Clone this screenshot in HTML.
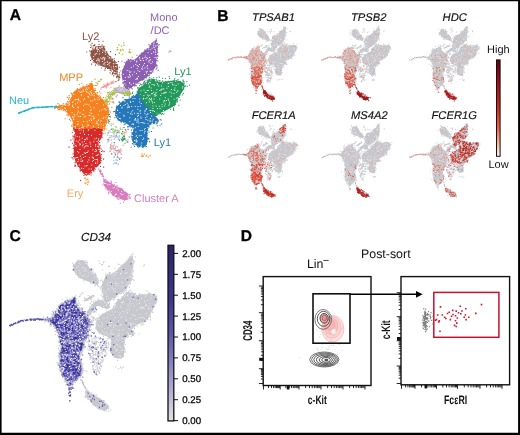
<!DOCTYPE html>
<html><head><meta charset="utf-8"><style>
html,body{margin:0;padding:0;background:#fff;}
body{width:520px;height:435px;overflow:hidden;}
svg{display:block;font-family:"Liberation Sans",sans-serif;will-change:transform;text-rendering:geometricPrecision;}
</style></head><body>
<svg width="520" height="435" viewBox="0 0 520 435">
<defs>
<linearGradient id="gR" x1="0" y1="0" x2="0" y2="1">
<stop offset="0" stop-color="#65000d"/><stop offset="0.25" stop-color="#a50f15"/><stop offset="0.5" stop-color="#d42a20"/><stop offset="0.7" stop-color="#f2603e"/><stop offset="0.86" stop-color="#fbb096"/><stop offset="1" stop-color="#fff5f0"/>
</linearGradient>
<linearGradient id="gP" x1="0" y1="0" x2="0" y2="1">
<stop offset="0" stop-color="#29236f"/><stop offset="0.3" stop-color="#3c358f"/><stop offset="0.5" stop-color="#5c55a9"/><stop offset="0.75" stop-color="#9c97ce"/><stop offset="1" stop-color="#e2e2e4"/>
</linearGradient>
</defs>
<rect x="0" y="0" width="520" height="435" fill="#fff"/>
<!-- Panel A -->
<g id="pA">
<path d="M91.4 50.2 C92 49.2 92.2 47.9 93.6 47.2 C94.9 46.5 97.8 46 99.6 46 C101.3 46 102.8 46.3 104 47.1 C105.1 48 105.2 49.4 106.2 51 C107.3 52.6 109 55.3 110.3 56.8 C111.7 58.3 113.2 58.7 114.4 60.1 C115.6 61.5 117 63.7 117.6 65.3 C118.3 66.9 118.3 68.7 118.2 69.7 C118 70.7 117.8 71.1 116.8 71.1 C115.8 71.1 113.9 70.3 112.2 69.7 C110.5 69.2 108.5 68.5 106.5 67.8 C104.5 67 101.8 66.2 100 65.4 C98.1 64.6 96.7 64.1 95.3 62.9 C93.8 61.7 92.3 59.9 91.4 58.3 C90.5 56.6 89.9 54.4 89.9 53.1 C89.9 51.7 90.8 51.2 91.4 50.2Z" fill="#8f5446"/>
<path d="M110.2 56.5h1.1v1.1h-1.1zM107 67.8h1.1v1.1h-1.1zM116.6 71.1h1.1v1.1h-1.1zM93.1 45.4h1.1v1.1h-1.1zM91.3 46.5h1.1v1.1h-1.1zM94.1 44.9h1.1v1.1h-1.1zM116 62.2h1.1v1.1h-1.1zM98.5 44h1.1v1.1h-1.1zM108.9 68.2h1.1v1.1h-1.1zM112.5 69.2h1.1v1.1h-1.1zM89.9 51h1.1v1.1h-1.1zM90 60h1.1v1.1h-1.1zM100.7 45.7h1.1v1.1h-1.1zM109.5 56h1.1v1.1h-1.1zM103.6 45.9h1.1v1.1h-1.1zM108.1 67.7h1.1v1.1h-1.1zM116.7 71.6h1.1v1.1h-1.1zM91.5 42.8h1.1v1.1h-1.1zM104.8 67.8h1.1v1.1h-1.1zM114.9 54.1h1.1v1.1h-1.1zM116.9 64.2h1.1v1.1h-1.1zM95 64.6h1.1v1.1h-1.1zM106.2 51.2h1.1v1.1h-1.1zM121.6 74.1h1.1v1.1h-1.1zM100.8 67.4h1.1v1.1h-1.1zM89.2 50.3h1.1v1.1h-1.1zM114.9 61.7h1.1v1.1h-1.1zM101.6 44.6h1.1v1.1h-1.1zM90.4 44.6h1.1v1.1h-1.1zM98.2 64.5h1.1v1.1h-1.1zM91.5 58.9h1.1v1.1h-1.1zM104.3 69.6h1.1v1.1h-1.1zM113.9 70.2h1.1v1.1h-1.1zM92.7 61.6h1.1v1.1h-1.1zM118.8 66.7h1.1v1.1h-1.1zM92.8 45h1.1v1.1h-1.1zM109.5 72.3h1.1v1.1h-1.1zM91 63.6h1.1v1.1h-1.1zM113.6 60h1.1v1.1h-1.1zM90 47h1.1v1.1h-1.1zM102.5 40.7h1.1v1.1h-1.1zM93.2 45.3h1.1v1.1h-1.1zM98.3 40.8h1.1v1.1h-1.1zM117.9 61h1.1v1.1h-1.1zM94.3 43.9h1.1v1.1h-1.1zM115.1 70.5h1.1v1.1h-1.1zM94.5 62.1h1.1v1.1h-1.1zM110 51.1h1.1v1.1h-1.1zM113.7 58.2h1.1v1.1h-1.1zM86.2 51.5h1.1v1.1h-1.1zM103 45.7h1.1v1.1h-1.1z" fill="#8f5446"/>
<path d="M102.8 63.7h1v1h-1zM105.1 53.7h1v1h-1zM104.1 59.5h1v1h-1zM105.2 51.8h1v1h-1zM103.8 59.6h1v1h-1zM110.9 68.4h1v1h-1zM101.9 60.9h1v1h-1zM103.7 58.4h1v1h-1zM109 56.9h1v1h-1zM104.5 57.5h1v1h-1zM116 63.1h1v1h-1zM114.2 69.2h1v1h-1zM96.7 59.6h1v1h-1zM116.1 66.6h1v1h-1zM93.3 48.6h1v1h-1zM101.9 47.3h1v1h-1zM96.2 47.3h1v1h-1zM108.3 65.2h1v1h-1zM109.6 62.1h1v1h-1zM101.6 58.5h1v1h-1zM99 50.4h1v1h-1zM98.4 63.7h1v1h-1zM98.8 61.2h1v1h-1zM96.9 46.5h1v1h-1zM93.1 56.1h1v1h-1zM115.2 66.1h1v1h-1zM96.7 49.3h1v1h-1zM101.4 47.3h1v1h-1zM99 59.4h1v1h-1zM93.1 58.8h1v1h-1zM96.1 48.3h1v1h-1zM94 46.8h1v1h-1zM95.1 53.4h1v1h-1zM97.6 58.1h1v1h-1zM94.4 54.2h1v1h-1zM89.9 51.8h1v1h-1zM105 50.3h1v1h-1zM101.6 58h1v1h-1zM103.7 62.8h1v1h-1zM112.9 63.3h1v1h-1zM107.4 55.7h1v1h-1zM99.2 46.9h1v1h-1zM93.1 47.3h1v1h-1zM94 47.6h1v1h-1zM113.2 67.4h1v1h-1zM96.3 52.9h1v1h-1zM102.4 49.5h1v1h-1zM102 52.1h1v1h-1zM116.6 70h1v1h-1zM104.9 51.7h1v1h-1zM100.2 57.4h1v1h-1zM103.6 50.6h1v1h-1zM96.9 47.8h1v1h-1zM100.7 46.6h1v1h-1zM90 53.2h1v1h-1zM96 60.2h1v1h-1zM104.4 64.4h1v1h-1zM108 63.5h1v1h-1zM113 67.9h1v1h-1zM107.1 64h1v1h-1zM104.2 58.2h1v1h-1zM113 65.7h1v1h-1zM112.8 60.2h1v1h-1zM114.6 62.7h1v1h-1zM99.6 48.1h1v1h-1zM113 59.5h1v1h-1zM107.1 61.2h1v1h-1zM108.6 57.8h1v1h-1zM110.6 58.2h1v1h-1zM104.5 62.1h1v1h-1zM96.5 47.4h1v1h-1zM100.2 57.5h1v1h-1zM108.7 64.8h1v1h-1zM106.8 61.7h1v1h-1zM91.6 49.2h1v1h-1zM98 59.8h1v1h-1zM97 62.4h1v1h-1zM109 62.5h1v1h-1zM97.6 58.5h1v1h-1zM102.5 57.2h1v1h-1zM97 50.8h1v1h-1zM103.3 56.8h1v1h-1zM97.9 49h1v1h-1zM99.1 53.5h1v1h-1zM110.6 66.6h1v1h-1z" fill="#fff" fill-opacity="0.9"/>
<path d="M155.8 40.8 C156.6 40.8 156.9 41.7 157.2 43.5 C157.5 45.2 157.7 48.9 157.6 51.3 C157.5 53.6 157 55.4 156.7 57.8 C156.4 60.2 156.4 63.9 155.9 65.8 C155.4 67.8 154.7 68.2 153.7 69.6 C152.6 70.9 151 72.4 149.6 73.9 C148.3 75.4 147.3 77.4 145.4 78.8 C143.6 80.2 140.5 81 138.5 82.2 C136.5 83.5 135 85.1 133.4 86.3 C131.8 87.4 130.1 88.7 128.8 89.1 C127.5 89.5 126.5 90 125.5 88.8 C124.6 87.6 123.5 84.5 122.9 81.8 C122.2 79.1 121.6 75.3 121.8 72.7 C122 70.2 123.1 68.6 124.1 66.5 C125.1 64.4 126.2 61.4 127.9 60.3 C129.6 59.1 132.1 60.6 134.3 59.5 C136.5 58.4 139.1 55.3 141.1 53.7 C143 52 144.5 50.6 145.9 49.7 C147.2 48.7 148.1 49.1 149.2 48 C150.3 46.9 151.4 44.3 152.5 43.1 C153.6 41.9 155 40.7 155.8 40.8Z" fill="#8d5fb3"/>
<path d="M157 55h1.1v1.1h-1.1zM121.3 60.7h1.1v1.1h-1.1zM149.1 76.9h1.1v1.1h-1.1zM136.8 82.3h1.1v1.1h-1.1zM118.6 78.5h1.1v1.1h-1.1zM131.7 88.3h1.1v1.1h-1.1zM158.5 44.1h1.1v1.1h-1.1zM138.9 54.8h1.1v1.1h-1.1zM149.7 46.4h1.1v1.1h-1.1zM149.8 73.2h1.1v1.1h-1.1zM156.4 64.8h1.1v1.1h-1.1zM150.9 43.3h1.1v1.1h-1.1zM136.4 54.7h1.1v1.1h-1.1zM148.4 44.1h1.1v1.1h-1.1zM122.4 82.7h1.1v1.1h-1.1zM156.9 45.9h1.1v1.1h-1.1zM130.7 87.4h1.1v1.1h-1.1zM120.3 70.5h1.1v1.1h-1.1zM158.2 44.7h1.1v1.1h-1.1zM156.4 56.6h1.1v1.1h-1.1zM142.1 79.5h1.1v1.1h-1.1zM127.9 59.1h1.1v1.1h-1.1zM150.8 73h1.1v1.1h-1.1zM148.3 78.5h1.1v1.1h-1.1zM136.3 82.5h1.1v1.1h-1.1zM157.3 60.4h1.1v1.1h-1.1zM146.7 48.1h1.1v1.1h-1.1zM155.6 68.7h1.1v1.1h-1.1zM155.1 40.4h1.1v1.1h-1.1zM156.8 57.9h1.1v1.1h-1.1zM156.7 51.5h1.1v1.1h-1.1zM157.1 51.9h1.1v1.1h-1.1zM150.5 72.5h1.1v1.1h-1.1zM144.4 49.3h1.1v1.1h-1.1zM134.7 85.1h1.1v1.1h-1.1zM123.5 85.7h1.1v1.1h-1.1zM143.1 82.3h1.1v1.1h-1.1zM148.4 74h1.1v1.1h-1.1zM157.5 55.7h1.1v1.1h-1.1zM118.9 72.2h1.1v1.1h-1.1zM156.2 67.8h1.1v1.1h-1.1zM152.3 71.3h1.1v1.1h-1.1zM130.7 86.8h1.1v1.1h-1.1zM140.6 53h1.1v1.1h-1.1zM156.2 42.5h1.1v1.1h-1.1zM124.2 61.7h1.1v1.1h-1.1zM128.3 88.6h1.1v1.1h-1.1zM154.8 40.3h1.1v1.1h-1.1zM149.3 46h1.1v1.1h-1.1zM141.4 52.4h1.1v1.1h-1.1zM151.3 71.4h1.1v1.1h-1.1zM156.2 59.8h1.1v1.1h-1.1zM123.8 65.5h1.1v1.1h-1.1zM126.1 60.8h1.1v1.1h-1.1zM131.3 59.5h1.1v1.1h-1.1zM122.3 81.9h1.1v1.1h-1.1zM131.6 56.7h1.1v1.1h-1.1zM148.1 48h1.1v1.1h-1.1zM147.4 79.5h1.1v1.1h-1.1zM151.3 71.2h1.1v1.1h-1.1zM125 63.6h1.1v1.1h-1.1zM156.9 49.4h1.1v1.1h-1.1zM117.6 79.9h1.1v1.1h-1.1zM157.6 69.8h1.1v1.1h-1.1zM156.1 41.5h1.1v1.1h-1.1zM128.2 90.9h1.1v1.1h-1.1zM122.4 69.4h1.1v1.1h-1.1zM127.9 89.2h1.1v1.1h-1.1zM151.2 70.7h1.1v1.1h-1.1zM124.7 62.2h1.1v1.1h-1.1zM156.8 42.9h1.1v1.1h-1.1zM123.8 66.2h1.1v1.1h-1.1zM150.6 71.3h1.1v1.1h-1.1zM149.2 46.4h1.1v1.1h-1.1zM156.8 44.2h1.1v1.1h-1.1zM133.9 85.3h1.1v1.1h-1.1zM155.3 65.8h1.1v1.1h-1.1zM127.5 59.5h1.1v1.1h-1.1zM156.6 66.5h1.1v1.1h-1.1zM145.7 77.5h1.1v1.1h-1.1zM153 69.4h1.1v1.1h-1.1zM130.1 59h1.1v1.1h-1.1zM150.8 44.8h1.1v1.1h-1.1zM155.9 64.3h1.1v1.1h-1.1zM134.5 84.6h1.1v1.1h-1.1zM151.9 42.6h1.1v1.1h-1.1zM135.9 85.2h1.1v1.1h-1.1zM153.1 41.8h1.1v1.1h-1.1zM157.1 47h1.1v1.1h-1.1zM136.7 82.6h1.1v1.1h-1.1zM144.4 50h1.1v1.1h-1.1zM155.8 38.4h1.1v1.1h-1.1zM144.5 81.8h1.1v1.1h-1.1zM149.6 45.1h1.1v1.1h-1.1zM156.4 44.4h1.1v1.1h-1.1zM138.4 82.6h1.1v1.1h-1.1zM143.8 80.8h1.1v1.1h-1.1zM155.9 39.8h1.1v1.1h-1.1z" fill="#8d5fb3"/>
<path d="M141.2 68.3h1v1h-1zM152.9 45.3h1v1h-1zM135.4 78.9h1v1h-1zM142 57.7h1v1h-1zM148.7 61.7h1v1h-1zM127.6 76.2h1v1h-1zM123 79.9h1v1h-1zM130.4 71.2h1v1h-1zM145.1 55.4h1v1h-1zM126.7 70.1h1v1h-1zM136.8 65.1h1v1h-1zM153.4 46.7h1v1h-1zM129.4 71.9h1v1h-1zM142.2 68.8h1v1h-1zM128.6 70.5h1v1h-1zM154.8 52.1h1v1h-1zM149.3 59.7h1v1h-1zM144.4 67.5h1v1h-1zM133.8 71.5h1v1h-1zM147.6 52.3h1v1h-1zM153.7 42.4h1v1h-1zM140.3 59.9h1v1h-1zM143.1 64.8h1v1h-1zM138 76.1h1v1h-1zM148.1 73.9h1v1h-1zM130.8 67.1h1v1h-1zM136.9 78.4h1v1h-1zM129.1 82.8h1v1h-1zM129.8 76.2h1v1h-1zM133 82.8h1v1h-1zM146.1 72.4h1v1h-1zM152 61.4h1v1h-1zM147.3 67.9h1v1h-1zM153.9 47.3h1v1h-1zM154.6 57h1v1h-1zM122.8 73.8h1v1h-1zM144 74h1v1h-1zM142.4 57.9h1v1h-1zM153.2 43.5h1v1h-1zM155.1 45.5h1v1h-1zM122.5 81.3h1v1h-1zM150.4 70.9h1v1h-1zM150.8 70.8h1v1h-1zM124.8 76.9h1v1h-1zM146.9 58.1h1v1h-1zM136.1 61.4h1v1h-1zM149 57.1h1v1h-1zM146.5 66.3h1v1h-1zM129.1 82h1v1h-1zM124.6 79.9h1v1h-1zM128.5 77.1h1v1h-1zM138.9 64h1v1h-1zM149.8 49.2h1v1h-1zM139 57.1h1v1h-1zM151.1 52.9h1v1h-1zM155.1 54h1v1h-1zM129 74.1h1v1h-1zM149.5 70.6h1v1h-1zM134 59.7h1v1h-1zM135.4 83.3h1v1h-1zM124.4 83.2h1v1h-1zM130.7 83.9h1v1h-1zM139.3 58.6h1v1h-1zM153 51.6h1v1h-1zM137.8 66h1v1h-1zM144.4 57.1h1v1h-1zM147.9 48.5h1v1h-1zM137 77.7h1v1h-1zM132.1 74.3h1v1h-1zM151.5 47.8h1v1h-1zM133 65.5h1v1h-1zM128.1 87.4h1v1h-1zM155.8 45.2h1v1h-1zM139.2 70.9h1v1h-1zM142.9 59.9h1v1h-1zM136.7 68h1v1h-1zM148.1 60.6h1v1h-1zM129.5 75.2h1v1h-1zM145.6 71.3h1v1h-1zM136.3 78.1h1v1h-1zM146.8 70.7h1v1h-1zM130.3 60.8h1v1h-1zM137.6 70.3h1v1h-1zM136 72.9h1v1h-1zM154.6 49.1h1v1h-1zM144.7 77.9h1v1h-1zM135.2 64h1v1h-1zM156.2 42.1h1v1h-1zM141.9 66.4h1v1h-1zM147 65h1v1h-1zM140 60.1h1v1h-1zM155.2 50.4h1v1h-1zM145.8 59.3h1v1h-1zM136.3 60.6h1v1h-1zM146.3 57.3h1v1h-1zM150 59.2h1v1h-1zM144 63h1v1h-1zM155.8 57.4h1v1h-1zM150.5 62.9h1v1h-1z" fill="#fff" fill-opacity="0.9"/>
<path d="M149.4 78.9 C150.5 78.6 151.9 78.5 153.7 79 C155.6 79.4 158.1 81.3 160.7 81.7 C163.2 82 166.4 81.3 169.2 81.1 C171.9 80.9 175.1 80.2 177.3 80.4 C179.5 80.6 181.1 81.3 182.3 82.2 C183.6 83.1 184.5 84.6 184.7 85.8 C184.9 87 184.4 87.7 183.5 89.4 C182.6 91.2 180.7 93.8 179.3 96.3 C177.9 98.8 176.9 102.4 175.3 104.4 C173.8 106.4 171.8 107.2 170 108.3 C168.2 109.4 166.4 110.2 164.6 111.1 C162.8 112 160.7 112.9 159 113.8 C157.2 114.7 156 117.3 154.1 116.6 C152.3 116 150.1 112 148.1 109.9 C146.2 107.8 143.9 106.4 142.2 104 C140.5 101.5 138.5 97.8 137.9 95.3 C137.2 92.8 137.4 90.6 138.3 88.8 C139.2 87.1 141.9 86.3 143.5 85 C145 83.6 146.6 81.8 147.6 80.8 C148.6 79.8 148.4 79.2 149.4 78.9Z" fill="#22995a"/>
<path d="M189 84.7h1.1v1.1h-1.1zM165.1 80.9h1.1v1.1h-1.1zM182.8 92.9h1.1v1.1h-1.1zM183.4 82.6h1.1v1.1h-1.1zM182.8 81.2h1.1v1.1h-1.1zM174.2 78.2h1.1v1.1h-1.1zM145.4 107.5h1.1v1.1h-1.1zM182.6 79.6h1.1v1.1h-1.1zM173 108.6h1.1v1.1h-1.1zM152.7 116.8h1.1v1.1h-1.1zM182.1 94.4h1.1v1.1h-1.1zM136.8 92.5h1.1v1.1h-1.1zM135.6 96.3h1.1v1.1h-1.1zM136.8 102.5h1.1v1.1h-1.1zM136.2 95.4h1.1v1.1h-1.1zM151 78.5h1.1v1.1h-1.1zM143.6 82.8h1.1v1.1h-1.1zM182.5 80.5h1.1v1.1h-1.1zM169 77.9h1.1v1.1h-1.1zM140.4 102h1.1v1.1h-1.1zM168.2 80.7h1.1v1.1h-1.1zM139.7 100.2h1.1v1.1h-1.1zM137.1 87.4h1.1v1.1h-1.1zM132.7 104.3h1.1v1.1h-1.1zM137.5 87.1h1.1v1.1h-1.1zM136.1 94.6h1.1v1.1h-1.1zM148.1 110.3h1.1v1.1h-1.1zM141.5 107.1h1.1v1.1h-1.1zM137.8 88.7h1.1v1.1h-1.1zM186.3 81.1h1.1v1.1h-1.1zM168.6 76.1h1.1v1.1h-1.1zM156.1 79.3h1.1v1.1h-1.1zM167.3 81.1h1.1v1.1h-1.1zM170 108.7h1.1v1.1h-1.1zM137.8 91.3h1.1v1.1h-1.1zM137.8 94.1h1.1v1.1h-1.1zM161.9 113h1.1v1.1h-1.1zM135.9 94.4h1.1v1.1h-1.1zM176.7 100.9h1.1v1.1h-1.1zM158.1 80.2h1.1v1.1h-1.1zM153.5 116.3h1.1v1.1h-1.1zM155.3 117.1h1.1v1.1h-1.1zM141.2 84.5h1.1v1.1h-1.1zM147.1 80.5h1.1v1.1h-1.1zM173.2 109.8h1.1v1.1h-1.1zM153.1 77.2h1.1v1.1h-1.1zM154.1 115.5h1.1v1.1h-1.1zM136.6 91.3h1.1v1.1h-1.1zM171.9 105.6h1.1v1.1h-1.1zM139.6 103h1.1v1.1h-1.1zM178.3 104.7h1.1v1.1h-1.1zM163.3 113.6h1.1v1.1h-1.1zM184.2 86h1.1v1.1h-1.1zM179.7 99.5h1.1v1.1h-1.1zM183.5 83.2h1.1v1.1h-1.1zM145.4 79.7h1.1v1.1h-1.1zM140.4 100.1h1.1v1.1h-1.1zM183.2 88.6h1.1v1.1h-1.1zM158.5 113.3h1.1v1.1h-1.1zM138.1 101.7h1.1v1.1h-1.1zM144.9 108.1h1.1v1.1h-1.1zM164.1 110.2h1.1v1.1h-1.1zM186.7 85.7h1.1v1.1h-1.1zM173.7 79.4h1.1v1.1h-1.1zM156.2 114.9h1.1v1.1h-1.1zM132 103.2h1.1v1.1h-1.1zM156.2 114.5h1.1v1.1h-1.1zM153.6 117.6h1.1v1.1h-1.1zM158 113.2h1.1v1.1h-1.1zM175.9 80.2h1.1v1.1h-1.1zM173.9 105.2h1.1v1.1h-1.1zM161.9 77.7h1.1v1.1h-1.1zM153.5 78.9h1.1v1.1h-1.1zM138.9 85.2h1.1v1.1h-1.1zM179.3 94.6h1.1v1.1h-1.1zM139.9 100.9h1.1v1.1h-1.1zM183.5 81.2h1.1v1.1h-1.1zM175.9 101.1h1.1v1.1h-1.1zM176.3 101.8h1.1v1.1h-1.1zM140.6 83.9h1.1v1.1h-1.1zM161.2 114.2h1.1v1.1h-1.1zM164.9 78h1.1v1.1h-1.1zM159.9 112.8h1.1v1.1h-1.1zM174.8 103.9h1.1v1.1h-1.1zM178.8 97h1.1v1.1h-1.1zM142.6 83.6h1.1v1.1h-1.1zM173 107.6h1.1v1.1h-1.1zM162 80.6h1.1v1.1h-1.1zM177.4 79h1.1v1.1h-1.1zM148.6 74.8h1.1v1.1h-1.1zM148.6 111.3h1.1v1.1h-1.1zM141.8 78.3h1.1v1.1h-1.1zM137.5 90.8h1.1v1.1h-1.1zM151 78.8h1.1v1.1h-1.1zM179.7 81.1h1.1v1.1h-1.1zM173.8 79.6h1.1v1.1h-1.1zM141.5 102.3h1.1v1.1h-1.1zM137.4 92.4h1.1v1.1h-1.1zM159.3 79.9h1.1v1.1h-1.1zM146.2 108.9h1.1v1.1h-1.1zM139.9 83.6h1.1v1.1h-1.1zM143.9 80.9h1.1v1.1h-1.1zM148.1 75.1h1.1v1.1h-1.1zM151.1 116.4h1.1v1.1h-1.1zM158.7 76.6h1.1v1.1h-1.1zM144.7 106.6h1.1v1.1h-1.1zM132.1 91.6h1.1v1.1h-1.1zM156.2 77.2h1.1v1.1h-1.1zM160.6 113.5h1.1v1.1h-1.1zM149.5 111.9h1.1v1.1h-1.1zM139.3 99.2h1.1v1.1h-1.1zM152.3 114.9h1.1v1.1h-1.1zM176.7 100.6h1.1v1.1h-1.1zM136.9 102.4h1.1v1.1h-1.1zM138 101.7h1.1v1.1h-1.1zM185 85.5h1.1v1.1h-1.1z" fill="#22995a"/>
<path d="M150.2 98.9h1v1h-1zM149.1 98h1v1h-1zM150.9 90h1v1h-1zM167.7 83h1v1h-1zM161.5 88.6h1v1h-1zM159.2 98.6h1v1h-1zM143.5 89.5h1v1h-1zM156.4 89.3h1v1h-1zM148.8 81.8h1v1h-1zM163 110.1h1v1h-1zM166 99.9h1v1h-1zM167.8 86h1v1h-1zM170.7 95.8h1v1h-1zM163.1 101.5h1v1h-1zM159.4 90.1h1v1h-1zM148.7 86.8h1v1h-1zM161.4 92.9h1v1h-1zM153.9 110.9h1v1h-1zM148.6 99.4h1v1h-1zM160.4 89.2h1v1h-1zM173.5 84.4h1v1h-1zM158 80.8h1v1h-1zM155.6 95h1v1h-1zM171.8 82.6h1v1h-1zM172 84.3h1v1h-1zM153.2 91.7h1v1h-1zM169 101.7h1v1h-1zM161.6 106.3h1v1h-1zM159.6 108h1v1h-1zM164.8 97.2h1v1h-1zM157 108h1v1h-1zM155.2 95.5h1v1h-1zM158.8 105.7h1v1h-1zM151.1 93.2h1v1h-1zM163.4 92.9h1v1h-1zM152.5 108.1h1v1h-1zM177.2 97.3h1v1h-1zM158.2 85.4h1v1h-1zM151.6 83.9h1v1h-1zM164.3 100.4h1v1h-1zM152.6 110.2h1v1h-1zM147 94.5h1v1h-1zM173.6 98.7h1v1h-1zM161.6 104.3h1v1h-1zM155.6 91.9h1v1h-1zM165.2 91.7h1v1h-1zM162 82.2h1v1h-1zM154.9 93.5h1v1h-1zM163.7 100.1h1v1h-1zM160.2 95h1v1h-1zM153.5 98.4h1v1h-1zM175.6 84.9h1v1h-1zM176.1 97.8h1v1h-1zM157.1 84.3h1v1h-1zM151 97.7h1v1h-1zM161 85.5h1v1h-1zM145.9 102.2h1v1h-1zM165.6 91.8h1v1h-1zM139.4 93.9h1v1h-1zM174.3 90h1v1h-1zM151.7 110.2h1v1h-1zM164.8 103.6h1v1h-1zM146.6 97.2h1v1h-1zM163.3 88.5h1v1h-1zM167.7 98.5h1v1h-1zM156.6 83h1v1h-1zM145.4 98.1h1v1h-1zM175.9 101.5h1v1h-1zM175.2 80.8h1v1h-1zM152.5 105.4h1v1h-1zM154 84.8h1v1h-1zM149.9 82.2h1v1h-1zM153.7 95.4h1v1h-1zM155.5 80.5h1v1h-1zM166.4 87.8h1v1h-1zM177.4 90.3h1v1h-1zM151.6 101.1h1v1h-1zM181.9 87.6h1v1h-1zM155.6 105.5h1v1h-1zM147.8 90.1h1v1h-1zM174.5 87.6h1v1h-1zM145.5 91.9h1v1h-1zM151 99.6h1v1h-1zM142.8 98.6h1v1h-1zM155.4 93.6h1v1h-1zM176.1 91.7h1v1h-1zM148.9 85.6h1v1h-1zM150.7 87.4h1v1h-1zM153.4 84.3h1v1h-1zM170.4 81.9h1v1h-1zM150 109.9h1v1h-1zM143.4 95.1h1v1h-1zM144.8 91.7h1v1h-1zM171.2 92.6h1v1h-1zM182.3 86.3h1v1h-1zM148 95.5h1v1h-1zM143.5 105.1h1v1h-1zM164.9 92.3h1v1h-1zM148.9 101.4h1v1h-1zM143.1 97.8h1v1h-1zM162.8 88.6h1v1h-1zM173.5 92.9h1v1h-1zM168.2 99.8h1v1h-1zM151.9 93.1h1v1h-1zM177.2 90.5h1v1h-1zM168.4 82.5h1v1h-1zM163.7 92.1h1v1h-1zM160.8 89.6h1v1h-1zM140.5 90.2h1v1h-1zM148 83.2h1v1h-1zM171 89.1h1v1h-1zM156.3 112.7h1v1h-1zM177.7 83.4h1v1h-1zM150.3 79.6h1v1h-1zM169.2 103.4h1v1h-1zM153.8 94h1v1h-1zM168.3 104.8h1v1h-1zM149 110.3h1v1h-1zM153.9 102.1h1v1h-1zM145.9 82.8h1v1h-1zM146.7 89.9h1v1h-1zM155.2 79.9h1v1h-1zM152 102.5h1v1h-1zM164.1 105.4h1v1h-1zM149.3 94.8h1v1h-1zM169.4 91.6h1v1h-1zM173.8 89.2h1v1h-1z" fill="#fff" fill-opacity="0.9"/>
<path d="M116.1 107.8 C116.9 105.8 118.5 104.6 119.9 103.4 C121.3 102.1 122.8 101.2 124.5 100.3 C126.2 99.4 128.4 98.7 130.2 97.9 C131.9 97.1 133.6 96.2 135 95.5 C136.3 94.8 137.3 93.1 138.3 93.8 C139.3 94.6 139.5 97.6 141 100 C142.6 102.4 145.7 105.6 147.6 108.1 C149.5 110.5 150.6 112.6 152.4 114.6 C154.3 116.6 157.8 118.4 158.6 119.8 C159.4 121.2 158.6 122.2 157.4 122.9 C156.1 123.5 152.6 122.2 151 123.7 C149.3 125.1 148 128.9 147.4 131.5 C146.8 134.2 147.6 137.3 147.4 139.6 C147.2 141.9 147.2 144.3 146.1 145.6 C144.9 146.8 142.2 147.2 140.3 146.9 C138.4 146.6 135.9 145.4 134.4 143.9 C133 142.4 131.7 140.3 131.5 138 C131.3 135.6 133.7 132.1 133.1 129.8 C132.5 127.6 130.1 125.9 127.9 124.5 C125.7 123 121.9 122.8 119.8 121.3 C117.8 119.8 116 117.6 115.4 115.4 C114.7 113.1 115.4 109.8 116.1 107.8Z" fill="#2677b9"/>
<path d="M119.8 102.5h1.1v1.1h-1.1zM145.6 143.7h1.1v1.1h-1.1zM143 101.9h1.1v1.1h-1.1zM131.5 132.8h1.1v1.1h-1.1zM117.4 119.4h1.1v1.1h-1.1zM125.6 99h1.1v1.1h-1.1zM159.7 119.2h1.1v1.1h-1.1zM128.8 125.6h1.1v1.1h-1.1zM124.2 94.9h1.1v1.1h-1.1zM156.8 122.6h1.1v1.1h-1.1zM133.9 146h1.1v1.1h-1.1zM127.5 126h1.1v1.1h-1.1zM152.6 123.2h1.1v1.1h-1.1zM133.3 142.5h1.1v1.1h-1.1zM148.5 131.6h1.1v1.1h-1.1zM131.3 96.3h1.1v1.1h-1.1zM120.3 102.5h1.1v1.1h-1.1zM130.8 129.6h1.1v1.1h-1.1zM146.6 134.6h1.1v1.1h-1.1zM142.3 146.8h1.1v1.1h-1.1zM142.9 103.3h1.1v1.1h-1.1zM154.8 115.1h1.1v1.1h-1.1zM139.5 96.7h1.1v1.1h-1.1zM132 92.9h1.1v1.1h-1.1zM137 145.7h1.1v1.1h-1.1zM142.4 100.6h1.1v1.1h-1.1zM153.2 122.9h1.1v1.1h-1.1zM153.1 114.3h1.1v1.1h-1.1zM120.4 121.4h1.1v1.1h-1.1zM147.5 137.8h1.1v1.1h-1.1zM130.4 126.7h1.1v1.1h-1.1zM131.5 134.2h1.1v1.1h-1.1zM137.8 146.6h1.1v1.1h-1.1zM156.8 125.2h1.1v1.1h-1.1zM127.4 126.7h1.1v1.1h-1.1zM147.9 106.5h1.1v1.1h-1.1zM139.8 97.5h1.1v1.1h-1.1zM148.7 103.3h1.1v1.1h-1.1zM133.4 144.3h1.1v1.1h-1.1zM128.6 96.4h1.1v1.1h-1.1zM150.1 124.1h1.1v1.1h-1.1zM137 93.5h1.1v1.1h-1.1zM116.1 105.6h1.1v1.1h-1.1zM130.8 135.7h1.1v1.1h-1.1zM131.9 143.1h1.1v1.1h-1.1zM147.1 138.3h1.1v1.1h-1.1zM148.4 126.6h1.1v1.1h-1.1zM138.7 93.9h1.1v1.1h-1.1zM116.4 106.2h1.1v1.1h-1.1zM140.5 146h1.1v1.1h-1.1zM109.8 116.1h1.1v1.1h-1.1zM143.9 102.2h1.1v1.1h-1.1zM132.8 95h1.1v1.1h-1.1zM131.5 132.1h1.1v1.1h-1.1zM147.9 108h1.1v1.1h-1.1zM141.6 146.4h1.1v1.1h-1.1zM114.3 117.2h1.1v1.1h-1.1zM132 132.3h1.1v1.1h-1.1zM131.3 137.1h1.1v1.1h-1.1zM138 93.8h1.1v1.1h-1.1zM150.8 110.9h1.1v1.1h-1.1zM148.4 138.7h1.1v1.1h-1.1zM127.3 126.3h1.1v1.1h-1.1zM118.5 101.3h1.1v1.1h-1.1zM143 146.1h1.1v1.1h-1.1zM133.1 142.3h1.1v1.1h-1.1zM115.1 115h1.1v1.1h-1.1zM150.9 131h1.1v1.1h-1.1zM147.8 109h1.1v1.1h-1.1zM124.1 98.9h1.1v1.1h-1.1zM136.2 93.9h1.1v1.1h-1.1zM112.9 111.2h1.1v1.1h-1.1zM118.8 102.1h1.1v1.1h-1.1zM138.6 94.4h1.1v1.1h-1.1zM115.9 107.1h1.1v1.1h-1.1zM123.7 124.2h1.1v1.1h-1.1zM161.1 123.3h1.1v1.1h-1.1zM138.8 146.2h1.1v1.1h-1.1zM156.2 122.4h1.1v1.1h-1.1zM155.6 123.5h1.1v1.1h-1.1zM129.3 125.5h1.1v1.1h-1.1zM135.8 94h1.1v1.1h-1.1zM153.9 122.7h1.1v1.1h-1.1zM156.1 113.2h1.1v1.1h-1.1zM125.5 99.5h1.1v1.1h-1.1zM150.2 123.3h1.1v1.1h-1.1zM118.8 119.8h1.1v1.1h-1.1zM113.9 111h1.1v1.1h-1.1zM144.5 146.2h1.1v1.1h-1.1zM122.3 100.8h1.1v1.1h-1.1zM145.9 145.9h1.1v1.1h-1.1zM146.8 138.6h1.1v1.1h-1.1zM152.6 127.5h1.1v1.1h-1.1zM147.7 108.4h1.1v1.1h-1.1zM120.7 121.4h1.1v1.1h-1.1zM138.8 93h1.1v1.1h-1.1zM159.5 124.7h1.1v1.1h-1.1zM138.9 146h1.1v1.1h-1.1zM146.8 140.7h1.1v1.1h-1.1zM146.8 132.8h1.1v1.1h-1.1zM160.7 119.4h1.1v1.1h-1.1zM138 92.9h1.1v1.1h-1.1zM148.1 138.2h1.1v1.1h-1.1zM124.6 123.3h1.1v1.1h-1.1zM126.9 99h1.1v1.1h-1.1zM143.1 102.5h1.1v1.1h-1.1zM149.1 141.1h1.1v1.1h-1.1zM147 138.7h1.1v1.1h-1.1zM147.3 129.8h1.1v1.1h-1.1zM124.8 99.3h1.1v1.1h-1.1zM122.4 97.1h1.1v1.1h-1.1zM124.7 123h1.1v1.1h-1.1zM132.6 140.3h1.1v1.1h-1.1zM128.9 96.5h1.1v1.1h-1.1zM130.6 146.7h1.1v1.1h-1.1zM128.8 125h1.1v1.1h-1.1zM136.8 93.2h1.1v1.1h-1.1zM147 137.6h1.1v1.1h-1.1zM132.3 96.1h1.1v1.1h-1.1z" fill="#2677b9"/>
<path d="M126.7 102.8h1v1h-1zM132.5 122.9h1v1h-1zM144.6 128h1v1h-1zM138.4 122.5h1v1h-1zM132.2 110.2h1v1h-1zM131.6 113.8h1v1h-1zM132.6 100.9h1v1h-1zM141.2 142.5h1v1h-1zM131.2 106.1h1v1h-1zM144.9 110.6h1v1h-1zM142.8 122.5h1v1h-1zM151.8 120.4h1v1h-1zM140.5 146.1h1v1h-1zM147 113.5h1v1h-1zM145.7 114.2h1v1h-1zM137.6 125.9h1v1h-1zM144.2 110.4h1v1h-1zM142.1 122.2h1v1h-1zM135.4 131.6h1v1h-1zM137.5 118.6h1v1h-1zM124.4 100.9h1v1h-1zM155 121.4h1v1h-1zM137.5 121.3h1v1h-1zM134.8 127.3h1v1h-1zM131.4 137.5h1v1h-1zM121.5 106.7h1v1h-1zM119.3 112.3h1v1h-1zM149.6 121h1v1h-1zM134.5 98h1v1h-1zM144.9 117.2h1v1h-1zM135.6 135.7h1v1h-1zM144.3 112.8h1v1h-1zM137.4 106h1v1h-1zM130.9 111.4h1v1h-1zM145.9 107.9h1v1h-1zM128.9 106.2h1v1h-1zM142.4 138.9h1v1h-1zM123.6 115.8h1v1h-1zM134 112.8h1v1h-1zM145.7 109h1v1h-1zM132.5 127.7h1v1h-1zM150 112.1h1v1h-1zM131.5 124.1h1v1h-1zM147.6 113.5h1v1h-1zM137.6 119.7h1v1h-1zM134.9 117.9h1v1h-1zM151.2 115.4h1v1h-1zM135.4 140.6h1v1h-1zM133.9 119.4h1v1h-1zM137 137.1h1v1h-1zM143.9 132.6h1v1h-1zM144.3 122.7h1v1h-1zM120 105.1h1v1h-1zM147.5 123.3h1v1h-1zM145.6 119h1v1h-1zM133 124.3h1v1h-1zM129.3 120.9h1v1h-1zM126.8 107.3h1v1h-1zM128.4 106.9h1v1h-1zM152 122.8h1v1h-1zM137 115.7h1v1h-1zM117.1 109.5h1v1h-1zM138.1 113.2h1v1h-1zM135 119.3h1v1h-1zM140.1 112.8h1v1h-1zM117.1 110h1v1h-1zM137.9 115.1h1v1h-1zM139.3 110.5h1v1h-1zM149.6 124.8h1v1h-1zM134.5 143h1v1h-1zM134.1 139.9h1v1h-1zM117.4 116.4h1v1h-1zM140.7 102.9h1v1h-1zM149.5 119.8h1v1h-1zM144 129.2h1v1h-1zM127.6 104.6h1v1h-1zM132.8 128.3h1v1h-1zM127.6 105.7h1v1h-1zM140.1 110.3h1v1h-1zM139.1 101.5h1v1h-1zM131.3 127.4h1v1h-1zM124.5 122.3h1v1h-1zM118.9 118h1v1h-1zM146.4 116.2h1v1h-1zM155.5 121.3h1v1h-1zM127.5 111.8h1v1h-1zM147.3 119.7h1v1h-1zM135.8 139.2h1v1h-1zM140.7 122h1v1h-1zM140.8 144.7h1v1h-1zM129.3 117.2h1v1h-1zM139.1 98.4h1v1h-1zM138.7 135.2h1v1h-1zM140.6 117.8h1v1h-1zM130.1 113.2h1v1h-1zM152.7 118.8h1v1h-1zM136.3 121.8h1v1h-1zM120 118.2h1v1h-1zM122 121.8h1v1h-1zM136.8 112.8h1v1h-1zM123.4 114.8h1v1h-1zM123.7 100.1h1v1h-1zM136.6 140.6h1v1h-1zM136 135.3h1v1h-1zM139.6 129.9h1v1h-1zM121.5 107.4h1v1h-1zM116.2 114.2h1v1h-1zM137.3 108.8h1v1h-1zM139.9 105.8h1v1h-1zM140.6 135h1v1h-1zM141.6 130.1h1v1h-1zM149.9 117.9h1v1h-1zM132.5 98h1v1h-1zM129.8 100.8h1v1h-1zM123.5 105h1v1h-1zM135.6 119.7h1v1h-1zM147.4 127.1h1v1h-1zM130 102h1v1h-1zM140.4 116.5h1v1h-1zM156.4 121.6h1v1h-1zM124.9 103.9h1v1h-1zM134.7 105.9h1v1h-1zM136.2 141.5h1v1h-1zM144.5 131.1h1v1h-1zM131.8 134.9h1v1h-1zM132.5 98h1v1h-1zM143.1 137.7h1v1h-1z" fill="#fff" fill-opacity="0.9"/>
<path d="M55.7 106.7 C56.2 106.3 58.1 106.1 59.9 105.7 C61.8 105.2 64.7 105.5 66.6 103.9 C68.6 102.4 70.3 98.5 71.7 96.4 C73 94.2 73.2 92.4 74.7 91 C76.3 89.5 78.6 89 81 87.9 C83.3 86.9 87.1 85.5 88.9 84.7 C90.8 83.9 91.3 82 92.2 83 C93.1 84 93.4 88.7 94.3 90.7 C95.2 92.7 96.2 93.5 97.7 94.9 C99.1 96.3 101.3 97.5 102.8 99.1 C104.4 100.7 105.7 102.4 106.7 104.4 C107.7 106.4 108.9 108.7 109.1 111.1 C109.3 113.5 108.5 115.8 107.6 118.8 C106.8 121.7 106.3 127 104 128.8 C101.6 130.6 97.1 129.5 93.5 129.6 C89.9 129.7 85.3 129.1 82.2 129.1 C79 129.1 76.2 131.1 74.6 129.8 C73 128.5 73.6 123.9 72.5 121.3 C71.5 118.8 69.9 116.6 68.4 114.6 C66.9 112.7 65.3 110.7 63.3 109.6 C61.4 108.5 58.2 108.6 56.9 108.1 C55.6 107.6 55.1 107.1 55.7 106.7Z" fill="#f5821f"/>
<path d="M93.9 90.1h1.1v1.1h-1.1zM72.2 123.7h1.1v1.1h-1.1zM54.9 105.7h1.1v1.1h-1.1zM55.8 105.3h1.1v1.1h-1.1zM73.3 128.3h1.1v1.1h-1.1zM105.5 128.3h1.1v1.1h-1.1zM94.7 88.2h1.1v1.1h-1.1zM95 92.4h1.1v1.1h-1.1zM103.8 129.3h1.1v1.1h-1.1zM67 101.1h1.1v1.1h-1.1zM91.5 135h1.1v1.1h-1.1zM95.8 129.1h1.1v1.1h-1.1zM68.7 95.1h1.1v1.1h-1.1zM61.4 104.8h1.1v1.1h-1.1zM76.8 88.9h1.1v1.1h-1.1zM59 109.1h1.1v1.1h-1.1zM82.1 86.7h1.1v1.1h-1.1zM103.9 128h1.1v1.1h-1.1zM100.1 97h1.1v1.1h-1.1zM57.7 109.1h1.1v1.1h-1.1zM54.5 107.8h1.1v1.1h-1.1zM71.4 126h1.1v1.1h-1.1zM107.8 115h1.1v1.1h-1.1zM75.7 90.3h1.1v1.1h-1.1zM106.4 104.2h1.1v1.1h-1.1zM86.2 84h1.1v1.1h-1.1zM68 98.8h1.1v1.1h-1.1zM70.1 120.2h1.1v1.1h-1.1zM100.3 92.7h1.1v1.1h-1.1zM67.4 115.5h1.1v1.1h-1.1zM66 102.7h1.1v1.1h-1.1zM106.7 102h1.1v1.1h-1.1zM97 92.1h1.1v1.1h-1.1zM101 129h1.1v1.1h-1.1zM108 114.4h1.1v1.1h-1.1zM66.4 114.1h1.1v1.1h-1.1zM96.8 92.5h1.1v1.1h-1.1zM57.5 103.1h1.1v1.1h-1.1zM93.4 131h1.1v1.1h-1.1zM106.9 102.5h1.1v1.1h-1.1zM64.6 118.2h1.1v1.1h-1.1zM81.6 128.7h1.1v1.1h-1.1zM93.4 88.6h1.1v1.1h-1.1zM60.9 108.8h1.1v1.1h-1.1zM72 93.7h1.1v1.1h-1.1zM105.7 122.7h1.1v1.1h-1.1zM100 96.2h1.1v1.1h-1.1zM99.2 129.4h1.1v1.1h-1.1zM79.8 131.3h1.1v1.1h-1.1zM109.5 119h1.1v1.1h-1.1zM57.3 108h1.1v1.1h-1.1zM72.7 129.8h1.1v1.1h-1.1zM98.8 94.7h1.1v1.1h-1.1zM88.3 128.2h1.1v1.1h-1.1zM91.3 80.9h1.1v1.1h-1.1zM105.6 122.1h1.1v1.1h-1.1zM74.3 130h1.1v1.1h-1.1zM71.3 93.1h1.1v1.1h-1.1zM68.9 118.8h1.1v1.1h-1.1zM83.5 128.3h1.1v1.1h-1.1zM93.2 84.7h1.1v1.1h-1.1zM94.5 78.6h1.1v1.1h-1.1zM59.5 108.4h1.1v1.1h-1.1zM76.8 87.9h1.1v1.1h-1.1zM62.7 109.6h1.1v1.1h-1.1zM94.9 84.9h1.1v1.1h-1.1zM66.8 96.8h1.1v1.1h-1.1zM99.8 97h1.1v1.1h-1.1zM59.9 108.2h1.1v1.1h-1.1zM78.8 84h1.1v1.1h-1.1zM105.8 103.2h1.1v1.1h-1.1zM99.6 128.7h1.1v1.1h-1.1zM95.6 82h1.1v1.1h-1.1zM80.8 130.9h1.1v1.1h-1.1zM107.8 120.6h1.1v1.1h-1.1zM80.9 128.8h1.1v1.1h-1.1zM98.8 91.2h1.1v1.1h-1.1zM109.6 116.3h1.1v1.1h-1.1zM102.2 129.7h1.1v1.1h-1.1zM77.8 131.2h1.1v1.1h-1.1zM72.8 125.5h1.1v1.1h-1.1zM95.3 92.3h1.1v1.1h-1.1zM89.1 83.2h1.1v1.1h-1.1zM62.7 103.2h1.1v1.1h-1.1zM80.9 128.2h1.1v1.1h-1.1zM104.9 97.2h1.1v1.1h-1.1zM68.7 96.9h1.1v1.1h-1.1zM99 129.2h1.1v1.1h-1.1zM101.6 129.6h1.1v1.1h-1.1zM77.4 129.2h1.1v1.1h-1.1zM63.3 110.2h1.1v1.1h-1.1zM95 89.8h1.1v1.1h-1.1zM73.5 128.9h1.1v1.1h-1.1zM76.6 88.9h1.1v1.1h-1.1zM107.6 115.6h1.1v1.1h-1.1zM95.3 129.7h1.1v1.1h-1.1zM71.6 94.6h1.1v1.1h-1.1zM65.3 103.5h1.1v1.1h-1.1zM109.8 111.6h1.1v1.1h-1.1zM95.1 128.6h1.1v1.1h-1.1zM102.9 96.9h1.1v1.1h-1.1zM90 83.6h1.1v1.1h-1.1zM75.1 130h1.1v1.1h-1.1zM73.2 92.3h1.1v1.1h-1.1zM81.1 130h1.1v1.1h-1.1zM67.9 114.3h1.1v1.1h-1.1zM82.9 134.5h1.1v1.1h-1.1zM98.2 129.1h1.1v1.1h-1.1zM71.8 95.2h1.1v1.1h-1.1zM90.3 133.5h1.1v1.1h-1.1zM90.1 83.2h1.1v1.1h-1.1zM104.3 126.5h1.1v1.1h-1.1zM89.9 83.2h1.1v1.1h-1.1zM82.6 85.9h1.1v1.1h-1.1zM93.3 128.9h1.1v1.1h-1.1zM73.9 129h1.1v1.1h-1.1zM90.3 131.6h1.1v1.1h-1.1zM71.1 124.7h1.1v1.1h-1.1zM54.7 106h1.1v1.1h-1.1zM70.6 92.8h1.1v1.1h-1.1zM63.3 103.5h1.1v1.1h-1.1zM106.8 119.2h1.1v1.1h-1.1zM60.8 104.9h1.1v1.1h-1.1zM68.4 97.4h1.1v1.1h-1.1zM102.1 130h1.1v1.1h-1.1zM96.3 85h1.1v1.1h-1.1zM81.3 82.7h1.1v1.1h-1.1zM80.5 87.2h1.1v1.1h-1.1zM73.5 127.8h1.1v1.1h-1.1zM59.4 104.6h1.1v1.1h-1.1zM58.7 104.8h1.1v1.1h-1.1zM104.5 99.3h1.1v1.1h-1.1zM104.6 132.7h1.1v1.1h-1.1zM104.9 123.7h1.1v1.1h-1.1zM107.8 112.8h1.1v1.1h-1.1zM82.6 85.5h1.1v1.1h-1.1zM54.6 106.4h1.1v1.1h-1.1zM58.8 108.9h1.1v1.1h-1.1zM53.9 108h1.1v1.1h-1.1zM107.2 107.5h1.1v1.1h-1.1zM109 103.3h1.1v1.1h-1.1zM88.3 128.3h1.1v1.1h-1.1z" fill="#f5821f"/>
<path d="M86.3 126.4h1v1h-1zM76.6 114.3h1v1h-1zM67.6 104.8h1v1h-1zM82.5 126.9h1v1h-1zM88.4 92.6h1v1h-1zM72.4 101.6h1v1h-1zM73.5 113.8h1v1h-1zM68.9 103.8h1v1h-1zM85.2 115.8h1v1h-1zM83.1 109.7h1v1h-1zM86.5 103.7h1v1h-1zM77 124.1h1v1h-1zM90.5 122.7h1v1h-1zM77.6 107.3h1v1h-1zM100.5 120.3h1v1h-1zM90.1 106.5h1v1h-1zM90.3 109.9h1v1h-1zM98 124.5h1v1h-1zM85.6 91h1v1h-1zM92.2 94.5h1v1h-1zM83.2 114.2h1v1h-1zM88.5 104.6h1v1h-1zM91.1 119.9h1v1h-1zM91.4 115.7h1v1h-1zM89.8 91h1v1h-1zM106.4 119.3h1v1h-1zM67.6 102.7h1v1h-1zM77 127.5h1v1h-1zM94.5 99.3h1v1h-1zM90.6 118.4h1v1h-1zM76.9 102.2h1v1h-1zM105.5 109.5h1v1h-1zM74.2 115.5h1v1h-1zM78.5 90.7h1v1h-1zM91.3 90.1h1v1h-1zM74.9 127.5h1v1h-1zM96.1 121.6h1v1h-1zM89.5 112.2h1v1h-1zM92.8 127.7h1v1h-1zM99.1 110.6h1v1h-1zM100.6 123.4h1v1h-1zM86.6 91.8h1v1h-1zM93.9 95.3h1v1h-1zM69.3 115.8h1v1h-1zM73.1 106.9h1v1h-1zM72.3 102h1v1h-1zM80.8 94.6h1v1h-1zM88.5 115.1h1v1h-1zM94.1 98.5h1v1h-1zM81.4 91.3h1v1h-1zM104.8 108.7h1v1h-1zM92.2 100.5h1v1h-1zM93.5 93.3h1v1h-1zM97.8 120h1v1h-1zM98.1 119.5h1v1h-1zM90.6 108.9h1v1h-1zM86.3 87.6h1v1h-1zM89 93.8h1v1h-1zM69 102.3h1v1h-1zM83.7 116.4h1v1h-1zM89.4 114.8h1v1h-1zM88 124.7h1v1h-1zM90.6 94.7h1v1h-1zM96.4 121.2h1v1h-1zM93.4 127.3h1v1h-1zM97.6 97h1v1h-1zM72 116.2h1v1h-1zM82.6 89.6h1v1h-1zM105 123.5h1v1h-1zM79.8 91.8h1v1h-1zM61.6 106.2h1v1h-1zM83 99.5h1v1h-1zM93.5 107.3h1v1h-1zM81 94.3h1v1h-1zM90.9 92.9h1v1h-1zM72.2 104.8h1v1h-1zM93.2 118.5h1v1h-1zM75 103.4h1v1h-1zM88.2 87.4h1v1h-1zM79.5 112.3h1v1h-1zM88.3 96.6h1v1h-1zM96.4 103h1v1h-1zM63.9 107.4h1v1h-1zM77.9 98.3h1v1h-1zM102.8 124.8h1v1h-1zM80.4 127.2h1v1h-1zM87.4 96h1v1h-1zM80 116h1v1h-1zM73.3 94.1h1v1h-1zM68.8 104.5h1v1h-1zM100.8 97.5h1v1h-1zM77.5 120.9h1v1h-1zM101.3 109.4h1v1h-1zM87.6 124.6h1v1h-1zM100.5 120.8h1v1h-1zM69.4 99.6h1v1h-1zM75.2 99h1v1h-1zM77.1 112.3h1v1h-1zM102.6 117.9h1v1h-1zM94.1 117.8h1v1h-1zM90.2 100.3h1v1h-1zM84 98.3h1v1h-1zM99 98.7h1v1h-1zM100.3 122.2h1v1h-1zM105.3 117.3h1v1h-1zM91.3 113h1v1h-1zM84.4 103.8h1v1h-1zM73.3 119.1h1v1h-1zM97 123.2h1v1h-1zM94.8 91.8h1v1h-1zM79.9 101.3h1v1h-1zM98.1 127.1h1v1h-1zM71.7 112.1h1v1h-1zM103 104.5h1v1h-1zM103.3 116.8h1v1h-1zM85.8 87.5h1v1h-1zM86.6 121.3h1v1h-1zM82.9 105.2h1v1h-1zM77.4 123.7h1v1h-1zM90.7 92.2h1v1h-1zM74.5 99.5h1v1h-1zM106.4 115.1h1v1h-1zM78.3 116.1h1v1h-1zM83.2 120.9h1v1h-1zM97.3 99.2h1v1h-1zM78.3 100.3h1v1h-1zM93.1 126h1v1h-1zM72.7 116.8h1v1h-1zM65.1 108.1h1v1h-1zM81.9 113.8h1v1h-1zM103.8 108.3h1v1h-1zM95.8 123.1h1v1h-1zM74.5 125.7h1v1h-1zM82 124.5h1v1h-1zM103.3 127.2h1v1h-1zM82.5 126.1h1v1h-1zM85.1 89.2h1v1h-1zM88.9 120.1h1v1h-1zM77.8 110.7h1v1h-1zM77.6 106.5h1v1h-1zM93.5 117.5h1v1h-1zM82.8 90.7h1v1h-1zM87.4 124.8h1v1h-1zM66 109.9h1v1h-1zM93.7 117.6h1v1h-1zM93.2 115.7h1v1h-1zM105.6 103.2h1v1h-1zM97.8 114.2h1v1h-1zM73.1 118.4h1v1h-1zM88.2 96.7h1v1h-1zM72 106.1h1v1h-1zM65 105h1v1h-1zM78.7 128h1v1h-1zM81.2 126.7h1v1h-1zM80.4 91.8h1v1h-1zM86.8 89.3h1v1h-1zM92.6 127.7h1v1h-1zM76.7 99.1h1v1h-1zM77.9 99h1v1h-1z" fill="#fff" fill-opacity="0.9"/>
<path d="M73.7 129 C75.3 128.9 79.7 129.1 84.1 129.1 C88.5 129.1 96.9 128.9 100 129.1 C103.1 129.3 102.3 128.8 102.6 130.1 C102.9 131.5 102.6 135.1 101.7 137.4 C100.9 139.7 98.1 141.7 97.7 144 C97.3 146.2 98.8 148.4 99.3 150.8 C99.9 153.2 100.8 156.4 100.9 158.6 C101 160.8 100.6 162.4 99.7 164.1 C98.8 165.7 97 166.9 95.4 168.3 C93.8 169.8 91.4 171.6 89.9 172.8 C88.5 174 87.9 175.2 86.9 175.4 C85.8 175.6 84.7 174.9 83.6 173.8 C82.5 172.7 81.4 170.7 80.2 169 C79.1 167.3 77.8 165.5 76.8 163.6 C75.8 161.7 74.9 159.7 74.4 157.8 C73.9 155.9 73.9 154.4 73.8 152.2 C73.7 149.9 73.5 146.9 73.8 144.2 C74.1 141.5 75.3 138.6 75.4 136.1 C75.5 133.7 74.8 130.6 74.5 129.4 C74.3 128.2 72.1 129 73.7 129Z" fill="#d72a2b"/>
<path d="M79.4 167.4h1.1v1.1h-1.1zM93.4 128.1h1.1v1.1h-1.1zM90.5 174.4h1.1v1.1h-1.1zM72.8 147.9h1.1v1.1h-1.1zM98.5 146.2h1.1v1.1h-1.1zM74.6 138.2h1.1v1.1h-1.1zM100.1 156.6h1.1v1.1h-1.1zM92.6 169.8h1.1v1.1h-1.1zM74.5 164.5h1.1v1.1h-1.1zM92.9 128.5h1.1v1.1h-1.1zM68.5 146.6h1.1v1.1h-1.1zM88.9 173.7h1.1v1.1h-1.1zM97.6 145h1.1v1.1h-1.1zM93.4 170.6h1.1v1.1h-1.1zM98.1 128.3h1.1v1.1h-1.1zM70.4 139.6h1.1v1.1h-1.1zM76.3 127.4h1.1v1.1h-1.1zM99.2 162.8h1.1v1.1h-1.1zM98.2 147.7h1.1v1.1h-1.1zM99.5 145h1.1v1.1h-1.1zM72.4 135.4h1.1v1.1h-1.1zM103.1 166.6h1.1v1.1h-1.1zM103.6 151.1h1.1v1.1h-1.1zM73.1 156.1h1.1v1.1h-1.1zM98.1 148.7h1.1v1.1h-1.1zM99.4 147.6h1.1v1.1h-1.1zM94.4 169h1.1v1.1h-1.1zM98.2 143.3h1.1v1.1h-1.1zM94.8 128h1.1v1.1h-1.1zM73.7 124.4h1.1v1.1h-1.1zM80.7 128.7h1.1v1.1h-1.1zM92.8 128.2h1.1v1.1h-1.1zM80.3 126.3h1.1v1.1h-1.1zM74.2 165.7h1.1v1.1h-1.1zM72.4 138.4h1.1v1.1h-1.1zM93.2 169.9h1.1v1.1h-1.1zM84.6 127.5h1.1v1.1h-1.1zM103 158.6h1.1v1.1h-1.1zM75.3 160.5h1.1v1.1h-1.1zM100.9 151h1.1v1.1h-1.1zM73.4 144.6h1.1v1.1h-1.1zM88.3 173.7h1.1v1.1h-1.1zM77.3 127.3h1.1v1.1h-1.1zM90.2 123.1h1.1v1.1h-1.1zM77.5 165.7h1.1v1.1h-1.1zM88.6 127.6h1.1v1.1h-1.1zM100.6 122.1h1.1v1.1h-1.1zM80.7 169.7h1.1v1.1h-1.1zM98.7 147.1h1.1v1.1h-1.1zM99.8 156.7h1.1v1.1h-1.1zM102.4 133.2h1.1v1.1h-1.1zM73.9 130.7h1.1v1.1h-1.1zM77.9 166h1.1v1.1h-1.1zM97 128.5h1.1v1.1h-1.1zM99.3 145.7h1.1v1.1h-1.1zM80.7 128.4h1.1v1.1h-1.1zM79.6 169.4h1.1v1.1h-1.1zM100.5 158h1.1v1.1h-1.1zM90.2 172.6h1.1v1.1h-1.1zM72 142.7h1.1v1.1h-1.1zM97.1 144h1.1v1.1h-1.1zM73.9 134.3h1.1v1.1h-1.1zM73.9 138.4h1.1v1.1h-1.1zM92 128.4h1.1v1.1h-1.1zM102.2 150.3h1.1v1.1h-1.1zM73.4 128.1h1.1v1.1h-1.1zM71.5 157h1.1v1.1h-1.1zM72.9 127.4h1.1v1.1h-1.1zM99.6 154.6h1.1v1.1h-1.1zM91 172.5h1.1v1.1h-1.1zM100.7 154.1h1.1v1.1h-1.1zM75 133.5h1.1v1.1h-1.1zM85.9 174.5h1.1v1.1h-1.1zM98.5 149.8h1.1v1.1h-1.1zM73.4 140.5h1.1v1.1h-1.1zM73.5 156.1h1.1v1.1h-1.1zM73.4 128.3h1.1v1.1h-1.1zM99.1 141.9h1.1v1.1h-1.1zM101.2 135.6h1.1v1.1h-1.1zM94.5 128.5h1.1v1.1h-1.1zM100 165.9h1.1v1.1h-1.1zM72.7 136.2h1.1v1.1h-1.1zM73.7 136.8h1.1v1.1h-1.1zM93.5 127.5h1.1v1.1h-1.1zM90.4 171.5h1.1v1.1h-1.1zM88.8 172.1h1.1v1.1h-1.1zM74.1 135.8h1.1v1.1h-1.1zM72.5 158.3h1.1v1.1h-1.1zM101.4 137.1h1.1v1.1h-1.1zM73.2 145.2h1.1v1.1h-1.1zM75.1 165.5h1.1v1.1h-1.1zM74.8 165h1.1v1.1h-1.1zM86.3 127.7h1.1v1.1h-1.1zM77 164.2h1.1v1.1h-1.1zM80 179.9h1.1v1.1h-1.1zM100.7 148.4h1.1v1.1h-1.1zM71.8 132h1.1v1.1h-1.1zM100.5 156.4h1.1v1.1h-1.1zM72.6 153.3h1.1v1.1h-1.1zM100.6 160.1h1.1v1.1h-1.1zM99.4 152.7h1.1v1.1h-1.1zM100 162.1h1.1v1.1h-1.1zM74.5 161.7h1.1v1.1h-1.1zM79.7 170.3h1.1v1.1h-1.1zM74.3 129.3h1.1v1.1h-1.1zM75.3 162.2h1.1v1.1h-1.1zM83.4 174.9h1.1v1.1h-1.1z" fill="#d72a2b"/>
<path d="M94.4 138.4h1v1h-1zM86.3 145.1h1v1h-1zM82.1 145.2h1v1h-1zM95 162.5h1v1h-1zM79.2 139.4h1v1h-1zM95.9 158.9h1v1h-1zM92.8 158h1v1h-1zM93.3 141.2h1v1h-1zM75 145.2h1v1h-1zM88.4 159.6h1v1h-1zM79.8 144.1h1v1h-1zM94.5 151.1h1v1h-1zM83.9 141h1v1h-1zM87.3 161.6h1v1h-1zM98.3 148.9h1v1h-1zM85.4 143.1h1v1h-1zM77.8 141.5h1v1h-1zM82.8 168h1v1h-1zM78.8 164.4h1v1h-1zM84.1 134h1v1h-1zM84.7 156.1h1v1h-1zM80.6 129.4h1v1h-1zM84.5 146.1h1v1h-1zM73.5 145.8h1v1h-1zM95.2 144h1v1h-1zM92.9 157.5h1v1h-1zM78.7 129.5h1v1h-1zM92.7 156.9h1v1h-1zM81.7 137.8h1v1h-1zM80 155.7h1v1h-1zM89.8 143.5h1v1h-1zM74.3 143.6h1v1h-1zM91.8 156.4h1v1h-1zM88 134.2h1v1h-1zM79.4 143h1v1h-1zM85.3 145.4h1v1h-1zM99.3 133.9h1v1h-1zM98 139.8h1v1h-1zM90.2 146h1v1h-1zM96.6 141h1v1h-1zM95.7 150.7h1v1h-1zM101.8 131h1v1h-1zM84.2 139.1h1v1h-1zM91.3 164.6h1v1h-1zM97.6 154h1v1h-1zM84.4 165.6h1v1h-1zM76.2 140.6h1v1h-1zM95 148.9h1v1h-1zM86.6 138.4h1v1h-1zM75.9 145.6h1v1h-1zM85.7 152.1h1v1h-1zM81.6 161.1h1v1h-1zM78.1 152.2h1v1h-1zM87.5 145.8h1v1h-1zM98.1 138.2h1v1h-1zM82.9 157h1v1h-1zM89.5 141.7h1v1h-1zM83.9 133.8h1v1h-1zM92.2 153.2h1v1h-1zM82.7 143.7h1v1h-1zM85.3 172.9h1v1h-1zM83.7 147.2h1v1h-1zM77.9 159.3h1v1h-1zM92.4 149.2h1v1h-1zM85 139.3h1v1h-1zM96.1 149.7h1v1h-1zM97.3 145.9h1v1h-1zM94.4 129.8h1v1h-1zM92.9 159.9h1v1h-1zM87.6 150.4h1v1h-1zM78.9 136.5h1v1h-1zM91.9 160.7h1v1h-1zM80.7 158.4h1v1h-1zM77.2 157h1v1h-1zM78.2 152.2h1v1h-1zM82.3 154.1h1v1h-1zM77.1 150.9h1v1h-1zM91 134.8h1v1h-1zM82.1 160h1v1h-1zM89 157.1h1v1h-1zM95.8 155h1v1h-1zM79.6 149h1v1h-1zM97.2 154.8h1v1h-1zM95 145.4h1v1h-1zM86.2 173.5h1v1h-1zM97 158.8h1v1h-1zM76.3 156.9h1v1h-1zM81 167.8h1v1h-1zM88.3 129.2h1v1h-1zM97.2 160.5h1v1h-1zM88.6 168.5h1v1h-1zM83 129.7h1v1h-1zM83 131.6h1v1h-1zM75.3 157.5h1v1h-1zM76.7 135.9h1v1h-1zM81.7 141.4h1v1h-1zM85.9 165.4h1v1h-1zM96.7 162.5h1v1h-1zM79.8 132.8h1v1h-1zM90.9 168.5h1v1h-1zM77.4 161h1v1h-1zM86.6 165h1v1h-1zM86.4 137.6h1v1h-1zM94.8 167.1h1v1h-1zM80.4 160.8h1v1h-1zM84.7 138.9h1v1h-1zM83.9 152.2h1v1h-1zM87.7 129.7h1v1h-1zM95 163.1h1v1h-1zM79.3 144.6h1v1h-1zM94.4 159h1v1h-1zM85 152.9h1v1h-1zM86.9 152h1v1h-1zM96 137.7h1v1h-1z" fill="#fff" fill-opacity="0.9"/>
<path d="M103.3 180.4 C103.6 179.3 104.9 179.1 105.9 179.4 C106.9 179.7 107.9 181.2 109.5 182.2 C111.1 183.3 113.6 184.7 115.6 185.8 C117.6 186.9 119.7 187.7 121.5 188.8 C123.3 189.8 125 191 126.4 192.2 C127.7 193.3 129.2 194.7 129.6 195.8 C130.1 196.8 129.9 197.7 129.3 198.5 C128.6 199.2 127.5 200.1 125.9 200.1 C124.2 200.1 121.4 199.4 119.3 198.7 C117.2 197.9 115.3 197.2 113.5 195.8 C111.8 194.4 110.2 192 108.7 190.4 C107.1 188.8 105.2 187.8 104.3 186.1 C103.4 184.4 103 181.6 103.3 180.4Z" fill="#d97cbf"/>
<path d="M113.3 194.9h1.1v1.1h-1.1zM108.6 190.9h1.1v1.1h-1.1zM119.5 187.4h1.1v1.1h-1.1zM129.3 197.8h1.1v1.1h-1.1zM122.5 198.5h1.1v1.1h-1.1zM128.4 194.7h1.1v1.1h-1.1zM108.2 191.9h1.1v1.1h-1.1zM108.6 189.8h1.1v1.1h-1.1zM123.1 201.6h1.1v1.1h-1.1zM110.7 182.6h1.1v1.1h-1.1zM121 188h1.1v1.1h-1.1zM108.1 192.9h1.1v1.1h-1.1zM108.7 190.7h1.1v1.1h-1.1zM116.7 198.3h1.1v1.1h-1.1zM113.6 183.8h1.1v1.1h-1.1zM129.5 193.8h1.1v1.1h-1.1zM110.5 180.4h1.1v1.1h-1.1zM105.3 188.2h1.1v1.1h-1.1zM111 182.5h1.1v1.1h-1.1zM124.1 200h1.1v1.1h-1.1zM130 197.6h1.1v1.1h-1.1zM128.2 194.4h1.1v1.1h-1.1zM106.7 189.3h1.1v1.1h-1.1zM102.2 184.5h1.1v1.1h-1.1zM105.1 178.9h1.1v1.1h-1.1zM123.5 198.7h1.1v1.1h-1.1zM115.5 182h1.1v1.1h-1.1zM121.5 188.3h1.1v1.1h-1.1zM116.6 184.9h1.1v1.1h-1.1zM118.2 198.9h1.1v1.1h-1.1zM129.1 197.2h1.1v1.1h-1.1zM119.7 202.7h1.1v1.1h-1.1zM110.6 181.6h1.1v1.1h-1.1zM112.4 194.8h1.1v1.1h-1.1zM107.4 189.2h1.1v1.1h-1.1z" fill="#d97cbf"/>
<path d="M114.4 194.7h1v1h-1zM116.5 187.7h1v1h-1zM127.5 197.5h1v1h-1zM109.1 190.5h1v1h-1zM110.8 191h1v1h-1zM103.2 182h1v1h-1zM105.2 182.9h1v1h-1zM109.4 183.9h1v1h-1zM118.5 196.8h1v1h-1zM105.4 180.2h1v1h-1zM121.1 191.1h1v1h-1zM116.1 193.8h1v1h-1zM112.6 187.4h1v1h-1zM128.6 197.4h1v1h-1zM124.1 190.5h1v1h-1zM107.4 184.3h1v1h-1zM115 193.7h1v1h-1zM119.9 193.1h1v1h-1zM103.9 182.9h1v1h-1zM114 186.7h1v1h-1zM121.1 194.2h1v1h-1zM117.8 189.6h1v1h-1zM128.2 195h1v1h-1zM122.4 193.7h1v1h-1zM127.5 196.2h1v1h-1z" fill="#fff" fill-opacity="0.9"/>
<path d="M105 102 C104.8 101.1 106.1 98.7 107 97 C107.9 95.3 109.2 93.4 110.5 92 C111.8 90.6 113.6 89.3 115 88.5 C116.4 87.7 117.5 87.3 119 87.3 C120.5 87.3 122.3 88 124 88.5 C125.7 89 127.8 89.7 129 90.5 C130.2 91.3 131.2 92.6 131 93.5 C130.8 94.4 129.3 95.8 128 96 C126.7 96.2 124.7 95 123 94.5 C121.3 94 119.5 93 118 93 C116.5 93 115.2 93.7 114 94.5 C112.8 95.3 111.9 96.7 111 98 C110.1 99.3 109.5 101.8 108.5 102.5 C107.5 103.2 105.2 102.9 105 102Z" fill="#adbf4f"/>
<path d="M109.6 98.5h1.1v1.1h-1.1zM113.7 93.8h1.1v1.1h-1.1zM118.2 86.2h1.1v1.1h-1.1zM113 93.7h1.1v1.1h-1.1zM110.5 96.9h1.1v1.1h-1.1zM109 91.3h1.1v1.1h-1.1zM128.8 95h1.1v1.1h-1.1zM119.5 86.9h1.1v1.1h-1.1zM107 92.1h1.1v1.1h-1.1zM110.4 86.7h1.1v1.1h-1.1zM119.3 86.6h1.1v1.1h-1.1zM118.4 79h1.1v1.1h-1.1zM124.2 87.6h1.1v1.1h-1.1zM125.7 89h1.1v1.1h-1.1zM105 100.4h1.1v1.1h-1.1zM125.1 84.7h1.1v1.1h-1.1zM105.6 102.9h1.1v1.1h-1.1zM114.2 87.7h1.1v1.1h-1.1zM106 95.4h1.1v1.1h-1.1zM129 95.3h1.1v1.1h-1.1zM113.4 87.7h1.1v1.1h-1.1zM106.5 101.8h1.1v1.1h-1.1zM104.3 102.6h1.1v1.1h-1.1zM107.2 93.6h1.1v1.1h-1.1zM104.4 100.4h1.1v1.1h-1.1zM113.4 94.1h1.1v1.1h-1.1zM129.9 93.6h1.1v1.1h-1.1zM107.9 92.1h1.1v1.1h-1.1zM115.2 88.1h1.1v1.1h-1.1zM105.8 87.3h1.1v1.1h-1.1z" fill="#adbf4f"/>
<path d="M110.9 95.6h1v1h-1zM114.4 91.3h1v1h-1zM110.7 92.6h1v1h-1zM110.4 97.5h1v1h-1zM109.1 95.3h1v1h-1zM108.8 99.6h1v1h-1zM113.1 89.2h1v1h-1zM107.7 99h1v1h-1zM117.7 89h1v1h-1zM125.6 90.3h1v1h-1zM119.2 91h1v1h-1zM111.1 95.1h1v1h-1zM108 99.9h1v1h-1zM127.6 90.5h1v1h-1zM107.7 98.6h1v1h-1zM124.4 91.5h1v1h-1zM124.6 93.9h1v1h-1zM125.7 89.2h1v1h-1zM106.4 98.3h1v1h-1zM106.9 97h1v1h-1zM112.1 91.1h1v1h-1z" fill="#fff" fill-opacity="0.9"/>
<path d="M115.8 88 C116.6 87.2 119.3 86.9 121 87 C122.7 87.1 125.2 87.7 126 88.5 C126.8 89.3 126.5 91.3 125.5 92 C124.5 92.7 121.6 92.6 120 92.5 C118.4 92.4 116.7 92.2 116 91.5 C115.3 90.8 115 88.8 115.8 88Z" fill="#c2b0d8"/>
<path d="M119 92.5h1.1v1.1h-1.1zM123.9 87.4h1.1v1.1h-1.1zM114.3 91.7h1.1v1.1h-1.1zM125.3 90.3h1.1v1.1h-1.1zM114.7 89.9h1.1v1.1h-1.1zM128.8 89.8h1.1v1.1h-1.1zM110.9 92.9h1.1v1.1h-1.1zM123.2 85.9h1.1v1.1h-1.1zM131 93.5h1.1v1.1h-1.1zM118.7 84.7h1.1v1.1h-1.1zM115.4 87.6h1.1v1.1h-1.1z" fill="#c2b0d8"/>
<path d="M119.5 87.6h1v1h-1zM123.5 90.5h1v1h-1zM117.6 88.6h1v1h-1zM119.5 89.7h1v1h-1zM121.8 88.5h1v1h-1zM120.6 89.7h1v1h-1z" fill="#fff" fill-opacity="0.9"/>
<path d="M102 86.8 C102.4 86.3 103.8 85.6 105 85 C106.2 84.4 107.8 83.6 109 83 C110.2 82.4 111.8 81.5 112.5 81.5 C113.2 81.5 113.9 82.4 113.5 83 C113.1 83.6 111.2 84.3 110 85 C108.8 85.7 107.2 86.5 106 87 C104.8 87.5 103.5 88 102.8 88 C102.1 88 101.6 87.3 102 86.8Z" fill="#f29a9a"/>
<path d="M112.6 80.8h1.1v1.1h-1.1zM110.8 81.5h1.1v1.1h-1.1zM112.5 80.6h1.1v1.1h-1.1zM100.4 88.3h1.1v1.1h-1.1zM113 82.5h1.1v1.1h-1.1zM107.2 82.8h1.1v1.1h-1.1zM114.4 81.4h1.1v1.1h-1.1zM101 86.7h1.1v1.1h-1.1zM106.5 83.5h1.1v1.1h-1.1zM103.4 84.1h1.1v1.1h-1.1zM106.1 86.8h1.1v1.1h-1.1zM106.7 82.6h1.1v1.1h-1.1z" fill="#f29a9a"/>
<path d="M109.2 84.5h1v1h-1zM109.6 83h1v1h-1zM109.8 83.3h1v1h-1z" fill="#fff" fill-opacity="0.9"/>
<path d="" fill="#8f5446"/>
<path d="M113.6 73.1h1.2v1.2h-1.2zM115.4 80.9h1.2v1.2h-1.2zM107.8 65.2h1.2v1.2h-1.2zM111.6 73.9h1.2v1.2h-1.2zM112 72.2h1.2v1.2h-1.2zM114.1 69.9h1.2v1.2h-1.2zM108 64.6h1.2v1.2h-1.2zM114.5 71.1h1.2v1.2h-1.2zM115.6 70.8h1.2v1.2h-1.2zM112.4 68.1h1.2v1.2h-1.2zM107.5 67.3h1.2v1.2h-1.2zM116.6 75.6h1.2v1.2h-1.2zM112.9 70.5h1.2v1.2h-1.2zM115.2 73.6h1.2v1.2h-1.2zM118.4 76.2h1.2v1.2h-1.2zM110.3 68h1.2v1.2h-1.2zM113.1 75.3h1.2v1.2h-1.2zM118 79.6h1.2v1.2h-1.2zM114.5 73.2h1.2v1.2h-1.2zM119.1 76.7h1.2v1.2h-1.2zM110.8 70.4h1.2v1.2h-1.2zM112.9 70.3h1.2v1.2h-1.2zM117.3 75.7h1.2v1.2h-1.2zM118 77.4h1.2v1.2h-1.2zM108.2 67.5h1.2v1.2h-1.2zM109.6 69.9h1.2v1.2h-1.2zM112 72.8h1.2v1.2h-1.2zM116.4 73.1h1.2v1.2h-1.2zM119 74.2h1.2v1.2h-1.2zM112.6 72h1.2v1.2h-1.2zM117.4 75.5h1.2v1.2h-1.2zM118.9 76.2h1.2v1.2h-1.2zM116 76h1.2v1.2h-1.2zM116.2 77.1h1.2v1.2h-1.2zM116.3 75.7h1.2v1.2h-1.2zM113.7 70.4h1.2v1.2h-1.2zM117.3 74.3h1.2v1.2h-1.2zM110.1 68.6h1.2v1.2h-1.2zM109.7 66.7h1.2v1.2h-1.2zM115.5 72.2h1.2v1.2h-1.2z" fill="#8f5446"/>
<path d="M110.1 147.2h1.2v1.2h-1.2zM107.8 121.6h1.2v1.2h-1.2zM122.5 144.7h1.2v1.2h-1.2zM107.8 122.5h1.2v1.2h-1.2zM112.8 123.5h1.2v1.2h-1.2zM110 115.7h1.2v1.2h-1.2zM113.4 149.1h1.2v1.2h-1.2zM111.5 97.7h1.2v1.2h-1.2zM107.7 112.9h1.2v1.2h-1.2zM118.3 148.9h1.2v1.2h-1.2zM108 140.5h1.2v1.2h-1.2z" fill="#9fd27f"/>
<path d="M116.6 159.4h1.2v1.2h-1.2zM115.3 95.6h1.2v1.2h-1.2zM118.8 134.9h1.2v1.2h-1.2zM114.1 162.3h1.2v1.2h-1.2zM112.9 135.6h1.2v1.2h-1.2zM114.7 146.9h1.2v1.2h-1.2zM124.9 142.4h1.2v1.2h-1.2zM109.3 123.2h1.2v1.2h-1.2zM126.5 141.7h1.2v1.2h-1.2zM111 98.5h1.2v1.2h-1.2zM121.1 150.3h1.2v1.2h-1.2z" fill="#a9c8ea"/>
<path d="M109.6 131.2h1.2v1.2h-1.2zM122.5 127.4h1.2v1.2h-1.2zM113.3 151.6h1.2v1.2h-1.2zM116.1 134.6h1.2v1.2h-1.2zM107.3 121.4h1.2v1.2h-1.2zM114.9 126.1h1.2v1.2h-1.2zM127.4 139.1h1.2v1.2h-1.2zM108.7 137.3h1.2v1.2h-1.2zM107.2 141.5h1.2v1.2h-1.2zM115 130.7h1.2v1.2h-1.2zM110.6 148.3h1.2v1.2h-1.2z" fill="#c2b0d8"/>
<path d="M123.9 135.3h1.2v1.2h-1.2zM117.7 149.9h1.2v1.2h-1.2zM107.5 106.7h1.2v1.2h-1.2zM111 142.4h1.2v1.2h-1.2zM120.6 138h1.2v1.2h-1.2zM114.7 147.9h1.2v1.2h-1.2zM108.7 110.2h1.2v1.2h-1.2zM121.5 128.7h1.2v1.2h-1.2zM108.4 139.5h1.2v1.2h-1.2zM113.3 102.6h1.2v1.2h-1.2zM108.4 130.2h1.2v1.2h-1.2z" fill="#e9a0b8"/>
<path d="M126.7 140.8h1.2v1.2h-1.2zM110.6 125h1.2v1.2h-1.2zM123.8 138.7h1.2v1.2h-1.2zM125.4 140h1.2v1.2h-1.2zM113.3 93.9h1.2v1.2h-1.2zM111.5 101.3h1.2v1.2h-1.2zM118.1 151.4h1.2v1.2h-1.2zM107.3 104.1h1.2v1.2h-1.2zM112.7 101.2h1.2v1.2h-1.2zM112.8 128.9h1.2v1.2h-1.2zM118.1 157.2h1.2v1.2h-1.2z" fill="#adbf4f"/>
<path d="M115.5 162.5h1.2v1.2h-1.2zM121.2 133h1.2v1.2h-1.2zM124.7 129.1h1.2v1.2h-1.2zM116.7 156.5h1.2v1.2h-1.2zM107.6 132.3h1.2v1.2h-1.2zM109 115.9h1.2v1.2h-1.2zM111.1 153.3h1.2v1.2h-1.2zM110.7 128.9h1.2v1.2h-1.2zM108.7 120.8h1.2v1.2h-1.2zM113.6 142h1.2v1.2h-1.2zM123.4 126.9h1.2v1.2h-1.2z" fill="#22995a"/>
<path d="M123.3 135.6h1.2v1.2h-1.2zM127.5 128.7h1.2v1.2h-1.2zM119 158.6h1.2v1.2h-1.2zM128.6 136.4h1.2v1.2h-1.2zM108.8 113.7h1.2v1.2h-1.2zM122.1 131.1h1.2v1.2h-1.2zM107.4 139.1h1.2v1.2h-1.2zM116.8 131.8h1.2v1.2h-1.2zM107.7 119.5h1.2v1.2h-1.2zM114.9 154.3h1.2v1.2h-1.2zM127.3 141.4h1.2v1.2h-1.2z" fill="#2677b9"/>
<path d="M115.8 134.8h1.2v1.2h-1.2zM117.7 163.6h1.2v1.2h-1.2zM121.3 139.3h1.2v1.2h-1.2zM107 134.4h1.2v1.2h-1.2zM120.5 157.2h1.2v1.2h-1.2zM115.7 96.4h1.2v1.2h-1.2zM113.7 156.3h1.2v1.2h-1.2zM116.6 94.5h1.2v1.2h-1.2zM118.7 131.7h1.2v1.2h-1.2zM124.2 131.9h1.2v1.2h-1.2zM116.1 132.5h1.2v1.2h-1.2z" fill="#d97cbf"/>
<path d="M111.4 94.4h1.2v1.2h-1.2zM107.6 121.9h1.2v1.2h-1.2zM119.7 127.5h1.2v1.2h-1.2zM107.6 108.1h1.2v1.2h-1.2zM111.2 123.4h1.2v1.2h-1.2zM111.2 106.8h1.2v1.2h-1.2zM112.1 98.8h1.2v1.2h-1.2zM112.7 101.8h1.2v1.2h-1.2zM114.9 149.8h1.2v1.2h-1.2zM112.3 97.6h1.2v1.2h-1.2zM125.3 130h1.2v1.2h-1.2z" fill="#c29a8a"/>
<path d="M121.7 134h1.2v1.2h-1.2zM117 155.6h1.2v1.2h-1.2zM124.1 133.2h1.2v1.2h-1.2zM113.3 133.2h1.2v1.2h-1.2zM109.4 101h1.2v1.2h-1.2zM125.8 131.6h1.2v1.2h-1.2zM109.6 150.2h1.2v1.2h-1.2zM120.1 148.5h1.2v1.2h-1.2zM106.7 115.5h1.2v1.2h-1.2zM118.2 131.8h1.2v1.2h-1.2zM117.1 153.4h1.2v1.2h-1.2z" fill="#f59a3a"/>
<path d="M18.8 113.1 C19.6 112.8 21.9 111.9 23.5 111.3 C25.1 110.7 26.6 110.2 28.1 109.6 C29.6 109 30.8 108.3 32.7 107.9 C34.6 107.5 37.5 107.4 39.6 107.3 C41.7 107.2 43.5 107.2 45.4 107.1 C47.3 107 49.3 106.7 51.2 106.7 C53.1 106.7 56 107 56.9 107.1" fill="none" stroke="#21b5cf" stroke-width="1.7" stroke-linecap="round" stroke-dasharray="3 1.6"/>
<path d="M98.1 168.5h1.3v1.3h-1.3zM99.5 170h1.3v1.3h-1.3zM99.1 170.8h1.3v1.3h-1.3zM99.9 169.4h1.3v1.3h-1.3zM99.1 170h1.3v1.3h-1.3zM100.2 171h1.3v1.3h-1.3zM99.9 171.7h1.3v1.3h-1.3zM99.8 173.2h1.3v1.3h-1.3zM101.5 173h1.3v1.3h-1.3zM101.1 173.1h1.3v1.3h-1.3zM101.7 173.8h1.3v1.3h-1.3zM102.7 175.6h1.3v1.3h-1.3zM102.6 176h1.3v1.3h-1.3zM101.6 175.2h1.3v1.3h-1.3zM102.4 175.9h1.3v1.3h-1.3zM102.9 178.2h1.3v1.3h-1.3z" fill="#d97cbf"/>
<path d="M123 42.3h1.3v1.3h-1.3zM120.2 50.3h1.3v1.3h-1.3zM121.8 48.7h1.3v1.3h-1.3zM122.7 49.5h1.3v1.3h-1.3zM118.7 52.3h1.3v1.3h-1.3zM116.7 46.9h1.3v1.3h-1.3zM118.6 52.7h1.3v1.3h-1.3zM118.4 44.3h1.3v1.3h-1.3zM117.1 48.9h1.3v1.3h-1.3zM119.7 49.1h1.3v1.3h-1.3zM116.5 49.2h1.3v1.3h-1.3zM121.8 53.4h1.3v1.3h-1.3zM123.4 44.6h1.3v1.3h-1.3zM121 45.4h1.3v1.3h-1.3z" fill="#adbf4f"/>
<path d="M129.9 51.9h1.3v1.3h-1.3zM129 48.9h1.3v1.3h-1.3zM129.5 51.4h1.3v1.3h-1.3zM128.4 52h1.3v1.3h-1.3zM128.7 51.1h1.3v1.3h-1.3z" fill="#adbf4f"/>
<path d="M97.1 82.7h1.3v1.3h-1.3zM97.2 82.8h1.3v1.3h-1.3zM96.8 83.3h1.3v1.3h-1.3z" fill="#adbf4f"/>
<path d="M98.9 80.7h1.3v1.3h-1.3zM98.4 80.7h1.3v1.3h-1.3zM97.7 80.7h1.3v1.3h-1.3z" fill="#adbf4f"/>
<path d="M100.9 78.7h1.3v1.3h-1.3zM100.2 79.1h1.3v1.3h-1.3zM100.4 78.8h1.3v1.3h-1.3z" fill="#adbf4f"/>
<path d="M169 50.2h1.3v1.3h-1.3zM170.3 50.7h1.3v1.3h-1.3zM168.3 51.4h1.3v1.3h-1.3z" fill="#f29a9a"/>
<path d="M111.5 131.8h1.3v1.3h-1.3zM120 129h1.3v1.3h-1.3zM115.4 129.6h1.3v1.3h-1.3zM114.1 130.1h1.3v1.3h-1.3zM108.1 132h1.3v1.3h-1.3zM113.8 131.7h1.3v1.3h-1.3zM112.1 129.8h1.3v1.3h-1.3zM112.8 128.4h1.3v1.3h-1.3zM119 132.1h1.3v1.3h-1.3zM117.7 131.3h1.3v1.3h-1.3zM113 131h1.3v1.3h-1.3zM122.4 132.6h1.3v1.3h-1.3zM114.8 128.9h1.3v1.3h-1.3zM115.9 126.8h1.3v1.3h-1.3zM116.9 129.6h1.3v1.3h-1.3zM113.3 132h1.3v1.3h-1.3zM118.3 130.1h1.3v1.3h-1.3zM111.3 128h1.3v1.3h-1.3z" fill="#9fd27f"/>
<path d="M109.8 137h1.3v1.3h-1.3zM114.6 134.9h1.3v1.3h-1.3zM113.8 135.6h1.3v1.3h-1.3zM109.1 135.3h1.3v1.3h-1.3zM117.9 138.8h1.3v1.3h-1.3zM111.4 136.2h1.3v1.3h-1.3zM109.6 137h1.3v1.3h-1.3zM113.1 135.9h1.3v1.3h-1.3zM117.8 137.3h1.3v1.3h-1.3zM115.1 136.8h1.3v1.3h-1.3zM115.7 132.7h1.3v1.3h-1.3zM114.9 135.2h1.3v1.3h-1.3zM118.9 135.9h1.3v1.3h-1.3zM110.8 134.9h1.3v1.3h-1.3zM116.9 136.1h1.3v1.3h-1.3zM113.7 138.1h1.3v1.3h-1.3zM115.6 135.7h1.3v1.3h-1.3zM117.9 137h1.3v1.3h-1.3z" fill="#a9c8ea"/>
<path d="M124.3 138.5h1.3v1.3h-1.3zM118.8 139.4h1.3v1.3h-1.3zM122.7 138.9h1.3v1.3h-1.3zM122.4 138h1.3v1.3h-1.3zM121.2 139.1h1.3v1.3h-1.3zM122 140.1h1.3v1.3h-1.3zM123.7 138.4h1.3v1.3h-1.3zM122.1 136.8h1.3v1.3h-1.3zM124 137.5h1.3v1.3h-1.3zM123.3 135.8h1.3v1.3h-1.3z" fill="#22995a"/>
<path d="M114.2 148.2h1.3v1.3h-1.3zM111.1 144.9h1.3v1.3h-1.3zM111.6 147.8h1.3v1.3h-1.3zM113.6 144.5h1.3v1.3h-1.3zM113.5 148h1.3v1.3h-1.3zM111.2 148h1.3v1.3h-1.3zM124 143h1.3v1.3h-1.3zM112.6 146.7h1.3v1.3h-1.3zM116.2 150.4h1.3v1.3h-1.3zM115.2 145.7h1.3v1.3h-1.3zM110.7 139.5h1.3v1.3h-1.3zM109.2 150.7h1.3v1.3h-1.3zM110.9 148.6h1.3v1.3h-1.3zM116.9 146.2h1.3v1.3h-1.3z" fill="#e9a0b8"/>
<path d="M113.1 163.3h1.3v1.3h-1.3zM116.4 159.9h1.3v1.3h-1.3zM113.1 159.8h1.3v1.3h-1.3zM113.2 156.5h1.3v1.3h-1.3zM115.3 159.3h1.3v1.3h-1.3zM115.7 159.5h1.3v1.3h-1.3z" fill="#a9c8ea"/>
<path d="M118.9 150.5h1.3v1.3h-1.3zM116.2 150h1.3v1.3h-1.3zM120.6 153.5h1.3v1.3h-1.3zM114.5 152.5h1.3v1.3h-1.3zM117.4 152.2h1.3v1.3h-1.3zM117.7 150h1.3v1.3h-1.3zM119.4 150.2h1.3v1.3h-1.3zM119.4 151.8h1.3v1.3h-1.3z" fill="#d97cbf"/>
<path d="M86.5 178.6h1.3v1.3h-1.3zM86.5 181.4h1.3v1.3h-1.3zM84 177.6h1.3v1.3h-1.3zM87 183.9h1.3v1.3h-1.3zM84.5 183h1.3v1.3h-1.3zM84.5 182.3h1.3v1.3h-1.3zM88 180.5h1.3v1.3h-1.3zM87.1 178.6h1.3v1.3h-1.3zM85.4 179.4h1.3v1.3h-1.3zM87.6 182h1.3v1.3h-1.3zM84.8 177.4h1.3v1.3h-1.3zM85.2 182.9h1.3v1.3h-1.3z" fill="#fda65a"/>
<path d="M146 154.7h1.3v1.3h-1.3zM145.4 155.5h1.3v1.3h-1.3zM141.6 155.7h1.3v1.3h-1.3zM149.5 155h1.3v1.3h-1.3zM142.5 155.3h1.3v1.3h-1.3zM140.9 155.6h1.3v1.3h-1.3zM141.4 153.4h1.3v1.3h-1.3zM143.8 153.4h1.3v1.3h-1.3zM142.7 155.5h1.3v1.3h-1.3zM147.7 156.5h1.3v1.3h-1.3z" fill="#f59a3a"/>
<path d="M110 144.2h1.3v1.3h-1.3zM109.6 147.5h1.3v1.3h-1.3zM110.1 146h1.3v1.3h-1.3zM112.5 145.4h1.3v1.3h-1.3z" fill="#c29a8a"/>
</g>
<g font-size="11">
<text x="150" y="20.6" fill="#8d5fb3">Mono</text>
<text x="150.6" y="34" fill="#8d5fb3">/DC</text>
<text x="82" y="40.2" fill="#8c4f42">Ly2</text>
<text x="59.2" y="81.2" fill="#f5821f">MPP</text>
<text x="9" y="104.1" fill="#21b5cf">Neu</text>
<text x="174.2" y="75.3" fill="#22995a">Ly1</text>
<text x="153.7" y="145.8" fill="#2677b9">Ly1</text>
<text x="66.8" y="196.6" fill="#fda65a">Ery</text>
<text x="134" y="202" fill="#d97cbf">Cluster A</text>
</g>
<!-- Panel B -->
<g id="pB">
<g>
<path d="M258.3 31.2 C258.5 30.7 258.6 30.1 259.2 29.8 C259.8 29.4 261 29.2 261.7 29.2 C262.5 29.2 263.1 29.4 263.6 29.8 C264.1 30.1 264.1 30.8 264.5 31.5 C265 32.3 265.7 33.5 266.2 34.2 C266.8 34.9 267.4 35 267.9 35.7 C268.4 36.3 269 37.3 269.3 38.1 C269.6 38.9 269.6 39.7 269.5 40.2 C269.4 40.7 269.3 40.9 268.9 40.9 C268.4 40.9 267.7 40.5 266.9 40.3 C266.2 40 265.4 39.7 264.6 39.4 C263.7 39 262.6 38.7 261.9 38.3 C261.1 37.9 260.5 37.7 259.9 37.1 C259.3 36.6 258.6 35.8 258.3 35 C257.9 34.2 257.6 33.2 257.6 32.6 C257.6 31.9 258 31.6 258.3 31.2Z" fill="#c6c8cd"/>
<path d="M267.7 36.3h0.9v0.9h-0.9zM260 37h0.9v0.9h-0.9zM257.3 31.2h0.9v0.9h-0.9zM257 33.6h0.9v0.9h-0.9zM259.3 28h0.9v0.9h-0.9zM264.2 30.8h0.9v0.9h-0.9zM266.2 34h0.9v0.9h-0.9zM259.2 29.1h0.9v0.9h-0.9zM261.5 29h0.9v0.9h-0.9zM268.9 39h0.9v0.9h-0.9zM268.5 40.2h0.9v0.9h-0.9zM267 33.7h0.9v0.9h-0.9zM262 37.8h0.9v0.9h-0.9zM258.2 34.9h0.9v0.9h-0.9zM258.9 35.7h0.9v0.9h-0.9zM267.1 40h0.9v0.9h-0.9zM267.9 40.7h0.9v0.9h-0.9zM260.2 28.5h0.9v0.9h-0.9zM261.4 28.2h0.9v0.9h-0.9zM262.8 37.8h0.9v0.9h-0.9zM265.6 39.9h0.9v0.9h-0.9zM262.4 39h0.9v0.9h-0.9zM266.3 41.1h0.9v0.9h-0.9zM267.7 40.5h0.9v0.9h-0.9zM265 32.2h0.9v0.9h-0.9zM258.3 35.3h0.9v0.9h-0.9zM257 33.1h0.9v0.9h-0.9zM264.9 31.6h0.9v0.9h-0.9z" fill="#c6c8cd"/>
<path d="M259.3 31.7h0.8v0.8h-0.8zM259 29.7h0.8v0.8h-0.8zM259.9 35.8h0.8v0.8h-0.8zM264.2 35h0.8v0.8h-0.8zM261.9 33.8h0.8v0.8h-0.8zM263.7 38.7h0.8v0.8h-0.8zM263.6 37.2h0.8v0.8h-0.8zM268.8 37.7h0.8v0.8h-0.8zM259.8 35.5h0.8v0.8h-0.8zM262.5 31.5h0.8v0.8h-0.8z" fill="#fff" fill-opacity="0.7"/>
<path d="M285.1 26.8 C285.4 26.9 285.6 27.3 285.7 28.1 C285.9 29 285.9 30.6 285.9 31.7 C285.8 32.8 285.6 33.6 285.5 34.7 C285.4 35.9 285.4 37.5 285.2 38.4 C285 39.3 284.7 39.5 284.2 40.2 C283.8 40.8 283.1 41.5 282.5 42.2 C282 42.9 281.6 43.8 280.8 44.4 C280 45 278.7 45.4 277.9 46 C277.1 46.6 276.5 47.3 275.8 47.8 C275.1 48.3 274.4 48.9 273.9 49.1 C273.3 49.3 272.9 49.5 272.5 49 C272 48.4 271.6 46.9 271.3 45.7 C271.1 44.5 270.8 42.7 270.9 41.5 C271 40.3 271.4 39.6 271.8 38.6 C272.3 37.7 272.7 36.3 273.4 35.8 C274.1 35.2 275.2 35.9 276.1 35.4 C277 34.9 278.1 33.5 278.9 32.8 C279.7 32 280.4 31.3 280.9 30.9 C281.5 30.5 281.8 30.6 282.3 30.1 C282.7 29.6 283.2 28.5 283.7 27.9 C284.1 27.4 284.7 26.8 285.1 26.8Z" fill="#c6c8cd"/>
<path d="M275.4 35.4h0.9v0.9h-0.9zM272.2 36.5h0.9v0.9h-0.9zM275.6 46.9h0.9v0.9h-0.9zM273 36.2h0.9v0.9h-0.9zM284.7 26.5h0.9v0.9h-0.9zM284.2 41.8h0.9v0.9h-0.9zM271.3 49.3h0.9v0.9h-0.9zM274.8 47.7h0.9v0.9h-0.9zM285.3 27.4h0.9v0.9h-0.9zM271 46.9h0.9v0.9h-0.9zM286.4 32.1h0.9v0.9h-0.9zM286.8 28.3h0.9v0.9h-0.9zM274.6 48h0.9v0.9h-0.9zM271 49.6h0.9v0.9h-0.9zM277.3 47.7h0.9v0.9h-0.9zM285 27.6h0.9v0.9h-0.9zM283.3 26.5h0.9v0.9h-0.9zM279 47.3h0.9v0.9h-0.9zM273.6 35.3h0.9v0.9h-0.9zM274.9 33.7h0.9v0.9h-0.9zM284.6 33.7h0.9v0.9h-0.9zM278.3 45.2h0.9v0.9h-0.9zM277.7 45.1h0.9v0.9h-0.9zM275.1 47.4h0.9v0.9h-0.9zM283.1 27.3h0.9v0.9h-0.9zM270 43.3h0.9v0.9h-0.9zM279.7 43.7h0.9v0.9h-0.9zM283.4 28.1h0.9v0.9h-0.9zM269.6 44.7h0.9v0.9h-0.9zM272.7 35.4h0.9v0.9h-0.9zM270 40.2h0.9v0.9h-0.9zM281.5 30.2h0.9v0.9h-0.9zM282.6 41.9h0.9v0.9h-0.9zM286.1 39.4h0.9v0.9h-0.9zM271.8 49.8h0.9v0.9h-0.9zM286.3 32.3h0.9v0.9h-0.9zM276.4 34.8h0.9v0.9h-0.9zM276 47h0.9v0.9h-0.9zM272.5 36.3h0.9v0.9h-0.9zM284.8 33.4h0.9v0.9h-0.9zM278.8 45.3h0.9v0.9h-0.9zM273.2 48.9h0.9v0.9h-0.9zM272.6 49.5h0.9v0.9h-0.9zM285.7 35h0.9v0.9h-0.9z" fill="#c6c8cd"/>
<path d="M273.2 39.4h0.8v0.8h-0.8zM275.3 37h0.8v0.8h-0.8zM278.1 33.5h0.8v0.8h-0.8zM277.5 40.5h0.8v0.8h-0.8zM278.1 38.3h0.8v0.8h-0.8zM273.8 43.5h0.8v0.8h-0.8zM278 34.4h0.8v0.8h-0.8zM274.3 45.1h0.8v0.8h-0.8zM275.5 36.3h0.8v0.8h-0.8zM276 44h0.8v0.8h-0.8zM280.7 39.5h0.8v0.8h-0.8zM280.1 39.2h0.8v0.8h-0.8zM284.4 38.8h0.8v0.8h-0.8zM284.3 36.9h0.8v0.8h-0.8zM278.3 32.7h0.8v0.8h-0.8zM279.8 37.8h0.8v0.8h-0.8zM270.9 42.1h0.8v0.8h-0.8zM279.4 41h0.8v0.8h-0.8zM277.3 45.1h0.8v0.8h-0.8zM272.4 46.6h0.8v0.8h-0.8zM277.4 44.5h0.8v0.8h-0.8zM272.1 39.3h0.8v0.8h-0.8zM272.7 36.8h0.8v0.8h-0.8zM271.2 41.1h0.8v0.8h-0.8z" fill="#fff" fill-opacity="0.7"/>
<path d="M282.4 44.3 C282.8 44.1 283.4 44.1 284.2 44.3 C285 44.5 286 45.4 287.1 45.5 C288.1 45.7 289.5 45.3 290.6 45.3 C291.8 45.2 293.1 44.8 294 44.9 C294.9 45 295.6 45.3 296.1 45.8 C296.6 46.2 297 46.9 297.1 47.5 C297.2 48.1 297 48.4 296.6 49.2 C296.2 50 295.4 51.2 294.9 52.3 C294.3 53.5 293.8 55.2 293.2 56.1 C292.6 57 291.7 57.4 291 57.9 C290.2 58.4 289.5 58.7 288.7 59.2 C288 59.6 287.1 60 286.4 60.4 C285.7 60.8 285.1 62 284.4 61.7 C283.6 61.4 282.7 59.6 281.8 58.6 C281 57.6 280.1 57 279.4 55.9 C278.7 54.8 277.8 53.1 277.6 51.9 C277.3 50.7 277.3 49.6 277.7 48.8 C278.1 48 279.3 47.7 279.9 47 C280.6 46.4 281.2 45.6 281.6 45.2 C282 44.7 282 44.4 282.4 44.3Z" fill="#c6c8cd"/>
<path d="M283.2 59.9h0.9v0.9h-0.9zM278.3 54.9h0.9v0.9h-0.9zM275.5 49.1h0.9v0.9h-0.9zM279.9 46.2h0.9v0.9h-0.9zM286.6 43.6h0.9v0.9h-0.9zM292.9 43.2h0.9v0.9h-0.9zM288.3 58.9h0.9v0.9h-0.9zM291.4 58.3h0.9v0.9h-0.9zM282.9 59.4h0.9v0.9h-0.9zM292 56.2h0.9v0.9h-0.9zM294.3 55h0.9v0.9h-0.9zM296.4 43.8h0.9v0.9h-0.9zM290.9 57.1h0.9v0.9h-0.9zM285.9 45.2h0.9v0.9h-0.9zM280.4 44.8h0.9v0.9h-0.9zM278.1 55.2h0.9v0.9h-0.9zM286.7 44.4h0.9v0.9h-0.9zM277.3 49.3h0.9v0.9h-0.9zM284.5 43h0.9v0.9h-0.9zM283 63.9h0.9v0.9h-0.9zM282.1 59.8h0.9v0.9h-0.9zM292.2 44.9h0.9v0.9h-0.9zM289.3 44.6h0.9v0.9h-0.9zM277.4 50.2h0.9v0.9h-0.9zM289.7 57.9h0.9v0.9h-0.9zM290.5 57.5h0.9v0.9h-0.9zM287.2 59.5h0.9v0.9h-0.9zM295.1 50.5h0.9v0.9h-0.9zM281.2 43.5h0.9v0.9h-0.9zM283 60h0.9v0.9h-0.9zM277 50.2h0.9v0.9h-0.9zM278.2 52.7h0.9v0.9h-0.9zM285 60.3h0.9v0.9h-0.9zM296.5 46.3h0.9v0.9h-0.9zM288.4 58.7h0.9v0.9h-0.9zM276.9 51.1h0.9v0.9h-0.9zM293.6 53.8h0.9v0.9h-0.9zM286 44.3h0.9v0.9h-0.9zM281.7 58.9h0.9v0.9h-0.9zM287.6 58.7h0.9v0.9h-0.9zM285.6 44.6h0.9v0.9h-0.9zM281.3 59.2h0.9v0.9h-0.9zM290.1 57.2h0.9v0.9h-0.9zM294.5 45h0.9v0.9h-0.9zM295.5 50.4h0.9v0.9h-0.9zM278 47.9h0.9v0.9h-0.9z" fill="#c6c8cd"/>
<path d="M285.8 45.5h0.8v0.8h-0.8zM284.3 60.4h0.8v0.8h-0.8zM284.5 55h0.8v0.8h-0.8zM294.1 50.4h0.8v0.8h-0.8zM284.5 52.8h0.8v0.8h-0.8zM282.1 47.5h0.8v0.8h-0.8zM279.7 55.8h0.8v0.8h-0.8zM289.2 54.7h0.8v0.8h-0.8zM285.7 51.3h0.8v0.8h-0.8zM280 53.4h0.8v0.8h-0.8zM282.5 46h0.8v0.8h-0.8zM294.3 49h0.8v0.8h-0.8zM288.5 48.7h0.8v0.8h-0.8zM293.4 47.5h0.8v0.8h-0.8zM289.8 53.5h0.8v0.8h-0.8zM283.5 45.3h0.8v0.8h-0.8zM286.7 53h0.8v0.8h-0.8zM293.2 47.4h0.8v0.8h-0.8zM280.8 49.2h0.8v0.8h-0.8zM292.9 47.9h0.8v0.8h-0.8zM286.9 45.8h0.8v0.8h-0.8zM284.8 53.6h0.8v0.8h-0.8zM285.4 52.7h0.8v0.8h-0.8zM288.5 49.9h0.8v0.8h-0.8zM282.7 47.1h0.8v0.8h-0.8zM284.6 54.4h0.8v0.8h-0.8zM288 47.4h0.8v0.8h-0.8zM280.4 53.7h0.8v0.8h-0.8zM280.4 55.3h0.8v0.8h-0.8zM290.1 53h0.8v0.8h-0.8zM286.7 58.8h0.8v0.8h-0.8z" fill="#fff" fill-opacity="0.7"/>
<path d="M268.5 57.5 C268.8 56.6 269.5 56 270.1 55.4 C270.7 54.9 271.3 54.4 272.1 54 C272.8 53.6 273.7 53.3 274.4 52.9 C275.1 52.6 275.8 52.1 276.4 51.8 C277 51.5 277.4 50.7 277.8 51.1 C278.2 51.4 278.3 52.8 279 53.9 C279.6 55 280.9 56.5 281.7 57.6 C282.5 58.7 282.9 59.7 283.7 60.6 C284.5 61.5 286 62.3 286.3 63 C286.6 63.7 286.3 64.2 285.7 64.5 C285.2 64.8 283.8 64.2 283.1 64.9 C282.4 65.5 281.9 67.2 281.6 68.4 C281.4 69.6 281.7 71 281.6 72.1 C281.5 73.2 281.6 74.3 281.1 74.9 C280.6 75.4 279.4 75.6 278.6 75.5 C277.8 75.4 276.8 74.8 276.1 74.1 C275.5 73.4 275 72.4 274.9 71.3 C274.8 70.3 275.8 68.7 275.6 67.6 C275.3 66.6 274.4 65.9 273.4 65.3 C272.5 64.6 271 64.5 270.1 63.8 C269.2 63.1 268.5 62.1 268.2 61 C267.9 60 268.2 58.5 268.5 57.5Z" fill="#c6c8cd"/>
<path d="M269.8 55.1h0.9v0.9h-0.9zM281.9 65.8h0.9v0.9h-0.9zM285.5 63.4h0.9v0.9h-0.9zM281 72.3h0.9v0.9h-0.9zM275.5 72.7h0.9v0.9h-0.9zM275.9 74.7h0.9v0.9h-0.9zM274.9 72.6h0.9v0.9h-0.9zM282.2 56.9h0.9v0.9h-0.9zM285.7 62.8h0.9v0.9h-0.9zM273 66.7h0.9v0.9h-0.9zM280.8 74.4h0.9v0.9h-0.9zM269.2 62.8h0.9v0.9h-0.9zM267 60.6h0.9v0.9h-0.9zM273.9 66h0.9v0.9h-0.9zM270.8 66.8h0.9v0.9h-0.9zM283 64.1h0.9v0.9h-0.9zM275.4 66.6h0.9v0.9h-0.9zM281.2 69.9h0.9v0.9h-0.9zM269 55.4h0.9v0.9h-0.9zM282.7 64.9h0.9v0.9h-0.9zM271.6 65.7h0.9v0.9h-0.9zM269.5 64.1h0.9v0.9h-0.9zM274.8 51.5h0.9v0.9h-0.9zM276.4 74.1h0.9v0.9h-0.9zM281 73.4h0.9v0.9h-0.9zM266.5 60.6h0.9v0.9h-0.9zM281.4 69.6h0.9v0.9h-0.9zM285.9 64h0.9v0.9h-0.9zM273.4 52.1h0.9v0.9h-0.9zM267.4 61.7h0.9v0.9h-0.9zM281.5 69.9h0.9v0.9h-0.9zM272.9 53h0.9v0.9h-0.9zM281.1 69.2h0.9v0.9h-0.9zM271 64h0.9v0.9h-0.9zM274.9 70h0.9v0.9h-0.9zM283.3 66.3h0.9v0.9h-0.9zM277.4 51.6h0.9v0.9h-0.9zM281.2 68.2h0.9v0.9h-0.9zM283.6 64.2h0.9v0.9h-0.9zM270.3 64.3h0.9v0.9h-0.9zM286.4 64.1h0.9v0.9h-0.9zM282.8 66.6h0.9v0.9h-0.9zM284.3 60.9h0.9v0.9h-0.9zM282.5 67.1h0.9v0.9h-0.9zM266.8 59.6h0.9v0.9h-0.9zM282.2 71.9h0.9v0.9h-0.9zM278.2 52.3h0.9v0.9h-0.9zM278 52.3h0.9v0.9h-0.9zM271.8 65.2h0.9v0.9h-0.9z" fill="#c6c8cd"/>
<path d="M280.3 63.2h0.8v0.8h-0.8zM278.2 67h0.8v0.8h-0.8zM276.3 52.6h0.8v0.8h-0.8zM274.6 61.7h0.8v0.8h-0.8zM285 64h0.8v0.8h-0.8zM280.7 58.5h0.8v0.8h-0.8zM277.4 52.5h0.8v0.8h-0.8zM278.3 67.6h0.8v0.8h-0.8zM274 53.8h0.8v0.8h-0.8zM278 54h0.8v0.8h-0.8zM272.2 62.3h0.8v0.8h-0.8zM276 54h0.8v0.8h-0.8zM273.5 63.9h0.8v0.8h-0.8zM273.4 61h0.8v0.8h-0.8zM280.9 63.1h0.8v0.8h-0.8zM278.6 69.9h0.8v0.8h-0.8zM275 61.8h0.8v0.8h-0.8zM277.6 65.1h0.8v0.8h-0.8zM272.8 55.2h0.8v0.8h-0.8zM269 56.8h0.8v0.8h-0.8zM276.9 51.1h0.8v0.8h-0.8zM272.4 62.3h0.8v0.8h-0.8zM270.1 58.8h0.8v0.8h-0.8zM279.6 58h0.8v0.8h-0.8zM280 56.3h0.8v0.8h-0.8zM276.4 55.9h0.8v0.8h-0.8zM280.3 65.9h0.8v0.8h-0.8zM281.9 63.3h0.8v0.8h-0.8zM278.5 62.7h0.8v0.8h-0.8zM281.5 63.7h0.8v0.8h-0.8zM272.8 63.3h0.8v0.8h-0.8z" fill="#fff" fill-opacity="0.7"/>
<path d="M243.4 57 C243.6 56.8 244.5 56.7 245.3 56.5 C246 56.2 247.2 56.4 248 55.7 C248.8 55 249.5 53.3 250.1 52.3 C250.6 51.3 250.7 50.4 251.4 49.8 C252 49.1 253 48.8 254 48.4 C255 47.9 256.5 47.3 257.3 46.9 C258.1 46.5 258.3 45.7 258.7 46.1 C259.1 46.6 259.2 48.8 259.6 49.7 C260 50.6 260.4 51 261 51.6 C261.6 52.2 262.5 52.8 263.1 53.5 C263.8 54.2 264.3 55 264.7 55.9 C265.2 56.9 265.7 57.9 265.8 59 C265.8 60.1 265.5 61.2 265.1 62.6 C264.8 64 264.6 66.4 263.6 67.2 C262.6 68.1 260.7 67.6 259.2 67.6 C257.7 67.6 255.8 67.4 254.5 67.4 C253.2 67.4 252 68.3 251.3 67.7 C250.6 67.1 250.9 64.9 250.4 63.8 C250 62.6 249.4 61.6 248.7 60.8 C248.1 59.9 247.5 59 246.7 58.5 C245.9 58 244.5 58 244 57.8 C243.4 57.5 243.2 57.2 243.4 57Z" fill="#c6c8cd"/>
<path d="M254 46.5h0.9v0.9h-0.9zM265.2 60.3h0.9v0.9h-0.9zM256.4 67.1h0.9v0.9h-0.9zM265.4 59h0.9v0.9h-0.9zM264.5 63.9h0.9v0.9h-0.9zM266.4 59.4h0.9v0.9h-0.9zM249 62.1h0.9v0.9h-0.9zM251.6 67.8h0.9v0.9h-0.9zM248.9 52.1h0.9v0.9h-0.9zM258.7 47.6h0.9v0.9h-0.9zM264.9 58.3h0.9v0.9h-0.9zM241.8 57h0.9v0.9h-0.9zM260.5 51.6h0.9v0.9h-0.9zM246.5 59.2h0.9v0.9h-0.9zM263.8 68.5h0.9v0.9h-0.9zM260.5 51.5h0.9v0.9h-0.9zM251 66.9h0.9v0.9h-0.9zM249.9 50.3h0.9v0.9h-0.9zM263.1 53.5h0.9v0.9h-0.9zM264.6 55.9h0.9v0.9h-0.9zM248.3 61.3h0.9v0.9h-0.9zM252.9 67.2h0.9v0.9h-0.9zM261.2 50.5h0.9v0.9h-0.9zM252.6 47.5h0.9v0.9h-0.9zM251.2 48.7h0.9v0.9h-0.9zM249.8 50.7h0.9v0.9h-0.9zM263.1 52.7h0.9v0.9h-0.9zM259.4 68.2h0.9v0.9h-0.9zM244.4 55.9h0.9v0.9h-0.9zM254 67.4h0.9v0.9h-0.9zM258.9 46.1h0.9v0.9h-0.9zM257.6 67.5h0.9v0.9h-0.9zM244.9 57.9h0.9v0.9h-0.9zM264.4 61.9h0.9v0.9h-0.9zM258 45.2h0.9v0.9h-0.9zM243.4 57.1h0.9v0.9h-0.9zM263.8 65.4h0.9v0.9h-0.9zM244.6 57.2h0.9v0.9h-0.9zM250.9 66.6h0.9v0.9h-0.9zM251.9 49h0.9v0.9h-0.9zM243.4 55.7h0.9v0.9h-0.9zM248.1 54.5h0.9v0.9h-0.9zM251.5 48.7h0.9v0.9h-0.9zM251.7 67.2h0.9v0.9h-0.9zM244.6 57.9h0.9v0.9h-0.9zM249.6 50.5h0.9v0.9h-0.9zM250.9 66.1h0.9v0.9h-0.9zM251.2 66.9h0.9v0.9h-0.9zM250.3 68h0.9v0.9h-0.9zM246.4 56.1h0.9v0.9h-0.9zM256.3 67.7h0.9v0.9h-0.9zM253.4 66.8h0.9v0.9h-0.9zM258.4 45.3h0.9v0.9h-0.9z" fill="#c6c8cd"/>
<path d="M254.7 58.8h0.8v0.8h-0.8zM258.4 49.6h0.8v0.8h-0.8zM255.7 66.6h0.8v0.8h-0.8zM264.5 60.2h0.8v0.8h-0.8zM252.9 54.8h0.8v0.8h-0.8zM253.5 48.4h0.8v0.8h-0.8zM251.1 64.6h0.8v0.8h-0.8zM255.6 65.1h0.8v0.8h-0.8zM263.1 61.1h0.8v0.8h-0.8zM253.1 51h0.8v0.8h-0.8zM255.6 52.5h0.8v0.8h-0.8zM257.3 53.1h0.8v0.8h-0.8zM252.4 57.4h0.8v0.8h-0.8zM251 66.4h0.8v0.8h-0.8zM264.4 57.1h0.8v0.8h-0.8zM255.6 50h0.8v0.8h-0.8zM260.7 56.2h0.8v0.8h-0.8zM260.1 65.6h0.8v0.8h-0.8zM257 60.7h0.8v0.8h-0.8zM255.3 48.6h0.8v0.8h-0.8zM256.6 50.7h0.8v0.8h-0.8zM247.9 59.5h0.8v0.8h-0.8zM259 58.3h0.8v0.8h-0.8zM253.9 54.8h0.8v0.8h-0.8zM254.7 53h0.8v0.8h-0.8zM261.9 63.2h0.8v0.8h-0.8zM260.8 56.3h0.8v0.8h-0.8zM254.2 63.9h0.8v0.8h-0.8zM253.2 66.3h0.8v0.8h-0.8zM254.1 48h0.8v0.8h-0.8zM259.9 56.9h0.8v0.8h-0.8zM260.7 53h0.8v0.8h-0.8zM258.1 64.8h0.8v0.8h-0.8zM255.9 48.6h0.8v0.8h-0.8zM263.7 62h0.8v0.8h-0.8zM253.6 66.5h0.8v0.8h-0.8zM257.1 58.6h0.8v0.8h-0.8zM254.6 62.4h0.8v0.8h-0.8zM254.9 52.5h0.8v0.8h-0.8z" fill="#fff" fill-opacity="0.7"/>
<path d="M250.9 67.2 C251.6 67.1 253.5 67.2 255.3 67.2 C257.1 67.2 260.6 67.1 261.9 67.2 C263.2 67.2 262.9 67 263 67.7 C263.2 68.4 263 70 262.7 71.1 C262.4 72.2 261.2 73.1 261 74.1 C260.9 75.1 261.5 76 261.7 77.1 C261.9 78.3 262.3 79.7 262.3 80.7 C262.4 81.8 262.2 82.5 261.8 83.3 C261.5 84.1 260.7 84.6 260 85.3 C259.3 85.9 258.4 86.8 257.8 87.3 C257.2 87.9 256.9 88.4 256.5 88.5 C256 88.6 255.5 88.3 255 87.8 C254.6 87.3 254.1 86.3 253.6 85.6 C253.2 84.8 252.6 83.9 252.2 83.1 C251.8 82.2 251.4 81.3 251.2 80.4 C251 79.5 251 78.8 251 77.8 C250.9 76.8 250.8 75.4 251 74.1 C251.1 72.9 251.6 71.6 251.6 70.5 C251.7 69.4 251.4 68 251.3 67.4 C251.2 66.9 250.2 67.2 250.9 67.2Z" fill="#c6c8cd"/>
<path d="M252.7 87.1h0.9v0.9h-0.9zM253.8 67h0.9v0.9h-0.9zM259.5 64.6h0.9v0.9h-0.9zM262.3 79.8h0.9v0.9h-0.9zM253.4 85.9h0.9v0.9h-0.9zM257.2 87.2h0.9v0.9h-0.9zM251.1 68.4h0.9v0.9h-0.9zM260.8 74.6h0.9v0.9h-0.9zM250.1 70.3h0.9v0.9h-0.9zM251.1 70.8h0.9v0.9h-0.9zM253.1 88.4h0.9v0.9h-0.9zM255.6 88h0.9v0.9h-0.9zM256.1 88.4h0.9v0.9h-0.9zM255.1 66h0.9v0.9h-0.9zM261.5 81.3h0.9v0.9h-0.9zM258 85.9h0.9v0.9h-0.9zM262.6 70.4h0.9v0.9h-0.9zM255.4 88.1h0.9v0.9h-0.9zM250 77.6h0.9v0.9h-0.9zM262.9 82.5h0.9v0.9h-0.9zM261 75.4h0.9v0.9h-0.9zM249.7 72.8h0.9v0.9h-0.9zM252 83.3h0.9v0.9h-0.9zM250.8 65.9h0.9v0.9h-0.9zM251.1 79.6h0.9v0.9h-0.9zM250.8 66.9h0.9v0.9h-0.9zM262.4 72.3h0.9v0.9h-0.9zM250.4 75.7h0.9v0.9h-0.9zM251 72.1h0.9v0.9h-0.9zM261.4 71.1h0.9v0.9h-0.9zM259.1 84.9h0.9v0.9h-0.9zM261.5 72.6h0.9v0.9h-0.9zM254.3 89.8h0.9v0.9h-0.9zM252.8 84.3h0.9v0.9h-0.9zM249.1 74.3h0.9v0.9h-0.9zM258.6 65.6h0.9v0.9h-0.9zM258.3 85.4h0.9v0.9h-0.9zM263.1 67.9h0.9v0.9h-0.9zM251 67.4h0.9v0.9h-0.9zM250.7 68.3h0.9v0.9h-0.9zM254.8 65.7h0.9v0.9h-0.9zM260.6 83.9h0.9v0.9h-0.9zM250.2 76.1h0.9v0.9h-0.9zM249.6 68.3h0.9v0.9h-0.9z" fill="#c6c8cd"/>
<path d="M255.4 75.8h0.8v0.8h-0.8zM259.7 81.8h0.8v0.8h-0.8zM255.2 66.9h0.8v0.8h-0.8zM256.9 74.4h0.8v0.8h-0.8zM254.3 86.7h0.8v0.8h-0.8zM250.7 74.5h0.8v0.8h-0.8zM260 81.2h0.8v0.8h-0.8zM258.7 77.2h0.8v0.8h-0.8zM259.8 77h0.8v0.8h-0.8zM257.4 84h0.8v0.8h-0.8zM256.5 76.9h0.8v0.8h-0.8zM256.4 82.5h0.8v0.8h-0.8zM259.5 73.9h0.8v0.8h-0.8zM260 74.8h0.8v0.8h-0.8zM258.7 74.8h0.8v0.8h-0.8zM260 74.9h0.8v0.8h-0.8zM254.8 76h0.8v0.8h-0.8zM257.9 67.5h0.8v0.8h-0.8zM257.2 86.6h0.8v0.8h-0.8zM259.3 82.1h0.8v0.8h-0.8zM259.7 75.8h0.8v0.8h-0.8zM261.2 82.2h0.8v0.8h-0.8zM253.2 77.4h0.8v0.8h-0.8zM256.8 74.6h0.8v0.8h-0.8zM256.5 76.5h0.8v0.8h-0.8zM252.7 83.3h0.8v0.8h-0.8zM255.2 79.5h0.8v0.8h-0.8zM257.4 82.6h0.8v0.8h-0.8z" fill="#fff" fill-opacity="0.7"/>
<path d="M263.2 90.7 C263.3 90.1 263.9 90 264.4 90.1 C264.8 90.3 265.2 90.9 265.9 91.4 C266.5 91.9 267.6 92.6 268.4 93.1 C269.2 93.5 270.1 93.9 270.9 94.4 C271.6 94.9 272.3 95.4 272.9 96 C273.5 96.5 274.1 97.2 274.3 97.7 C274.5 98.2 274.4 98.7 274.1 99 C273.8 99.4 273.4 99.8 272.6 99.8 C271.9 99.8 270.8 99.5 269.9 99.1 C269 98.8 268.2 98.4 267.5 97.8 C266.7 97.2 266.1 96.1 265.4 95.3 C264.8 94.6 264 94.1 263.6 93.3 C263.2 92.6 263.1 91.2 263.2 90.7Z" fill="#c6c8cd"/>
<path d="M270.2 94.3h0.9v0.9h-0.9zM272.2 95.3h0.9v0.9h-0.9zM273.7 98.5h0.9v0.9h-0.9zM262.5 89.8h0.9v0.9h-0.9zM263.4 90.4h0.9v0.9h-0.9zM273 99.3h0.9v0.9h-0.9zM263.1 95.1h0.9v0.9h-0.9zM272.9 96.2h0.9v0.9h-0.9zM274.1 95.8h0.9v0.9h-0.9zM264.4 94.8h0.9v0.9h-0.9zM273.9 97.2h0.9v0.9h-0.9zM271.4 94.5h0.9v0.9h-0.9zM264.6 94.4h0.9v0.9h-0.9zM261.2 89.3h0.9v0.9h-0.9zM271.8 99.1h0.9v0.9h-0.9zM270.8 93.6h0.9v0.9h-0.9zM263.9 93.4h0.9v0.9h-0.9zM273.3 98.2h0.9v0.9h-0.9zM270.3 91.8h0.9v0.9h-0.9zM268.9 98.3h0.9v0.9h-0.9zM269.6 98.9h0.9v0.9h-0.9z" fill="#c6c8cd"/>
<path d="M271.2 95.9h0.8v0.8h-0.8zM269.3 94.7h0.8v0.8h-0.8zM270.1 94.5h0.8v0.8h-0.8zM266.2 93.7h0.8v0.8h-0.8zM266.6 93.9h0.8v0.8h-0.8zM264.9 94.4h0.8v0.8h-0.8z" fill="#fff" fill-opacity="0.7"/>
<path d="M264 54.9 C263.9 54.5 264.4 53.4 264.8 52.6 C265.2 51.9 265.7 51 266.3 50.3 C266.8 49.7 267.5 49.1 268.1 48.7 C268.7 48.4 269.2 48.2 269.8 48.2 C270.4 48.2 271.2 48.5 271.9 48.7 C272.6 49 273.5 49.3 273.9 49.7 C274.4 50 274.8 50.6 274.8 51 C274.7 51.4 274.1 52.1 273.5 52.2 C273 52.2 272.1 51.7 271.4 51.5 C270.8 51.3 270 50.8 269.4 50.8 C268.7 50.8 268.2 51.1 267.7 51.5 C267.2 51.9 266.8 52.5 266.5 53.1 C266.1 53.7 265.8 54.8 265.4 55.1 C265 55.4 264.1 55.3 264 54.9Z" fill="#c6c8cd"/>
<path d="M267.9 47h0.9v0.9h-0.9zM267.5 50.9h0.9v0.9h-0.9zM274.1 49.8h0.9v0.9h-0.9zM271.4 51.2h0.9v0.9h-0.9zM267 49.1h0.9v0.9h-0.9zM268.7 47h0.9v0.9h-0.9zM265.6 53h0.9v0.9h-0.9zM266.6 50.7h0.9v0.9h-0.9zM274 48.8h0.9v0.9h-0.9zM273.8 49.1h0.9v0.9h-0.9zM264.6 51.6h0.9v0.9h-0.9zM265.6 49h0.9v0.9h-0.9zM268.5 48.2h0.9v0.9h-0.9zM263.9 52.7h0.9v0.9h-0.9zM274.1 49.8h0.9v0.9h-0.9zM268.9 50.5h0.9v0.9h-0.9zM267.7 48.2h0.9v0.9h-0.9zM273.7 51.6h0.9v0.9h-0.9zM265.7 53.9h0.9v0.9h-0.9zM274.4 49.6h0.9v0.9h-0.9zM262.8 52.9h0.9v0.9h-0.9z" fill="#c6c8cd"/>
<path d="M272.8 50.8h0.8v0.8h-0.8zM267.7 49.6h0.8v0.8h-0.8zM265.1 54.3h0.8v0.8h-0.8z" fill="#fff" fill-opacity="0.7"/>
<path d="M268.5 48.5 C268.8 48.2 269.9 48 270.6 48.1 C271.3 48.1 272.4 48.4 272.7 48.7 C273 49.1 272.9 50 272.5 50.3 C272.1 50.6 270.9 50.6 270.2 50.6 C269.5 50.5 268.8 50.5 268.5 50.1 C268.2 49.8 268.1 48.9 268.5 48.5Z" fill="#c6c8cd"/>
<path d="M272.2 47.9h0.9v0.9h-0.9zM268.1 48.6h0.9v0.9h-0.9zM272.3 49.1h0.9v0.9h-0.9zM272.1 48.3h0.9v0.9h-0.9zM267.1 48.2h0.9v0.9h-0.9zM268.3 48.1h0.9v0.9h-0.9zM267.6 47.8h0.9v0.9h-0.9zM268.3 47.2h0.9v0.9h-0.9zM271.3 50.3h0.9v0.9h-0.9z" fill="#c6c8cd"/>
<path d="M271.8 48.5h0.8v0.8h-0.8z" fill="#fff" fill-opacity="0.7"/>
<path d="M262.7 48 C262.9 47.7 263.5 47.4 264 47.1 C264.5 46.9 265.1 46.5 265.6 46.2 C266.2 46 266.8 45.5 267.1 45.5 C267.4 45.5 267.7 46 267.5 46.2 C267.3 46.5 266.6 46.8 266.1 47.1 C265.5 47.4 264.9 47.8 264.4 48.1 C263.9 48.3 263.3 48.5 263.1 48.5 C262.8 48.5 262.6 48.2 262.7 48Z" fill="#c6c8cd"/>
<path d="M262 47.9h0.9v0.9h-0.9zM266.6 47.3h0.9v0.9h-0.9zM264 47.4h0.9v0.9h-0.9zM265.8 46.4h0.9v0.9h-0.9zM263.7 47h0.9v0.9h-0.9zM266.1 46.9h0.9v0.9h-0.9zM261.7 45.9h0.9v0.9h-0.9zM265.5 45.6h0.9v0.9h-0.9zM265 45.8h0.9v0.9h-0.9zM267.8 45.3h0.9v0.9h-0.9zM266.5 44.8h0.9v0.9h-0.9z" fill="#c6c8cd"/>
<path d="M268.6 77.4h0.9v0.9h-0.9zM264.4 62.3h0.9v0.9h-0.9zM265.3 65.1h0.9v0.9h-0.9zM265 65.7h0.9v0.9h-0.9zM264.7 70.9h0.9v0.9h-0.9zM270.3 68.2h0.9v0.9h-0.9zM268.7 77.7h0.9v0.9h-0.9zM267.1 79.2h0.9v0.9h-0.9zM264.1 65.8h0.9v0.9h-0.9zM266.7 64.9h0.9v0.9h-0.9zM265.7 60.5h0.9v0.9h-0.9zM264.4 60.5h0.9v0.9h-0.9zM269.1 75h0.9v0.9h-0.9zM269 78.1h0.9v0.9h-0.9zM267.9 68.4h0.9v0.9h-0.9zM268.5 80.4h0.9v0.9h-0.9zM265.4 61.5h0.9v0.9h-0.9zM268.5 67.5h0.9v0.9h-0.9zM271.7 73.7h0.9v0.9h-0.9zM271.8 73.2h0.9v0.9h-0.9zM269.6 74.7h0.9v0.9h-0.9zM271 76.8h0.9v0.9h-0.9zM266.4 80h0.9v0.9h-0.9zM266.9 81.7h0.9v0.9h-0.9zM267.5 65.2h0.9v0.9h-0.9zM269.9 76.7h0.9v0.9h-0.9zM268 79.8h0.9v0.9h-0.9zM265.9 67.2h0.9v0.9h-0.9zM265.1 55.6h0.9v0.9h-0.9zM266.7 51.5h0.9v0.9h-0.9zM269.7 70.6h0.9v0.9h-0.9zM267.8 76.5h0.9v0.9h-0.9zM269.4 72.7h0.9v0.9h-0.9zM264.4 60.9h0.9v0.9h-0.9zM269.2 78.1h0.9v0.9h-0.9zM270.8 69.7h0.9v0.9h-0.9zM267.9 73.7h0.9v0.9h-0.9zM268.3 73.7h0.9v0.9h-0.9zM265.6 77h0.9v0.9h-0.9zM263.7 64.2h0.9v0.9h-0.9zM266.3 63.3h0.9v0.9h-0.9zM268 73.5h0.9v0.9h-0.9zM266.6 61.7h0.9v0.9h-0.9zM268.2 74.8h0.9v0.9h-0.9zM267.3 68.9h0.9v0.9h-0.9zM266 62.8h0.9v0.9h-0.9zM264.6 68.3h0.9v0.9h-0.9zM270.3 79.3h0.9v0.9h-0.9zM267 51.9h0.9v0.9h-0.9zM270 75h0.9v0.9h-0.9zM271 68.8h0.9v0.9h-0.9zM267.2 72.9h0.9v0.9h-0.9zM265.5 58.9h0.9v0.9h-0.9zM271.3 73.6h0.9v0.9h-0.9zM266.3 73.8h0.9v0.9h-0.9zM268.8 64.7h0.9v0.9h-0.9zM269.3 82.6h0.9v0.9h-0.9zM263.6 63.2h0.9v0.9h-0.9zM267.6 65.4h0.9v0.9h-0.9zM266.6 55.6h0.9v0.9h-0.9zM270.7 70.8h0.9v0.9h-0.9zM264.7 57.3h0.9v0.9h-0.9zM266.6 62h0.9v0.9h-0.9zM268.8 80h0.9v0.9h-0.9zM264.6 69h0.9v0.9h-0.9zM267.4 64.7h0.9v0.9h-0.9zM267.4 77.1h0.9v0.9h-0.9zM270.5 72.7h0.9v0.9h-0.9zM264.7 63.8h0.9v0.9h-0.9zM267.2 80.7h0.9v0.9h-0.9zM267.1 65.4h0.9v0.9h-0.9zM267.5 78.8h0.9v0.9h-0.9zM267.5 72.6h0.9v0.9h-0.9zM265.4 68h0.9v0.9h-0.9zM266.4 80.3h0.9v0.9h-0.9zM267.5 81.6h0.9v0.9h-0.9zM269.5 80.9h0.9v0.9h-0.9zM271 77.4h0.9v0.9h-0.9zM269.6 70.5h0.9v0.9h-0.9zM270.4 71.5h0.9v0.9h-0.9zM266.8 75.3h0.9v0.9h-0.9zM270.8 77.9h0.9v0.9h-0.9zM269.9 65.4h0.9v0.9h-0.9zM270.1 79.8h0.9v0.9h-0.9zM268 53.7h0.9v0.9h-0.9zM268.6 64.6h0.9v0.9h-0.9zM264 60.6h0.9v0.9h-0.9zM268.6 69h0.9v0.9h-0.9zM265.9 71.4h0.9v0.9h-0.9zM264.5 59.7h0.9v0.9h-0.9zM264.6 59.5h0.9v0.9h-0.9zM269.9 78.3h0.9v0.9h-0.9zM270.3 70h0.9v0.9h-0.9zM268.1 77.3h0.9v0.9h-0.9zM268.9 65.6h0.9v0.9h-0.9zM265.5 72.3h0.9v0.9h-0.9zM272.5 71.7h0.9v0.9h-0.9zM263.6 63.4h0.9v0.9h-0.9zM269 72.7h0.9v0.9h-0.9zM265.3 69.9h0.9v0.9h-0.9zM269.2 74h0.9v0.9h-0.9zM265.5 73.9h0.9v0.9h-0.9zM267.6 73.2h0.9v0.9h-0.9zM268.6 73.7h0.9v0.9h-0.9zM267.1 79.5h0.9v0.9h-0.9zM265.1 54h0.9v0.9h-0.9zM271.3 74.5h0.9v0.9h-0.9zM264 69.3h0.9v0.9h-0.9zM269.4 81h0.9v0.9h-0.9zM272.4 71.7h0.9v0.9h-0.9zM272.5 66.8h0.9v0.9h-0.9zM266.7 51.9h0.9v0.9h-0.9zM271.1 72.1h0.9v0.9h-0.9z" fill="#c6c8cd"/>
<path d="M227.8 59.5h1v1h-1zM228.7 59.5h1v1h-1zM229.6 58.3h1v1h-1zM230.9 58.5h1v1h-1zM231.8 58.4h1v1h-1zM232.5 57.1h1v1h-1zM233.5 57.1h1v1h-1zM234.4 57.3h1v1h-1zM235.2 57.4h1v1h-1zM236.2 56.6h1v1h-1zM237.3 56.5h1v1h-1zM238.1 56.5h1v1h-1zM238.7 56.7h1v1h-1zM239.4 57h1v1h-1zM240.6 57h1v1h-1zM240.9 56.1h1v1h-1zM241.9 56.9h1v1h-1zM242.8 57.1h1v1h-1z" fill="#b3b5bb"/>
<path d="M261.5 85.4h1v1h-1zM261.5 86h1v1h-1zM261.8 86.9h1v1h-1zM262.5 87.6h1v1h-1zM262.5 88.6h1v1h-1z" fill="#b3b5bb"/>
<path d="M271.1 29.1h0.9v0.9h-0.9zM270.8 31.1h0.9v0.9h-0.9zM270.2 32.6h0.9v0.9h-0.9zM269 30.9h0.9v0.9h-0.9zM270.6 29.5h0.9v0.9h-0.9zM267.2 31.4h0.9v0.9h-0.9zM269.5 31.7h0.9v0.9h-0.9z" fill="#c6c8cd"/>
<path d="M273.5 31.4h0.9v0.9h-0.9zM273.4 31.3h0.9v0.9h-0.9z" fill="#c6c8cd"/>
<path d="M260.5 45.9h0.9v0.9h-0.9zM260.4 45.8h0.9v0.9h-0.9z" fill="#c6c8cd"/>
<path d="M261 44.9h0.9v0.9h-0.9zM261.1 45.2h0.9v0.9h-0.9z" fill="#c6c8cd"/>
<path d="M261.6 44.2h0.9v0.9h-0.9zM261.7 43.9h0.9v0.9h-0.9z" fill="#c6c8cd"/>
<path d="M289.5 31.2h0.9v0.9h-0.9zM290.2 31.3h0.9v0.9h-0.9z" fill="#c6c8cd"/>
<path d="M267.4 67.5h0.9v0.9h-0.9zM268.4 67.1h0.9v0.9h-0.9zM269.7 67.4h0.9v0.9h-0.9zM266.6 68h0.9v0.9h-0.9zM265.7 68.1h0.9v0.9h-0.9zM265.7 67.9h0.9v0.9h-0.9zM269.4 67.6h0.9v0.9h-0.9zM265.6 67.6h0.9v0.9h-0.9zM265.9 67.7h0.9v0.9h-0.9z" fill="#c6c8cd"/>
<path d="M264.4 71.1h0.9v0.9h-0.9zM269 70.1h0.9v0.9h-0.9zM266.7 70.1h0.9v0.9h-0.9zM264.3 69.5h0.9v0.9h-0.9zM267.4 71.5h0.9v0.9h-0.9zM267.2 71.4h0.9v0.9h-0.9zM266.9 71.2h0.9v0.9h-0.9zM267.3 70h0.9v0.9h-0.9zM268.2 69.4h0.9v0.9h-0.9z" fill="#c6c8cd"/>
<path d="M271.4 71.7h0.9v0.9h-0.9zM270.3 70.8h0.9v0.9h-0.9zM271.5 71.3h0.9v0.9h-0.9zM271.5 72h0.9v0.9h-0.9zM270.4 71.7h0.9v0.9h-0.9z" fill="#c6c8cd"/>
<path d="M267.9 74.5h0.9v0.9h-0.9zM267.4 75.1h0.9v0.9h-0.9zM266.5 74.5h0.9v0.9h-0.9zM268.3 76.9h0.9v0.9h-0.9zM270.5 77.5h0.9v0.9h-0.9zM265.1 74.8h0.9v0.9h-0.9zM267.6 74.8h0.9v0.9h-0.9z" fill="#c6c8cd"/>
<path d="M268 79.9h0.9v0.9h-0.9zM267.5 81.7h0.9v0.9h-0.9zM268.1 79.8h0.9v0.9h-0.9z" fill="#c6c8cd"/>
<path d="M270.2 78.8h0.9v0.9h-0.9zM270.6 76.4h0.9v0.9h-0.9zM272.4 75.7h0.9v0.9h-0.9zM269.4 77.2h0.9v0.9h-0.9z" fill="#c6c8cd"/>
<path d="M255.7 92.2h0.9v0.9h-0.9zM255.9 91.5h0.9v0.9h-0.9zM255.7 90.5h0.9v0.9h-0.9zM255.4 89.9h0.9v0.9h-0.9zM255.6 89.8h0.9v0.9h-0.9zM255.4 90.9h0.9v0.9h-0.9z" fill="#c6c8cd"/>
<path d="M282 79.2h0.9v0.9h-0.9zM278.5 79.4h0.9v0.9h-0.9zM280.5 78.9h0.9v0.9h-0.9zM278.6 79h0.9v0.9h-0.9zM276.9 79.6h0.9v0.9h-0.9z" fill="#c6c8cd"/>
<path d="M266 73.7h0.9v0.9h-0.9zM265.9 74.4h0.9v0.9h-0.9z" fill="#c6c8cd"/>
<path d="M257.5 57.4h1v1h-1zM251.1 61.1h1v1h-1zM247.7 58.8h1v1h-1zM252.2 48.4h1v1h-1zM261 62.1h1v1h-1zM252.7 55.4h1v1h-1zM258.6 53.5h1v1h-1zM255.5 53.5h1v1h-1zM260.1 54.9h1v1h-1zM246.2 57.7h1v1h-1zM263.8 60.9h1v1h-1zM261.7 54.7h1v1h-1zM261.7 65.7h1v1h-1zM261.7 52.2h1v1h-1zM254.9 57.5h1v1h-1zM257.1 49.2h1v1h-1zM260.6 64.6h1v1h-1zM252.3 48.2h1v1h-1zM255.7 51.9h1v1h-1zM255.5 51.3h1v1h-1zM256.1 50.2h1v1h-1zM253.3 58.2h1v1h-1zM249.6 58.7h1v1h-1zM246 57.4h1v1h-1zM256.2 59.1h1v1h-1zM262.9 58.8h1v1h-1zM262.6 65.9h1v1h-1zM256.2 63.6h1v1h-1zM255.2 54.9h1v1h-1zM246.3 56h1v1h-1zM259 62.9h1v1h-1zM263.1 56.8h1v1h-1zM255 62.4h1v1h-1zM259.2 49.6h1v1h-1zM262.2 57.8h1v1h-1zM245.8 56.9h1v1h-1zM258.1 58.6h1v1h-1zM243.7 57.2h1v1h-1zM250.7 54.1h1v1h-1zM251.7 64.8h1v1h-1zM249.2 60.6h1v1h-1zM255.6 51.6h1v1h-1zM258.7 60.6h1v1h-1zM256.3 52.8h1v1h-1zM255.3 59.8h1v1h-1zM261.4 64.5h1v1h-1zM252.4 63.7h1v1h-1zM264.9 61.3h1v1h-1zM251.6 62.4h1v1h-1zM255.8 65.6h1v1h-1zM252.6 55.2h1v1h-1zM263.2 63.1h1v1h-1zM255.7 52h1v1h-1zM261.6 66.5h1v1h-1zM264.1 55.1h1v1h-1zM251.1 65.4h1v1h-1zM261.4 60.3h1v1h-1zM247 58h1v1h-1zM262.7 53.5h1v1h-1zM253.4 59h1v1h-1zM255 50.1h1v1h-1zM261.9 66.8h1v1h-1zM261.3 65.9h1v1h-1zM255.1 54.5h1v1h-1zM247.8 55.3h1v1h-1zM255.1 67.2h1v1h-1zM251.5 64.7h1v1h-1zM244.8 56.8h1v1h-1zM256.4 63.9h1v1h-1zM250.1 58.8h1v1h-1zM255.6 52.8h1v1h-1zM257.5 61.5h1v1h-1zM258.2 60.3h1v1h-1zM251.5 61.2h1v1h-1zM250.7 50.5h1v1h-1zM244.9 57.6h1v1h-1zM249.5 53.6h1v1h-1zM252.2 66.9h1v1h-1zM254.7 57.5h1v1h-1zM251.8 57.4h1v1h-1zM261.3 56.9h1v1h-1zM254.4 53.1h1v1h-1zM255.8 47.9h1v1h-1zM260 55.3h1v1h-1zM256.9 54.9h1v1h-1zM260.8 60.4h1v1h-1zM245.4 57.5h1v1h-1zM251.1 50.3h1v1h-1zM252 54.9h1v1h-1zM258.2 62.6h1v1h-1zM256.9 65.1h1v1h-1zM263 58.3h1v1h-1zM256.8 46.6h1v1h-1zM254.2 63.4h1v1h-1zM252.1 58.8h1v1h-1zM259.5 60.3h1v1h-1zM252.6 52.8h1v1h-1zM257 55.5h1v1h-1zM263.9 57h1v1h-1zM256.1 60h1v1h-1zM253.7 56.2h1v1h-1zM257.8 58.6h1v1h-1zM254 66.9h1v1h-1zM261.3 57.6h1v1h-1zM252.2 54.8h1v1h-1zM252.5 51h1v1h-1zM253.7 58h1v1h-1zM258.9 49.7h1v1h-1zM253.4 60.2h1v1h-1zM252.1 58.3h1v1h-1zM256.5 46.3h1v1h-1zM243.9 56.5h1v1h-1zM263.8 60.9h1v1h-1zM252.9 51.1h1v1h-1zM260.2 54h1v1h-1zM258.8 62.4h1v1h-1zM251.8 64.9h1v1h-1zM258.8 47.3h1v1h-1zM249.2 54.1h1v1h-1zM263.8 57.1h1v1h-1zM255.7 65.9h1v1h-1zM259.1 64.3h1v1h-1zM262.7 60h1v1h-1zM256 54.5h1v1h-1zM262.5 60.1h1v1h-1zM249.5 55.7h1v1h-1zM257.1 50.5h1v1h-1zM263.4 63h1v1h-1zM254.3 52.5h1v1h-1zM250.7 66.4h1v1h-1zM263.4 56.2h1v1h-1zM257.8 65.4h1v1h-1zM252.5 65.6h1v1h-1zM260.9 51.6h1v1h-1zM250.9 60.6h1v1h-1zM261.4 56.5h1v1h-1zM259.7 60.5h1v1h-1zM252.8 56.8h1v1h-1zM250.5 53.2h1v1h-1zM257.7 50.7h1v1h-1zM260.6 65.9h1v1h-1zM253.8 63.8h1v1h-1zM253.7 58.4h1v1h-1zM259.6 60.1h1v1h-1zM252.9 58h1v1h-1zM254.7 53h1v1h-1zM260.3 55h1v1h-1zM260.3 63.6h1v1h-1zM258.5 63.2h1v1h-1zM264.2 55.3h1v1h-1z" fill="#f08a72"/>
<path d="M260 82.5h1v1h-1zM251.4 79.2h1v1h-1zM254.4 74.6h1v1h-1zM253.6 84.1h1v1h-1zM258.3 72.9h1v1h-1zM259.5 70.4h1v1h-1zM260.3 79.6h1v1h-1zM259.8 79.9h1v1h-1zM256 79.3h1v1h-1zM257.3 72.6h1v1h-1zM254 83.9h1v1h-1zM258.8 77.4h1v1h-1zM255.2 81.8h1v1h-1zM259.6 74.8h1v1h-1zM253.7 67.4h1v1h-1zM260 75.8h1v1h-1zM255.1 67.5h1v1h-1zM256.4 86.1h1v1h-1zM253.7 82.7h1v1h-1zM259.8 80.9h1v1h-1zM257.7 71.8h1v1h-1zM258.7 79.2h1v1h-1zM254.6 86.3h1v1h-1zM258.1 73.9h1v1h-1zM258.4 69.7h1v1h-1zM256 84h1v1h-1zM252.9 76.7h1v1h-1zM253.2 84h1v1h-1zM257.7 75h1v1h-1zM255 71h1v1h-1zM252.8 81.5h1v1h-1zM254.1 68.7h1v1h-1zM255 76.3h1v1h-1zM255.3 87.7h1v1h-1zM259.3 76.4h1v1h-1zM255.2 71.3h1v1h-1zM252.1 76.7h1v1h-1zM258.3 68.7h1v1h-1zM256.2 70.2h1v1h-1zM257.8 73.9h1v1h-1zM258.6 83.6h1v1h-1zM255.3 74.8h1v1h-1zM251.2 71h1v1h-1zM258 84.1h1v1h-1zM257 81.1h1v1h-1zM254.3 74.4h1v1h-1zM259.3 77h1v1h-1zM255.7 78.7h1v1h-1zM251.6 76.7h1v1h-1zM253.9 70h1v1h-1zM256.8 81.8h1v1h-1zM256.8 77.3h1v1h-1zM258.6 75.6h1v1h-1zM259 74.8h1v1h-1zM255.2 73.9h1v1h-1zM253.2 83.7h1v1h-1zM261.1 72.5h1v1h-1zM257.3 76.5h1v1h-1zM251.8 82.5h1v1h-1zM253.5 68.8h1v1h-1zM260.4 68.7h1v1h-1zM258.9 70.2h1v1h-1zM259.1 67.5h1v1h-1zM256.7 76.3h1v1h-1zM253 81.9h1v1h-1zM255 76.5h1v1h-1zM254.1 71.3h1v1h-1zM254 72.4h1v1h-1zM255 78.7h1v1h-1zM260.4 81.3h1v1h-1zM254.3 84.6h1v1h-1zM258.3 67h1v1h-1zM254.9 81.7h1v1h-1zM257 87.2h1v1h-1zM260.3 68.3h1v1h-1zM256.5 76h1v1h-1zM251.1 80.3h1v1h-1zM260.1 71.3h1v1h-1zM253.3 83.3h1v1h-1zM256.8 66.8h1v1h-1zM253.6 72.7h1v1h-1zM255.9 85.8h1v1h-1zM260.4 74.8h1v1h-1zM258.6 67h1v1h-1zM251 74.5h1v1h-1zM258.2 69.4h1v1h-1zM252.5 67.6h1v1h-1zM251.2 68.1h1v1h-1zM253.8 79.1h1v1h-1zM258.5 72.6h1v1h-1zM256.7 73.7h1v1h-1zM257.5 68.8h1v1h-1zM258.1 66.4h1v1h-1zM261.8 71h1v1h-1zM257.2 70.5h1v1h-1zM255.8 72.2h1v1h-1zM258.3 83.5h1v1h-1zM255.9 78.4h1v1h-1zM254.6 72.7h1v1h-1zM256.6 87.7h1v1h-1zM254.2 79.5h1v1h-1zM253.5 82.1h1v1h-1zM256.4 73.2h1v1h-1zM255.8 66.5h1v1h-1zM251.2 75.1h1v1h-1zM258.6 67.2h1v1h-1zM261.9 70.9h1v1h-1zM257.6 79.6h1v1h-1zM251.3 77.5h1v1h-1zM259.6 83.7h1v1h-1zM259.5 81.3h1v1h-1zM251.8 75.3h1v1h-1zM256.6 67.3h1v1h-1zM259.8 68.6h1v1h-1zM257.3 72.2h1v1h-1zM258 82.5h1v1h-1zM257.8 78.8h1v1h-1zM261.2 67.8h1v1h-1zM254.9 71.2h1v1h-1zM257.7 75h1v1h-1zM261.8 71.5h1v1h-1zM259.3 75.8h1v1h-1zM254.9 82.5h1v1h-1zM252 82.2h1v1h-1zM253 84.1h1v1h-1zM261.1 66.9h1v1h-1zM260.5 72.8h1v1h-1zM260.3 79.1h1v1h-1zM253.3 81.5h1v1h-1zM255.4 69.5h1v1h-1zM260.9 82.1h1v1h-1zM253.2 75.7h1v1h-1zM258.8 74.5h1v1h-1zM253.4 77.9h1v1h-1zM262.2 68.4h1v1h-1zM253.3 77h1v1h-1zM251.9 70.9h1v1h-1zM251.9 77.3h1v1h-1zM254.8 86.1h1v1h-1zM258.9 68h1v1h-1zM262.5 69.3h1v1h-1zM261.5 77.6h1v1h-1zM256.7 70.4h1v1h-1zM256.3 83h1v1h-1zM256.9 86.2h1v1h-1zM251.8 82.5h1v1h-1zM257.7 85.7h1v1h-1zM254.4 76.5h1v1h-1zM260.4 72h1v1h-1zM254.9 84.9h1v1h-1zM258.4 77.1h1v1h-1zM255.4 71.6h1v1h-1zM255 69.4h1v1h-1z" fill="#e8553d"/>
<path d="M252.5 80.6h1v1h-1zM254.6 77.2h1v1h-1zM252.6 78.8h1v1h-1zM257.8 76.2h1v1h-1zM260.6 80.6h1v1h-1zM252.6 76.6h1v1h-1zM256.7 79.7h1v1h-1zM256.4 76.7h1v1h-1zM254.7 81.6h1v1h-1zM251.6 81.5h1v1h-1zM260.3 82.6h1v1h-1zM252.1 83.1h1v1h-1zM251.6 77.1h1v1h-1zM252.7 78.8h1v1h-1zM252.3 83.6h1v1h-1zM259.9 80.9h1v1h-1zM257.3 79.5h1v1h-1zM260.1 83.8h1v1h-1zM252.2 81.3h1v1h-1zM252.7 81.3h1v1h-1zM258.2 84.3h1v1h-1zM254.4 76.1h1v1h-1zM255.8 86.5h1v1h-1zM257 83h1v1h-1zM259.4 83.2h1v1h-1zM252.2 78.6h1v1h-1zM258.8 82.5h1v1h-1zM254.4 77.5h1v1h-1zM258.2 76.8h1v1h-1zM256.3 78.8h1v1h-1zM255.2 83.4h1v1h-1zM257.9 82.9h1v1h-1zM257.7 83.3h1v1h-1zM257.9 75.9h1v1h-1zM260.4 80.1h1v1h-1zM253 80.8h1v1h-1zM252.1 77.9h1v1h-1zM253 84.5h1v1h-1zM255.4 77.8h1v1h-1zM255.4 77.1h1v1h-1zM260.8 75.7h1v1h-1zM255.4 80h1v1h-1zM251.1 78.1h1v1h-1zM255.5 86h1v1h-1zM259 82.3h1v1h-1zM256.5 84.1h1v1h-1z" fill="#e2412d"/>
<path d="M267 95.2h1v1h-1zM272.3 96.1h1v1h-1zM270.1 98.5h1v1h-1zM272.7 96.5h1v1h-1zM272.2 95.8h1v1h-1zM266 91.8h1v1h-1zM266.3 96.2h1v1h-1zM269.8 98.7h1v1h-1zM263.1 91.8h1v1h-1zM263 91.1h1v1h-1zM271.7 96.9h1v1h-1zM269.9 95.5h1v1h-1zM264.6 90.2h1v1h-1zM266.1 92.2h1v1h-1zM271.6 97.3h1v1h-1zM272.9 97.6h1v1h-1zM267.7 97.4h1v1h-1zM264.7 93.1h1v1h-1zM267.3 96.8h1v1h-1zM264.4 91.5h1v1h-1zM271.4 96.2h1v1h-1zM270.8 97.6h1v1h-1zM265.2 94.4h1v1h-1zM267.6 96.4h1v1h-1zM272 96.3h1v1h-1zM272.5 96.2h1v1h-1zM271.5 97.9h1v1h-1zM269.4 94.8h1v1h-1z" fill="#c0301e"/>
<path d="M264.3 92h1.1v1.1h-1.1zM263.4 90.8h1.1v1.1h-1.1zM269 97.8h1.1v1.1h-1.1zM263.1 91.9h1.1v1.1h-1.1zM272.6 98.2h1.1v1.1h-1.1zM266.4 96.6h1.1v1.1h-1.1zM264.1 90.8h1.1v1.1h-1.1zM270.8 98.6h1.1v1.1h-1.1zM262.8 91.9h1.1v1.1h-1.1zM265.9 94.5h1.1v1.1h-1.1zM264.4 92.1h1.1v1.1h-1.1zM268.9 97.5h1.1v1.1h-1.1zM267.7 94.8h1.1v1.1h-1.1zM271.1 98.2h1.1v1.1h-1.1zM266.5 95.8h1.1v1.1h-1.1zM271.6 97.3h1.1v1.1h-1.1zM264.4 94.6h1.1v1.1h-1.1zM272.2 97.4h1.1v1.1h-1.1zM269.4 95.9h1.1v1.1h-1.1zM265.4 93.6h1.1v1.1h-1.1zM270.6 96.5h1.1v1.1h-1.1zM272.6 98.8h1.1v1.1h-1.1zM265.6 92.1h1.1v1.1h-1.1zM263.8 92.9h1.1v1.1h-1.1zM264.8 92.4h1.1v1.1h-1.1zM265.7 95.3h1.1v1.1h-1.1zM267.1 94.1h1.1v1.1h-1.1zM269.9 96.5h1.1v1.1h-1.1zM265.5 93.4h1.1v1.1h-1.1zM265.1 92.7h1.1v1.1h-1.1zM267.1 96h1.1v1.1h-1.1zM267.5 97.5h1.1v1.1h-1.1zM270.8 99.1h1.1v1.1h-1.1zM271.1 99.2h1.1v1.1h-1.1zM272.8 97.9h1.1v1.1h-1.1zM264.8 91.3h1.1v1.1h-1.1zM264.4 92.7h1.1v1.1h-1.1zM266.4 94.7h1.1v1.1h-1.1zM273.6 98.1h1.1v1.1h-1.1zM269.1 96.7h1.1v1.1h-1.1zM263 91.2h1.1v1.1h-1.1zM264.8 91.9h1.1v1.1h-1.1zM265.5 93.8h1.1v1.1h-1.1zM267.1 93.9h1.1v1.1h-1.1zM264.2 91.1h1.1v1.1h-1.1zM264.8 93h1.1v1.1h-1.1zM264.7 94.7h1.1v1.1h-1.1zM271.1 97.4h1.1v1.1h-1.1zM263.4 91.5h1.1v1.1h-1.1zM272.4 98h1.1v1.1h-1.1zM265.3 91.9h1.1v1.1h-1.1zM273.7 98.2h1.1v1.1h-1.1zM264.5 92.4h1.1v1.1h-1.1zM266.5 94.4h1.1v1.1h-1.1zM272.1 97.6h1.1v1.1h-1.1zM265.1 94.7h1.1v1.1h-1.1zM269.1 97.5h1.1v1.1h-1.1zM270.5 96.5h1.1v1.1h-1.1zM267.6 94.8h1.1v1.1h-1.1zM271.9 98.4h1.1v1.1h-1.1z" fill="#a31414"/>
<path d="M263.4 90h1v1h-1zM267.7 97.7h1v1h-1zM262.8 93.4h1v1h-1zM273.7 98.8h1v1h-1zM264.4 94.9h1v1h-1zM264.2 90.2h1v1h-1zM266.4 93h1v1h-1zM264.3 96h1v1h-1zM264.6 90.4h1v1h-1zM269.6 98.1h1v1h-1zM270.1 95.9h1v1h-1zM268.9 95.6h1v1h-1zM273.4 96.9h1v1h-1zM272 100.4h1v1h-1zM271.1 95.8h1v1h-1zM263 93.2h1v1h-1z" fill="#a31414"/>
<path d="M255.5 92.9h1v1h-1zM255.4 89.7h1v1h-1zM256.3 90h1v1h-1zM255.5 89.4h1v1h-1z" fill="#e06048"/>
<path d="M261.4 85.2h1v1h-1zM261.8 86.1h1v1h-1zM261.9 86.9h1v1h-1zM262.1 87.8h1v1h-1zM263 89h1v1h-1z" fill="#d04030"/>
<path d="M275.7 71.2h1v1h-1zM281.2 68.1h1v1h-1zM280.5 70.1h1v1h-1zM275.6 54h1v1h-1zM269.1 62.4h1v1h-1zM277.5 71.5h1v1h-1zM270.5 58.6h1v1h-1zM279.9 65.4h1v1h-1zM271.1 62.8h1v1h-1zM271.2 63h1v1h-1zM275.4 55.3h1v1h-1zM285.1 62h1v1h-1z" fill="#f4a08a"/>
<path d="M288 56.1h1v1h-1zM283.5 46.7h1v1h-1zM294.6 46.1h1v1h-1zM292.7 45.6h1v1h-1zM284.1 51h1v1h-1zM285.4 53.9h1v1h-1zM285 50.4h1v1h-1zM282.1 43.6h1v1h-1zM281.9 56.5h1v1h-1zM285.6 50.9h1v1h-1zM280.6 47.9h1v1h-1zM284.9 53.1h1v1h-1zM286.7 48.8h1v1h-1zM285.2 51.2h1v1h-1z" fill="#f4a08a"/>
<path d="M274.6 36.5h1v1h-1zM273.5 47.8h1v1h-1zM272.2 37.1h1v1h-1zM272.4 37.5h1v1h-1zM277.5 33h1v1h-1zM279.4 31.1h1v1h-1zM278.4 42.3h1v1h-1zM280.4 31.2h1v1h-1zM275.7 38.5h1v1h-1z" fill="#f4a08a"/>
<path d="M259.6 33.7h1v1h-1zM260.2 34.1h1v1h-1zM259.9 35.7h1v1h-1zM265.6 35.5h1v1h-1z" fill="#f4a08a"/>
<path d="M265.3 72.1h1v1h-1zM268.4 68.9h1v1h-1zM270.5 70.4h1v1h-1zM266.9 79.6h1v1h-1zM266.9 72.6h1v1h-1zM265.2 71.1h1v1h-1zM271.5 71.4h1v1h-1zM263.7 65.2h1v1h-1zM264.6 71h1v1h-1zM273.6 69h1v1h-1zM265.1 60.7h1v1h-1zM265.7 67.3h1v1h-1zM265.7 54h1v1h-1zM267.1 74.7h1v1h-1zM265.5 72.1h1v1h-1zM264.2 67h1v1h-1zM264.3 65.1h1v1h-1z" fill="#f4a08a"/>
<path d="M227.9 59.5h1v1h-1zM228.5 58.8h1v1h-1zM229.7 58.7h1v1h-1zM230.8 57.9h1v1h-1zM231.5 57.8h1v1h-1zM232.4 57.2h1v1h-1zM233.4 57.1h1v1h-1zM234.7 56.8h1v1h-1zM236.4 57.3h1v1h-1zM237.5 56.6h1v1h-1zM238.5 56.7h1v1h-1zM239.9 56.3h1v1h-1zM241.1 56.7h1v1h-1zM242.2 56.9h1v1h-1z" fill="#f0a090"/>
</g>
<g>
<path d="M352 31.2 C352.2 30.7 352.3 30.1 352.9 29.8 C353.5 29.4 354.7 29.2 355.4 29.2 C356.2 29.2 356.8 29.4 357.3 29.8 C357.8 30.1 357.8 30.8 358.2 31.5 C358.7 32.3 359.4 33.5 359.9 34.2 C360.5 34.9 361.1 35 361.6 35.7 C362.1 36.3 362.7 37.3 363 38.1 C363.3 38.9 363.3 39.7 363.2 40.2 C363.1 40.7 363 40.9 362.6 40.9 C362.1 40.9 361.4 40.5 360.6 40.3 C359.9 40 359.1 39.7 358.3 39.4 C357.4 39 356.3 38.7 355.6 38.3 C354.8 37.9 354.2 37.7 353.6 37.1 C353 36.6 352.3 35.8 352 35 C351.6 34.2 351.3 33.2 351.3 32.6 C351.3 31.9 351.7 31.6 352 31.2Z" fill="#c6c8cd"/>
<path d="M358.8 39.4h0.9v0.9h-0.9zM352.9 29.4h0.9v0.9h-0.9zM359.7 39.2h0.9v0.9h-0.9zM357.9 30.8h0.9v0.9h-0.9zM356 39h0.9v0.9h-0.9zM362.6 40.7h0.9v0.9h-0.9zM358.8 38.8h0.9v0.9h-0.9zM350.2 29.8h0.9v0.9h-0.9zM350.6 38.7h0.9v0.9h-0.9zM351.5 33h0.9v0.9h-0.9zM362.9 38.3h0.9v0.9h-0.9zM356.5 38.4h0.9v0.9h-0.9zM359.5 34h0.9v0.9h-0.9zM359.9 39.3h0.9v0.9h-0.9zM354.7 37.2h0.9v0.9h-0.9zM357.1 30.4h0.9v0.9h-0.9zM355.7 29.3h0.9v0.9h-0.9zM349 32.8h0.9v0.9h-0.9zM358.7 32.5h0.9v0.9h-0.9zM354.5 37h0.9v0.9h-0.9zM358.8 39.4h0.9v0.9h-0.9zM351.6 33.4h0.9v0.9h-0.9zM357.8 38.8h0.9v0.9h-0.9zM350.2 34.8h0.9v0.9h-0.9zM357.2 38.8h0.9v0.9h-0.9zM354.8 28.8h0.9v0.9h-0.9zM357.7 30.4h0.9v0.9h-0.9zM357.4 30.9h0.9v0.9h-0.9z" fill="#c6c8cd"/>
<path d="M359.2 38.6h0.8v0.8h-0.8zM353.8 32.3h0.8v0.8h-0.8zM357.2 31.5h0.8v0.8h-0.8zM358.7 32.9h0.8v0.8h-0.8zM356.5 35.7h0.8v0.8h-0.8zM356.6 34.1h0.8v0.8h-0.8zM351.3 32.6h0.8v0.8h-0.8zM356.2 30.2h0.8v0.8h-0.8zM357.9 34.5h0.8v0.8h-0.8zM351.6 32.3h0.8v0.8h-0.8z" fill="#fff" fill-opacity="0.7"/>
<path d="M378.8 26.8 C379.1 26.9 379.3 27.3 379.4 28.1 C379.6 29 379.6 30.6 379.6 31.7 C379.5 32.8 379.3 33.6 379.2 34.7 C379.1 35.9 379.1 37.5 378.9 38.4 C378.7 39.3 378.4 39.5 377.9 40.2 C377.5 40.8 376.8 41.5 376.2 42.2 C375.7 42.9 375.3 43.8 374.5 44.4 C373.7 45 372.4 45.4 371.6 46 C370.8 46.6 370.2 47.3 369.5 47.8 C368.8 48.3 368.1 48.9 367.6 49.1 C367 49.3 366.6 49.5 366.2 49 C365.7 48.4 365.3 46.9 365 45.7 C364.8 44.5 364.5 42.7 364.6 41.5 C364.7 40.3 365.1 39.6 365.5 38.6 C366 37.7 366.4 36.3 367.1 35.8 C367.8 35.2 368.9 35.9 369.8 35.4 C370.7 34.9 371.8 33.5 372.6 32.8 C373.4 32 374.1 31.3 374.6 30.9 C375.2 30.5 375.5 30.6 376 30.1 C376.4 29.6 376.9 28.5 377.4 27.9 C377.8 27.4 378.4 26.8 378.8 26.8Z" fill="#c6c8cd"/>
<path d="M364.8 46.3h0.9v0.9h-0.9zM364.8 44.1h0.9v0.9h-0.9zM364.1 41.9h0.9v0.9h-0.9zM378.8 37.4h0.9v0.9h-0.9zM376.1 29.2h0.9v0.9h-0.9zM364.1 41.5h0.9v0.9h-0.9zM367.4 35.7h0.9v0.9h-0.9zM365.7 37.1h0.9v0.9h-0.9zM364.5 45.5h0.9v0.9h-0.9zM364.2 43.4h0.9v0.9h-0.9zM371.5 46h0.9v0.9h-0.9zM364 39.6h0.9v0.9h-0.9zM368.6 47.4h0.9v0.9h-0.9zM375.5 42.7h0.9v0.9h-0.9zM373 31h0.9v0.9h-0.9zM364.3 39.8h0.9v0.9h-0.9zM364.7 41h0.9v0.9h-0.9zM370.9 45.5h0.9v0.9h-0.9zM372.4 44.3h0.9v0.9h-0.9zM363.5 41.3h0.9v0.9h-0.9zM364.8 39.7h0.9v0.9h-0.9zM373.1 44h0.9v0.9h-0.9zM378.6 33.4h0.9v0.9h-0.9zM365.9 49.1h0.9v0.9h-0.9zM364.2 37.7h0.9v0.9h-0.9zM378.2 26.1h0.9v0.9h-0.9zM379.2 29.7h0.9v0.9h-0.9zM379.1 39.7h0.9v0.9h-0.9zM378.6 25.2h0.9v0.9h-0.9zM375.3 42.4h0.9v0.9h-0.9zM378.7 39.6h0.9v0.9h-0.9zM378.4 34.1h0.9v0.9h-0.9zM366.9 35.8h0.9v0.9h-0.9zM379.4 32.6h0.9v0.9h-0.9zM373.8 30.9h0.9v0.9h-0.9zM373.1 31.2h0.9v0.9h-0.9zM377.8 27.1h0.9v0.9h-0.9zM368.7 47.4h0.9v0.9h-0.9zM363.3 45.2h0.9v0.9h-0.9zM373.6 28.5h0.9v0.9h-0.9zM373.4 30.6h0.9v0.9h-0.9zM370.7 34.4h0.9v0.9h-0.9zM376.5 27.6h0.9v0.9h-0.9zM372.4 44.6h0.9v0.9h-0.9z" fill="#c6c8cd"/>
<path d="M378.8 31h0.8v0.8h-0.8zM374.6 40.6h0.8v0.8h-0.8zM367.3 36.8h0.8v0.8h-0.8zM372.3 35.4h0.8v0.8h-0.8zM375.3 41.9h0.8v0.8h-0.8zM366 42.1h0.8v0.8h-0.8zM365.2 45.1h0.8v0.8h-0.8zM367.1 38.3h0.8v0.8h-0.8zM377.3 29.9h0.8v0.8h-0.8zM374.9 36h0.8v0.8h-0.8zM366.7 36.8h0.8v0.8h-0.8zM378.3 26.9h0.8v0.8h-0.8zM374.7 38.6h0.8v0.8h-0.8zM377.4 37.1h0.8v0.8h-0.8zM367.9 45.4h0.8v0.8h-0.8zM365.8 41.8h0.8v0.8h-0.8zM366.7 45.4h0.8v0.8h-0.8zM366.5 46.9h0.8v0.8h-0.8zM366.4 47.1h0.8v0.8h-0.8zM365 41.2h0.8v0.8h-0.8zM372.2 39.8h0.8v0.8h-0.8zM378.1 31.5h0.8v0.8h-0.8zM376.3 32h0.8v0.8h-0.8zM377.4 38.9h0.8v0.8h-0.8z" fill="#fff" fill-opacity="0.7"/>
<path d="M376.1 44.3 C376.5 44.1 377.1 44.1 377.9 44.3 C378.7 44.5 379.7 45.4 380.8 45.5 C381.8 45.7 383.2 45.3 384.3 45.3 C385.5 45.2 386.8 44.8 387.7 44.9 C388.6 45 389.3 45.3 389.8 45.8 C390.3 46.2 390.7 46.9 390.8 47.5 C390.9 48.1 390.7 48.4 390.3 49.2 C389.9 50 389.1 51.2 388.6 52.3 C388 53.5 387.5 55.2 386.9 56.1 C386.3 57 385.4 57.4 384.7 57.9 C383.9 58.4 383.2 58.7 382.4 59.2 C381.7 59.6 380.8 60 380.1 60.4 C379.4 60.8 378.8 62 378.1 61.7 C377.3 61.4 376.4 59.6 375.5 58.6 C374.7 57.6 373.8 57 373.1 55.9 C372.4 54.8 371.5 53.1 371.3 51.9 C371 50.7 371 49.6 371.4 48.8 C371.8 48 373 47.7 373.6 47 C374.3 46.4 374.9 45.6 375.3 45.2 C375.7 44.7 375.7 44.4 376.1 44.3Z" fill="#c6c8cd"/>
<path d="M374.8 43.6h0.9v0.9h-0.9zM373.5 56h0.9v0.9h-0.9zM384.8 44.7h0.9v0.9h-0.9zM374.2 57.2h0.9v0.9h-0.9zM379.2 44.9h0.9v0.9h-0.9zM388.1 44.8h0.9v0.9h-0.9zM372 54.8h0.9v0.9h-0.9zM388.6 51.8h0.9v0.9h-0.9zM384.4 44.4h0.9v0.9h-0.9zM386.6 55.4h0.9v0.9h-0.9zM373.4 57h0.9v0.9h-0.9zM372.7 56.6h0.9v0.9h-0.9zM379.7 60h0.9v0.9h-0.9zM381.4 59h0.9v0.9h-0.9zM383.7 44.8h0.9v0.9h-0.9zM370.7 52.4h0.9v0.9h-0.9zM381.1 45h0.9v0.9h-0.9zM372.3 56.6h0.9v0.9h-0.9zM377.5 61.8h0.9v0.9h-0.9zM387 55.4h0.9v0.9h-0.9zM385 56.7h0.9v0.9h-0.9zM388.2 52h0.9v0.9h-0.9zM390.6 48.9h0.9v0.9h-0.9zM378.9 60.4h0.9v0.9h-0.9zM383.8 58.2h0.9v0.9h-0.9zM377.2 60.3h0.9v0.9h-0.9zM377.2 60.3h0.9v0.9h-0.9zM378.1 43.9h0.9v0.9h-0.9zM386.8 45h0.9v0.9h-0.9zM390.1 47.6h0.9v0.9h-0.9zM376.2 59.3h0.9v0.9h-0.9zM378.3 61.1h0.9v0.9h-0.9zM389.1 45.7h0.9v0.9h-0.9zM377.1 61.2h0.9v0.9h-0.9zM374.7 57h0.9v0.9h-0.9zM378.3 43.7h0.9v0.9h-0.9zM370.1 45.5h0.9v0.9h-0.9zM375.6 43.7h0.9v0.9h-0.9zM380.5 59.5h0.9v0.9h-0.9zM382.1 59.2h0.9v0.9h-0.9zM374.6 45.5h0.9v0.9h-0.9zM388.3 43.3h0.9v0.9h-0.9zM387 54.5h0.9v0.9h-0.9zM373.2 47.1h0.9v0.9h-0.9zM379.9 44.8h0.9v0.9h-0.9zM383.1 43.6h0.9v0.9h-0.9z" fill="#c6c8cd"/>
<path d="M382.4 48.8h0.8v0.8h-0.8zM374.9 47.9h0.8v0.8h-0.8zM378.9 54.3h0.8v0.8h-0.8zM376.1 56.5h0.8v0.8h-0.8zM382.2 52h0.8v0.8h-0.8zM381.7 47.2h0.8v0.8h-0.8zM375 54.1h0.8v0.8h-0.8zM378.8 52.6h0.8v0.8h-0.8zM385.4 44.9h0.8v0.8h-0.8zM374.8 47.2h0.8v0.8h-0.8zM378.4 46.7h0.8v0.8h-0.8zM389.2 49.1h0.8v0.8h-0.8zM376.8 45.1h0.8v0.8h-0.8zM378.1 57.5h0.8v0.8h-0.8zM383 55.1h0.8v0.8h-0.8zM379.2 58.4h0.8v0.8h-0.8zM379.7 46.3h0.8v0.8h-0.8zM375.3 57.8h0.8v0.8h-0.8zM383.1 55.8h0.8v0.8h-0.8zM380 55.2h0.8v0.8h-0.8zM379.1 54.2h0.8v0.8h-0.8zM371.6 51.1h0.8v0.8h-0.8zM377.5 54.7h0.8v0.8h-0.8zM379 58.2h0.8v0.8h-0.8zM387.5 47.8h0.8v0.8h-0.8zM384 49.1h0.8v0.8h-0.8zM377.8 57.9h0.8v0.8h-0.8zM378 59.8h0.8v0.8h-0.8zM380.4 59h0.8v0.8h-0.8zM373.4 50.9h0.8v0.8h-0.8zM378.4 49.2h0.8v0.8h-0.8z" fill="#fff" fill-opacity="0.7"/>
<path d="M362.2 57.5 C362.5 56.6 363.2 56 363.8 55.4 C364.4 54.9 365 54.4 365.8 54 C366.5 53.6 367.4 53.3 368.1 52.9 C368.8 52.6 369.5 52.1 370.1 51.8 C370.7 51.5 371.1 50.7 371.5 51.1 C371.9 51.4 372 52.8 372.7 53.9 C373.3 55 374.6 56.5 375.4 57.6 C376.2 58.7 376.6 59.7 377.4 60.6 C378.2 61.5 379.7 62.3 380 63 C380.3 63.7 380 64.2 379.4 64.5 C378.9 64.8 377.5 64.2 376.8 64.9 C376.1 65.5 375.6 67.2 375.3 68.4 C375.1 69.6 375.4 71 375.3 72.1 C375.2 73.2 375.3 74.3 374.8 74.9 C374.3 75.4 373.1 75.6 372.3 75.5 C371.5 75.4 370.5 74.8 369.8 74.1 C369.2 73.4 368.7 72.4 368.6 71.3 C368.5 70.3 369.5 68.7 369.3 67.6 C369 66.6 368.1 65.9 367.1 65.3 C366.2 64.6 364.7 64.5 363.8 63.8 C362.9 63.1 362.2 62.1 361.9 61 C361.6 60 361.9 58.5 362.2 57.5Z" fill="#c6c8cd"/>
<path d="M369.2 51.7h0.9v0.9h-0.9zM368.3 68.2h0.9v0.9h-0.9zM368.4 72.4h0.9v0.9h-0.9zM371 74.1h0.9v0.9h-0.9zM372 75.9h0.9v0.9h-0.9zM376.5 66.1h0.9v0.9h-0.9zM372.4 74.9h0.9v0.9h-0.9zM372.3 54.1h0.9v0.9h-0.9zM360.6 57h0.9v0.9h-0.9zM370.8 74.8h0.9v0.9h-0.9zM363.3 54.8h0.9v0.9h-0.9zM375.9 57.7h0.9v0.9h-0.9zM368.7 52.1h0.9v0.9h-0.9zM374.1 74h0.9v0.9h-0.9zM361.1 57.4h0.9v0.9h-0.9zM371.2 52h0.9v0.9h-0.9zM374.7 74.2h0.9v0.9h-0.9zM374.7 73.7h0.9v0.9h-0.9zM372.8 54.7h0.9v0.9h-0.9zM364.2 63.8h0.9v0.9h-0.9zM371.1 74.9h0.9v0.9h-0.9zM373.5 55.5h0.9v0.9h-0.9zM366.6 66.1h0.9v0.9h-0.9zM359.2 55.8h0.9v0.9h-0.9zM367.7 65.9h0.9v0.9h-0.9zM379.2 62.4h0.9v0.9h-0.9zM377 64.7h0.9v0.9h-0.9zM374.6 73.3h0.9v0.9h-0.9zM376 64.7h0.9v0.9h-0.9zM368.9 72.6h0.9v0.9h-0.9zM374.7 75.6h0.9v0.9h-0.9zM363.7 53.7h0.9v0.9h-0.9zM363.7 54.6h0.9v0.9h-0.9zM366.5 64.5h0.9v0.9h-0.9zM371.5 52.8h0.9v0.9h-0.9zM377.5 61h0.9v0.9h-0.9zM369.5 51.9h0.9v0.9h-0.9zM370.5 51.6h0.9v0.9h-0.9zM374.6 56.6h0.9v0.9h-0.9zM367.4 51.6h0.9v0.9h-0.9zM366 64.7h0.9v0.9h-0.9zM371.6 52.1h0.9v0.9h-0.9zM367.3 65.2h0.9v0.9h-0.9zM373.3 55.1h0.9v0.9h-0.9zM371.5 50.4h0.9v0.9h-0.9zM367.9 71.7h0.9v0.9h-0.9zM364.8 54h0.9v0.9h-0.9zM371.5 51.2h0.9v0.9h-0.9zM363.4 62.9h0.9v0.9h-0.9z" fill="#c6c8cd"/>
<path d="M374.8 59.9h0.8v0.8h-0.8zM369.1 64.1h0.8v0.8h-0.8zM373.9 67.1h0.8v0.8h-0.8zM366.9 57.4h0.8v0.8h-0.8zM372.3 57.5h0.8v0.8h-0.8zM377.9 63.3h0.8v0.8h-0.8zM374.8 59.1h0.8v0.8h-0.8zM373.7 60.6h0.8v0.8h-0.8zM371 55h0.8v0.8h-0.8zM368.2 60.8h0.8v0.8h-0.8zM370.1 72.2h0.8v0.8h-0.8zM367.9 63.3h0.8v0.8h-0.8zM363 56.3h0.8v0.8h-0.8zM366.7 64.3h0.8v0.8h-0.8zM374.1 66.5h0.8v0.8h-0.8zM367.1 59h0.8v0.8h-0.8zM368.3 57.8h0.8v0.8h-0.8zM365.3 62.8h0.8v0.8h-0.8zM364.2 58.7h0.8v0.8h-0.8zM363.4 55.3h0.8v0.8h-0.8zM371.1 58.7h0.8v0.8h-0.8zM362.6 60.8h0.8v0.8h-0.8zM366.9 61.5h0.8v0.8h-0.8zM374 57h0.8v0.8h-0.8zM373 61.6h0.8v0.8h-0.8zM370.2 51.3h0.8v0.8h-0.8zM365.9 56.6h0.8v0.8h-0.8zM372 55.4h0.8v0.8h-0.8zM378 63.3h0.8v0.8h-0.8zM372.2 70.1h0.8v0.8h-0.8zM371 62.7h0.8v0.8h-0.8z" fill="#fff" fill-opacity="0.7"/>
<path d="M337.1 57 C337.3 56.8 338.2 56.7 339 56.5 C339.7 56.2 340.9 56.4 341.7 55.7 C342.5 55 343.2 53.3 343.8 52.3 C344.3 51.3 344.4 50.4 345.1 49.8 C345.7 49.1 346.7 48.8 347.7 48.4 C348.7 47.9 350.2 47.3 351 46.9 C351.8 46.5 352 45.7 352.4 46.1 C352.8 46.6 352.9 48.8 353.3 49.7 C353.7 50.6 354.1 51 354.7 51.6 C355.3 52.2 356.2 52.8 356.8 53.5 C357.5 54.2 358 55 358.4 55.9 C358.9 56.9 359.4 57.9 359.5 59 C359.5 60.1 359.2 61.2 358.8 62.6 C358.5 64 358.3 66.4 357.3 67.2 C356.3 68.1 354.4 67.6 352.9 67.6 C351.4 67.6 349.5 67.4 348.2 67.4 C346.9 67.4 345.7 68.3 345 67.7 C344.3 67.1 344.6 64.9 344.1 63.8 C343.7 62.6 343.1 61.6 342.4 60.8 C341.8 59.9 341.2 59 340.4 58.5 C339.6 58 338.2 58 337.7 57.8 C337.1 57.5 336.9 57.2 337.1 57Z" fill="#c6c8cd"/>
<path d="M350.3 67h0.9v0.9h-0.9zM357.7 64.1h0.9v0.9h-0.9zM343.5 49.5h0.9v0.9h-0.9zM337.7 57.4h0.9v0.9h-0.9zM337.3 55.9h0.9v0.9h-0.9zM357.9 64.6h0.9v0.9h-0.9zM337.4 57.1h0.9v0.9h-0.9zM341.4 55.2h0.9v0.9h-0.9zM338.1 57.2h0.9v0.9h-0.9zM339.8 57.6h0.9v0.9h-0.9zM356.1 66.5h0.9v0.9h-0.9zM344.6 67.5h0.9v0.9h-0.9zM343.8 65.5h0.9v0.9h-0.9zM344.3 67.9h0.9v0.9h-0.9zM338.8 57.6h0.9v0.9h-0.9zM357 66.9h0.9v0.9h-0.9zM346.8 67h0.9v0.9h-0.9zM343.6 49.3h0.9v0.9h-0.9zM352.5 47.7h0.9v0.9h-0.9zM339.3 56.2h0.9v0.9h-0.9zM343.2 52.4h0.9v0.9h-0.9zM352.1 44.8h0.9v0.9h-0.9zM350.2 66.8h0.9v0.9h-0.9zM348.2 46.9h0.9v0.9h-0.9zM343.2 63.2h0.9v0.9h-0.9zM339.4 60.2h0.9v0.9h-0.9zM343.1 51.8h0.9v0.9h-0.9zM348.2 46.8h0.9v0.9h-0.9zM352.8 44.9h0.9v0.9h-0.9zM342.1 60.3h0.9v0.9h-0.9zM337.1 56.2h0.9v0.9h-0.9zM355.1 52h0.9v0.9h-0.9zM340.4 58.4h0.9v0.9h-0.9zM353.9 51h0.9v0.9h-0.9zM346.9 67.4h0.9v0.9h-0.9zM358.3 56.7h0.9v0.9h-0.9zM344.1 50.1h0.9v0.9h-0.9zM353 47.1h0.9v0.9h-0.9zM357.9 54.1h0.9v0.9h-0.9zM351.8 46.4h0.9v0.9h-0.9zM354.4 69.2h0.9v0.9h-0.9zM347.1 48.1h0.9v0.9h-0.9zM359.2 58.4h0.9v0.9h-0.9zM351.9 68.2h0.9v0.9h-0.9zM357.8 55h0.9v0.9h-0.9zM343.2 51.9h0.9v0.9h-0.9zM357.8 66.3h0.9v0.9h-0.9zM357.5 65.5h0.9v0.9h-0.9zM336.9 58.1h0.9v0.9h-0.9zM347.9 47.8h0.9v0.9h-0.9zM338.4 55.5h0.9v0.9h-0.9zM347.5 46.7h0.9v0.9h-0.9zM350.2 67h0.9v0.9h-0.9z" fill="#c6c8cd"/>
<path d="M342.1 57.2h0.8v0.8h-0.8zM342.9 57.5h0.8v0.8h-0.8zM352.3 51.4h0.8v0.8h-0.8zM342.6 61.2h0.8v0.8h-0.8zM353.1 52.9h0.8v0.8h-0.8zM348.9 59.2h0.8v0.8h-0.8zM343.1 54.7h0.8v0.8h-0.8zM345.9 53.6h0.8v0.8h-0.8zM341 57.5h0.8v0.8h-0.8zM351.6 46.3h0.8v0.8h-0.8zM347.4 50.4h0.8v0.8h-0.8zM351.8 54.5h0.8v0.8h-0.8zM349.7 54.5h0.8v0.8h-0.8zM344.1 64h0.8v0.8h-0.8zM349.6 51.8h0.8v0.8h-0.8zM357.7 55.9h0.8v0.8h-0.8zM354.8 60.2h0.8v0.8h-0.8zM349.7 49.9h0.8v0.8h-0.8zM353.6 58.6h0.8v0.8h-0.8zM344.6 65.5h0.8v0.8h-0.8zM348.4 66.4h0.8v0.8h-0.8zM341.7 55.1h0.8v0.8h-0.8zM352.3 48.7h0.8v0.8h-0.8zM357.5 64.4h0.8v0.8h-0.8zM357.6 63.5h0.8v0.8h-0.8zM348.9 60.9h0.8v0.8h-0.8zM344.7 53h0.8v0.8h-0.8zM354.8 62.2h0.8v0.8h-0.8zM336.9 56.8h0.8v0.8h-0.8zM343.9 57h0.8v0.8h-0.8zM345 64.3h0.8v0.8h-0.8zM340.1 57h0.8v0.8h-0.8zM349.6 50.4h0.8v0.8h-0.8zM340.8 57h0.8v0.8h-0.8zM346.7 56.1h0.8v0.8h-0.8zM351.7 48.8h0.8v0.8h-0.8zM354.5 60.9h0.8v0.8h-0.8zM345.9 61.1h0.8v0.8h-0.8zM341.8 59.6h0.8v0.8h-0.8z" fill="#fff" fill-opacity="0.7"/>
<path d="M344.6 67.2 C345.3 67.1 347.2 67.2 349 67.2 C350.8 67.2 354.3 67.1 355.6 67.2 C356.9 67.2 356.6 67 356.7 67.7 C356.9 68.4 356.7 70 356.4 71.1 C356.1 72.2 354.9 73.1 354.7 74.1 C354.6 75.1 355.2 76 355.4 77.1 C355.6 78.3 356 79.7 356 80.7 C356.1 81.8 355.9 82.5 355.5 83.3 C355.2 84.1 354.4 84.6 353.7 85.3 C353 85.9 352.1 86.8 351.5 87.3 C350.9 87.9 350.6 88.4 350.2 88.5 C349.7 88.6 349.2 88.3 348.7 87.8 C348.3 87.3 347.8 86.3 347.3 85.6 C346.9 84.8 346.3 83.9 345.9 83.1 C345.5 82.2 345.1 81.3 344.9 80.4 C344.7 79.5 344.7 78.8 344.7 77.8 C344.6 76.8 344.5 75.4 344.7 74.1 C344.8 72.9 345.3 71.6 345.3 70.5 C345.4 69.4 345.1 68 345 67.4 C344.9 66.9 343.9 67.2 344.6 67.2Z" fill="#c6c8cd"/>
<path d="M355.8 81.1h0.9v0.9h-0.9zM344.2 77.2h0.9v0.9h-0.9zM344.3 65.8h0.9v0.9h-0.9zM344.3 73.9h0.9v0.9h-0.9zM355.5 78.5h0.9v0.9h-0.9zM349.3 88.3h0.9v0.9h-0.9zM350 66.1h0.9v0.9h-0.9zM356.6 83.6h0.9v0.9h-0.9zM355.7 79h0.9v0.9h-0.9zM348.1 87h0.9v0.9h-0.9zM345.3 84.5h0.9v0.9h-0.9zM354.2 66.9h0.9v0.9h-0.9zM346.4 66.5h0.9v0.9h-0.9zM355.6 66.4h0.9v0.9h-0.9zM349.2 87.5h0.9v0.9h-0.9zM353.4 84h0.9v0.9h-0.9zM346.4 85.2h0.9v0.9h-0.9zM345.7 82.9h0.9v0.9h-0.9zM355.3 77h0.9v0.9h-0.9zM339.8 75.6h0.9v0.9h-0.9zM344.7 77.9h0.9v0.9h-0.9zM350.9 65.5h0.9v0.9h-0.9zM349.2 67.1h0.9v0.9h-0.9zM344.3 78.1h0.9v0.9h-0.9zM354.8 77.9h0.9v0.9h-0.9zM344.9 80.2h0.9v0.9h-0.9zM346.4 66.8h0.9v0.9h-0.9zM343.9 67.6h0.9v0.9h-0.9zM354.8 72.3h0.9v0.9h-0.9zM344.5 70.8h0.9v0.9h-0.9zM346.4 86.4h0.9v0.9h-0.9zM355.8 75.1h0.9v0.9h-0.9zM355.2 76.9h0.9v0.9h-0.9zM344.5 68.8h0.9v0.9h-0.9zM355.7 79.2h0.9v0.9h-0.9zM349.6 87.7h0.9v0.9h-0.9zM344.5 71.4h0.9v0.9h-0.9zM345.9 66.6h0.9v0.9h-0.9zM355 73.4h0.9v0.9h-0.9zM344.3 79.8h0.9v0.9h-0.9zM352.9 87h0.9v0.9h-0.9zM356.9 67.2h0.9v0.9h-0.9zM354.7 77.4h0.9v0.9h-0.9zM355.7 66.9h0.9v0.9h-0.9z" fill="#c6c8cd"/>
<path d="M346.8 78.6h0.8v0.8h-0.8zM348.1 71.7h0.8v0.8h-0.8zM345 70.8h0.8v0.8h-0.8zM344.7 66.8h0.8v0.8h-0.8zM345.6 78.2h0.8v0.8h-0.8zM349.8 86.1h0.8v0.8h-0.8zM350.1 68.6h0.8v0.8h-0.8zM346 81.7h0.8v0.8h-0.8zM347.1 74.2h0.8v0.8h-0.8zM349.5 76h0.8v0.8h-0.8zM347.7 70.1h0.8v0.8h-0.8zM348.8 81.5h0.8v0.8h-0.8zM346.7 69.2h0.8v0.8h-0.8zM353.9 78h0.8v0.8h-0.8zM347.1 77.1h0.8v0.8h-0.8zM350.8 70.9h0.8v0.8h-0.8zM349.7 86.6h0.8v0.8h-0.8zM349.7 87.9h0.8v0.8h-0.8zM353 69.5h0.8v0.8h-0.8zM355.4 81.6h0.8v0.8h-0.8zM349.6 70.8h0.8v0.8h-0.8zM352.2 70.8h0.8v0.8h-0.8zM349.8 70h0.8v0.8h-0.8zM349.3 87.4h0.8v0.8h-0.8zM351.5 77.7h0.8v0.8h-0.8zM351.7 80.8h0.8v0.8h-0.8zM351.5 72.9h0.8v0.8h-0.8zM346.8 79.7h0.8v0.8h-0.8z" fill="#fff" fill-opacity="0.7"/>
<path d="M356.9 90.7 C357 90.1 357.6 90 358.1 90.1 C358.5 90.3 358.9 90.9 359.6 91.4 C360.2 91.9 361.3 92.6 362.1 93.1 C362.9 93.5 363.8 93.9 364.6 94.4 C365.3 94.9 366 95.4 366.6 96 C367.2 96.5 367.8 97.2 368 97.7 C368.2 98.2 368.1 98.7 367.8 99 C367.5 99.4 367.1 99.8 366.3 99.8 C365.6 99.8 364.5 99.5 363.6 99.1 C362.7 98.8 361.9 98.4 361.2 97.8 C360.4 97.2 359.8 96.1 359.1 95.3 C358.5 94.6 357.7 94.1 357.3 93.3 C356.9 92.6 356.8 91.2 356.9 90.7Z" fill="#c6c8cd"/>
<path d="M355.6 91.7h0.9v0.9h-0.9zM366.9 98.5h0.9v0.9h-0.9zM365.2 99.9h0.9v0.9h-0.9zM368.9 100h0.9v0.9h-0.9zM356.8 91.2h0.9v0.9h-0.9zM361.6 93.2h0.9v0.9h-0.9zM364.5 100.2h0.9v0.9h-0.9zM359.1 91h0.9v0.9h-0.9zM367.3 98.3h0.9v0.9h-0.9zM357.3 89.6h0.9v0.9h-0.9zM360.6 97.9h0.9v0.9h-0.9zM361.2 92.1h0.9v0.9h-0.9zM358.9 97.3h0.9v0.9h-0.9zM366.3 99.1h0.9v0.9h-0.9zM360.2 96.1h0.9v0.9h-0.9zM366.8 95.3h0.9v0.9h-0.9zM358 89.9h0.9v0.9h-0.9zM367 97.4h0.9v0.9h-0.9zM362.8 93.4h0.9v0.9h-0.9zM364.8 94.2h0.9v0.9h-0.9zM357.8 90.1h0.9v0.9h-0.9z" fill="#c6c8cd"/>
<path d="M358.1 92.4h0.8v0.8h-0.8zM366.8 98.5h0.8v0.8h-0.8zM360.2 92.4h0.8v0.8h-0.8zM361.7 93.2h0.8v0.8h-0.8zM365.3 98.4h0.8v0.8h-0.8zM366.9 96.8h0.8v0.8h-0.8z" fill="#fff" fill-opacity="0.7"/>
<path d="M357.7 54.9 C357.6 54.5 358.1 53.4 358.5 52.6 C358.9 51.9 359.4 51 360 50.3 C360.5 49.7 361.2 49.1 361.8 48.7 C362.4 48.4 362.9 48.2 363.5 48.2 C364.1 48.2 364.9 48.5 365.6 48.7 C366.3 49 367.2 49.3 367.6 49.7 C368.1 50 368.5 50.6 368.5 51 C368.4 51.4 367.8 52.1 367.2 52.2 C366.7 52.2 365.8 51.7 365.1 51.5 C364.5 51.3 363.7 50.8 363.1 50.8 C362.4 50.8 361.9 51.1 361.4 51.5 C360.9 51.9 360.5 52.5 360.2 53.1 C359.8 53.7 359.5 54.8 359.1 55.1 C358.7 55.4 357.8 55.3 357.7 54.9Z" fill="#c6c8cd"/>
<path d="M367.9 50h0.9v0.9h-0.9zM357.4 55.9h0.9v0.9h-0.9zM362.4 50.5h0.9v0.9h-0.9zM365.5 51.4h0.9v0.9h-0.9zM358.6 50.9h0.9v0.9h-0.9zM367.5 48.8h0.9v0.9h-0.9zM357.4 51.5h0.9v0.9h-0.9zM367.7 49h0.9v0.9h-0.9zM360.6 50.7h0.9v0.9h-0.9zM361.4 46.6h0.9v0.9h-0.9zM363.1 47.6h0.9v0.9h-0.9zM363.2 50.8h0.9v0.9h-0.9zM363.6 50.6h0.9v0.9h-0.9zM359.7 51.3h0.9v0.9h-0.9zM361.4 50.5h0.9v0.9h-0.9zM363.7 47.8h0.9v0.9h-0.9zM360.5 51.4h0.9v0.9h-0.9zM358.6 54.1h0.9v0.9h-0.9zM359.2 50.4h0.9v0.9h-0.9zM360.1 49.4h0.9v0.9h-0.9zM366.4 48.8h0.9v0.9h-0.9z" fill="#c6c8cd"/>
<path d="M367.5 49.9h0.8v0.8h-0.8zM362.8 50.2h0.8v0.8h-0.8zM359 51.1h0.8v0.8h-0.8z" fill="#fff" fill-opacity="0.7"/>
<path d="M362.2 48.5 C362.5 48.2 363.6 48 364.3 48.1 C365 48.1 366.1 48.4 366.4 48.7 C366.7 49.1 366.6 50 366.2 50.3 C365.8 50.6 364.6 50.6 363.9 50.6 C363.2 50.5 362.5 50.5 362.2 50.1 C361.9 49.8 361.8 48.9 362.2 48.5Z" fill="#c6c8cd"/>
<path d="M363.9 46.9h0.9v0.9h-0.9zM362.9 50h0.9v0.9h-0.9zM362.8 50.2h0.9v0.9h-0.9zM364.4 49.9h0.9v0.9h-0.9zM362.8 50h0.9v0.9h-0.9zM361.7 47.7h0.9v0.9h-0.9zM366 48.5h0.9v0.9h-0.9zM365 47.4h0.9v0.9h-0.9zM361.2 49.6h0.9v0.9h-0.9z" fill="#c6c8cd"/>
<path d="M363.7 48h0.8v0.8h-0.8z" fill="#fff" fill-opacity="0.7"/>
<path d="M356.4 48 C356.6 47.7 357.2 47.4 357.7 47.1 C358.2 46.9 358.8 46.5 359.3 46.2 C359.9 46 360.5 45.5 360.8 45.5 C361.1 45.5 361.4 46 361.2 46.2 C361 46.5 360.3 46.8 359.8 47.1 C359.2 47.4 358.6 47.8 358.1 48.1 C357.6 48.3 357 48.5 356.8 48.5 C356.5 48.5 356.3 48.2 356.4 48Z" fill="#c6c8cd"/>
<path d="M360.6 45.2h0.9v0.9h-0.9zM360.3 45h0.9v0.9h-0.9zM356.1 47.9h0.9v0.9h-0.9zM360.8 45.3h0.9v0.9h-0.9zM359.9 46.9h0.9v0.9h-0.9zM356.9 48.4h0.9v0.9h-0.9zM355.2 47.6h0.9v0.9h-0.9zM359.5 46.2h0.9v0.9h-0.9zM358.9 47.4h0.9v0.9h-0.9zM356.9 48.7h0.9v0.9h-0.9zM357.7 47.6h0.9v0.9h-0.9z" fill="#c6c8cd"/>
<path d="M360.9 53.6h0.9v0.9h-0.9zM360 59.2h0.9v0.9h-0.9zM362.2 68.3h0.9v0.9h-0.9zM361.1 81.1h0.9v0.9h-0.9zM359.7 60.6h0.9v0.9h-0.9zM359.9 59.7h0.9v0.9h-0.9zM359.6 61.3h0.9v0.9h-0.9zM363.6 68.6h0.9v0.9h-0.9zM357.5 68.9h0.9v0.9h-0.9zM360.6 56.9h0.9v0.9h-0.9zM361.6 81.4h0.9v0.9h-0.9zM363.7 73.8h0.9v0.9h-0.9zM357.7 68h0.9v0.9h-0.9zM361.8 54.2h0.9v0.9h-0.9zM360.5 51.6h0.9v0.9h-0.9zM359.9 75.8h0.9v0.9h-0.9zM360.4 69.2h0.9v0.9h-0.9zM366.6 71.1h0.9v0.9h-0.9zM359.9 56.1h0.9v0.9h-0.9zM360.7 80.7h0.9v0.9h-0.9zM358.2 57.5h0.9v0.9h-0.9zM362.6 69h0.9v0.9h-0.9zM363.3 78.6h0.9v0.9h-0.9zM366.4 67.3h0.9v0.9h-0.9zM359.8 76.5h0.9v0.9h-0.9zM366.1 66.3h0.9v0.9h-0.9zM362.8 78.2h0.9v0.9h-0.9zM360.4 51.1h0.9v0.9h-0.9zM360.2 62.1h0.9v0.9h-0.9zM363.7 74.8h0.9v0.9h-0.9zM358.1 70.8h0.9v0.9h-0.9zM358.6 69.6h0.9v0.9h-0.9zM358.9 57.1h0.9v0.9h-0.9zM360.8 76.5h0.9v0.9h-0.9zM364 68.3h0.9v0.9h-0.9zM367 72.2h0.9v0.9h-0.9zM362.3 79.1h0.9v0.9h-0.9zM359.4 69h0.9v0.9h-0.9zM358 59.8h0.9v0.9h-0.9zM364.6 75.2h0.9v0.9h-0.9zM366.2 68.1h0.9v0.9h-0.9zM363.4 77.4h0.9v0.9h-0.9zM359.9 61.8h0.9v0.9h-0.9zM358.5 64.7h0.9v0.9h-0.9zM359.2 53.7h0.9v0.9h-0.9zM363.6 66h0.9v0.9h-0.9zM364.2 76.9h0.9v0.9h-0.9zM359.3 67.9h0.9v0.9h-0.9zM360.1 56.1h0.9v0.9h-0.9zM359.6 76.2h0.9v0.9h-0.9zM359.1 55.8h0.9v0.9h-0.9zM366.8 67.4h0.9v0.9h-0.9zM362.5 70.8h0.9v0.9h-0.9zM359.1 62.2h0.9v0.9h-0.9zM362 52.1h0.9v0.9h-0.9zM360.5 68.9h0.9v0.9h-0.9zM358 68.9h0.9v0.9h-0.9zM360.2 62.4h0.9v0.9h-0.9zM362 69h0.9v0.9h-0.9zM359.2 57.3h0.9v0.9h-0.9zM357.5 63.3h0.9v0.9h-0.9zM358.5 57.7h0.9v0.9h-0.9zM359.7 66.8h0.9v0.9h-0.9zM363.1 76.6h0.9v0.9h-0.9zM359.8 70.9h0.9v0.9h-0.9zM365 68.6h0.9v0.9h-0.9zM361.1 66.9h0.9v0.9h-0.9zM365.2 74.9h0.9v0.9h-0.9zM358.8 55.7h0.9v0.9h-0.9zM360.4 68.6h0.9v0.9h-0.9zM357.9 60.2h0.9v0.9h-0.9zM358.8 67.7h0.9v0.9h-0.9zM359.4 77.3h0.9v0.9h-0.9zM357.9 61.8h0.9v0.9h-0.9zM361.5 81.3h0.9v0.9h-0.9zM366.7 68.6h0.9v0.9h-0.9zM360.8 56.3h0.9v0.9h-0.9zM359.2 70.4h0.9v0.9h-0.9zM361.4 51.8h0.9v0.9h-0.9zM361.4 75.9h0.9v0.9h-0.9zM360.9 69.9h0.9v0.9h-0.9zM359.9 54.3h0.9v0.9h-0.9zM358.4 55.8h0.9v0.9h-0.9zM358.6 54.6h0.9v0.9h-0.9zM357.7 64.2h0.9v0.9h-0.9zM361.7 81h0.9v0.9h-0.9zM365.8 69.4h0.9v0.9h-0.9zM361.7 68.4h0.9v0.9h-0.9zM362.6 68.9h0.9v0.9h-0.9zM360.7 77h0.9v0.9h-0.9zM363.5 75.8h0.9v0.9h-0.9zM363.1 72.9h0.9v0.9h-0.9zM362.8 75.2h0.9v0.9h-0.9zM359.1 56h0.9v0.9h-0.9zM359.4 62.1h0.9v0.9h-0.9zM366.9 70.3h0.9v0.9h-0.9zM360.2 71.1h0.9v0.9h-0.9zM362 73.3h0.9v0.9h-0.9zM357.4 67h0.9v0.9h-0.9zM361.3 64.7h0.9v0.9h-0.9zM363.1 75.2h0.9v0.9h-0.9zM366.6 69.3h0.9v0.9h-0.9zM365.6 72.3h0.9v0.9h-0.9zM358.7 69.2h0.9v0.9h-0.9zM359.2 52.7h0.9v0.9h-0.9zM361.5 77.4h0.9v0.9h-0.9zM361.6 54.5h0.9v0.9h-0.9zM359.6 72.2h0.9v0.9h-0.9zM359.7 74.7h0.9v0.9h-0.9zM362.4 75.6h0.9v0.9h-0.9zM361 54.1h0.9v0.9h-0.9zM364.5 72.7h0.9v0.9h-0.9zM363.8 80.1h0.9v0.9h-0.9z" fill="#c6c8cd"/>
<path d="M321.3 59.5h1v1h-1zM322.4 59.4h1v1h-1zM323.3 58.4h1v1h-1zM324.2 58.6h1v1h-1zM325.4 57.6h1v1h-1zM326.4 58h1v1h-1zM327.1 57.4h1v1h-1zM328.2 57.1h1v1h-1zM328.9 56.4h1v1h-1zM330.3 56.7h1v1h-1zM331 57.2h1v1h-1zM331.9 57h1v1h-1zM332.6 57.1h1v1h-1zM333.5 57.1h1v1h-1zM334.3 56.4h1v1h-1zM335.1 56.1h1v1h-1zM335.5 57h1v1h-1zM336.5 57.1h1v1h-1z" fill="#b3b5bb"/>
<path d="M354.8 84.8h1v1h-1zM355.1 86.5h1v1h-1zM355.9 87h1v1h-1zM356.2 87.3h1v1h-1zM356.7 88.4h1v1h-1z" fill="#b3b5bb"/>
<path d="M364 31.6h0.9v0.9h-0.9zM362.5 30.5h0.9v0.9h-0.9zM363.5 29.5h0.9v0.9h-0.9zM363.9 29.2h0.9v0.9h-0.9zM361.9 31.9h0.9v0.9h-0.9zM363.5 28.2h0.9v0.9h-0.9zM364 29h0.9v0.9h-0.9z" fill="#c6c8cd"/>
<path d="M367.1 32h0.9v0.9h-0.9zM367.8 31.4h0.9v0.9h-0.9z" fill="#c6c8cd"/>
<path d="M354 45.9h0.9v0.9h-0.9zM354.4 46h0.9v0.9h-0.9z" fill="#c6c8cd"/>
<path d="M354.9 45h0.9v0.9h-0.9zM354.6 45.1h0.9v0.9h-0.9z" fill="#c6c8cd"/>
<path d="M355.4 44.4h0.9v0.9h-0.9zM355.4 44.5h0.9v0.9h-0.9z" fill="#c6c8cd"/>
<path d="M383.3 30.9h0.9v0.9h-0.9zM383.8 30.2h0.9v0.9h-0.9z" fill="#c6c8cd"/>
<path d="M359.6 67.5h0.9v0.9h-0.9zM359.9 67.6h0.9v0.9h-0.9zM360.6 68.2h0.9v0.9h-0.9zM360.5 68.3h0.9v0.9h-0.9zM359.8 68h0.9v0.9h-0.9zM359.5 66.1h0.9v0.9h-0.9zM358.1 66.7h0.9v0.9h-0.9zM360.5 68.5h0.9v0.9h-0.9zM360.1 67.3h0.9v0.9h-0.9z" fill="#c6c8cd"/>
<path d="M360 70.3h0.9v0.9h-0.9zM361.5 70.2h0.9v0.9h-0.9zM361.5 69.4h0.9v0.9h-0.9zM360.3 70.7h0.9v0.9h-0.9zM362.1 70h0.9v0.9h-0.9zM359.7 69.8h0.9v0.9h-0.9zM360 69.4h0.9v0.9h-0.9zM360.3 70.1h0.9v0.9h-0.9zM362.9 70.4h0.9v0.9h-0.9z" fill="#c6c8cd"/>
<path d="M365.9 71.1h0.9v0.9h-0.9zM364.9 72.1h0.9v0.9h-0.9zM365 71.3h0.9v0.9h-0.9zM365.4 71.6h0.9v0.9h-0.9zM364.5 70.3h0.9v0.9h-0.9z" fill="#c6c8cd"/>
<path d="M363.5 73.3h0.9v0.9h-0.9zM361.4 75.3h0.9v0.9h-0.9zM361.1 74.6h0.9v0.9h-0.9zM361.1 75.1h0.9v0.9h-0.9zM361 75.9h0.9v0.9h-0.9zM360.3 73.2h0.9v0.9h-0.9zM360.7 76.3h0.9v0.9h-0.9z" fill="#c6c8cd"/>
<path d="M361.1 80h0.9v0.9h-0.9zM361.5 81.4h0.9v0.9h-0.9zM361.5 80.4h0.9v0.9h-0.9z" fill="#c6c8cd"/>
<path d="M362.2 76.8h0.9v0.9h-0.9zM361.1 76.1h0.9v0.9h-0.9zM363.1 77.3h0.9v0.9h-0.9zM361.8 77.7h0.9v0.9h-0.9z" fill="#c6c8cd"/>
<path d="M349.5 90.4h0.9v0.9h-0.9zM349.6 91.6h0.9v0.9h-0.9zM349.6 88.8h0.9v0.9h-0.9zM349.8 92.7h0.9v0.9h-0.9zM350 89h0.9v0.9h-0.9zM348.9 92.7h0.9v0.9h-0.9z" fill="#c6c8cd"/>
<path d="M372.8 80.3h0.9v0.9h-0.9zM373.9 79.5h0.9v0.9h-0.9zM372.1 80h0.9v0.9h-0.9zM373.1 78.5h0.9v0.9h-0.9zM371.9 79h0.9v0.9h-0.9z" fill="#c6c8cd"/>
<path d="M359.2 74.5h0.9v0.9h-0.9zM359.1 73.3h0.9v0.9h-0.9z" fill="#c6c8cd"/>
<path d="M346.8 55.6h1v1h-1zM349.7 53.7h1v1h-1zM347.5 60.6h1v1h-1zM353.4 52.1h1v1h-1zM355 56.5h1v1h-1zM356.7 62.5h1v1h-1zM351.7 51.1h1v1h-1zM352.4 66.2h1v1h-1zM345.1 53.4h1v1h-1zM356.1 62.8h1v1h-1zM348.7 62h1v1h-1zM352.8 60.7h1v1h-1zM349.3 59.1h1v1h-1zM353.8 50.9h1v1h-1zM357.6 54.5h1v1h-1zM344.9 50h1v1h-1zM339.8 56.8h1v1h-1zM347.4 47.7h1v1h-1zM357.3 59.4h1v1h-1zM348.2 51.4h1v1h-1zM345.9 65.4h1v1h-1zM346.1 56.5h1v1h-1zM352.6 48h1v1h-1zM356.5 65.1h1v1h-1zM354.5 56.4h1v1h-1zM338.9 56.8h1v1h-1zM356.9 61.3h1v1h-1zM358.1 58.3h1v1h-1zM353.9 52.5h1v1h-1zM341.6 57.6h1v1h-1zM350.6 55.2h1v1h-1zM341.8 59.5h1v1h-1zM351.8 54.6h1v1h-1zM337.4 57.2h1v1h-1zM355.6 65.1h1v1h-1zM342.6 53h1v1h-1zM344.2 59.3h1v1h-1zM343.3 55.7h1v1h-1zM351.3 51.4h1v1h-1zM346.3 64h1v1h-1zM349.9 60.3h1v1h-1zM345.4 48.6h1v1h-1zM356.9 58.3h1v1h-1zM356.4 59.9h1v1h-1zM344.1 61h1v1h-1zM342.5 56.5h1v1h-1zM350.7 62.5h1v1h-1zM348.8 59.2h1v1h-1zM338.5 57h1v1h-1zM354.5 53.8h1v1h-1zM346.3 59.1h1v1h-1zM349.1 67h1v1h-1zM355.6 60.5h1v1h-1zM351.9 50.3h1v1h-1zM352.5 59.7h1v1h-1zM347.4 52.9h1v1h-1zM344.2 51h1v1h-1zM355.4 55.4h1v1h-1zM348.9 48h1v1h-1zM349.1 59.3h1v1h-1zM342.4 57.5h1v1h-1zM345.3 65.8h1v1h-1zM356.9 55.1h1v1h-1zM344.9 59.1h1v1h-1zM357.3 59.6h1v1h-1zM347.8 55.5h1v1h-1zM354.6 61.7h1v1h-1zM342.8 52.3h1v1h-1zM351.6 52.7h1v1h-1zM343.8 50.2h1v1h-1zM356.6 55.4h1v1h-1zM348.9 52.4h1v1h-1zM358.2 58.6h1v1h-1zM353.3 50.1h1v1h-1zM346.2 65.4h1v1h-1zM354.1 62.7h1v1h-1zM349.6 49.7h1v1h-1zM351.3 58.1h1v1h-1zM348.4 65.6h1v1h-1zM343.9 59.4h1v1h-1zM352.8 61.7h1v1h-1zM346.2 64.8h1v1h-1zM353.3 50.4h1v1h-1zM351.4 56.6h1v1h-1zM349.3 54.5h1v1h-1zM349.3 57.7h1v1h-1zM343.7 53.5h1v1h-1zM349.8 54h1v1h-1zM348 49.7h1v1h-1zM349.6 55.8h1v1h-1zM351 66.3h1v1h-1zM344 62.5h1v1h-1zM350.6 58h1v1h-1zM338.9 57.7h1v1h-1zM341.8 57h1v1h-1zM345.3 51.2h1v1h-1z" fill="#f08a72"/>
<path d="M349.6 72.5h1v1h-1zM345.5 82.7h1v1h-1zM345.9 82.7h1v1h-1zM350.4 82.8h1v1h-1zM353.9 84.3h1v1h-1zM351.5 86h1v1h-1zM353.3 74.8h1v1h-1zM348.5 84.8h1v1h-1zM352.7 73.8h1v1h-1zM347.3 72.7h1v1h-1zM352.5 76.5h1v1h-1zM346.7 69.6h1v1h-1zM354.1 70.5h1v1h-1zM346 78h1v1h-1zM344.5 75.2h1v1h-1zM350.9 77.2h1v1h-1zM349.8 66.8h1v1h-1zM355.1 69.6h1v1h-1zM352 85.6h1v1h-1zM347.2 75.9h1v1h-1zM345.2 76.7h1v1h-1zM349.7 73.3h1v1h-1zM346.5 75.8h1v1h-1zM347.5 77.1h1v1h-1zM351.1 75.3h1v1h-1zM351.4 75.5h1v1h-1zM350.2 77h1v1h-1zM351.3 83h1v1h-1zM347.7 69.9h1v1h-1zM347.8 69.4h1v1h-1zM352 71.2h1v1h-1zM345.5 83.3h1v1h-1zM351.1 69.6h1v1h-1zM355.8 69.9h1v1h-1zM348.2 78.2h1v1h-1zM351.9 69.7h1v1h-1zM347.3 83.3h1v1h-1zM355.3 70.5h1v1h-1zM348.7 80.9h1v1h-1zM345.4 81.2h1v1h-1zM344.2 73.2h1v1h-1zM344.5 77.6h1v1h-1zM345.5 80.8h1v1h-1zM349 84.1h1v1h-1zM345.4 68.2h1v1h-1zM350.2 77.4h1v1h-1zM354.5 66.9h1v1h-1zM346.1 71.8h1v1h-1zM349.3 84.4h1v1h-1zM352.3 71.6h1v1h-1zM348.8 83.2h1v1h-1zM350.9 68.7h1v1h-1zM348.4 66.9h1v1h-1zM349.6 71.4h1v1h-1zM347.7 73.8h1v1h-1zM354.8 68.2h1v1h-1zM345 69.3h1v1h-1zM349.3 75.9h1v1h-1zM347.3 69.2h1v1h-1zM350.8 84.6h1v1h-1zM346.7 83.2h1v1h-1zM348.5 87.4h1v1h-1zM355.9 70.2h1v1h-1zM354.1 79.3h1v1h-1zM348.8 77.7h1v1h-1zM351 77.2h1v1h-1zM347.1 81.4h1v1h-1zM351.8 82.8h1v1h-1zM345.3 71.4h1v1h-1zM350 86.7h1v1h-1zM348.9 70.9h1v1h-1zM350.5 73.3h1v1h-1zM349.6 84.9h1v1h-1zM345.2 73.8h1v1h-1zM349.5 79.7h1v1h-1zM344.5 76h1v1h-1zM348.8 81.8h1v1h-1zM348 77.6h1v1h-1zM349.8 73.9h1v1h-1zM344.6 67.2h1v1h-1zM351.6 69.3h1v1h-1zM346.3 73.4h1v1h-1zM344.3 73.9h1v1h-1zM347.4 73.5h1v1h-1zM354.5 78.6h1v1h-1zM353.1 84.3h1v1h-1zM348.6 84.2h1v1h-1zM345.1 82.2h1v1h-1zM352.6 78.8h1v1h-1zM351.6 76.5h1v1h-1zM349.3 76.8h1v1h-1zM351.5 84.9h1v1h-1zM348.1 78.6h1v1h-1zM348.8 70.1h1v1h-1zM352.8 66.5h1v1h-1zM355 67.4h1v1h-1zM346 82.7h1v1h-1zM349.3 72.9h1v1h-1zM350 86.8h1v1h-1zM352 74.3h1v1h-1zM354 83.8h1v1h-1zM348.9 81.3h1v1h-1zM346.5 72.2h1v1h-1zM352.8 74.3h1v1h-1zM348.9 86.7h1v1h-1zM345.8 75.4h1v1h-1zM347.2 82h1v1h-1zM345.2 76.4h1v1h-1zM344 75.9h1v1h-1zM346.3 75.4h1v1h-1zM352.3 81.2h1v1h-1zM347.7 73.7h1v1h-1zM349.2 71.9h1v1h-1zM354.5 83.8h1v1h-1zM352.3 80.6h1v1h-1zM347.6 72.5h1v1h-1zM353.5 68.4h1v1h-1zM346.5 83.1h1v1h-1zM355.4 69.8h1v1h-1zM345.4 78.4h1v1h-1z" fill="#e8553d"/>
<path d="M347 83.3h1v1h-1zM351.6 85.6h1v1h-1zM352.1 84.3h1v1h-1zM350 86.9h1v1h-1zM355.4 77.8h1v1h-1zM346.8 82.9h1v1h-1zM350.6 80.6h1v1h-1zM350.1 77.9h1v1h-1zM349.1 82.6h1v1h-1zM353 84h1v1h-1zM345.5 78h1v1h-1zM349.9 84.8h1v1h-1zM347.5 84.4h1v1h-1zM347 79.1h1v1h-1zM354.1 77.8h1v1h-1zM354 82.1h1v1h-1zM350.6 76.9h1v1h-1zM348.6 81.3h1v1h-1zM349.8 86.6h1v1h-1zM348.8 86.3h1v1h-1zM347.7 84.5h1v1h-1zM346.1 82.5h1v1h-1zM347.8 85.8h1v1h-1zM350.5 78.1h1v1h-1zM352.7 80.6h1v1h-1zM347 83.2h1v1h-1zM352.5 76.2h1v1h-1zM349.6 78.9h1v1h-1zM350.5 83.6h1v1h-1zM347.9 78.9h1v1h-1zM349.2 78.9h1v1h-1zM346.5 78.1h1v1h-1zM350 86.2h1v1h-1zM354.9 77.8h1v1h-1zM351.6 79.8h1v1h-1zM346.2 78.8h1v1h-1zM351.8 77h1v1h-1zM353.7 75.8h1v1h-1zM346.1 82.4h1v1h-1zM349.4 84.3h1v1h-1z" fill="#e2412d"/>
<path d="M363 96.8h1v1h-1zM361.8 93.2h1v1h-1zM361.2 92.9h1v1h-1zM357.3 91.9h1v1h-1zM357.8 92.6h1v1h-1zM363.7 98h1v1h-1zM361.5 96h1v1h-1zM361.3 94.8h1v1h-1zM361.4 93.5h1v1h-1zM362.8 93.4h1v1h-1zM359.6 93.6h1v1h-1zM364.7 94.5h1v1h-1zM357.2 90.4h1v1h-1zM356.6 92.3h1v1h-1zM363.9 95.7h1v1h-1zM358.8 92.1h1v1h-1zM360.8 92.4h1v1h-1zM359.8 95.5h1v1h-1zM365.4 97.4h1v1h-1zM361.1 95.7h1v1h-1zM363.9 97.5h1v1h-1zM357.4 93.6h1v1h-1zM356.5 92.3h1v1h-1zM357.1 92.9h1v1h-1zM362.5 96h1v1h-1zM363.5 97.4h1v1h-1zM365.8 99.2h1v1h-1zM367.5 97.6h1v1h-1z" fill="#c0301e"/>
<path d="M359.1 94.9h1.1v1.1h-1.1zM357.9 93.2h1.1v1.1h-1.1zM366.7 97.3h1.1v1.1h-1.1zM361 95.3h1.1v1.1h-1.1zM356.9 92h1.1v1.1h-1.1zM358.4 93.2h1.1v1.1h-1.1zM364.4 97.8h1.1v1.1h-1.1zM362.7 97.2h1.1v1.1h-1.1zM357.7 93.4h1.1v1.1h-1.1zM360.2 95.3h1.1v1.1h-1.1zM364.6 99.1h1.1v1.1h-1.1zM358 94h1.1v1.1h-1.1zM363.1 96.4h1.1v1.1h-1.1zM358.2 94.6h1.1v1.1h-1.1zM358 91h1.1v1.1h-1.1zM365.3 96.6h1.1v1.1h-1.1zM359.9 94.5h1.1v1.1h-1.1zM360.3 94.5h1.1v1.1h-1.1zM361.6 95.8h1.1v1.1h-1.1zM358.8 94.2h1.1v1.1h-1.1zM362.5 97.2h1.1v1.1h-1.1zM358.6 94.3h1.1v1.1h-1.1zM362.4 97.1h1.1v1.1h-1.1zM367.1 97.2h1.1v1.1h-1.1zM359.6 93.9h1.1v1.1h-1.1zM366.4 97.8h1.1v1.1h-1.1zM358 91h1.1v1.1h-1.1zM359.7 93.6h1.1v1.1h-1.1zM356.8 92.6h1.1v1.1h-1.1zM364.4 98.2h1.1v1.1h-1.1zM365.3 99.1h1.1v1.1h-1.1zM361.9 96.9h1.1v1.1h-1.1zM365.9 98.2h1.1v1.1h-1.1zM359.2 93.5h1.1v1.1h-1.1zM361.6 96.2h1.1v1.1h-1.1zM365.7 98.9h1.1v1.1h-1.1zM360.3 93.5h1.1v1.1h-1.1zM365 97.5h1.1v1.1h-1.1zM366.3 97.2h1.1v1.1h-1.1zM359.1 96h1.1v1.1h-1.1zM358.1 92.4h1.1v1.1h-1.1zM367.1 98.7h1.1v1.1h-1.1zM361.3 96.4h1.1v1.1h-1.1zM366.2 98.2h1.1v1.1h-1.1zM362.6 98.3h1.1v1.1h-1.1zM365.8 97.5h1.1v1.1h-1.1zM363.9 96.3h1.1v1.1h-1.1zM365.5 98.1h1.1v1.1h-1.1zM358.3 94.6h1.1v1.1h-1.1zM365.6 97.6h1.1v1.1h-1.1zM359.6 96.2h1.1v1.1h-1.1zM359.6 93h1.1v1.1h-1.1zM360.2 96.3h1.1v1.1h-1.1zM359.8 94.2h1.1v1.1h-1.1zM364.8 97.9h1.1v1.1h-1.1zM359 94.9h1.1v1.1h-1.1zM357.3 92.9h1.1v1.1h-1.1zM362.9 97.8h1.1v1.1h-1.1zM363.9 97.8h1.1v1.1h-1.1zM367.8 98.5h1.1v1.1h-1.1z" fill="#a31414"/>
<path d="M368.3 97.1h1v1h-1zM359.1 96.2h1v1h-1zM356.7 93.6h1v1h-1zM357.4 94h1v1h-1zM363.5 98.8h1v1h-1zM363.1 99.1h1v1h-1zM369.8 97.2h1v1h-1zM364 98.7h1v1h-1zM368 100.3h1v1h-1zM360.7 93.7h1v1h-1zM367.1 97h1v1h-1zM366.3 96.5h1v1h-1zM367 99h1v1h-1zM358.5 95.1h1v1h-1zM367.1 97.3h1v1h-1zM363.8 98.9h1v1h-1z" fill="#a31414"/>
<path d="M349.9 89.9h1v1h-1zM350.2 92.4h1v1h-1zM348.9 90.8h1v1h-1zM349.2 93.1h1v1h-1z" fill="#e06048"/>
<path d="M354.7 84.8h1v1h-1zM355.1 86.6h1v1h-1zM355.8 87.3h1v1h-1zM356.1 88h1v1h-1zM356.4 88.6h1v1h-1z" fill="#d04030"/>
<path d="M373.3 70.2h1v1h-1zM362.3 61.8h1v1h-1zM365.7 63.9h1v1h-1zM365.3 63.3h1v1h-1zM363.5 58h1v1h-1zM377.6 63h1v1h-1zM377.3 61.8h1v1h-1zM366.9 62.5h1v1h-1zM365.2 63h1v1h-1zM368.4 53.3h1v1h-1zM372.5 72.4h1v1h-1zM371.3 58.8h1v1h-1z" fill="#f4a08a"/>
<path d="M380.5 47.9h1v1h-1zM371.3 49h1v1h-1zM378.2 57.5h1v1h-1zM378.7 59.2h1v1h-1zM372.8 49.1h1v1h-1zM373.8 53.6h1v1h-1zM380.6 56.7h1v1h-1zM381.1 48.7h1v1h-1zM373.8 53.3h1v1h-1zM380.8 45.2h1v1h-1zM371.3 52.4h1v1h-1zM384.9 50h1v1h-1zM383.4 48.2h1v1h-1zM378.7 50.3h1v1h-1z" fill="#f4a08a"/>
<path d="M370.5 36.2h1v1h-1zM371.5 40h1v1h-1zM369.7 35.6h1v1h-1zM379.1 30h1v1h-1zM378.7 33.9h1v1h-1zM375.3 40.7h1v1h-1zM375.2 34h1v1h-1zM368.5 44.4h1v1h-1zM376.6 33.2h1v1h-1z" fill="#f4a08a"/>
<path d="M353.7 31.7h1v1h-1zM358.9 36.7h1v1h-1zM360.5 35.1h1v1h-1zM357.8 36.9h1v1h-1z" fill="#f4a08a"/>
<path d="M365.3 68.4h1v1h-1zM359.1 54.1h1v1h-1zM362.1 69h1v1h-1zM360.7 71.1h1v1h-1zM363.2 65.9h1v1h-1zM362.8 77h1v1h-1zM361.5 75.3h1v1h-1zM363.5 79.3h1v1h-1zM358.3 59.7h1v1h-1zM363 65h1v1h-1zM359.1 55h1v1h-1zM367.8 69.3h1v1h-1zM359.6 55.5h1v1h-1z" fill="#f4a08a"/>
<path d="M321.2 59.4h1v1h-1zM322.6 59.2h1v1h-1zM323.5 58.6h1v1h-1zM324.6 58.6h1v1h-1zM325 58h1v1h-1zM326.5 57.8h1v1h-1zM327.2 57h1v1h-1zM328.4 56.7h1v1h-1zM329.8 56.4h1v1h-1zM331.4 56.8h1v1h-1zM332.4 56.9h1v1h-1zM333.5 57.1h1v1h-1zM334.7 56.2h1v1h-1zM335.9 57.1h1v1h-1z" fill="#f0a090"/>
</g>
<g>
<path d="M440.1 31.2 C440.3 30.7 440.4 30.1 441 29.8 C441.6 29.4 442.8 29.2 443.5 29.2 C444.3 29.2 444.9 29.4 445.4 29.8 C445.9 30.1 445.9 30.8 446.3 31.5 C446.8 32.3 447.5 33.5 448 34.2 C448.6 34.9 449.2 35 449.7 35.7 C450.2 36.3 450.8 37.3 451.1 38.1 C451.4 38.9 451.4 39.7 451.3 40.2 C451.2 40.7 451.1 40.9 450.7 40.9 C450.2 40.9 449.5 40.5 448.7 40.3 C448 40 447.2 39.7 446.4 39.4 C445.5 39 444.4 38.7 443.7 38.3 C442.9 37.9 442.3 37.7 441.7 37.1 C441.1 36.6 440.4 35.8 440.1 35 C439.7 34.2 439.4 33.2 439.4 32.6 C439.4 31.9 439.8 31.6 440.1 31.2Z" fill="#c6c8cd"/>
<path d="M439.1 34.4h0.9v0.9h-0.9zM439.4 33h0.9v0.9h-0.9zM444.8 38.7h0.9v0.9h-0.9zM445.6 30.9h0.9v0.9h-0.9zM445.7 30.8h0.9v0.9h-0.9zM442.8 38.7h0.9v0.9h-0.9zM439.4 34.3h0.9v0.9h-0.9zM444.9 29.4h0.9v0.9h-0.9zM438.4 29.2h0.9v0.9h-0.9zM441 28.7h0.9v0.9h-0.9zM443.2 28.7h0.9v0.9h-0.9zM446.7 31.4h0.9v0.9h-0.9zM440.9 37.2h0.9v0.9h-0.9zM451 40.9h0.9v0.9h-0.9zM440.9 29.3h0.9v0.9h-0.9zM442 29.2h0.9v0.9h-0.9zM446.3 30.9h0.9v0.9h-0.9zM445.4 30h0.9v0.9h-0.9zM438.9 33.2h0.9v0.9h-0.9zM446.4 38.8h0.9v0.9h-0.9zM439 32.6h0.9v0.9h-0.9zM451 39.8h0.9v0.9h-0.9zM443.5 39h0.9v0.9h-0.9zM451.1 39.8h0.9v0.9h-0.9zM441.4 28.4h0.9v0.9h-0.9zM439.1 32h0.9v0.9h-0.9zM438.2 34.4h0.9v0.9h-0.9zM447.6 33.9h0.9v0.9h-0.9z" fill="#c6c8cd"/>
<path d="M439.4 31.6h0.8v0.8h-0.8zM440 34.6h0.8v0.8h-0.8zM446.7 38h0.8v0.8h-0.8zM441.4 36.2h0.8v0.8h-0.8zM446.7 33.4h0.8v0.8h-0.8zM447.1 34.1h0.8v0.8h-0.8zM442.8 32.5h0.8v0.8h-0.8zM444.1 30.1h0.8v0.8h-0.8zM448.7 38.4h0.8v0.8h-0.8zM442.3 36.8h0.8v0.8h-0.8z" fill="#fff" fill-opacity="0.7"/>
<path d="M466.9 26.8 C467.2 26.9 467.4 27.3 467.5 28.1 C467.7 29 467.7 30.6 467.7 31.7 C467.6 32.8 467.4 33.6 467.3 34.7 C467.2 35.9 467.2 37.5 467 38.4 C466.8 39.3 466.5 39.5 466 40.2 C465.6 40.8 464.9 41.5 464.3 42.2 C463.8 42.9 463.4 43.8 462.6 44.4 C461.8 45 460.5 45.4 459.7 46 C458.9 46.6 458.3 47.3 457.6 47.8 C456.9 48.3 456.2 48.9 455.7 49.1 C455.1 49.3 454.7 49.5 454.3 49 C453.8 48.4 453.4 46.9 453.1 45.7 C452.9 44.5 452.6 42.7 452.7 41.5 C452.8 40.3 453.2 39.6 453.6 38.6 C454.1 37.7 454.5 36.3 455.2 35.8 C455.9 35.2 457 35.9 457.9 35.4 C458.8 34.9 459.9 33.5 460.7 32.8 C461.5 32 462.2 31.3 462.7 30.9 C463.3 30.5 463.6 30.6 464.1 30.1 C464.5 29.6 465 28.5 465.5 27.9 C465.9 27.4 466.5 26.8 466.9 26.8Z" fill="#c6c8cd"/>
<path d="M466 26.5h0.9v0.9h-0.9zM453.6 48.7h0.9v0.9h-0.9zM454.1 36h0.9v0.9h-0.9zM462.4 29.8h0.9v0.9h-0.9zM466.4 36.5h0.9v0.9h-0.9zM454.5 36h0.9v0.9h-0.9zM461.8 31h0.9v0.9h-0.9zM457.5 47.3h0.9v0.9h-0.9zM453.9 48.7h0.9v0.9h-0.9zM452.5 42.3h0.9v0.9h-0.9zM456.5 35h0.9v0.9h-0.9zM457.9 34.5h0.9v0.9h-0.9zM451.8 46.2h0.9v0.9h-0.9zM467.2 28.7h0.9v0.9h-0.9zM466.3 26.9h0.9v0.9h-0.9zM465.8 38.2h0.9v0.9h-0.9zM460.6 31h0.9v0.9h-0.9zM452.3 38h0.9v0.9h-0.9zM452.3 41.1h0.9v0.9h-0.9zM465.9 38.5h0.9v0.9h-0.9zM459 46.5h0.9v0.9h-0.9zM454.2 48.3h0.9v0.9h-0.9zM454.2 36.6h0.9v0.9h-0.9zM464.8 27.7h0.9v0.9h-0.9zM454 37.7h0.9v0.9h-0.9zM460.4 31.6h0.9v0.9h-0.9zM464.2 28.3h0.9v0.9h-0.9zM452.6 45h0.9v0.9h-0.9zM467.7 36.7h0.9v0.9h-0.9zM453.6 48.4h0.9v0.9h-0.9zM451.8 45.3h0.9v0.9h-0.9zM465.1 27.5h0.9v0.9h-0.9zM468.6 36.1h0.9v0.9h-0.9zM465.4 27.1h0.9v0.9h-0.9zM458.2 47.2h0.9v0.9h-0.9zM465.9 40h0.9v0.9h-0.9zM467.4 31h0.9v0.9h-0.9zM465 27.7h0.9v0.9h-0.9zM466.2 40.2h0.9v0.9h-0.9zM458.6 34.3h0.9v0.9h-0.9zM464 29.2h0.9v0.9h-0.9zM467.2 31.9h0.9v0.9h-0.9zM455.1 35.5h0.9v0.9h-0.9zM466.7 26.2h0.9v0.9h-0.9z" fill="#c6c8cd"/>
<path d="M459.8 34.8h0.8v0.8h-0.8zM460 35.9h0.8v0.8h-0.8zM455.2 46.7h0.8v0.8h-0.8zM464.4 38.8h0.8v0.8h-0.8zM461.2 42.3h0.8v0.8h-0.8zM460.1 44.7h0.8v0.8h-0.8zM460.6 42.9h0.8v0.8h-0.8zM465.9 37.3h0.8v0.8h-0.8zM462.7 38.3h0.8v0.8h-0.8zM466.3 28.2h0.8v0.8h-0.8zM456 40h0.8v0.8h-0.8zM462.9 32.2h0.8v0.8h-0.8zM464.7 36.5h0.8v0.8h-0.8zM459.8 34.6h0.8v0.8h-0.8zM467 33.4h0.8v0.8h-0.8zM453.7 45.8h0.8v0.8h-0.8zM458.3 40.9h0.8v0.8h-0.8zM455.6 43.6h0.8v0.8h-0.8zM460.4 41.2h0.8v0.8h-0.8zM463.2 39.2h0.8v0.8h-0.8zM462.5 30.8h0.8v0.8h-0.8zM455.1 36.2h0.8v0.8h-0.8zM464.9 31.5h0.8v0.8h-0.8zM454.2 44.5h0.8v0.8h-0.8z" fill="#fff" fill-opacity="0.7"/>
<path d="M464.2 44.3 C464.6 44.1 465.2 44.1 466 44.3 C466.8 44.5 467.8 45.4 468.9 45.5 C469.9 45.7 471.3 45.3 472.4 45.3 C473.6 45.2 474.9 44.8 475.8 44.9 C476.7 45 477.4 45.3 477.9 45.8 C478.4 46.2 478.8 46.9 478.9 47.5 C479 48.1 478.8 48.4 478.4 49.2 C478 50 477.2 51.2 476.7 52.3 C476.1 53.5 475.6 55.2 475 56.1 C474.4 57 473.5 57.4 472.8 57.9 C472 58.4 471.3 58.7 470.5 59.2 C469.8 59.6 468.9 60 468.2 60.4 C467.5 60.8 466.9 62 466.2 61.7 C465.4 61.4 464.5 59.6 463.6 58.6 C462.8 57.6 461.9 57 461.2 55.9 C460.5 54.8 459.6 53.1 459.4 51.9 C459.1 50.7 459.1 49.6 459.5 48.8 C459.9 48 461.1 47.7 461.7 47 C462.4 46.4 463 45.6 463.4 45.2 C463.8 44.7 463.8 44.4 464.2 44.3Z" fill="#c6c8cd"/>
<path d="M476.4 44.5h0.9v0.9h-0.9zM467.9 59.7h0.9v0.9h-0.9zM459.3 51.7h0.9v0.9h-0.9zM467.2 60h0.9v0.9h-0.9zM460.5 47h0.9v0.9h-0.9zM474.1 56.5h0.9v0.9h-0.9zM467.9 61.6h0.9v0.9h-0.9zM471.5 58.4h0.9v0.9h-0.9zM466 43.5h0.9v0.9h-0.9zM466.5 44.6h0.9v0.9h-0.9zM466.3 61.4h0.9v0.9h-0.9zM464.5 59.8h0.9v0.9h-0.9zM479 47.2h0.9v0.9h-0.9zM467.6 59.9h0.9v0.9h-0.9zM476.4 52.8h0.9v0.9h-0.9zM465.5 61.1h0.9v0.9h-0.9zM466.5 60.9h0.9v0.9h-0.9zM461.6 42.2h0.9v0.9h-0.9zM462.4 45.9h0.9v0.9h-0.9zM475 55.3h0.9v0.9h-0.9zM459.8 52.3h0.9v0.9h-0.9zM478.2 48.7h0.9v0.9h-0.9zM473.1 56.6h0.9v0.9h-0.9zM478.2 47.9h0.9v0.9h-0.9zM461.4 46.3h0.9v0.9h-0.9zM458.3 46.9h0.9v0.9h-0.9zM470.1 44.2h0.9v0.9h-0.9zM478.3 52.6h0.9v0.9h-0.9zM469.4 45.2h0.9v0.9h-0.9zM472.7 57.4h0.9v0.9h-0.9zM471.4 57.6h0.9v0.9h-0.9zM458.7 51.5h0.9v0.9h-0.9zM476.9 43.9h0.9v0.9h-0.9zM467.6 61.4h0.9v0.9h-0.9zM463.5 43.9h0.9v0.9h-0.9zM466.3 43.4h0.9v0.9h-0.9zM463.3 58h0.9v0.9h-0.9zM478.5 46.6h0.9v0.9h-0.9zM459.5 50.8h0.9v0.9h-0.9zM478.5 46.5h0.9v0.9h-0.9zM477.7 46.1h0.9v0.9h-0.9zM458.6 51.7h0.9v0.9h-0.9zM479.3 48.5h0.9v0.9h-0.9zM460.5 46.5h0.9v0.9h-0.9zM462.6 57.9h0.9v0.9h-0.9zM478.2 48.7h0.9v0.9h-0.9z" fill="#c6c8cd"/>
<path d="M471.4 53.6h0.8v0.8h-0.8zM471.6 55.3h0.8v0.8h-0.8zM477.1 47.9h0.8v0.8h-0.8zM468.6 53.8h0.8v0.8h-0.8zM465.3 54.2h0.8v0.8h-0.8zM468 51h0.8v0.8h-0.8zM473.8 48.4h0.8v0.8h-0.8zM471 46.5h0.8v0.8h-0.8zM469.5 53h0.8v0.8h-0.8zM472.2 46h0.8v0.8h-0.8zM465.4 59.4h0.8v0.8h-0.8zM472.7 45.8h0.8v0.8h-0.8zM470.8 49.1h0.8v0.8h-0.8zM474.6 45.7h0.8v0.8h-0.8zM473.1 50.9h0.8v0.8h-0.8zM462.1 48.3h0.8v0.8h-0.8zM466.6 44.6h0.8v0.8h-0.8zM473 53.2h0.8v0.8h-0.8zM463.2 53.2h0.8v0.8h-0.8zM478.4 47h0.8v0.8h-0.8zM461.1 52.5h0.8v0.8h-0.8zM469.8 53.2h0.8v0.8h-0.8zM464.6 47.7h0.8v0.8h-0.8zM464.9 48.2h0.8v0.8h-0.8zM477.8 46.8h0.8v0.8h-0.8zM466.6 53.6h0.8v0.8h-0.8zM474.7 47.7h0.8v0.8h-0.8zM470.9 58.2h0.8v0.8h-0.8zM461.3 53.3h0.8v0.8h-0.8zM471.5 57.2h0.8v0.8h-0.8zM466.1 45.8h0.8v0.8h-0.8z" fill="#fff" fill-opacity="0.7"/>
<path d="M450.3 57.5 C450.6 56.6 451.3 56 451.9 55.4 C452.5 54.9 453.1 54.4 453.9 54 C454.6 53.6 455.5 53.3 456.2 52.9 C456.9 52.6 457.6 52.1 458.2 51.8 C458.8 51.5 459.2 50.7 459.6 51.1 C460 51.4 460.1 52.8 460.8 53.9 C461.4 55 462.7 56.5 463.5 57.6 C464.3 58.7 464.7 59.7 465.5 60.6 C466.3 61.5 467.8 62.3 468.1 63 C468.4 63.7 468.1 64.2 467.5 64.5 C467 64.8 465.6 64.2 464.9 64.9 C464.2 65.5 463.7 67.2 463.4 68.4 C463.2 69.6 463.5 71 463.4 72.1 C463.3 73.2 463.4 74.3 462.9 74.9 C462.4 75.4 461.2 75.6 460.4 75.5 C459.6 75.4 458.6 74.8 457.9 74.1 C457.3 73.4 456.8 72.4 456.7 71.3 C456.6 70.3 457.6 68.7 457.4 67.6 C457.1 66.6 456.2 65.9 455.2 65.3 C454.3 64.6 452.8 64.5 451.9 63.8 C451 63.1 450.3 62.1 450 61 C449.7 60 450 58.5 450.3 57.5Z" fill="#c6c8cd"/>
<path d="M457.6 73.7h0.9v0.9h-0.9zM447.8 61.6h0.9v0.9h-0.9zM463.9 71.4h0.9v0.9h-0.9zM463 69.9h0.9v0.9h-0.9zM460 74.8h0.9v0.9h-0.9zM463.3 57.4h0.9v0.9h-0.9zM456.7 69.7h0.9v0.9h-0.9zM451 55.6h0.9v0.9h-0.9zM467.1 62.9h0.9v0.9h-0.9zM448.7 57.5h0.9v0.9h-0.9zM466.8 60.7h0.9v0.9h-0.9zM464 68.2h0.9v0.9h-0.9zM457 51.5h0.9v0.9h-0.9zM454.4 64.9h0.9v0.9h-0.9zM462.2 75.5h0.9v0.9h-0.9zM460.4 52.2h0.9v0.9h-0.9zM457.2 51.9h0.9v0.9h-0.9zM453.1 53.6h0.9v0.9h-0.9zM462.6 55.7h0.9v0.9h-0.9zM459.3 74.5h0.9v0.9h-0.9zM456.7 69h0.9v0.9h-0.9zM466.7 64.8h0.9v0.9h-0.9zM456.9 74.1h0.9v0.9h-0.9zM466.1 60.7h0.9v0.9h-0.9zM454.5 52.8h0.9v0.9h-0.9zM467.4 63.3h0.9v0.9h-0.9zM467.1 58.4h0.9v0.9h-0.9zM457.2 74h0.9v0.9h-0.9zM453.3 53.8h0.9v0.9h-0.9zM449.6 60.6h0.9v0.9h-0.9zM457 50h0.9v0.9h-0.9zM463.8 72.1h0.9v0.9h-0.9zM451.9 54.4h0.9v0.9h-0.9zM463.3 67.5h0.9v0.9h-0.9zM455.9 52.8h0.9v0.9h-0.9zM461.4 74.5h0.9v0.9h-0.9zM463.9 68.3h0.9v0.9h-0.9zM453 64.5h0.9v0.9h-0.9zM457.2 48.9h0.9v0.9h-0.9zM455.5 66.7h0.9v0.9h-0.9zM462.5 73.1h0.9v0.9h-0.9zM463.6 58.1h0.9v0.9h-0.9zM462.2 74.4h0.9v0.9h-0.9zM466.6 59.1h0.9v0.9h-0.9zM454.7 64.5h0.9v0.9h-0.9zM455.5 72.9h0.9v0.9h-0.9zM466.7 61.9h0.9v0.9h-0.9zM458.7 74h0.9v0.9h-0.9zM461.7 54.3h0.9v0.9h-0.9z" fill="#c6c8cd"/>
<path d="M463.2 60.5h0.8v0.8h-0.8zM460.8 71.6h0.8v0.8h-0.8zM455.2 60.3h0.8v0.8h-0.8zM465.9 62.6h0.8v0.8h-0.8zM453.8 62h0.8v0.8h-0.8zM457.1 58.8h0.8v0.8h-0.8zM461.7 64.4h0.8v0.8h-0.8zM450.9 58.4h0.8v0.8h-0.8zM461.4 56.8h0.8v0.8h-0.8zM461.2 63.7h0.8v0.8h-0.8zM453.8 57.6h0.8v0.8h-0.8zM459 58.3h0.8v0.8h-0.8zM456.4 62.8h0.8v0.8h-0.8zM459.8 59.4h0.8v0.8h-0.8zM455.9 64.7h0.8v0.8h-0.8zM460.9 68.8h0.8v0.8h-0.8zM462.5 72.8h0.8v0.8h-0.8zM462.9 65.3h0.8v0.8h-0.8zM460.7 57.3h0.8v0.8h-0.8zM460 59.6h0.8v0.8h-0.8zM455.7 56.1h0.8v0.8h-0.8zM455.2 63.3h0.8v0.8h-0.8zM453.9 63.2h0.8v0.8h-0.8zM462.1 65.3h0.8v0.8h-0.8zM458.3 60.2h0.8v0.8h-0.8zM456.8 61.8h0.8v0.8h-0.8zM459.8 69.6h0.8v0.8h-0.8zM457.9 65.7h0.8v0.8h-0.8zM460 73.2h0.8v0.8h-0.8zM459.4 55.1h0.8v0.8h-0.8zM457.2 52.7h0.8v0.8h-0.8z" fill="#fff" fill-opacity="0.7"/>
<path d="M425.2 57 C425.4 56.8 426.3 56.7 427.1 56.5 C427.8 56.2 429 56.4 429.8 55.7 C430.6 55 431.3 53.3 431.9 52.3 C432.4 51.3 432.5 50.4 433.2 49.8 C433.8 49.1 434.8 48.8 435.8 48.4 C436.8 47.9 438.3 47.3 439.1 46.9 C439.9 46.5 440.1 45.7 440.5 46.1 C440.9 46.6 441 48.8 441.4 49.7 C441.8 50.6 442.2 51 442.8 51.6 C443.4 52.2 444.3 52.8 444.9 53.5 C445.6 54.2 446.1 55 446.5 55.9 C447 56.9 447.5 57.9 447.6 59 C447.6 60.1 447.3 61.2 446.9 62.6 C446.6 64 446.4 66.4 445.4 67.2 C444.4 68.1 442.5 67.6 441 67.6 C439.5 67.6 437.6 67.4 436.3 67.4 C435 67.4 433.8 68.3 433.1 67.7 C432.4 67.1 432.7 64.9 432.2 63.8 C431.8 62.6 431.2 61.6 430.5 60.8 C429.9 59.9 429.3 59 428.5 58.5 C427.7 58 426.3 58 425.8 57.8 C425.2 57.5 425 57.2 425.2 57Z" fill="#c6c8cd"/>
<path d="M440.3 44.9h0.9v0.9h-0.9zM432.3 48.3h0.9v0.9h-0.9zM447.2 57.2h0.9v0.9h-0.9zM439.9 45.4h0.9v0.9h-0.9zM447.6 56.4h0.9v0.9h-0.9zM446.2 63.1h0.9v0.9h-0.9zM431.8 63.3h0.9v0.9h-0.9zM446.6 61.1h0.9v0.9h-0.9zM430.5 50h0.9v0.9h-0.9zM447.5 63.7h0.9v0.9h-0.9zM445.3 66.8h0.9v0.9h-0.9zM429.1 54.8h0.9v0.9h-0.9zM426.5 58.5h0.9v0.9h-0.9zM432.4 49.2h0.9v0.9h-0.9zM429.4 53.6h0.9v0.9h-0.9zM440.2 47.5h0.9v0.9h-0.9zM431.5 51.2h0.9v0.9h-0.9zM431.9 52.2h0.9v0.9h-0.9zM438.5 67.5h0.9v0.9h-0.9zM432.2 49.8h0.9v0.9h-0.9zM432.2 50.5h0.9v0.9h-0.9zM437.9 47h0.9v0.9h-0.9zM445.1 65.1h0.9v0.9h-0.9zM432.4 67.7h0.9v0.9h-0.9zM427.2 58.1h0.9v0.9h-0.9zM431.8 51.5h0.9v0.9h-0.9zM431.3 51.5h0.9v0.9h-0.9zM445.5 66.2h0.9v0.9h-0.9zM435 67.2h0.9v0.9h-0.9zM426.5 57.4h0.9v0.9h-0.9zM442.1 50.9h0.9v0.9h-0.9zM445.3 66.3h0.9v0.9h-0.9zM438.3 45.3h0.9v0.9h-0.9zM441.7 67.3h0.9v0.9h-0.9zM431.8 66.3h0.9v0.9h-0.9zM445.6 53.7h0.9v0.9h-0.9zM433.6 48.5h0.9v0.9h-0.9zM435.1 45.8h0.9v0.9h-0.9zM445.4 66.7h0.9v0.9h-0.9zM444.3 53.1h0.9v0.9h-0.9zM440.9 48.3h0.9v0.9h-0.9zM429.1 64.2h0.9v0.9h-0.9zM436.9 66.6h0.9v0.9h-0.9zM444.6 51.7h0.9v0.9h-0.9zM430.2 60.5h0.9v0.9h-0.9zM446.2 51h0.9v0.9h-0.9zM444.3 52.7h0.9v0.9h-0.9zM446.2 65.2h0.9v0.9h-0.9zM446.4 54.9h0.9v0.9h-0.9zM436.8 47.9h0.9v0.9h-0.9zM425.1 56.3h0.9v0.9h-0.9zM446.6 59.5h0.9v0.9h-0.9zM432.7 49.9h0.9v0.9h-0.9z" fill="#c6c8cd"/>
<path d="M444.8 64.3h0.8v0.8h-0.8zM441 65.9h0.8v0.8h-0.8zM439 57.6h0.8v0.8h-0.8zM427.5 56.5h0.8v0.8h-0.8zM445 61.1h0.8v0.8h-0.8zM445.6 62.5h0.8v0.8h-0.8zM443.7 61.3h0.8v0.8h-0.8zM435.8 55.5h0.8v0.8h-0.8zM433.6 53.7h0.8v0.8h-0.8zM432.8 55.9h0.8v0.8h-0.8zM438 49.1h0.8v0.8h-0.8zM437.7 56.3h0.8v0.8h-0.8zM436.5 53.4h0.8v0.8h-0.8zM436.7 52.2h0.8v0.8h-0.8zM438.3 52.3h0.8v0.8h-0.8zM432.4 55.5h0.8v0.8h-0.8zM438.6 62.4h0.8v0.8h-0.8zM430.3 55.7h0.8v0.8h-0.8zM445.1 65.8h0.8v0.8h-0.8zM441 65.9h0.8v0.8h-0.8zM436 59.1h0.8v0.8h-0.8zM430.8 57.7h0.8v0.8h-0.8zM430 56.8h0.8v0.8h-0.8zM433.7 64.7h0.8v0.8h-0.8zM436.5 62.3h0.8v0.8h-0.8zM430.6 56.6h0.8v0.8h-0.8zM436.6 52.4h0.8v0.8h-0.8zM440 58.3h0.8v0.8h-0.8zM437.3 55.7h0.8v0.8h-0.8zM444.3 64.2h0.8v0.8h-0.8zM437.9 55.4h0.8v0.8h-0.8zM434.8 67h0.8v0.8h-0.8zM427.3 56.1h0.8v0.8h-0.8zM441.9 60.2h0.8v0.8h-0.8zM445.6 61.8h0.8v0.8h-0.8zM440.5 60.6h0.8v0.8h-0.8zM442.3 57.2h0.8v0.8h-0.8zM439.3 62.1h0.8v0.8h-0.8zM432.6 62.2h0.8v0.8h-0.8z" fill="#fff" fill-opacity="0.7"/>
<path d="M432.7 67.2 C433.4 67.1 435.3 67.2 437.1 67.2 C438.9 67.2 442.4 67.1 443.7 67.2 C445 67.2 444.7 67 444.8 67.7 C445 68.4 444.8 70 444.5 71.1 C444.2 72.2 443 73.1 442.8 74.1 C442.7 75.1 443.3 76 443.5 77.1 C443.7 78.3 444.1 79.7 444.1 80.7 C444.2 81.8 444 82.5 443.6 83.3 C443.3 84.1 442.5 84.6 441.8 85.3 C441.1 85.9 440.2 86.8 439.6 87.3 C439 87.9 438.7 88.4 438.3 88.5 C437.8 88.6 437.3 88.3 436.8 87.8 C436.4 87.3 435.9 86.3 435.4 85.6 C435 84.8 434.4 83.9 434 83.1 C433.6 82.2 433.2 81.3 433 80.4 C432.8 79.5 432.8 78.8 432.8 77.8 C432.7 76.8 432.6 75.4 432.8 74.1 C432.9 72.9 433.4 71.6 433.4 70.5 C433.5 69.4 433.2 68 433.1 67.4 C433 66.9 432 67.2 432.7 67.2Z" fill="#c6c8cd"/>
<path d="M442.9 76.8h0.9v0.9h-0.9zM434.5 84.5h0.9v0.9h-0.9zM435.1 89.2h0.9v0.9h-0.9zM434.3 85.4h0.9v0.9h-0.9zM433.2 81h0.9v0.9h-0.9zM438.6 88.4h0.9v0.9h-0.9zM431.1 65.1h0.9v0.9h-0.9zM444.2 69.9h0.9v0.9h-0.9zM432.5 81.6h0.9v0.9h-0.9zM444.3 71.2h0.9v0.9h-0.9zM441.8 67h0.9v0.9h-0.9zM442 85h0.9v0.9h-0.9zM444.5 67h0.9v0.9h-0.9zM435.9 86.2h0.9v0.9h-0.9zM438.4 67.2h0.9v0.9h-0.9zM442.7 83.9h0.9v0.9h-0.9zM436.5 89.1h0.9v0.9h-0.9zM432.6 70.6h0.9v0.9h-0.9zM434.7 66.3h0.9v0.9h-0.9zM434.6 84.9h0.9v0.9h-0.9zM443 76.9h0.9v0.9h-0.9zM432.3 72.9h0.9v0.9h-0.9zM432.5 77.5h0.9v0.9h-0.9zM432.7 68.5h0.9v0.9h-0.9zM432 77.4h0.9v0.9h-0.9zM433.5 83.7h0.9v0.9h-0.9zM444.5 74.5h0.9v0.9h-0.9zM442.4 75.2h0.9v0.9h-0.9zM442.8 74.2h0.9v0.9h-0.9zM437.3 87.9h0.9v0.9h-0.9zM436.9 66.7h0.9v0.9h-0.9zM444.3 80.8h0.9v0.9h-0.9zM432.8 68.9h0.9v0.9h-0.9zM439.9 67.3h0.9v0.9h-0.9zM439.6 66.3h0.9v0.9h-0.9zM438 67.2h0.9v0.9h-0.9zM433.9 83.7h0.9v0.9h-0.9zM439 87.6h0.9v0.9h-0.9zM438.2 67h0.9v0.9h-0.9zM432.6 72.1h0.9v0.9h-0.9zM433.5 84h0.9v0.9h-0.9zM440.6 85h0.9v0.9h-0.9zM436.7 66.4h0.9v0.9h-0.9zM443.9 80.4h0.9v0.9h-0.9z" fill="#c6c8cd"/>
<path d="M438.2 84.5h0.8v0.8h-0.8zM442.1 79.7h0.8v0.8h-0.8zM440.4 68.6h0.8v0.8h-0.8zM443.5 68.5h0.8v0.8h-0.8zM434.9 73.5h0.8v0.8h-0.8zM434.5 72.2h0.8v0.8h-0.8zM433.5 79.3h0.8v0.8h-0.8zM439.3 85.2h0.8v0.8h-0.8zM435.4 79.8h0.8v0.8h-0.8zM440.2 66.9h0.8v0.8h-0.8zM438.6 83.7h0.8v0.8h-0.8zM438.1 69.5h0.8v0.8h-0.8zM438.3 73.7h0.8v0.8h-0.8zM434.1 80.6h0.8v0.8h-0.8zM433.4 77.3h0.8v0.8h-0.8zM443.9 67.4h0.8v0.8h-0.8zM438.4 87.5h0.8v0.8h-0.8zM433.5 76.4h0.8v0.8h-0.8zM438.8 79.1h0.8v0.8h-0.8zM438.9 81.2h0.8v0.8h-0.8zM435.1 71.7h0.8v0.8h-0.8zM438.3 81h0.8v0.8h-0.8zM442 72.6h0.8v0.8h-0.8zM434.6 68.7h0.8v0.8h-0.8zM441.6 67.4h0.8v0.8h-0.8zM432.5 76.2h0.8v0.8h-0.8zM435.6 74.3h0.8v0.8h-0.8zM433.7 69.6h0.8v0.8h-0.8z" fill="#fff" fill-opacity="0.7"/>
<path d="M445 90.7 C445.1 90.1 445.7 90 446.2 90.1 C446.6 90.3 447 90.9 447.7 91.4 C448.3 91.9 449.4 92.6 450.2 93.1 C451 93.5 451.9 93.9 452.7 94.4 C453.4 94.9 454.1 95.4 454.7 96 C455.3 96.5 455.9 97.2 456.1 97.7 C456.3 98.2 456.2 98.7 455.9 99 C455.6 99.4 455.2 99.8 454.4 99.8 C453.7 99.8 452.6 99.5 451.7 99.1 C450.8 98.8 450 98.4 449.3 97.8 C448.5 97.2 447.9 96.1 447.2 95.3 C446.6 94.6 445.8 94.1 445.4 93.3 C445 92.6 444.9 91.2 445 90.7Z" fill="#c6c8cd"/>
<path d="M449.5 92.8h0.9v0.9h-0.9zM449.4 97.4h0.9v0.9h-0.9zM447.6 96.4h0.9v0.9h-0.9zM444.4 91.3h0.9v0.9h-0.9zM451.9 93.2h0.9v0.9h-0.9zM451 93.8h0.9v0.9h-0.9zM448.2 96.5h0.9v0.9h-0.9zM444.2 90.3h0.9v0.9h-0.9zM454.5 94.7h0.9v0.9h-0.9zM452.3 99.1h0.9v0.9h-0.9zM452.8 93.2h0.9v0.9h-0.9zM452.5 100.9h0.9v0.9h-0.9zM452.9 93.9h0.9v0.9h-0.9zM453.2 94.4h0.9v0.9h-0.9zM453.2 98.9h0.9v0.9h-0.9zM447.8 96.9h0.9v0.9h-0.9zM451.8 99.1h0.9v0.9h-0.9zM446.7 90.2h0.9v0.9h-0.9zM455.2 99.1h0.9v0.9h-0.9zM444.8 91.3h0.9v0.9h-0.9zM446.6 95.1h0.9v0.9h-0.9z" fill="#c6c8cd"/>
<path d="M453.5 98.5h0.8v0.8h-0.8zM449.1 93h0.8v0.8h-0.8zM450.2 95.5h0.8v0.8h-0.8zM452.1 97.8h0.8v0.8h-0.8zM453.2 97.2h0.8v0.8h-0.8zM449.7 96.9h0.8v0.8h-0.8z" fill="#fff" fill-opacity="0.7"/>
<path d="M445.8 54.9 C445.7 54.5 446.2 53.4 446.6 52.6 C447 51.9 447.5 51 448.1 50.3 C448.6 49.7 449.3 49.1 449.9 48.7 C450.5 48.4 451 48.2 451.6 48.2 C452.2 48.2 453 48.5 453.7 48.7 C454.4 49 455.3 49.3 455.7 49.7 C456.2 50 456.6 50.6 456.6 51 C456.5 51.4 455.9 52.1 455.3 52.2 C454.8 52.2 453.9 51.7 453.2 51.5 C452.6 51.3 451.8 50.8 451.2 50.8 C450.5 50.8 450 51.1 449.5 51.5 C449 51.9 448.6 52.5 448.3 53.1 C447.9 53.7 447.6 54.8 447.2 55.1 C446.8 55.4 445.9 55.3 445.8 54.9Z" fill="#c6c8cd"/>
<path d="M445.7 52.7h0.9v0.9h-0.9zM452.7 51h0.9v0.9h-0.9zM455.1 51.4h0.9v0.9h-0.9zM452.2 47.2h0.9v0.9h-0.9zM457.8 48.5h0.9v0.9h-0.9zM457.1 48.6h0.9v0.9h-0.9zM455 51.6h0.9v0.9h-0.9zM452.8 51.5h0.9v0.9h-0.9zM448.5 52.1h0.9v0.9h-0.9zM445.4 53.8h0.9v0.9h-0.9zM456.1 50.6h0.9v0.9h-0.9zM444.3 55.5h0.9v0.9h-0.9zM444.3 54.8h0.9v0.9h-0.9zM445.8 54.1h0.9v0.9h-0.9zM447.4 50.5h0.9v0.9h-0.9zM453.2 47.3h0.9v0.9h-0.9zM444.4 54.3h0.9v0.9h-0.9zM450.3 50.7h0.9v0.9h-0.9zM455.8 52h0.9v0.9h-0.9zM449.3 51.2h0.9v0.9h-0.9zM446.7 55h0.9v0.9h-0.9z" fill="#c6c8cd"/>
<path d="M446.7 53.5h0.8v0.8h-0.8zM448.6 49.4h0.8v0.8h-0.8zM455.4 49.6h0.8v0.8h-0.8z" fill="#fff" fill-opacity="0.7"/>
<path d="M450.3 48.5 C450.6 48.2 451.7 48 452.4 48.1 C453.1 48.1 454.2 48.4 454.5 48.7 C454.8 49.1 454.7 50 454.3 50.3 C453.9 50.6 452.7 50.6 452 50.6 C451.3 50.5 450.6 50.5 450.3 50.1 C450 49.8 449.9 48.9 450.3 48.5Z" fill="#c6c8cd"/>
<path d="M452.4 47.1h0.9v0.9h-0.9zM453.7 49.9h0.9v0.9h-0.9zM451.8 46.6h0.9v0.9h-0.9zM454.3 48.7h0.9v0.9h-0.9zM452.4 50.3h0.9v0.9h-0.9zM453.9 48.3h0.9v0.9h-0.9zM453.4 50.2h0.9v0.9h-0.9zM450.1 49.4h0.9v0.9h-0.9zM453.5 47.5h0.9v0.9h-0.9z" fill="#c6c8cd"/>
<path d="M453.1 49.2h0.8v0.8h-0.8z" fill="#fff" fill-opacity="0.7"/>
<path d="M444.5 48 C444.7 47.7 445.3 47.4 445.8 47.1 C446.3 46.9 446.9 46.5 447.4 46.2 C448 46 448.6 45.5 448.9 45.5 C449.2 45.5 449.5 46 449.3 46.2 C449.1 46.5 448.4 46.8 447.8 47.1 C447.3 47.4 446.7 47.8 446.2 48.1 C445.7 48.3 445.1 48.5 444.9 48.5 C444.6 48.5 444.4 48.2 444.5 48Z" fill="#c6c8cd"/>
<path d="M448.8 44.2h0.9v0.9h-0.9zM448.5 46h0.9v0.9h-0.9zM445.8 46.2h0.9v0.9h-0.9zM443.8 47.8h0.9v0.9h-0.9zM445.8 45.6h0.9v0.9h-0.9zM447 45.4h0.9v0.9h-0.9zM445.1 47.1h0.9v0.9h-0.9zM444 47h0.9v0.9h-0.9zM447.8 45.3h0.9v0.9h-0.9zM448.3 46.1h0.9v0.9h-0.9zM449.6 45.6h0.9v0.9h-0.9z" fill="#c6c8cd"/>
<path d="M448.8 78.5h0.9v0.9h-0.9zM454.6 70.2h0.9v0.9h-0.9zM449 81.2h0.9v0.9h-0.9zM449.6 53.5h0.9v0.9h-0.9zM448.7 81.4h0.9v0.9h-0.9zM452.5 65.3h0.9v0.9h-0.9zM448.4 53.4h0.9v0.9h-0.9zM453.1 75h0.9v0.9h-0.9zM448.5 51.2h0.9v0.9h-0.9zM449.1 68.1h0.9v0.9h-0.9zM448.6 75.5h0.9v0.9h-0.9zM447.8 55.8h0.9v0.9h-0.9zM446.5 66.7h0.9v0.9h-0.9zM447.3 72.6h0.9v0.9h-0.9zM455.1 68.1h0.9v0.9h-0.9zM448.1 57.3h0.9v0.9h-0.9zM448.4 66.9h0.9v0.9h-0.9zM451.7 69.4h0.9v0.9h-0.9zM447.8 65.8h0.9v0.9h-0.9zM449 70.4h0.9v0.9h-0.9zM447 62.7h0.9v0.9h-0.9zM452.7 75.8h0.9v0.9h-0.9zM448.9 76.8h0.9v0.9h-0.9zM455.3 71.1h0.9v0.9h-0.9zM449.7 73.6h0.9v0.9h-0.9zM451.7 68.2h0.9v0.9h-0.9zM450.5 77.3h0.9v0.9h-0.9zM454 68.9h0.9v0.9h-0.9zM445.9 70.4h0.9v0.9h-0.9zM455.6 71.1h0.9v0.9h-0.9zM451.5 73.4h0.9v0.9h-0.9zM446.6 60.1h0.9v0.9h-0.9zM449.1 65.4h0.9v0.9h-0.9zM449 71.5h0.9v0.9h-0.9zM455.5 67.8h0.9v0.9h-0.9zM454.2 66.2h0.9v0.9h-0.9zM452.2 66.4h0.9v0.9h-0.9zM449.8 53.8h0.9v0.9h-0.9zM445.9 62.9h0.9v0.9h-0.9zM455.4 72.1h0.9v0.9h-0.9zM455.7 68.7h0.9v0.9h-0.9zM451.3 68.9h0.9v0.9h-0.9zM445.6 60.4h0.9v0.9h-0.9zM450.4 67.9h0.9v0.9h-0.9zM449.6 70.3h0.9v0.9h-0.9zM455.6 68.9h0.9v0.9h-0.9zM446.5 69.4h0.9v0.9h-0.9zM446.6 54.7h0.9v0.9h-0.9zM446.6 55.7h0.9v0.9h-0.9zM448.4 50.8h0.9v0.9h-0.9zM451.1 82.6h0.9v0.9h-0.9zM455.3 69.2h0.9v0.9h-0.9zM447 74.9h0.9v0.9h-0.9zM453.8 72.4h0.9v0.9h-0.9zM452.6 75h0.9v0.9h-0.9zM447.5 68.7h0.9v0.9h-0.9zM448 61.1h0.9v0.9h-0.9zM446.8 63.4h0.9v0.9h-0.9zM446.6 70.7h0.9v0.9h-0.9zM446 59h0.9v0.9h-0.9zM445.9 66.6h0.9v0.9h-0.9zM446.6 54.5h0.9v0.9h-0.9zM451.3 73.7h0.9v0.9h-0.9zM446.4 62.7h0.9v0.9h-0.9zM450 67.5h0.9v0.9h-0.9zM450.7 73.9h0.9v0.9h-0.9zM450.2 65.6h0.9v0.9h-0.9zM447.3 63.4h0.9v0.9h-0.9zM447.8 64.2h0.9v0.9h-0.9zM452.4 65.9h0.9v0.9h-0.9zM447.8 75h0.9v0.9h-0.9zM447.3 68.5h0.9v0.9h-0.9zM445.7 66.9h0.9v0.9h-0.9zM450.6 76.1h0.9v0.9h-0.9zM447.4 74.9h0.9v0.9h-0.9zM446.2 67.2h0.9v0.9h-0.9zM452.9 72.2h0.9v0.9h-0.9zM445.4 64.1h0.9v0.9h-0.9zM448.6 71.8h0.9v0.9h-0.9zM446.6 66.4h0.9v0.9h-0.9zM447 59.7h0.9v0.9h-0.9zM451.7 79.2h0.9v0.9h-0.9zM447.4 77.1h0.9v0.9h-0.9zM448.8 63.5h0.9v0.9h-0.9zM454.6 69.7h0.9v0.9h-0.9zM446.4 66.5h0.9v0.9h-0.9zM448 75.8h0.9v0.9h-0.9zM451.5 65h0.9v0.9h-0.9zM449.8 73.1h0.9v0.9h-0.9zM446.2 71.6h0.9v0.9h-0.9zM449.5 53.2h0.9v0.9h-0.9zM446.7 63.2h0.9v0.9h-0.9zM446.9 67.4h0.9v0.9h-0.9zM448.4 71.1h0.9v0.9h-0.9zM450.8 79h0.9v0.9h-0.9zM450 52.7h0.9v0.9h-0.9zM449.3 54.3h0.9v0.9h-0.9zM446.8 66h0.9v0.9h-0.9zM448.5 65.8h0.9v0.9h-0.9zM455.5 70.8h0.9v0.9h-0.9zM447.9 73.2h0.9v0.9h-0.9zM450.2 78.7h0.9v0.9h-0.9zM451.1 76.5h0.9v0.9h-0.9zM447.4 68.6h0.9v0.9h-0.9zM449.8 68.8h0.9v0.9h-0.9zM455.1 68.1h0.9v0.9h-0.9zM447.1 69.7h0.9v0.9h-0.9zM448.1 79.8h0.9v0.9h-0.9zM454.6 66.9h0.9v0.9h-0.9zM452.7 69.5h0.9v0.9h-0.9zM453.2 75.7h0.9v0.9h-0.9zM446.9 60.8h0.9v0.9h-0.9zM448.9 76.3h0.9v0.9h-0.9z" fill="#c6c8cd"/>
<path d="M409.2 59.4h1v1h-1zM410.8 59.5h1v1h-1zM411.6 58.9h1v1h-1zM412.5 58.2h1v1h-1zM413.1 57.9h1v1h-1zM414 57.1h1v1h-1zM415.3 57.5h1v1h-1zM416.2 57h1v1h-1zM417 57h1v1h-1zM418.4 57.3h1v1h-1zM418.7 56.5h1v1h-1zM419.7 56.7h1v1h-1zM420.8 57h1v1h-1zM421.4 56.4h1v1h-1zM422.3 56.6h1v1h-1zM423.1 56.1h1v1h-1zM423.7 56.4h1v1h-1zM424.5 56.7h1v1h-1z" fill="#b3b5bb"/>
<path d="M443.2 85.2h1v1h-1zM443.2 86.1h1v1h-1zM443.9 86.6h1v1h-1zM444.2 87.9h1v1h-1zM444.6 88.7h1v1h-1z" fill="#b3b5bb"/>
<path d="M451.8 29.7h0.9v0.9h-0.9zM451.4 31.2h0.9v0.9h-0.9zM450.3 28.3h0.9v0.9h-0.9zM450.6 31.9h0.9v0.9h-0.9zM452.5 30.4h0.9v0.9h-0.9zM449.6 29.6h0.9v0.9h-0.9zM451.5 27.6h0.9v0.9h-0.9z" fill="#c6c8cd"/>
<path d="M456.2 31.6h0.9v0.9h-0.9zM456.1 31.5h0.9v0.9h-0.9z" fill="#c6c8cd"/>
<path d="M442.1 46h0.9v0.9h-0.9zM442.3 46.2h0.9v0.9h-0.9z" fill="#c6c8cd"/>
<path d="M442.8 44.8h0.9v0.9h-0.9zM442.9 45.3h0.9v0.9h-0.9z" fill="#c6c8cd"/>
<path d="M443.7 44.1h0.9v0.9h-0.9zM443.8 43.4h0.9v0.9h-0.9z" fill="#c6c8cd"/>
<path d="M472 31.3h0.9v0.9h-0.9zM472.2 30.5h0.9v0.9h-0.9z" fill="#c6c8cd"/>
<path d="M448.4 68.8h0.9v0.9h-0.9zM448.9 67.2h0.9v0.9h-0.9zM448.5 66.7h0.9v0.9h-0.9zM447.8 67.6h0.9v0.9h-0.9zM449.4 67.9h0.9v0.9h-0.9zM451.2 68.1h0.9v0.9h-0.9zM451.4 67.6h0.9v0.9h-0.9zM450.1 67.2h0.9v0.9h-0.9zM451.3 68.6h0.9v0.9h-0.9z" fill="#c6c8cd"/>
<path d="M447.3 69.9h0.9v0.9h-0.9zM448.9 69.7h0.9v0.9h-0.9zM450.7 69.8h0.9v0.9h-0.9zM448.1 69.8h0.9v0.9h-0.9zM446 69.4h0.9v0.9h-0.9zM449.5 70.7h0.9v0.9h-0.9zM448.4 69.1h0.9v0.9h-0.9zM446.7 70.3h0.9v0.9h-0.9zM448.1 70.1h0.9v0.9h-0.9z" fill="#c6c8cd"/>
<path d="M453 71.6h0.9v0.9h-0.9zM452.9 71.4h0.9v0.9h-0.9zM453.7 70.8h0.9v0.9h-0.9zM453.3 71.4h0.9v0.9h-0.9zM453 71.2h0.9v0.9h-0.9z" fill="#c6c8cd"/>
<path d="M449.2 75.6h0.9v0.9h-0.9zM449.2 75.5h0.9v0.9h-0.9zM450 78h0.9v0.9h-0.9zM451.5 75.8h0.9v0.9h-0.9zM450.9 73.9h0.9v0.9h-0.9zM450.6 76.1h0.9v0.9h-0.9zM447.8 74.8h0.9v0.9h-0.9z" fill="#c6c8cd"/>
<path d="M450.5 80.5h0.9v0.9h-0.9zM450 81.1h0.9v0.9h-0.9zM448.8 80.3h0.9v0.9h-0.9z" fill="#c6c8cd"/>
<path d="M451.5 78h0.9v0.9h-0.9zM451.6 76.8h0.9v0.9h-0.9zM451.9 77.6h0.9v0.9h-0.9zM451.6 77.2h0.9v0.9h-0.9z" fill="#c6c8cd"/>
<path d="M437.4 90.2h0.9v0.9h-0.9zM436.4 88h0.9v0.9h-0.9zM437.9 90.9h0.9v0.9h-0.9zM437.9 91.6h0.9v0.9h-0.9zM437.7 88.7h0.9v0.9h-0.9zM437.4 91.8h0.9v0.9h-0.9z" fill="#c6c8cd"/>
<path d="M459.4 78.9h0.9v0.9h-0.9zM463.8 79.6h0.9v0.9h-0.9zM461.8 78.3h0.9v0.9h-0.9zM462.6 79.4h0.9v0.9h-0.9zM463.1 80h0.9v0.9h-0.9z" fill="#c6c8cd"/>
<path d="M447.5 74.8h0.9v0.9h-0.9zM446.9 74.5h0.9v0.9h-0.9z" fill="#c6c8cd"/>
<path d="M434.6 61.4h1v1h-1zM437.3 54.7h1v1h-1zM437.4 60.8h1v1h-1zM436 58.8h1v1h-1zM446 59.6h1v1h-1zM428.4 58.9h1v1h-1zM441.2 62.3h1v1h-1zM446 55.2h1v1h-1zM441.4 60.1h1v1h-1zM435.4 58.8h1v1h-1zM442.3 57.1h1v1h-1zM441.4 66.6h1v1h-1zM430.9 55.6h1v1h-1zM434.9 54.7h1v1h-1zM444.7 56.1h1v1h-1zM441.3 56.6h1v1h-1zM445.2 63.7h1v1h-1zM444.1 63h1v1h-1zM440.1 55h1v1h-1zM432.6 59.2h1v1h-1zM444.5 53.7h1v1h-1z" fill="#f08a72"/>
<path d="M440.8 79.4h1v1h-1zM432.8 74.6h1v1h-1zM432.4 79.9h1v1h-1zM432.6 68.2h1v1h-1zM439.3 69.7h1v1h-1zM442.6 77.3h1v1h-1zM442.7 79.3h1v1h-1zM443 68.7h1v1h-1zM435.7 78.9h1v1h-1zM441.4 77.6h1v1h-1zM436.8 76.2h1v1h-1zM438.5 67.1h1v1h-1zM438.8 79.8h1v1h-1zM434.1 81.8h1v1h-1zM437.7 87.1h1v1h-1zM436.8 68.2h1v1h-1zM436.4 77.4h1v1h-1zM433.7 72.8h1v1h-1zM433.1 77.7h1v1h-1zM435.4 72.5h1v1h-1zM434.5 77.9h1v1h-1zM437.3 78.9h1v1h-1zM436.1 70.4h1v1h-1zM435.7 86.5h1v1h-1zM438.2 87.3h1v1h-1zM443.6 68.8h1v1h-1zM439.3 70.2h1v1h-1zM433.7 76.8h1v1h-1zM443 78.7h1v1h-1zM438.5 73.5h1v1h-1zM436 67.2h1v1h-1zM434.9 85h1v1h-1z" fill="#e8553d"/>
<path d="M447.6 93.8h1v1h-1zM445.6 91.7h1v1h-1zM448.3 95.7h1v1h-1zM449.5 92.6h1v1h-1zM448.7 93.9h1v1h-1zM447.8 93.1h1v1h-1zM453.6 98.2h1v1h-1zM451.8 96.1h1v1h-1zM448.3 92.8h1v1h-1zM453.5 98.7h1v1h-1zM448 95.1h1v1h-1zM454.1 97.6h1v1h-1zM445.4 91.9h1v1h-1zM446.5 93.5h1v1h-1zM451.9 93.7h1v1h-1zM455.4 98.5h1v1h-1zM445.7 92.6h1v1h-1zM446.3 92.2h1v1h-1zM453.7 97.6h1v1h-1zM445.4 89.7h1v1h-1zM445.6 90.8h1v1h-1zM453.1 95.8h1v1h-1z" fill="#c83a28"/>
<path d="M447.3 93.5h1.1v1.1h-1.1zM450.8 96.5h1.1v1.1h-1.1zM453.9 96.5h1.1v1.1h-1.1zM455.1 98.1h1.1v1.1h-1.1zM447.9 94.9h1.1v1.1h-1.1zM448.7 96.5h1.1v1.1h-1.1zM445.1 91h1.1v1.1h-1.1zM446 94.3h1.1v1.1h-1.1zM447.6 93.8h1.1v1.1h-1.1zM449.2 95.8h1.1v1.1h-1.1zM451.7 98.2h1.1v1.1h-1.1zM453.8 97.2h1.1v1.1h-1.1zM445.2 90.8h1.1v1.1h-1.1zM448.9 94.6h1.1v1.1h-1.1zM451.4 96.7h1.1v1.1h-1.1zM452.6 98.8h1.1v1.1h-1.1zM454.2 98.7h1.1v1.1h-1.1zM450.2 95.3h1.1v1.1h-1.1zM447.4 95.4h1.1v1.1h-1.1zM445.8 93.1h1.1v1.1h-1.1zM451.5 98.2h1.1v1.1h-1.1zM446.7 91.9h1.1v1.1h-1.1zM445.7 94.3h1.1v1.1h-1.1zM451.5 96h1.1v1.1h-1.1zM448.6 95.5h1.1v1.1h-1.1zM448.8 97h1.1v1.1h-1.1zM449.4 96.9h1.1v1.1h-1.1zM446.6 93.8h1.1v1.1h-1.1zM449.1 95.4h1.1v1.1h-1.1zM450.2 98h1.1v1.1h-1.1zM445.2 91.1h1.1v1.1h-1.1zM447.1 92.8h1.1v1.1h-1.1zM447.4 93.5h1.1v1.1h-1.1zM449.6 95.8h1.1v1.1h-1.1zM453.7 98.4h1.1v1.1h-1.1zM446.4 92.6h1.1v1.1h-1.1zM450.1 96h1.1v1.1h-1.1zM449.1 97.4h1.1v1.1h-1.1zM444.6 91h1.1v1.1h-1.1zM451.5 96.4h1.1v1.1h-1.1zM450.6 95.7h1.1v1.1h-1.1zM454 96.6h1.1v1.1h-1.1zM450.7 98h1.1v1.1h-1.1zM453.2 97.3h1.1v1.1h-1.1zM452.1 97.4h1.1v1.1h-1.1zM449.8 95.2h1.1v1.1h-1.1zM453.6 98.1h1.1v1.1h-1.1zM453 97.8h1.1v1.1h-1.1zM448.1 96.6h1.1v1.1h-1.1zM446.8 91.5h1.1v1.1h-1.1zM447.9 93.6h1.1v1.1h-1.1zM444.7 91.7h1.1v1.1h-1.1zM446.6 94.6h1.1v1.1h-1.1zM445.4 90.9h1.1v1.1h-1.1zM453.2 96.6h1.1v1.1h-1.1zM445.9 94.3h1.1v1.1h-1.1zM445.7 94.5h1.1v1.1h-1.1z" fill="#b01818"/>
<path d="M455.6 97.4h1v1h-1zM456.2 97.3h1v1h-1zM445.9 90h1v1h-1zM454.7 96.8h1v1h-1zM447.8 96.9h1v1h-1zM454.1 100.5h1v1h-1zM445.7 90.2h1v1h-1zM449.2 98.7h1v1h-1zM444.4 90.7h1v1h-1zM447.4 92.8h1v1h-1zM450.2 94.6h1v1h-1zM448.5 93.2h1v1h-1zM453.3 96.3h1v1h-1zM444.8 92.2h1v1h-1zM446.8 96.2h1v1h-1zM450.7 98.3h1v1h-1z" fill="#b01818"/>
<path d="M438.2 92h1v1h-1zM436.8 88.5h1v1h-1z" fill="#e06048"/>
<path d="M461.5 74.3h1v1h-1zM453 60.3h1v1h-1zM462.2 59h1v1h-1zM455.7 59.7h1v1h-1zM450.8 57.2h1v1h-1zM458.9 57.5h1v1h-1zM461.4 56.4h1v1h-1zM458.2 66.6h1v1h-1zM458.6 65.7h1v1h-1zM453.3 60.6h1v1h-1zM457.5 70.2h1v1h-1zM459.8 63.3h1v1h-1zM451.6 63h1v1h-1zM466.6 62.3h1v1h-1z" fill="#f4a08a"/>
<path d="M467.5 49.5h1v1h-1zM470.4 49.7h1v1h-1zM472.5 53.2h1v1h-1zM470.8 50.8h1v1h-1zM464.8 44.7h1v1h-1zM466 47.4h1v1h-1zM475.4 54.1h1v1h-1zM466.7 54.2h1v1h-1zM464.5 46.2h1v1h-1zM465.3 54.1h1v1h-1zM468.7 56.9h1v1h-1zM473.8 50.3h1v1h-1zM461.5 46.5h1v1h-1zM464.7 56h1v1h-1zM467.1 50.9h1v1h-1zM473.4 54.8h1v1h-1z" fill="#f4a08a"/>
<path d="M465.9 26.9h1v1h-1zM459.3 34.7h1v1h-1zM466.7 26.9h1v1h-1zM463.5 32.3h1v1h-1zM452.4 44.8h1v1h-1zM460.3 39.1h1v1h-1zM453.3 41.3h1v1h-1zM456.3 44.8h1v1h-1zM456 38.2h1v1h-1zM456.7 34.7h1v1h-1zM458.6 39.8h1v1h-1z" fill="#f4a08a"/>
<path d="M443.3 31.7h1v1h-1zM448.9 38.8h1v1h-1zM441.3 29.9h1v1h-1zM444.2 36.4h1v1h-1z" fill="#f4a08a"/>
<path d="M451.6 79.7h1v1h-1zM452.6 70.8h1v1h-1zM450.2 79.8h1v1h-1zM447.4 72.1h1v1h-1zM448.3 81h1v1h-1zM448.7 63h1v1h-1zM446.3 60.7h1v1h-1zM451.1 80h1v1h-1z" fill="#f4a08a"/>
</g>
<g>
<path d="M258.3 128.4 C258.5 128 258.6 127.4 259.2 127 C259.8 126.7 261 126.5 261.7 126.5 C262.5 126.5 263.1 126.6 263.6 127 C264.1 127.4 264.1 128.1 264.5 128.8 C265 129.5 265.7 130.8 266.2 131.5 C266.8 132.1 267.4 132.3 267.9 133 C268.4 133.6 269 134.6 269.3 135.4 C269.6 136.1 269.6 137 269.5 137.5 C269.4 137.9 269.3 138.2 268.9 138.2 C268.4 138.2 267.7 137.8 266.9 137.5 C266.2 137.3 265.4 137 264.6 136.6 C263.7 136.3 262.6 135.9 261.9 135.6 C261.1 135.2 260.5 135 259.9 134.4 C259.3 133.9 258.6 133 258.3 132.3 C257.9 131.5 257.6 130.5 257.6 129.8 C257.6 129.2 258 128.9 258.3 128.4Z" fill="#c6c8cd"/>
<path d="M266.2 137.8h0.9v0.9h-0.9zM262.5 138.3h0.9v0.9h-0.9zM257.9 132.9h0.9v0.9h-0.9zM260.8 125.4h0.9v0.9h-0.9zM258 127.3h0.9v0.9h-0.9zM258 127.4h0.9v0.9h-0.9zM263 126h0.9v0.9h-0.9zM264.8 137.6h0.9v0.9h-0.9zM268.5 136.9h0.9v0.9h-0.9zM267.4 132.4h0.9v0.9h-0.9zM256.2 130.9h0.9v0.9h-0.9zM257.1 132.2h0.9v0.9h-0.9zM266.4 131.2h0.9v0.9h-0.9zM269.1 136.8h0.9v0.9h-0.9zM258.7 127.1h0.9v0.9h-0.9zM263.8 136.2h0.9v0.9h-0.9zM257.5 129h0.9v0.9h-0.9zM261 135.9h0.9v0.9h-0.9zM259.1 133.6h0.9v0.9h-0.9zM261.8 126h0.9v0.9h-0.9zM263.6 127.4h0.9v0.9h-0.9zM256.8 130.9h0.9v0.9h-0.9zM264.1 127.4h0.9v0.9h-0.9zM266.3 131.5h0.9v0.9h-0.9zM259.7 134.2h0.9v0.9h-0.9zM264.3 128.7h0.9v0.9h-0.9zM264.4 136.4h0.9v0.9h-0.9zM257.5 130.4h0.9v0.9h-0.9z" fill="#c6c8cd"/>
<path d="M263.7 134.8h0.8v0.8h-0.8zM261.6 127.2h0.8v0.8h-0.8zM263 129.6h0.8v0.8h-0.8zM267.5 134h0.8v0.8h-0.8zM265.9 132.8h0.8v0.8h-0.8zM264.3 131.6h0.8v0.8h-0.8zM265.1 131.3h0.8v0.8h-0.8zM259.9 130.9h0.8v0.8h-0.8zM257.8 130.9h0.8v0.8h-0.8zM261.1 134.8h0.8v0.8h-0.8z" fill="#fff" fill-opacity="0.7"/>
<path d="M285.1 124.1 C285.4 124.1 285.6 124.6 285.7 125.4 C285.9 126.2 285.9 127.9 285.9 129 C285.8 130.1 285.6 130.9 285.5 132 C285.4 133.1 285.4 134.8 285.2 135.7 C285 136.6 284.7 136.8 284.2 137.4 C283.8 138.1 283.1 138.7 282.5 139.4 C282 140.1 281.6 141 280.8 141.7 C280 142.3 278.7 142.7 277.9 143.2 C277.1 143.8 276.5 144.6 275.8 145.1 C275.1 145.6 274.4 146.2 273.9 146.4 C273.3 146.6 272.9 146.8 272.5 146.2 C272 145.7 271.6 144.2 271.3 143 C271.1 141.7 270.8 140 270.9 138.8 C271 137.6 271.4 136.9 271.8 135.9 C272.3 134.9 272.7 133.5 273.4 133 C274.1 132.5 275.2 133.2 276.1 132.7 C277 132.2 278.1 130.8 278.9 130 C279.7 129.3 280.4 128.6 280.9 128.2 C281.5 127.7 281.8 127.9 282.3 127.4 C282.7 126.9 283.2 125.7 283.7 125.2 C284.1 124.6 284.7 124.1 285.1 124.1Z" fill="#c6c8cd"/>
<path d="M270.2 141.1h0.9v0.9h-0.9zM275.8 132.4h0.9v0.9h-0.9zM284.9 131.3h0.9v0.9h-0.9zM285.4 125.6h0.9v0.9h-0.9zM285.7 126.1h0.9v0.9h-0.9zM281.2 127.3h0.9v0.9h-0.9zM276.6 143h0.9v0.9h-0.9zM275.8 131.4h0.9v0.9h-0.9zM272.5 145.8h0.9v0.9h-0.9zM285.6 132.8h0.9v0.9h-0.9zM280.4 127.8h0.9v0.9h-0.9zM272 132.3h0.9v0.9h-0.9zM271.7 144.9h0.9v0.9h-0.9zM285.2 134.6h0.9v0.9h-0.9zM284.9 131.4h0.9v0.9h-0.9zM277.1 143h0.9v0.9h-0.9zM272.8 131.1h0.9v0.9h-0.9zM284.9 130.7h0.9v0.9h-0.9zM270.2 137.8h0.9v0.9h-0.9zM273.3 145.7h0.9v0.9h-0.9zM280.8 141.7h0.9v0.9h-0.9zM281.7 126.8h0.9v0.9h-0.9zM279.6 142.4h0.9v0.9h-0.9zM282.4 125.8h0.9v0.9h-0.9zM276.2 131.4h0.9v0.9h-0.9zM273.8 132.3h0.9v0.9h-0.9zM285.4 125.7h0.9v0.9h-0.9zM270.4 147.6h0.9v0.9h-0.9zM284.6 132.7h0.9v0.9h-0.9zM284.8 124h0.9v0.9h-0.9zM271.4 145.6h0.9v0.9h-0.9zM272 144.8h0.9v0.9h-0.9zM273.8 145.4h0.9v0.9h-0.9zM271 135.8h0.9v0.9h-0.9zM285.9 130.6h0.9v0.9h-0.9zM280.8 127.8h0.9v0.9h-0.9zM286 134.7h0.9v0.9h-0.9zM280.3 142.4h0.9v0.9h-0.9zM282.4 140h0.9v0.9h-0.9zM271 137.7h0.9v0.9h-0.9zM281.3 140.3h0.9v0.9h-0.9zM277.2 129.4h0.9v0.9h-0.9zM270.4 136.5h0.9v0.9h-0.9zM278.9 128.8h0.9v0.9h-0.9z" fill="#c6c8cd"/>
<path d="M277 141.9h0.8v0.8h-0.8zM271.1 141.1h0.8v0.8h-0.8zM281.9 139h0.8v0.8h-0.8zM283.3 125.2h0.8v0.8h-0.8zM271.8 138.2h0.8v0.8h-0.8zM284.2 129.1h0.8v0.8h-0.8zM280.6 137.1h0.8v0.8h-0.8zM273.5 141.6h0.8v0.8h-0.8zM276 132.4h0.8v0.8h-0.8zM281.6 137.3h0.8v0.8h-0.8zM275.5 139.8h0.8v0.8h-0.8zM282.7 130.5h0.8v0.8h-0.8zM279.3 137h0.8v0.8h-0.8zM278.9 139.3h0.8v0.8h-0.8zM278.3 130.9h0.8v0.8h-0.8zM278.7 137.3h0.8v0.8h-0.8zM275.6 134.1h0.8v0.8h-0.8zM281.7 131.3h0.8v0.8h-0.8zM282.9 128.6h0.8v0.8h-0.8zM280.4 131.5h0.8v0.8h-0.8zM279.5 130.1h0.8v0.8h-0.8zM281.4 135.6h0.8v0.8h-0.8zM277.4 138.2h0.8v0.8h-0.8zM280 130.7h0.8v0.8h-0.8z" fill="#fff" fill-opacity="0.7"/>
<path d="M282.4 141.5 C282.8 141.4 283.4 141.3 284.2 141.5 C285 141.8 286 142.6 287.1 142.8 C288.1 142.9 289.5 142.6 290.6 142.5 C291.8 142.4 293.1 142.1 294 142.2 C294.9 142.3 295.6 142.6 296.1 143 C296.6 143.5 297 144.2 297.1 144.8 C297.2 145.3 297 145.7 296.6 146.5 C296.2 147.3 295.4 148.5 294.9 149.6 C294.3 150.8 293.8 152.4 293.2 153.4 C292.6 154.3 291.7 154.6 291 155.2 C290.2 155.7 289.5 156 288.7 156.4 C288 156.8 287.1 157.2 286.4 157.7 C285.7 158.1 285.1 159.2 284.4 158.9 C283.6 158.6 282.7 156.8 281.8 155.8 C281 154.9 280.1 154.3 279.4 153.1 C278.7 152 277.8 150.3 277.6 149.1 C277.3 148 277.3 146.9 277.7 146.1 C278.1 145.3 279.3 144.9 279.9 144.3 C280.6 143.7 281.2 142.9 281.6 142.4 C282 142 282 141.7 282.4 141.5Z" fill="#c6c8cd"/>
<path d="M285.4 157.8h0.9v0.9h-0.9zM281 141.5h0.9v0.9h-0.9zM283.9 160.2h0.9v0.9h-0.9zM287.6 141.9h0.9v0.9h-0.9zM286.8 156.4h0.9v0.9h-0.9zM293.1 152.2h0.9v0.9h-0.9zM286.6 159.1h0.9v0.9h-0.9zM278.9 144.4h0.9v0.9h-0.9zM294.5 150.3h0.9v0.9h-0.9zM277.4 151.4h0.9v0.9h-0.9zM277.5 146.3h0.9v0.9h-0.9zM292.7 153h0.9v0.9h-0.9zM293.3 141.7h0.9v0.9h-0.9zM277.1 146.5h0.9v0.9h-0.9zM294 141.6h0.9v0.9h-0.9zM294.5 149h0.9v0.9h-0.9zM286.3 140.8h0.9v0.9h-0.9zM287.5 156.5h0.9v0.9h-0.9zM281.8 157h0.9v0.9h-0.9zM295.3 148h0.9v0.9h-0.9zM297.8 145.5h0.9v0.9h-0.9zM278.4 151.4h0.9v0.9h-0.9zM278.4 152.8h0.9v0.9h-0.9zM282.5 140.8h0.9v0.9h-0.9zM287.3 142.5h0.9v0.9h-0.9zM276.5 150h0.9v0.9h-0.9zM276.8 149h0.9v0.9h-0.9zM277 148.1h0.9v0.9h-0.9zM291.5 154.6h0.9v0.9h-0.9zM293.4 152.1h0.9v0.9h-0.9zM285.6 159.4h0.9v0.9h-0.9zM285.5 141.7h0.9v0.9h-0.9zM295.6 142.8h0.9v0.9h-0.9zM284.6 158.2h0.9v0.9h-0.9zM296.6 148.1h0.9v0.9h-0.9zM280.5 154.3h0.9v0.9h-0.9zM280.3 139.3h0.9v0.9h-0.9zM295.2 150.6h0.9v0.9h-0.9zM283.9 158.3h0.9v0.9h-0.9zM286.4 142.5h0.9v0.9h-0.9zM279.1 144.6h0.9v0.9h-0.9zM283.7 160.6h0.9v0.9h-0.9zM288.5 141.7h0.9v0.9h-0.9zM295.3 147.6h0.9v0.9h-0.9zM295.9 145.9h0.9v0.9h-0.9zM292.5 153.2h0.9v0.9h-0.9z" fill="#c6c8cd"/>
<path d="M290.8 148.5h0.8v0.8h-0.8zM289.9 150.4h0.8v0.8h-0.8zM285.1 147h0.8v0.8h-0.8zM291.6 151.7h0.8v0.8h-0.8zM283.8 153.9h0.8v0.8h-0.8zM291.6 149.4h0.8v0.8h-0.8zM287.8 142.8h0.8v0.8h-0.8zM282.7 153.9h0.8v0.8h-0.8zM285.1 154.5h0.8v0.8h-0.8zM294.2 142.3h0.8v0.8h-0.8zM280.1 148.9h0.8v0.8h-0.8zM285.3 142.7h0.8v0.8h-0.8zM291.4 142.6h0.8v0.8h-0.8zM292.1 143.2h0.8v0.8h-0.8zM280.1 153.6h0.8v0.8h-0.8zM286.2 150.4h0.8v0.8h-0.8zM284.7 150.2h0.8v0.8h-0.8zM285.3 155.6h0.8v0.8h-0.8zM291.4 153.7h0.8v0.8h-0.8zM290.1 147h0.8v0.8h-0.8zM288.7 145h0.8v0.8h-0.8zM294.9 147.9h0.8v0.8h-0.8zM289.2 153.9h0.8v0.8h-0.8zM291.3 143.5h0.8v0.8h-0.8zM278 146.1h0.8v0.8h-0.8zM287.5 146.6h0.8v0.8h-0.8zM282.5 154.2h0.8v0.8h-0.8zM279.7 144.5h0.8v0.8h-0.8zM286.3 143h0.8v0.8h-0.8zM293.3 151.7h0.8v0.8h-0.8zM294.8 146.1h0.8v0.8h-0.8z" fill="#fff" fill-opacity="0.7"/>
<path d="M268.5 154.8 C268.8 153.8 269.5 153.3 270.1 152.7 C270.7 152.1 271.3 151.7 272.1 151.3 C272.8 150.9 273.7 150.6 274.4 150.2 C275.1 149.8 275.8 149.4 276.4 149.1 C277 148.8 277.4 148 277.8 148.3 C278.2 148.7 278.3 150.1 279 151.2 C279.6 152.3 280.9 153.7 281.7 154.8 C282.5 156 282.9 156.9 283.7 157.8 C284.5 158.7 286 159.6 286.3 160.3 C286.6 160.9 286.3 161.5 285.7 161.8 C285.2 162.1 283.8 161.5 283.1 162.2 C282.4 162.8 281.9 164.5 281.6 165.7 C281.4 166.9 281.7 168.3 281.6 169.3 C281.5 170.4 281.6 171.6 281.1 172.1 C280.6 172.7 279.4 172.9 278.6 172.8 C277.8 172.6 276.8 172.1 276.1 171.4 C275.5 170.7 275 169.7 274.9 168.6 C274.8 167.5 275.8 165.9 275.6 164.9 C275.3 163.9 274.4 163.2 273.4 162.5 C272.5 161.9 271 161.8 270.1 161.1 C269.2 160.4 268.5 159.3 268.2 158.3 C267.9 157.2 268.2 155.7 268.5 154.8Z" fill="#c6c8cd"/>
<path d="M281.4 165.5h0.9v0.9h-0.9zM273 162.6h0.9v0.9h-0.9zM278.7 172.3h0.9v0.9h-0.9zM283.6 161.9h0.9v0.9h-0.9zM275.3 170.4h0.9v0.9h-0.9zM277.9 173h0.9v0.9h-0.9zM269.5 160.6h0.9v0.9h-0.9zM271.7 150.3h0.9v0.9h-0.9zM283.6 158h0.9v0.9h-0.9zM280.8 164.7h0.9v0.9h-0.9zM282.2 172.6h0.9v0.9h-0.9zM275 166.7h0.9v0.9h-0.9zM274 163h0.9v0.9h-0.9zM279.3 152.3h0.9v0.9h-0.9zM284.4 161.4h0.9v0.9h-0.9zM281.7 166.4h0.9v0.9h-0.9zM271.1 162.4h0.9v0.9h-0.9zM279.3 150h0.9v0.9h-0.9zM274.7 170h0.9v0.9h-0.9zM282 155.2h0.9v0.9h-0.9zM282 170.3h0.9v0.9h-0.9zM274.1 149.4h0.9v0.9h-0.9zM280.4 152.2h0.9v0.9h-0.9zM268 158h0.9v0.9h-0.9zM279.2 151h0.9v0.9h-0.9zM277.9 148.8h0.9v0.9h-0.9zM281 151.6h0.9v0.9h-0.9zM269.8 161h0.9v0.9h-0.9zM282.9 152.2h0.9v0.9h-0.9zM278.7 172.3h0.9v0.9h-0.9zM267.9 159.4h0.9v0.9h-0.9zM271.6 161.2h0.9v0.9h-0.9zM268.1 158.8h0.9v0.9h-0.9zM270.6 161.2h0.9v0.9h-0.9zM269.1 153h0.9v0.9h-0.9zM283.3 161.6h0.9v0.9h-0.9zM275.2 171.3h0.9v0.9h-0.9zM286.6 160h0.9v0.9h-0.9zM275 169h0.9v0.9h-0.9zM281 151.8h0.9v0.9h-0.9zM275.9 148.9h0.9v0.9h-0.9zM284.1 162.9h0.9v0.9h-0.9zM272.7 162.5h0.9v0.9h-0.9zM281.7 170.9h0.9v0.9h-0.9zM274.3 167.8h0.9v0.9h-0.9zM273.4 150.1h0.9v0.9h-0.9zM275.1 168.6h0.9v0.9h-0.9zM281.1 167.2h0.9v0.9h-0.9zM282.9 156.2h0.9v0.9h-0.9z" fill="#c6c8cd"/>
<path d="M278.6 153.9h0.8v0.8h-0.8zM279.4 152.9h0.8v0.8h-0.8zM279.4 154.7h0.8v0.8h-0.8zM278.8 161.6h0.8v0.8h-0.8zM268.2 154.8h0.8v0.8h-0.8zM282.7 157.1h0.8v0.8h-0.8zM275.3 168.7h0.8v0.8h-0.8zM283.7 161.2h0.8v0.8h-0.8zM275.7 157.6h0.8v0.8h-0.8zM269.5 158.3h0.8v0.8h-0.8zM278 157.1h0.8v0.8h-0.8zM278.6 169.5h0.8v0.8h-0.8zM278.2 171.5h0.8v0.8h-0.8zM272.8 151.9h0.8v0.8h-0.8zM285.2 160.7h0.8v0.8h-0.8zM278.3 157h0.8v0.8h-0.8zM277.7 166.4h0.8v0.8h-0.8zM277.1 169.3h0.8v0.8h-0.8zM274.4 160.5h0.8v0.8h-0.8zM276.4 168.2h0.8v0.8h-0.8zM278.2 159.2h0.8v0.8h-0.8zM281.1 156.7h0.8v0.8h-0.8zM270.6 156.2h0.8v0.8h-0.8zM272.2 160.3h0.8v0.8h-0.8zM280.7 162.3h0.8v0.8h-0.8zM275.6 168.6h0.8v0.8h-0.8zM274.2 152h0.8v0.8h-0.8zM283.3 160h0.8v0.8h-0.8zM275.5 162h0.8v0.8h-0.8zM281.7 163.8h0.8v0.8h-0.8zM271.9 159.1h0.8v0.8h-0.8z" fill="#fff" fill-opacity="0.7"/>
<path d="M243.4 154.3 C243.6 154.1 244.5 153.9 245.3 153.7 C246 153.5 247.2 153.7 248 152.9 C248.8 152.2 249.5 150.5 250.1 149.5 C250.6 148.5 250.7 147.7 251.4 147 C252 146.4 253 146.1 254 145.6 C255 145.2 256.5 144.5 257.3 144.2 C258.1 143.8 258.3 142.9 258.7 143.4 C259.1 143.9 259.2 146 259.6 147 C260 147.9 260.4 148.2 261 148.8 C261.6 149.5 262.5 150 263.1 150.8 C263.8 151.5 264.3 152.3 264.7 153.2 C265.2 154.1 265.7 155.2 265.8 156.3 C265.8 157.4 265.5 158.5 265.1 159.8 C264.8 161.2 264.6 163.6 263.6 164.5 C262.6 165.3 260.7 164.8 259.2 164.9 C257.7 164.9 255.8 164.6 254.5 164.6 C253.2 164.7 252 165.5 251.3 164.9 C250.6 164.3 250.9 162.2 250.4 161 C250 159.9 249.4 158.9 248.7 158 C248.1 157.1 247.5 156.2 246.7 155.7 C245.9 155.2 244.5 155.3 244 155 C243.4 154.8 243.2 154.5 243.4 154.3Z" fill="#c6c8cd"/>
<path d="M248.4 158.1h0.9v0.9h-0.9zM244.3 154.8h0.9v0.9h-0.9zM263.1 162.9h0.9v0.9h-0.9zM262.8 150.3h0.9v0.9h-0.9zM261.4 164.7h0.9v0.9h-0.9zM252.4 165.2h0.9v0.9h-0.9zM259 143.8h0.9v0.9h-0.9zM249.4 148h0.9v0.9h-0.9zM257.5 164.2h0.9v0.9h-0.9zM252.7 146h0.9v0.9h-0.9zM256.6 143.3h0.9v0.9h-0.9zM264.1 159.3h0.9v0.9h-0.9zM265 157.8h0.9v0.9h-0.9zM252.8 165.8h0.9v0.9h-0.9zM264.9 157.4h0.9v0.9h-0.9zM265 159.4h0.9v0.9h-0.9zM242.5 154.1h0.9v0.9h-0.9zM247.6 152.7h0.9v0.9h-0.9zM266 154.5h0.9v0.9h-0.9zM248.3 157h0.9v0.9h-0.9zM259 146.1h0.9v0.9h-0.9zM247.2 149.1h0.9v0.9h-0.9zM268 160.9h0.9v0.9h-0.9zM249.1 148.9h0.9v0.9h-0.9zM249.5 160.4h0.9v0.9h-0.9zM249 160.2h0.9v0.9h-0.9zM264.4 161.5h0.9v0.9h-0.9zM259.9 144.8h0.9v0.9h-0.9zM250.5 145.9h0.9v0.9h-0.9zM266.5 153.8h0.9v0.9h-0.9zM249.4 161h0.9v0.9h-0.9zM251.7 145.8h0.9v0.9h-0.9zM248.2 158.1h0.9v0.9h-0.9zM258.8 146.7h0.9v0.9h-0.9zM261 165.5h0.9v0.9h-0.9zM248.5 157.9h0.9v0.9h-0.9zM248.6 160h0.9v0.9h-0.9zM258.2 165.2h0.9v0.9h-0.9zM263 149.2h0.9v0.9h-0.9zM264.2 162.1h0.9v0.9h-0.9zM249.4 163.4h0.9v0.9h-0.9zM256.4 143.6h0.9v0.9h-0.9zM250.6 146h0.9v0.9h-0.9zM255.4 164.7h0.9v0.9h-0.9zM255.6 143.9h0.9v0.9h-0.9zM265.1 158.7h0.9v0.9h-0.9zM256.2 143.9h0.9v0.9h-0.9zM262 164h0.9v0.9h-0.9zM257.7 166.3h0.9v0.9h-0.9zM252.8 164.2h0.9v0.9h-0.9zM264.2 161.5h0.9v0.9h-0.9zM261.8 148.8h0.9v0.9h-0.9zM243.3 154.9h0.9v0.9h-0.9z" fill="#c6c8cd"/>
<path d="M258.5 145.8h0.8v0.8h-0.8zM258.1 152.4h0.8v0.8h-0.8zM252.2 159h0.8v0.8h-0.8zM258 153.1h0.8v0.8h-0.8zM254.8 149.1h0.8v0.8h-0.8zM252.8 157.3h0.8v0.8h-0.8zM249.3 152.9h0.8v0.8h-0.8zM259.2 157h0.8v0.8h-0.8zM254.8 157.3h0.8v0.8h-0.8zM258.3 144.3h0.8v0.8h-0.8zM250.9 149h0.8v0.8h-0.8zM263.8 156.7h0.8v0.8h-0.8zM257.9 156.1h0.8v0.8h-0.8zM249 156.9h0.8v0.8h-0.8zM255.4 163.6h0.8v0.8h-0.8zM260.2 164.3h0.8v0.8h-0.8zM260.6 156.5h0.8v0.8h-0.8zM251.1 150.6h0.8v0.8h-0.8zM263 154.8h0.8v0.8h-0.8zM260 151h0.8v0.8h-0.8zM251.5 156.8h0.8v0.8h-0.8zM258.5 150.4h0.8v0.8h-0.8zM263.8 160.4h0.8v0.8h-0.8zM259 152.8h0.8v0.8h-0.8zM255.7 156.6h0.8v0.8h-0.8zM256.4 152.7h0.8v0.8h-0.8zM256.7 153.3h0.8v0.8h-0.8zM251.8 154.5h0.8v0.8h-0.8zM262.1 162.2h0.8v0.8h-0.8zM263.9 157.4h0.8v0.8h-0.8zM252 153.1h0.8v0.8h-0.8zM251.5 159.6h0.8v0.8h-0.8zM261.5 162.8h0.8v0.8h-0.8zM251.4 154.8h0.8v0.8h-0.8zM256.1 146.4h0.8v0.8h-0.8zM255.1 149.4h0.8v0.8h-0.8zM256.4 144.5h0.8v0.8h-0.8zM259 156.9h0.8v0.8h-0.8zM259.2 149.9h0.8v0.8h-0.8z" fill="#fff" fill-opacity="0.7"/>
<path d="M250.9 164.4 C251.6 164.4 253.5 164.4 255.3 164.4 C257.1 164.4 260.6 164.3 261.9 164.4 C263.2 164.5 262.9 164.3 263 165 C263.2 165.6 263 167.3 262.7 168.4 C262.4 169.4 261.2 170.3 261 171.3 C260.9 172.3 261.5 173.3 261.7 174.4 C261.9 175.5 262.3 177 262.3 178 C262.4 179 262.2 179.8 261.8 180.6 C261.5 181.3 260.7 181.9 260 182.5 C259.3 183.2 258.4 184 257.8 184.6 C257.2 185.1 256.9 185.7 256.5 185.8 C256 185.9 255.5 185.5 255 185 C254.6 184.5 254.1 183.6 253.6 182.8 C253.2 182 252.6 181.2 252.2 180.3 C251.8 179.5 251.4 178.5 251.2 177.7 C251 176.8 251 176.1 251 175.1 C250.9 174 250.8 172.6 251 171.4 C251.1 170.2 251.6 168.9 251.6 167.7 C251.7 166.6 251.4 165.3 251.3 164.7 C251.2 164.2 250.2 164.5 250.9 164.4Z" fill="#c6c8cd"/>
<path d="M250.9 173.2h0.9v0.9h-0.9zM253.6 182h0.9v0.9h-0.9zM251 170.8h0.9v0.9h-0.9zM261.5 169.6h0.9v0.9h-0.9zM260.8 173h0.9v0.9h-0.9zM251 172.9h0.9v0.9h-0.9zM261 181h0.9v0.9h-0.9zM259.4 163.3h0.9v0.9h-0.9zM261.3 175.4h0.9v0.9h-0.9zM250.5 173.2h0.9v0.9h-0.9zM253.3 163.9h0.9v0.9h-0.9zM250.9 163.5h0.9v0.9h-0.9zM262.6 166.8h0.9v0.9h-0.9zM261.6 171.5h0.9v0.9h-0.9zM260.6 181h0.9v0.9h-0.9zM259.4 182.1h0.9v0.9h-0.9zM248.3 175.7h0.9v0.9h-0.9zM263.1 167.4h0.9v0.9h-0.9zM252 180.2h0.9v0.9h-0.9zM261.5 175.9h0.9v0.9h-0.9zM260.7 181.4h0.9v0.9h-0.9zM259.7 163.8h0.9v0.9h-0.9zM262.9 166.2h0.9v0.9h-0.9zM260.8 170.3h0.9v0.9h-0.9zM259.5 181.9h0.9v0.9h-0.9zM261.5 175.8h0.9v0.9h-0.9zM262.2 176.4h0.9v0.9h-0.9zM249.3 168.5h0.9v0.9h-0.9zM251.1 177.3h0.9v0.9h-0.9zM250.4 173.2h0.9v0.9h-0.9zM250.8 171.5h0.9v0.9h-0.9zM252.8 182h0.9v0.9h-0.9zM249.5 161.8h0.9v0.9h-0.9zM261.9 176.8h0.9v0.9h-0.9zM262.7 166.8h0.9v0.9h-0.9zM254.1 185.4h0.9v0.9h-0.9zM255 163.7h0.9v0.9h-0.9zM251.9 164.3h0.9v0.9h-0.9zM251.8 180.6h0.9v0.9h-0.9zM261.6 169.6h0.9v0.9h-0.9zM261.1 175.7h0.9v0.9h-0.9zM259.3 183.2h0.9v0.9h-0.9zM262.1 168.1h0.9v0.9h-0.9zM262.2 164.1h0.9v0.9h-0.9z" fill="#c6c8cd"/>
<path d="M254.7 177.3h0.8v0.8h-0.8zM258.7 170.9h0.8v0.8h-0.8zM256.9 180.7h0.8v0.8h-0.8zM252.5 171.2h0.8v0.8h-0.8zM255 177.8h0.8v0.8h-0.8zM256 164.2h0.8v0.8h-0.8zM257.7 171.3h0.8v0.8h-0.8zM252.2 165.2h0.8v0.8h-0.8zM250.8 176.8h0.8v0.8h-0.8zM256.3 176.6h0.8v0.8h-0.8zM254.5 183.4h0.8v0.8h-0.8zM259 166.7h0.8v0.8h-0.8zM252.9 172.7h0.8v0.8h-0.8zM260.5 167.6h0.8v0.8h-0.8zM251.8 168.7h0.8v0.8h-0.8zM255.7 182h0.8v0.8h-0.8zM253.4 177.9h0.8v0.8h-0.8zM255.6 177.5h0.8v0.8h-0.8zM256.3 168.6h0.8v0.8h-0.8zM255.5 170h0.8v0.8h-0.8zM255.9 166h0.8v0.8h-0.8zM257.7 178.1h0.8v0.8h-0.8zM262.5 165.6h0.8v0.8h-0.8zM256.7 176.3h0.8v0.8h-0.8zM259.1 164.2h0.8v0.8h-0.8zM250.8 174.8h0.8v0.8h-0.8zM257.3 175.2h0.8v0.8h-0.8zM258.6 165.6h0.8v0.8h-0.8z" fill="#fff" fill-opacity="0.7"/>
<path d="M263.2 187.9 C263.3 187.4 263.9 187.3 264.4 187.4 C264.8 187.5 265.2 188.2 265.9 188.7 C266.5 189.2 267.6 189.8 268.4 190.3 C269.2 190.8 270.1 191.2 270.9 191.7 C271.6 192.2 272.3 192.7 272.9 193.2 C273.5 193.8 274.1 194.4 274.3 194.9 C274.5 195.4 274.4 195.9 274.1 196.3 C273.8 196.6 273.4 197 272.6 197.1 C271.9 197.1 270.8 196.7 269.9 196.4 C269 196.1 268.2 195.7 267.5 195.1 C266.7 194.4 266.1 193.3 265.4 192.6 C264.8 191.9 264 191.4 263.6 190.6 C263.2 189.8 263.1 188.5 263.2 187.9Z" fill="#c6c8cd"/>
<path d="M268.2 189.8h0.9v0.9h-0.9zM271.2 191.6h0.9v0.9h-0.9zM263.6 191.1h0.9v0.9h-0.9zM269.3 195.9h0.9v0.9h-0.9zM265.9 192.6h0.9v0.9h-0.9zM272.4 192.6h0.9v0.9h-0.9zM262.5 187.5h0.9v0.9h-0.9zM262.7 188.8h0.9v0.9h-0.9zM268.2 195.2h0.9v0.9h-0.9zM263.2 188.9h0.9v0.9h-0.9zM273.5 193.7h0.9v0.9h-0.9zM273.4 193.7h0.9v0.9h-0.9zM267.3 195.3h0.9v0.9h-0.9zM262.7 187.9h0.9v0.9h-0.9zM264.4 191.5h0.9v0.9h-0.9zM268 194.6h0.9v0.9h-0.9zM268.4 194.8h0.9v0.9h-0.9zM271.8 191.5h0.9v0.9h-0.9zM271.4 197h0.9v0.9h-0.9zM266.5 189.1h0.9v0.9h-0.9zM261.8 189.7h0.9v0.9h-0.9z" fill="#c6c8cd"/>
<path d="M266.4 190h0.8v0.8h-0.8zM263.5 189.1h0.8v0.8h-0.8zM270.1 192.4h0.8v0.8h-0.8zM267.4 189.7h0.8v0.8h-0.8zM270 192.2h0.8v0.8h-0.8zM264.1 187.5h0.8v0.8h-0.8z" fill="#fff" fill-opacity="0.7"/>
<path d="M264 152.2 C263.9 151.7 264.4 150.6 264.8 149.9 C265.2 149.1 265.7 148.2 266.3 147.6 C266.8 147 267.5 146.4 268.1 146 C268.7 145.6 269.2 145.5 269.8 145.5 C270.4 145.5 271.2 145.8 271.9 146 C272.6 146.2 273.5 146.5 273.9 146.9 C274.4 147.3 274.8 147.9 274.8 148.3 C274.7 148.7 274.1 149.3 273.5 149.4 C273 149.5 272.1 149 271.4 148.7 C270.8 148.5 270 148.1 269.4 148.1 C268.7 148.1 268.2 148.4 267.7 148.7 C267.2 149.1 266.8 149.7 266.5 150.3 C266.1 150.9 265.8 152.1 265.4 152.4 C265 152.7 264.1 152.6 264 152.2Z" fill="#c6c8cd"/>
<path d="M267.1 146.3h0.9v0.9h-0.9zM271.8 145.5h0.9v0.9h-0.9zM265.7 145.6h0.9v0.9h-0.9zM262.2 151.3h0.9v0.9h-0.9zM273.6 147h0.9v0.9h-0.9zM263.9 149.5h0.9v0.9h-0.9zM268.6 147.8h0.9v0.9h-0.9zM268.3 147.9h0.9v0.9h-0.9zM273.5 148.8h0.9v0.9h-0.9zM266.9 149.3h0.9v0.9h-0.9zM273.3 148.2h0.9v0.9h-0.9zM263.3 145.7h0.9v0.9h-0.9zM265.1 151.8h0.9v0.9h-0.9zM267.8 148.1h0.9v0.9h-0.9zM273.6 148.9h0.9v0.9h-0.9zM268.9 147.5h0.9v0.9h-0.9zM264.4 149.5h0.9v0.9h-0.9zM274.1 149h0.9v0.9h-0.9zM270.7 148.1h0.9v0.9h-0.9zM273.9 145.9h0.9v0.9h-0.9zM271.1 144.4h0.9v0.9h-0.9z" fill="#c6c8cd"/>
<path d="M268.3 146.2h0.8v0.8h-0.8zM269.8 145.9h0.8v0.8h-0.8zM272.3 147h0.8v0.8h-0.8z" fill="#fff" fill-opacity="0.7"/>
<path d="M268.5 145.8 C268.8 145.4 269.9 145.3 270.6 145.3 C271.3 145.4 272.4 145.6 272.7 146 C273 146.4 272.9 147.3 272.5 147.6 C272.1 147.9 270.9 147.9 270.2 147.8 C269.5 147.8 268.8 147.7 268.5 147.4 C268.2 147 268.1 146.1 268.5 145.8Z" fill="#c6c8cd"/>
<path d="M270 147.4h0.9v0.9h-0.9zM273.5 145.3h0.9v0.9h-0.9zM268.8 147.1h0.9v0.9h-0.9zM270.4 145.2h0.9v0.9h-0.9zM271.2 142.7h0.9v0.9h-0.9zM267.5 147.6h0.9v0.9h-0.9zM271.9 147.5h0.9v0.9h-0.9zM268.1 147.2h0.9v0.9h-0.9zM268.8 144.8h0.9v0.9h-0.9z" fill="#c6c8cd"/>
<path d="M272 146.4h0.8v0.8h-0.8z" fill="#fff" fill-opacity="0.7"/>
<path d="M262.7 145.2 C262.9 145 263.5 144.7 264 144.4 C264.5 144.1 265.1 143.8 265.6 143.5 C266.2 143.2 266.8 142.8 267.1 142.8 C267.4 142.8 267.7 143.2 267.5 143.5 C267.3 143.8 266.6 144.1 266.1 144.4 C265.5 144.7 264.9 145.1 264.4 145.3 C263.9 145.5 263.3 145.8 263.1 145.8 C262.8 145.8 262.6 145.5 262.7 145.2Z" fill="#c6c8cd"/>
<path d="M263.3 143.5h0.9v0.9h-0.9zM263.7 145.2h0.9v0.9h-0.9zM265.2 143.3h0.9v0.9h-0.9zM266.2 142.2h0.9v0.9h-0.9zM265.6 142.5h0.9v0.9h-0.9zM263.4 144.4h0.9v0.9h-0.9zM263.3 145.1h0.9v0.9h-0.9zM262.8 144.9h0.9v0.9h-0.9zM262.6 144.8h0.9v0.9h-0.9zM265.5 142.2h0.9v0.9h-0.9zM267.1 143.4h0.9v0.9h-0.9z" fill="#c6c8cd"/>
<path d="M264.3 167.4h0.9v0.9h-0.9zM265.9 162.2h0.9v0.9h-0.9zM269.5 179h0.9v0.9h-0.9zM268.3 165.9h0.9v0.9h-0.9zM271.9 166.7h0.9v0.9h-0.9zM266.5 160.3h0.9v0.9h-0.9zM267.5 178.2h0.9v0.9h-0.9zM265.8 174h0.9v0.9h-0.9zM273.7 165.5h0.9v0.9h-0.9zM267.6 175.6h0.9v0.9h-0.9zM269.2 178.6h0.9v0.9h-0.9zM271.9 170.3h0.9v0.9h-0.9zM268.7 162.9h0.9v0.9h-0.9zM269.2 175.3h0.9v0.9h-0.9zM264.4 158.4h0.9v0.9h-0.9zM266.4 170.3h0.9v0.9h-0.9zM265.7 153.2h0.9v0.9h-0.9zM266 153.3h0.9v0.9h-0.9zM269.4 173.9h0.9v0.9h-0.9zM265.1 163h0.9v0.9h-0.9zM273.4 165.2h0.9v0.9h-0.9zM272.6 165.8h0.9v0.9h-0.9zM264.9 162.2h0.9v0.9h-0.9zM272.3 164h0.9v0.9h-0.9zM267.7 164.2h0.9v0.9h-0.9zM270.4 177h0.9v0.9h-0.9zM270.3 176.2h0.9v0.9h-0.9zM264.8 160.9h0.9v0.9h-0.9zM265.7 167.8h0.9v0.9h-0.9zM268.9 164.3h0.9v0.9h-0.9zM269.8 169.4h0.9v0.9h-0.9zM269.4 180.2h0.9v0.9h-0.9zM269.8 169.7h0.9v0.9h-0.9zM267.8 149.8h0.9v0.9h-0.9zM265.7 149.3h0.9v0.9h-0.9zM272.4 166.1h0.9v0.9h-0.9zM267.2 179.5h0.9v0.9h-0.9zM266.8 173.8h0.9v0.9h-0.9zM265.5 153.1h0.9v0.9h-0.9zM266.3 157.2h0.9v0.9h-0.9zM267.1 175.3h0.9v0.9h-0.9zM273.9 168.5h0.9v0.9h-0.9zM272.4 165.8h0.9v0.9h-0.9zM263.8 163.5h0.9v0.9h-0.9zM265.7 166.6h0.9v0.9h-0.9zM266 152.9h0.9v0.9h-0.9zM265.5 169.8h0.9v0.9h-0.9zM267.6 150.6h0.9v0.9h-0.9zM265.9 171.2h0.9v0.9h-0.9zM267 165.9h0.9v0.9h-0.9zM268.5 173.9h0.9v0.9h-0.9zM266 170h0.9v0.9h-0.9zM273.2 168.2h0.9v0.9h-0.9zM272 169.8h0.9v0.9h-0.9zM266 173.9h0.9v0.9h-0.9zM264.9 155.9h0.9v0.9h-0.9zM265.4 152.9h0.9v0.9h-0.9zM265.3 167.3h0.9v0.9h-0.9zM264.7 161.4h0.9v0.9h-0.9zM268.3 170.7h0.9v0.9h-0.9zM268.1 176.6h0.9v0.9h-0.9zM266.3 160h0.9v0.9h-0.9zM270 175.4h0.9v0.9h-0.9zM263.8 159.3h0.9v0.9h-0.9zM266 155.4h0.9v0.9h-0.9zM272.6 166h0.9v0.9h-0.9zM266.4 155.5h0.9v0.9h-0.9zM269.3 167.1h0.9v0.9h-0.9zM271.6 165.3h0.9v0.9h-0.9zM267.3 167.3h0.9v0.9h-0.9zM272.3 171h0.9v0.9h-0.9zM267.1 153.3h0.9v0.9h-0.9zM265.6 154.7h0.9v0.9h-0.9zM269.6 172.8h0.9v0.9h-0.9zM267.1 171.4h0.9v0.9h-0.9zM273.8 168.9h0.9v0.9h-0.9zM264.4 164.9h0.9v0.9h-0.9zM266.7 175.6h0.9v0.9h-0.9zM268.6 177.9h0.9v0.9h-0.9zM269.3 163.1h0.9v0.9h-0.9zM271 170.7h0.9v0.9h-0.9zM268.3 170.6h0.9v0.9h-0.9zM266 154.5h0.9v0.9h-0.9zM267.9 172h0.9v0.9h-0.9zM267.6 162.5h0.9v0.9h-0.9zM267.2 176.7h0.9v0.9h-0.9zM267.8 172h0.9v0.9h-0.9zM269.9 173.2h0.9v0.9h-0.9zM268.6 169.2h0.9v0.9h-0.9zM266.6 169.7h0.9v0.9h-0.9zM266 156.6h0.9v0.9h-0.9zM265.9 168.6h0.9v0.9h-0.9zM267.2 168.2h0.9v0.9h-0.9zM273 169h0.9v0.9h-0.9zM269.4 178.1h0.9v0.9h-0.9zM264.7 158.9h0.9v0.9h-0.9zM264.4 157.2h0.9v0.9h-0.9zM268.5 162h0.9v0.9h-0.9zM267.3 171.8h0.9v0.9h-0.9zM273.6 166.4h0.9v0.9h-0.9zM268.5 173.8h0.9v0.9h-0.9zM270.1 167.6h0.9v0.9h-0.9zM266.3 165.7h0.9v0.9h-0.9zM269.9 167.2h0.9v0.9h-0.9zM269.7 170.4h0.9v0.9h-0.9zM265.2 171.1h0.9v0.9h-0.9zM271.3 164.7h0.9v0.9h-0.9zM265.7 174.1h0.9v0.9h-0.9zM269.1 179.2h0.9v0.9h-0.9zM269.2 168.1h0.9v0.9h-0.9zM264 165.7h0.9v0.9h-0.9zM268 163.6h0.9v0.9h-0.9zM271.2 162.9h0.9v0.9h-0.9z" fill="#c6c8cd"/>
<path d="M227.9 156.4h1v1h-1zM229 156.8h1v1h-1zM229.8 155.8h1v1h-1zM230.8 155h1v1h-1zM231.4 155.3h1v1h-1zM232.7 154.5h1v1h-1zM233.6 154.8h1v1h-1zM234.6 154.3h1v1h-1zM235.6 154.6h1v1h-1zM236.3 153.8h1v1h-1zM237 153.9h1v1h-1zM238.2 153.5h1v1h-1zM238.8 153.7h1v1h-1zM239.4 153.8h1v1h-1zM240.3 154.1h1v1h-1zM241 154h1v1h-1zM241.7 153.7h1v1h-1zM242.6 153.6h1v1h-1z" fill="#b3b5bb"/>
<path d="M261.2 182.3h1v1h-1zM261.5 183.2h1v1h-1zM262.2 184.2h1v1h-1zM262.5 185.3h1v1h-1zM262.9 186.2h1v1h-1z" fill="#b3b5bb"/>
<path d="M269.5 126.1h0.9v0.9h-0.9zM268.6 130.2h0.9v0.9h-0.9zM270.4 127.8h0.9v0.9h-0.9zM270.8 128.3h0.9v0.9h-0.9zM271.8 125.6h0.9v0.9h-0.9zM269 124.8h0.9v0.9h-0.9zM270.1 129.1h0.9v0.9h-0.9z" fill="#c6c8cd"/>
<path d="M273.4 129.3h0.9v0.9h-0.9zM274.2 128.7h0.9v0.9h-0.9z" fill="#c6c8cd"/>
<path d="M260.3 143.4h0.9v0.9h-0.9zM260.5 143.5h0.9v0.9h-0.9z" fill="#c6c8cd"/>
<path d="M261 142.4h0.9v0.9h-0.9zM261 142.3h0.9v0.9h-0.9z" fill="#c6c8cd"/>
<path d="M261.7 141.3h0.9v0.9h-0.9zM261.4 141.7h0.9v0.9h-0.9z" fill="#c6c8cd"/>
<path d="M290.5 128.5h0.9v0.9h-0.9zM290.4 129h0.9v0.9h-0.9z" fill="#c6c8cd"/>
<path d="M267.4 164.5h0.9v0.9h-0.9zM267.7 164.6h0.9v0.9h-0.9zM267.9 165.3h0.9v0.9h-0.9zM265.2 165.7h0.9v0.9h-0.9zM267.2 165.6h0.9v0.9h-0.9zM265.3 164.7h0.9v0.9h-0.9zM267.8 165.5h0.9v0.9h-0.9zM269.2 166.1h0.9v0.9h-0.9zM267.4 164.2h0.9v0.9h-0.9z" fill="#c6c8cd"/>
<path d="M266.1 168.3h0.9v0.9h-0.9zM266.4 168h0.9v0.9h-0.9zM267.1 167.2h0.9v0.9h-0.9zM268 167.7h0.9v0.9h-0.9zM268.1 167.5h0.9v0.9h-0.9zM266 167.8h0.9v0.9h-0.9zM265.2 167.7h0.9v0.9h-0.9zM266.9 166h0.9v0.9h-0.9zM268.2 169.4h0.9v0.9h-0.9z" fill="#c6c8cd"/>
<path d="M270.8 167.6h0.9v0.9h-0.9zM271 169.1h0.9v0.9h-0.9zM272.8 168.5h0.9v0.9h-0.9zM270.7 169h0.9v0.9h-0.9zM270.6 168.1h0.9v0.9h-0.9z" fill="#c6c8cd"/>
<path d="M267.9 174.3h0.9v0.9h-0.9zM268.9 174.8h0.9v0.9h-0.9zM265.1 173.1h0.9v0.9h-0.9zM268.5 172.8h0.9v0.9h-0.9zM269.6 173.2h0.9v0.9h-0.9zM269.5 173.4h0.9v0.9h-0.9zM268.5 173.1h0.9v0.9h-0.9z" fill="#c6c8cd"/>
<path d="M267.2 177h0.9v0.9h-0.9zM268 177.9h0.9v0.9h-0.9zM266.8 177.8h0.9v0.9h-0.9z" fill="#c6c8cd"/>
<path d="M270.3 175.7h0.9v0.9h-0.9zM270.6 173h0.9v0.9h-0.9zM269.1 173.7h0.9v0.9h-0.9zM270.1 174.4h0.9v0.9h-0.9z" fill="#c6c8cd"/>
<path d="M256.6 189.1h0.9v0.9h-0.9zM255.7 186.7h0.9v0.9h-0.9zM256.1 186.8h0.9v0.9h-0.9zM255.7 187.6h0.9v0.9h-0.9zM256.1 187.6h0.9v0.9h-0.9zM255.4 188.9h0.9v0.9h-0.9z" fill="#c6c8cd"/>
<path d="M277.3 176.5h0.9v0.9h-0.9zM279.1 177h0.9v0.9h-0.9zM278.3 176.4h0.9v0.9h-0.9zM279.6 176.1h0.9v0.9h-0.9zM278.3 176.2h0.9v0.9h-0.9z" fill="#c6c8cd"/>
<path d="M265.6 171.4h0.9v0.9h-0.9zM265.3 171.4h0.9v0.9h-0.9z" fill="#c6c8cd"/>
<path d="M256.5 154.6h1v1h-1zM252.9 158.8h1v1h-1zM244.2 153.9h1v1h-1zM260.1 158.9h1v1h-1zM258.8 150.1h1v1h-1zM254.7 155h1v1h-1zM243.3 154.1h1v1h-1zM252.8 153.4h1v1h-1zM262 158.3h1v1h-1zM256.4 153.1h1v1h-1zM258.2 156.9h1v1h-1zM248.5 152.3h1v1h-1zM252.7 155.2h1v1h-1zM262.9 152.1h1v1h-1zM253.4 150.7h1v1h-1zM255.3 157.9h1v1h-1zM255 148.5h1v1h-1zM262.7 158.9h1v1h-1zM255.9 154.7h1v1h-1zM256.4 157.6h1v1h-1zM256 146.5h1v1h-1zM250.6 150.2h1v1h-1zM254.6 145.6h1v1h-1zM257.3 156.4h1v1h-1zM255.7 159.6h1v1h-1zM261.6 158.2h1v1h-1zM265.1 155h1v1h-1zM250 150.2h1v1h-1zM257.5 158.5h1v1h-1zM257.1 144.2h1v1h-1zM249 151.6h1v1h-1zM259.9 155.7h1v1h-1zM259 163.5h1v1h-1zM258.1 159.3h1v1h-1zM249.1 158.6h1v1h-1zM262.6 157.8h1v1h-1zM251.5 155.5h1v1h-1zM251.1 152.9h1v1h-1zM261.9 155.8h1v1h-1zM263.1 161.4h1v1h-1zM261 157.6h1v1h-1zM257.3 146.4h1v1h-1zM262.9 150.8h1v1h-1zM252.8 157.4h1v1h-1zM253.6 149.1h1v1h-1zM257.4 146h1v1h-1zM257.5 145.1h1v1h-1zM263.2 164.2h1v1h-1zM260 160.2h1v1h-1zM256.7 146.8h1v1h-1zM261.4 159.5h1v1h-1zM250.6 151h1v1h-1zM249.8 158.4h1v1h-1zM254 152.3h1v1h-1zM252.7 151.1h1v1h-1zM250.8 153.1h1v1h-1zM255.2 152.6h1v1h-1zM253.2 149.9h1v1h-1zM252.6 155.4h1v1h-1zM252.7 159.7h1v1h-1zM257.9 162.1h1v1h-1zM259.2 163.4h1v1h-1zM262.1 159.4h1v1h-1zM248.2 153.3h1v1h-1zM256.2 157.5h1v1h-1zM256.4 157.4h1v1h-1zM247.3 153h1v1h-1zM253.1 152.6h1v1h-1zM255.4 156.2h1v1h-1zM260.8 164.2h1v1h-1zM256.6 153.1h1v1h-1zM257.1 155.3h1v1h-1zM251.4 148.8h1v1h-1zM259.9 152.9h1v1h-1zM253 156.9h1v1h-1zM262.5 151.7h1v1h-1zM256.8 160.5h1v1h-1zM255.8 151.9h1v1h-1zM257 144.6h1v1h-1zM254.4 152.2h1v1h-1zM257.1 151.8h1v1h-1zM251.7 154.3h1v1h-1zM257.7 155.3h1v1h-1zM244.7 154h1v1h-1zM256.1 153.6h1v1h-1zM249.6 158.6h1v1h-1zM248.4 155.8h1v1h-1zM250.7 148.4h1v1h-1zM261.8 157.9h1v1h-1zM256.1 152.5h1v1h-1zM255.4 160.2h1v1h-1zM255.3 158.6h1v1h-1zM264 158.2h1v1h-1zM261.6 155.6h1v1h-1zM251.7 155.5h1v1h-1zM257.1 153.6h1v1h-1zM250.8 156h1v1h-1zM256.5 157.9h1v1h-1zM258.6 163.9h1v1h-1zM260.8 161.7h1v1h-1zM258.3 162.7h1v1h-1zM256.9 160.1h1v1h-1zM249.3 157h1v1h-1zM248.4 157.8h1v1h-1zM258.9 163.9h1v1h-1zM253.5 148.2h1v1h-1zM261.8 160.1h1v1h-1zM252.3 150.9h1v1h-1zM258.7 151.1h1v1h-1zM256.3 160.9h1v1h-1zM251.7 151.1h1v1h-1zM250 160.9h1v1h-1zM256.5 147.6h1v1h-1zM251.6 161.9h1v1h-1zM245.8 154.4h1v1h-1zM253.6 154.4h1v1h-1zM255.2 146.2h1v1h-1zM245.3 154.8h1v1h-1zM259.5 154.8h1v1h-1zM261.7 161.2h1v1h-1z" fill="#ec6048"/>
<path d="M256 165.1h1v1h-1zM254.5 169.2h1v1h-1zM259.5 171.6h1v1h-1zM255.5 173.3h1v1h-1zM253.8 180h1v1h-1zM256.2 167h1v1h-1zM251.5 178.8h1v1h-1zM256.5 164.1h1v1h-1zM256 184.1h1v1h-1zM262.5 164.3h1v1h-1zM254.9 180.4h1v1h-1zM254.9 166.4h1v1h-1zM257.5 173.9h1v1h-1zM256.3 165h1v1h-1zM259.1 172.8h1v1h-1zM255.7 177.5h1v1h-1zM251.1 170h1v1h-1zM257.4 176.4h1v1h-1zM257.9 178.8h1v1h-1zM250.5 169.6h1v1h-1zM258.7 164h1v1h-1zM260.6 175.5h1v1h-1zM254.9 172.9h1v1h-1zM260.7 169.8h1v1h-1zM255.7 177.7h1v1h-1zM254.3 174.2h1v1h-1zM255.4 167.3h1v1h-1zM261.2 164.2h1v1h-1zM259.3 176.4h1v1h-1zM259.2 163.8h1v1h-1zM251.6 174.9h1v1h-1zM253.5 168.9h1v1h-1zM252.4 167.8h1v1h-1zM253.4 170.7h1v1h-1zM259 164.9h1v1h-1zM257.9 177.3h1v1h-1zM258.4 176.3h1v1h-1zM250.5 175h1v1h-1zM254.1 175h1v1h-1zM258.8 173.9h1v1h-1zM257.6 175.6h1v1h-1zM258.2 176h1v1h-1zM251.5 165.3h1v1h-1zM258.1 170.8h1v1h-1zM254.1 169.4h1v1h-1zM253.3 172.7h1v1h-1zM251.6 170.3h1v1h-1zM254.8 166.2h1v1h-1zM259 180h1v1h-1zM253.8 182h1v1h-1zM260.1 169.6h1v1h-1zM252.6 173.2h1v1h-1zM256.5 175.6h1v1h-1zM255.9 168.3h1v1h-1zM261.7 176h1v1h-1zM250.5 176.6h1v1h-1zM258.7 164.4h1v1h-1zM259.2 173.8h1v1h-1zM257.2 174.3h1v1h-1zM250.6 169.1h1v1h-1zM258.7 182.6h1v1h-1zM260.6 177.3h1v1h-1zM254.8 173.8h1v1h-1zM252.5 181.1h1v1h-1zM254.2 181.9h1v1h-1zM253 165.3h1v1h-1zM252 176.9h1v1h-1zM254.6 182.5h1v1h-1zM251.2 164.6h1v1h-1zM258.9 173.7h1v1h-1zM253 175.8h1v1h-1zM256.2 178.8h1v1h-1zM255.4 171.6h1v1h-1zM257.4 175.5h1v1h-1zM254.4 171.9h1v1h-1zM259.7 172.4h1v1h-1zM256.3 166.1h1v1h-1zM253.4 179.3h1v1h-1zM261.5 175.5h1v1h-1zM254.4 176.9h1v1h-1zM250.7 165h1v1h-1zM255.6 164.3h1v1h-1zM257 171.8h1v1h-1zM256.7 183.4h1v1h-1zM253.3 172h1v1h-1zM257.9 182.9h1v1h-1zM257.9 180.2h1v1h-1zM254.5 169h1v1h-1zM261 177.6h1v1h-1zM251.8 179.5h1v1h-1zM258.8 182.8h1v1h-1zM255.2 169.1h1v1h-1zM261.9 164.1h1v1h-1zM256.5 170.2h1v1h-1zM251.5 168.2h1v1h-1zM259.1 171.9h1v1h-1zM250.5 177.3h1v1h-1zM251.6 164.7h1v1h-1zM254 176.1h1v1h-1zM254.6 171.4h1v1h-1zM251.3 163.9h1v1h-1zM260.2 169.5h1v1h-1zM262 165.2h1v1h-1zM260.8 174.9h1v1h-1zM260.4 168.6h1v1h-1zM259.9 164.3h1v1h-1zM257.8 163.6h1v1h-1zM251.7 173.8h1v1h-1zM259.5 164.7h1v1h-1zM262 167.9h1v1h-1zM258.3 174.9h1v1h-1zM254.6 172.6h1v1h-1zM259.8 168.4h1v1h-1zM253.8 175.1h1v1h-1zM261.1 175.1h1v1h-1zM250.9 176.5h1v1h-1zM252.2 180.9h1v1h-1zM252.1 175.5h1v1h-1zM253.8 178h1v1h-1zM254.6 174.9h1v1h-1zM258.4 169.1h1v1h-1zM256.5 174.8h1v1h-1zM252 179h1v1h-1zM252.4 177.9h1v1h-1zM261.8 176.4h1v1h-1zM261.3 176.4h1v1h-1zM255.3 174.1h1v1h-1zM260.5 181h1v1h-1zM256.8 176.5h1v1h-1zM253.9 167.4h1v1h-1zM256.9 166.6h1v1h-1zM254 165.3h1v1h-1zM257.8 167.9h1v1h-1zM251.8 164.2h1v1h-1zM254.7 183.9h1v1h-1zM255.9 174.7h1v1h-1zM255.8 168.2h1v1h-1zM261.1 179.4h1v1h-1zM255.1 176.2h1v1h-1zM260.9 177.6h1v1h-1zM251.8 163.8h1v1h-1zM250.7 170h1v1h-1zM252.4 176.2h1v1h-1zM257.9 180.6h1v1h-1zM259.6 178.6h1v1h-1zM253.7 168.8h1v1h-1zM251.9 169.6h1v1h-1zM254.3 172.8h1v1h-1zM252.4 178.2h1v1h-1zM260.4 175.6h1v1h-1zM255.6 168.2h1v1h-1zM260.2 167.1h1v1h-1zM252.8 170.8h1v1h-1z" fill="#e4452f"/>
<path d="M259.8 179.2h1v1h-1zM252.9 173.5h1v1h-1zM256.7 182.8h1v1h-1zM253.1 173.4h1v1h-1zM257.5 179.2h1v1h-1zM259.5 178.6h1v1h-1zM253.6 183.2h1v1h-1zM258.4 176.4h1v1h-1zM252.9 179.6h1v1h-1zM255.1 176.9h1v1h-1zM256.4 182.9h1v1h-1zM257.2 174.6h1v1h-1zM260 177.3h1v1h-1zM251.7 174.3h1v1h-1zM260.9 177.6h1v1h-1zM259.6 173.3h1v1h-1zM254.2 180.3h1v1h-1zM256.4 178.6h1v1h-1zM258.7 173.6h1v1h-1zM254.8 178.7h1v1h-1zM256.1 174h1v1h-1zM260.5 175.7h1v1h-1zM259.8 179.8h1v1h-1zM255.6 176.1h1v1h-1zM260.5 178.6h1v1h-1zM254.2 182.2h1v1h-1zM254.9 178.1h1v1h-1zM253.5 181.4h1v1h-1zM257.1 175.3h1v1h-1zM256.3 183.4h1v1h-1zM254 179.5h1v1h-1zM251.7 178.1h1v1h-1zM259.7 174.7h1v1h-1zM251.5 179.1h1v1h-1zM258.5 173.8h1v1h-1zM254.8 176.9h1v1h-1zM252.8 177h1v1h-1zM256 175.2h1v1h-1zM258.7 178.8h1v1h-1zM258.7 179.9h1v1h-1z" fill="#e03a2a"/>
<path d="M272.5 194.8h1v1h-1zM273.2 194.2h1v1h-1zM273.6 194.5h1v1h-1zM263 187.9h1v1h-1zM263.2 190.2h1v1h-1zM273.4 194.1h1v1h-1zM267.2 190.4h1v1h-1zM266.5 194.4h1v1h-1zM269.2 193.9h1v1h-1zM265.5 191.5h1v1h-1zM267.5 191.1h1v1h-1zM269.8 195.9h1v1h-1zM269.8 191.3h1v1h-1zM266.2 189.3h1v1h-1zM269.9 192.6h1v1h-1zM266.8 193.3h1v1h-1zM268.6 192.2h1v1h-1zM267.5 193.3h1v1h-1zM268 190.2h1v1h-1zM265.3 192.6h1v1h-1zM265.1 192.7h1v1h-1zM270.1 191h1v1h-1zM271.1 193.5h1v1h-1zM270.5 191.4h1v1h-1zM264.1 187.9h1v1h-1zM268.2 191.8h1v1h-1zM270.6 191.4h1v1h-1zM266.6 191h1v1h-1z" fill="#d84030"/>
<path d="M264.5 190.3h1.1v1.1h-1.1zM267.8 192.2h1.1v1.1h-1.1zM273.2 195.6h1.1v1.1h-1.1zM271.6 194.2h1.1v1.1h-1.1zM265.5 192.1h1.1v1.1h-1.1zM270.3 193.8h1.1v1.1h-1.1zM273.1 194h1.1v1.1h-1.1zM268.8 193.8h1.1v1.1h-1.1zM265.1 191.8h1.1v1.1h-1.1zM268.6 194.7h1.1v1.1h-1.1zM264.1 191h1.1v1.1h-1.1zM269.5 192.9h1.1v1.1h-1.1zM268 194.8h1.1v1.1h-1.1zM272.4 194.8h1.1v1.1h-1.1zM269.6 193.4h1.1v1.1h-1.1zM263.8 187.2h1.1v1.1h-1.1zM265.9 190.6h1.1v1.1h-1.1zM267.8 194.1h1.1v1.1h-1.1zM267.2 192.9h1.1v1.1h-1.1zM271 195.4h1.1v1.1h-1.1zM267.9 194.3h1.1v1.1h-1.1zM266 193.4h1.1v1.1h-1.1zM264.3 191.3h1.1v1.1h-1.1zM266.8 192.5h1.1v1.1h-1.1zM271.8 196.1h1.1v1.1h-1.1zM264.8 189.1h1.1v1.1h-1.1zM264.3 188.2h1.1v1.1h-1.1zM264.9 189.7h1.1v1.1h-1.1zM263.2 190.4h1.1v1.1h-1.1zM270.7 194.5h1.1v1.1h-1.1zM267.8 192.5h1.1v1.1h-1.1zM267.8 193.1h1.1v1.1h-1.1zM268.2 194.3h1.1v1.1h-1.1zM270.7 194.7h1.1v1.1h-1.1zM269.4 193.6h1.1v1.1h-1.1zM266.6 193.7h1.1v1.1h-1.1zM268.3 194.9h1.1v1.1h-1.1zM272.7 194.1h1.1v1.1h-1.1zM265.9 192.2h1.1v1.1h-1.1zM270.4 195.9h1.1v1.1h-1.1zM265 190.6h1.1v1.1h-1.1zM271 196.3h1.1v1.1h-1.1zM267.3 193.4h1.1v1.1h-1.1zM268.4 195.3h1.1v1.1h-1.1zM266.6 191.3h1.1v1.1h-1.1zM271.3 193.5h1.1v1.1h-1.1zM273.6 194.4h1.1v1.1h-1.1zM269.8 193.5h1.1v1.1h-1.1zM271.8 195.3h1.1v1.1h-1.1zM273.2 194.8h1.1v1.1h-1.1zM266.6 192.7h1.1v1.1h-1.1zM266.9 192h1.1v1.1h-1.1zM267.6 192.7h1.1v1.1h-1.1zM266.3 193.3h1.1v1.1h-1.1zM263.5 189.3h1.1v1.1h-1.1zM265.5 190.6h1.1v1.1h-1.1zM265.2 190.7h1.1v1.1h-1.1z" fill="#cc2a22"/>
<path d="M267.4 194.4h1v1h-1zM268.1 192.1h1v1h-1zM265.6 189.4h1v1h-1zM263.2 187.5h1v1h-1zM270.6 193.2h1v1h-1zM271.8 193.2h1v1h-1zM266.1 190h1v1h-1zM274.5 195.8h1v1h-1zM263.4 190.9h1v1h-1zM265.5 189.4h1v1h-1zM263.5 193.3h1v1h-1zM267.9 192.3h1v1h-1zM272.4 193.8h1v1h-1zM262.9 187.4h1v1h-1zM263.9 192.6h1v1h-1zM275.2 194.6h1v1h-1z" fill="#cc2a22"/>
<path d="M255.5 188.7h1v1h-1zM255.1 187.4h1v1h-1zM256.2 187.7h1v1h-1zM255 187.3h1v1h-1z" fill="#e05040"/>
<path d="M261.2 182.9h1v1h-1zM261.8 183.7h1v1h-1zM261.7 184.7h1v1h-1zM262.5 184.6h1v1h-1zM262.7 186.2h1v1h-1z" fill="#e05040"/>
<path d="M275.1 161.6h1v1h-1zM273.6 151.9h1v1h-1zM281.7 162.5h1v1h-1zM277.4 160.8h1v1h-1zM273.5 156.7h1v1h-1zM280.8 157.4h1v1h-1zM271.5 151.2h1v1h-1zM278.3 160.7h1v1h-1zM282.4 157.9h1v1h-1zM276.5 155h1v1h-1zM278 165.4h1v1h-1zM278.9 163.7h1v1h-1zM268.5 158.4h1v1h-1zM279.1 159.6h1v1h-1z" fill="#f4a08a"/>
<path d="M289.7 147.6h1v1h-1zM288.9 143.1h1v1h-1zM284.8 157.3h1v1h-1zM296.6 144.9h1v1h-1zM282.4 155h1v1h-1zM286.6 146.8h1v1h-1zM294.1 146h1v1h-1zM281.7 143h1v1h-1zM282.1 141.6h1v1h-1zM287.6 146.9h1v1h-1zM291.8 145.1h1v1h-1zM281.4 152.7h1v1h-1zM296.6 144.1h1v1h-1zM293.9 149h1v1h-1z" fill="#f4a08a"/>
<path d="M281.5 135.4h1v1h-1zM282.4 134.4h1v1h-1zM275.6 140.2h1v1h-1zM284.6 125.3h1v1h-1zM277.3 138.3h1v1h-1zM280 139.5h1v1h-1zM281.8 135h1v1h-1zM273.9 136.3h1v1h-1zM282.2 128.7h1v1h-1zM274 135.5h1v1h-1zM280.5 132.4h1v1h-1zM274.8 138.2h1v1h-1zM283.1 129.2h1v1h-1zM272.6 136.8h1v1h-1zM283.1 130.2h1v1h-1z" fill="#e04a35"/>
<path d="M285.3 128.3h1v1h-1zM285.1 128.3h1v1h-1zM282.2 128.5h1v1h-1zM284.7 130.1h1v1h-1zM278.7 131.4h1v1h-1zM283 128.2h1v1h-1zM282.7 130.6h1v1h-1zM279.5 128.2h1v1h-1zM283.9 131.8h1v1h-1zM283 131.1h1v1h-1zM282.8 131.2h1v1h-1zM281.2 132.3h1v1h-1zM281.9 129.1h1v1h-1zM284 127.8h1v1h-1zM281.4 127.1h1v1h-1zM280.5 130.1h1v1h-1zM279.2 128.9h1v1h-1zM282.6 128.1h1v1h-1zM283.8 129.6h1v1h-1zM283.3 126.5h1v1h-1zM282.6 126.5h1v1h-1zM279.8 132.3h1v1h-1zM280.2 128.3h1v1h-1zM282.8 131.4h1v1h-1zM283.3 127.3h1v1h-1zM282.7 127.1h1v1h-1zM282.4 125.5h1v1h-1zM281.8 131.2h1v1h-1zM285 128.1h1v1h-1zM283.3 124.8h1v1h-1zM284.5 123.9h1v1h-1zM284.7 128.3h1v1h-1zM281.6 131.6h1v1h-1zM280.2 127.7h1v1h-1z" fill="#dc3a2c"/>
<path d="M268.6 137.5h1v1h-1zM267.1 135.1h1v1h-1zM269 136.7h1v1h-1zM259.4 126.3h1v1h-1z" fill="#f4a08a"/>
<path d="M264.6 167.5h1v1h-1zM270.1 177.4h1v1h-1zM264.2 168.1h1v1h-1zM271.2 164.7h1v1h-1zM265.9 149.7h1v1h-1zM268.3 148.8h1v1h-1zM265.5 170.8h1v1h-1zM270.5 164.5h1v1h-1zM267 163.9h1v1h-1zM268.3 172.8h1v1h-1zM265.1 163.6h1v1h-1zM268.5 179.1h1v1h-1zM263.9 164h1v1h-1zM264.5 154.9h1v1h-1zM265.9 165.9h1v1h-1zM269.1 177.2h1v1h-1zM266.1 168.7h1v1h-1zM271 166.9h1v1h-1zM265.4 151.6h1v1h-1zM265.2 163.4h1v1h-1zM269.9 167.6h1v1h-1zM273.6 164.5h1v1h-1zM267.3 162.5h1v1h-1zM270 162.3h1v1h-1zM269.3 165h1v1h-1zM270.5 175.2h1v1h-1z" fill="#ec6048"/>
</g>
<g>
<path d="M352 128.4 C352.2 128 352.3 127.4 352.9 127 C353.5 126.7 354.7 126.5 355.4 126.5 C356.2 126.5 356.8 126.6 357.3 127 C357.8 127.4 357.8 128.1 358.2 128.8 C358.7 129.5 359.4 130.8 359.9 131.5 C360.5 132.1 361.1 132.3 361.6 133 C362.1 133.6 362.7 134.6 363 135.4 C363.3 136.1 363.3 137 363.2 137.5 C363.1 137.9 363 138.2 362.6 138.2 C362.1 138.2 361.4 137.8 360.6 137.5 C359.9 137.3 359.1 137 358.3 136.6 C357.4 136.3 356.3 135.9 355.6 135.6 C354.8 135.2 354.2 135 353.6 134.4 C353 133.9 352.3 133 352 132.3 C351.6 131.5 351.3 130.5 351.3 129.8 C351.3 129.2 351.7 128.9 352 128.4Z" fill="#c6c8cd"/>
<path d="M352.4 133.4h0.9v0.9h-0.9zM353.5 126.7h0.9v0.9h-0.9zM356.3 126.5h0.9v0.9h-0.9zM355.8 125.6h0.9v0.9h-0.9zM359.9 137.5h0.9v0.9h-0.9zM351.8 133.5h0.9v0.9h-0.9zM351.5 126.8h0.9v0.9h-0.9zM362.9 135.7h0.9v0.9h-0.9zM351 131.5h0.9v0.9h-0.9zM353.3 126.8h0.9v0.9h-0.9zM350 128.8h0.9v0.9h-0.9zM351 125.1h0.9v0.9h-0.9zM359.7 136.3h0.9v0.9h-0.9zM359.5 136.4h0.9v0.9h-0.9zM354 134.9h0.9v0.9h-0.9zM361.6 137.1h0.9v0.9h-0.9zM364.6 138h0.9v0.9h-0.9zM358.7 136.7h0.9v0.9h-0.9zM352.1 127.3h0.9v0.9h-0.9zM362.6 136.5h0.9v0.9h-0.9zM353.3 133.9h0.9v0.9h-0.9zM351.1 132.7h0.9v0.9h-0.9zM362.6 135.9h0.9v0.9h-0.9zM361.5 133.4h0.9v0.9h-0.9zM357.8 128.5h0.9v0.9h-0.9zM364.5 136.1h0.9v0.9h-0.9zM353.9 126.5h0.9v0.9h-0.9zM354.1 135.9h0.9v0.9h-0.9z" fill="#c6c8cd"/>
<path d="M360.7 132.1h0.8v0.8h-0.8zM353.9 133h0.8v0.8h-0.8zM352.5 131.4h0.8v0.8h-0.8zM354.4 129.1h0.8v0.8h-0.8zM357.5 134.5h0.8v0.8h-0.8zM358.4 135.6h0.8v0.8h-0.8zM353 128.6h0.8v0.8h-0.8zM354.7 132.1h0.8v0.8h-0.8zM355.6 131.5h0.8v0.8h-0.8zM355.8 132.7h0.8v0.8h-0.8z" fill="#fff" fill-opacity="0.7"/>
<path d="M378.8 124.1 C379.1 124.1 379.3 124.6 379.4 125.4 C379.6 126.2 379.6 127.9 379.6 129 C379.5 130.1 379.3 130.9 379.2 132 C379.1 133.1 379.1 134.8 378.9 135.7 C378.7 136.6 378.4 136.8 377.9 137.4 C377.5 138.1 376.8 138.7 376.2 139.4 C375.7 140.1 375.3 141 374.5 141.7 C373.7 142.3 372.4 142.7 371.6 143.2 C370.8 143.8 370.2 144.6 369.5 145.1 C368.8 145.6 368.1 146.2 367.6 146.4 C367 146.6 366.6 146.8 366.2 146.2 C365.7 145.7 365.3 144.2 365 143 C364.8 141.7 364.5 140 364.6 138.8 C364.7 137.6 365.1 136.9 365.5 135.9 C366 134.9 366.4 133.5 367.1 133 C367.8 132.5 368.9 133.2 369.8 132.7 C370.7 132.2 371.8 130.8 372.6 130 C373.4 129.3 374.1 128.6 374.6 128.2 C375.2 127.7 375.5 127.9 376 127.4 C376.4 126.9 376.9 125.7 377.4 125.2 C377.8 124.6 378.4 124.1 378.8 124.1Z" fill="#c6c8cd"/>
<path d="M376.9 140.8h0.9v0.9h-0.9zM364.7 142h0.9v0.9h-0.9zM370.3 143.6h0.9v0.9h-0.9zM370.4 143.4h0.9v0.9h-0.9zM379 123.2h0.9v0.9h-0.9zM379.2 127.7h0.9v0.9h-0.9zM376.6 125.3h0.9v0.9h-0.9zM377.3 138.8h0.9v0.9h-0.9zM368.5 145.2h0.9v0.9h-0.9zM377.5 137.3h0.9v0.9h-0.9zM378.4 131.3h0.9v0.9h-0.9zM370 143.5h0.9v0.9h-0.9zM371.6 142.9h0.9v0.9h-0.9zM376 142h0.9v0.9h-0.9zM364.8 144.7h0.9v0.9h-0.9zM379.2 124.8h0.9v0.9h-0.9zM368.4 145h0.9v0.9h-0.9zM378.1 133.5h0.9v0.9h-0.9zM376.9 123.8h0.9v0.9h-0.9zM369.4 132h0.9v0.9h-0.9zM378.6 134.9h0.9v0.9h-0.9zM365.9 133.7h0.9v0.9h-0.9zM364.6 138.9h0.9v0.9h-0.9zM372.7 142.1h0.9v0.9h-0.9zM373.1 129h0.9v0.9h-0.9zM378.8 133.2h0.9v0.9h-0.9zM365 135.7h0.9v0.9h-0.9zM378.9 128.6h0.9v0.9h-0.9zM375.5 139.1h0.9v0.9h-0.9zM363.5 137.2h0.9v0.9h-0.9zM378.3 134.3h0.9v0.9h-0.9zM364.5 135.9h0.9v0.9h-0.9zM376 140.5h0.9v0.9h-0.9zM364.1 143.2h0.9v0.9h-0.9zM366.8 146h0.9v0.9h-0.9zM363.7 143.4h0.9v0.9h-0.9zM363.8 138h0.9v0.9h-0.9zM366.7 146h0.9v0.9h-0.9zM379.2 131.2h0.9v0.9h-0.9zM377.1 124.9h0.9v0.9h-0.9zM378 136.2h0.9v0.9h-0.9zM365 143.7h0.9v0.9h-0.9zM370.4 129.5h0.9v0.9h-0.9zM364.7 143.1h0.9v0.9h-0.9z" fill="#c6c8cd"/>
<path d="M376.3 137.3h0.8v0.8h-0.8zM374.3 135.9h0.8v0.8h-0.8zM377.3 129.6h0.8v0.8h-0.8zM365.3 143.3h0.8v0.8h-0.8zM372.4 131h0.8v0.8h-0.8zM370.6 132.4h0.8v0.8h-0.8zM366.3 143.8h0.8v0.8h-0.8zM377.2 124.6h0.8v0.8h-0.8zM368 135.1h0.8v0.8h-0.8zM370.6 141.4h0.8v0.8h-0.8zM371.6 130.7h0.8v0.8h-0.8zM373.1 139.5h0.8v0.8h-0.8zM378.1 127.8h0.8v0.8h-0.8zM367.7 143.9h0.8v0.8h-0.8zM376.9 135.9h0.8v0.8h-0.8zM376.4 129.1h0.8v0.8h-0.8zM374.3 132.2h0.8v0.8h-0.8zM373.5 141.5h0.8v0.8h-0.8zM365.6 138h0.8v0.8h-0.8zM375.6 135.3h0.8v0.8h-0.8zM367.7 135.8h0.8v0.8h-0.8zM375.7 132.5h0.8v0.8h-0.8zM372.6 130.7h0.8v0.8h-0.8zM376.1 136.5h0.8v0.8h-0.8z" fill="#fff" fill-opacity="0.7"/>
<path d="M376.1 141.5 C376.5 141.4 377.1 141.3 377.9 141.5 C378.7 141.8 379.7 142.6 380.8 142.8 C381.8 142.9 383.2 142.6 384.3 142.5 C385.5 142.4 386.8 142.1 387.7 142.2 C388.6 142.3 389.3 142.6 389.8 143 C390.3 143.5 390.7 144.2 390.8 144.8 C390.9 145.3 390.7 145.7 390.3 146.5 C389.9 147.3 389.1 148.5 388.6 149.6 C388 150.8 387.5 152.4 386.9 153.4 C386.3 154.3 385.4 154.6 384.7 155.2 C383.9 155.7 383.2 156 382.4 156.4 C381.7 156.8 380.8 157.2 380.1 157.7 C379.4 158.1 378.8 159.2 378.1 158.9 C377.3 158.6 376.4 156.8 375.5 155.8 C374.7 154.9 373.8 154.3 373.1 153.1 C372.4 152 371.5 150.3 371.3 149.1 C371 148 371 146.9 371.4 146.1 C371.8 145.3 373 144.9 373.6 144.3 C374.3 143.7 374.9 142.9 375.3 142.4 C375.7 142 375.7 141.7 376.1 141.5Z" fill="#c6c8cd"/>
<path d="M369.9 151.6h0.9v0.9h-0.9zM391.4 142h0.9v0.9h-0.9zM388.6 148.3h0.9v0.9h-0.9zM386.1 154h0.9v0.9h-0.9zM376.5 159.7h0.9v0.9h-0.9zM390.8 144.2h0.9v0.9h-0.9zM377.4 140.6h0.9v0.9h-0.9zM375 142.1h0.9v0.9h-0.9zM369.6 146.5h0.9v0.9h-0.9zM389.6 147.3h0.9v0.9h-0.9zM389.3 149.1h0.9v0.9h-0.9zM387.2 154.7h0.9v0.9h-0.9zM379.9 142h0.9v0.9h-0.9zM383.6 155.6h0.9v0.9h-0.9zM388 142.4h0.9v0.9h-0.9zM381.2 156.9h0.9v0.9h-0.9zM369.3 148.5h0.9v0.9h-0.9zM379.6 141.8h0.9v0.9h-0.9zM383.3 155.1h0.9v0.9h-0.9zM384.9 142.1h0.9v0.9h-0.9zM374.5 155.5h0.9v0.9h-0.9zM386.1 152.8h0.9v0.9h-0.9zM371.2 144.5h0.9v0.9h-0.9zM372.5 153.8h0.9v0.9h-0.9zM369.9 146h0.9v0.9h-0.9zM380 141.2h0.9v0.9h-0.9zM378.5 140.3h0.9v0.9h-0.9zM372.4 152.7h0.9v0.9h-0.9zM381.8 142.6h0.9v0.9h-0.9zM373.5 153.6h0.9v0.9h-0.9zM376.7 156.4h0.9v0.9h-0.9zM378.3 158.3h0.9v0.9h-0.9zM379.8 141.9h0.9v0.9h-0.9zM389.1 148.2h0.9v0.9h-0.9zM372.9 143.8h0.9v0.9h-0.9zM385.4 142.1h0.9v0.9h-0.9zM389.1 143.1h0.9v0.9h-0.9zM374.7 155.3h0.9v0.9h-0.9zM388.5 147.6h0.9v0.9h-0.9zM379.9 156.8h0.9v0.9h-0.9zM383.3 155.9h0.9v0.9h-0.9zM386.1 141.4h0.9v0.9h-0.9zM371.6 153.4h0.9v0.9h-0.9zM378 157.9h0.9v0.9h-0.9zM383.9 142.3h0.9v0.9h-0.9zM388.6 148.7h0.9v0.9h-0.9z" fill="#c6c8cd"/>
<path d="M377.9 146.7h0.8v0.8h-0.8zM372.7 145.3h0.8v0.8h-0.8zM382.9 145.7h0.8v0.8h-0.8zM384.6 146.9h0.8v0.8h-0.8zM387.1 150.8h0.8v0.8h-0.8zM386 150.8h0.8v0.8h-0.8zM373.9 145.2h0.8v0.8h-0.8zM378.1 151h0.8v0.8h-0.8zM378.6 155.5h0.8v0.8h-0.8zM376.9 151.3h0.8v0.8h-0.8zM384.3 153.4h0.8v0.8h-0.8zM385.1 153.4h0.8v0.8h-0.8zM375.8 156h0.8v0.8h-0.8zM376.3 148h0.8v0.8h-0.8zM377.5 155.8h0.8v0.8h-0.8zM381.1 152.2h0.8v0.8h-0.8zM387.8 147.6h0.8v0.8h-0.8zM381.1 149.7h0.8v0.8h-0.8zM377 150h0.8v0.8h-0.8zM382.4 142.6h0.8v0.8h-0.8zM382.1 147.3h0.8v0.8h-0.8zM374.8 152.8h0.8v0.8h-0.8zM387.2 144.2h0.8v0.8h-0.8zM378.9 145.1h0.8v0.8h-0.8zM380.8 148.8h0.8v0.8h-0.8zM387.6 146.7h0.8v0.8h-0.8zM380.8 147.6h0.8v0.8h-0.8zM384.5 144.1h0.8v0.8h-0.8zM385.1 143h0.8v0.8h-0.8zM376.6 147h0.8v0.8h-0.8zM380.4 148.9h0.8v0.8h-0.8z" fill="#fff" fill-opacity="0.7"/>
<path d="M362.2 154.8 C362.5 153.8 363.2 153.3 363.8 152.7 C364.4 152.1 365 151.7 365.8 151.3 C366.5 150.9 367.4 150.6 368.1 150.2 C368.8 149.8 369.5 149.4 370.1 149.1 C370.7 148.8 371.1 148 371.5 148.3 C371.9 148.7 372 150.1 372.7 151.2 C373.3 152.3 374.6 153.7 375.4 154.8 C376.2 156 376.6 156.9 377.4 157.8 C378.2 158.7 379.7 159.6 380 160.3 C380.3 160.9 380 161.5 379.4 161.8 C378.9 162.1 377.5 161.5 376.8 162.2 C376.1 162.8 375.6 164.5 375.3 165.7 C375.1 166.9 375.4 168.3 375.3 169.3 C375.2 170.4 375.3 171.6 374.8 172.1 C374.3 172.7 373.1 172.9 372.3 172.8 C371.5 172.6 370.5 172.1 369.8 171.4 C369.2 170.7 368.7 169.7 368.6 168.6 C368.5 167.5 369.5 165.9 369.3 164.9 C369 163.9 368.1 163.2 367.1 162.5 C366.2 161.9 364.7 161.8 363.8 161.1 C362.9 160.4 362.2 159.3 361.9 158.3 C361.6 157.2 361.9 155.7 362.2 154.8Z" fill="#c6c8cd"/>
<path d="M375.2 165.9h0.9v0.9h-0.9zM366 161.9h0.9v0.9h-0.9zM368.5 168.8h0.9v0.9h-0.9zM368.4 149.5h0.9v0.9h-0.9zM369.6 170.4h0.9v0.9h-0.9zM375 167.5h0.9v0.9h-0.9zM375.7 154.4h0.9v0.9h-0.9zM375.3 170.1h0.9v0.9h-0.9zM368.1 168.9h0.9v0.9h-0.9zM369.5 149.3h0.9v0.9h-0.9zM374.8 170.2h0.9v0.9h-0.9zM376.3 154.3h0.9v0.9h-0.9zM360.7 157.9h0.9v0.9h-0.9zM366.8 149.6h0.9v0.9h-0.9zM377.9 159h0.9v0.9h-0.9zM368.2 149.1h0.9v0.9h-0.9zM369.5 170.8h0.9v0.9h-0.9zM380.1 159.7h0.9v0.9h-0.9zM373.5 151.6h0.9v0.9h-0.9zM364.6 161.2h0.9v0.9h-0.9zM364.2 149.3h0.9v0.9h-0.9zM375.7 156.3h0.9v0.9h-0.9zM368.2 167.6h0.9v0.9h-0.9zM368.6 164.2h0.9v0.9h-0.9zM361.9 160.6h0.9v0.9h-0.9zM373.6 172.1h0.9v0.9h-0.9zM369 170.8h0.9v0.9h-0.9zM372.4 172.5h0.9v0.9h-0.9zM372.3 171.8h0.9v0.9h-0.9zM362.6 159.5h0.9v0.9h-0.9zM379.4 159.7h0.9v0.9h-0.9zM370.2 171.9h0.9v0.9h-0.9zM369.3 170.7h0.9v0.9h-0.9zM371.1 148.3h0.9v0.9h-0.9zM375.2 167.1h0.9v0.9h-0.9zM367.9 163.4h0.9v0.9h-0.9zM363.1 161h0.9v0.9h-0.9zM365.7 161.3h0.9v0.9h-0.9zM362.3 153.6h0.9v0.9h-0.9zM364.1 161.6h0.9v0.9h-0.9zM359.4 157.9h0.9v0.9h-0.9zM367.4 163.1h0.9v0.9h-0.9zM374.3 172h0.9v0.9h-0.9zM376 168.4h0.9v0.9h-0.9zM376.5 154.9h0.9v0.9h-0.9zM380.6 160.8h0.9v0.9h-0.9zM363.8 151.3h0.9v0.9h-0.9zM361.4 155.9h0.9v0.9h-0.9zM368.2 167.3h0.9v0.9h-0.9z" fill="#c6c8cd"/>
<path d="M371.5 157.7h0.8v0.8h-0.8zM373.6 165.7h0.8v0.8h-0.8zM370 157.7h0.8v0.8h-0.8zM373.3 163.7h0.8v0.8h-0.8zM363.8 158.9h0.8v0.8h-0.8zM367.4 156.9h0.8v0.8h-0.8zM372.3 169.4h0.8v0.8h-0.8zM367.5 159h0.8v0.8h-0.8zM373.8 158.6h0.8v0.8h-0.8zM366.7 152.1h0.8v0.8h-0.8zM368.2 163h0.8v0.8h-0.8zM370.5 155.6h0.8v0.8h-0.8zM374.2 165.7h0.8v0.8h-0.8zM376.3 158.8h0.8v0.8h-0.8zM375.4 157.6h0.8v0.8h-0.8zM366.8 159.2h0.8v0.8h-0.8zM373.8 165.3h0.8v0.8h-0.8zM378.1 159h0.8v0.8h-0.8zM368.8 159.7h0.8v0.8h-0.8zM370.3 160.7h0.8v0.8h-0.8zM374.4 160.9h0.8v0.8h-0.8zM370.1 159.4h0.8v0.8h-0.8zM367.6 159.5h0.8v0.8h-0.8zM373.2 161.2h0.8v0.8h-0.8zM373.1 159h0.8v0.8h-0.8zM368.2 156.3h0.8v0.8h-0.8zM364.1 157.3h0.8v0.8h-0.8zM371.4 160.6h0.8v0.8h-0.8zM368.5 160.2h0.8v0.8h-0.8zM374.4 156h0.8v0.8h-0.8zM365.3 152.7h0.8v0.8h-0.8z" fill="#fff" fill-opacity="0.7"/>
<path d="M337.1 154.3 C337.3 154.1 338.2 153.9 339 153.7 C339.7 153.5 340.9 153.7 341.7 152.9 C342.5 152.2 343.2 150.5 343.8 149.5 C344.3 148.5 344.4 147.7 345.1 147 C345.7 146.4 346.7 146.1 347.7 145.6 C348.7 145.2 350.2 144.5 351 144.2 C351.8 143.8 352 142.9 352.4 143.4 C352.8 143.9 352.9 146 353.3 147 C353.7 147.9 354.1 148.2 354.7 148.8 C355.3 149.5 356.2 150 356.8 150.8 C357.5 151.5 358 152.3 358.4 153.2 C358.9 154.1 359.4 155.2 359.5 156.3 C359.5 157.4 359.2 158.5 358.8 159.8 C358.5 161.2 358.3 163.6 357.3 164.5 C356.3 165.3 354.4 164.8 352.9 164.9 C351.4 164.9 349.5 164.6 348.2 164.6 C346.9 164.7 345.7 165.5 345 164.9 C344.3 164.3 344.6 162.2 344.1 161 C343.7 159.9 343.1 158.9 342.4 158 C341.8 157.1 341.2 156.2 340.4 155.7 C339.6 155.2 338.2 155.3 337.7 155 C337.1 154.8 336.9 154.5 337.1 154.3Z" fill="#c6c8cd"/>
<path d="M337.5 153h0.9v0.9h-0.9zM352.8 165.9h0.9v0.9h-0.9zM358.9 161.9h0.9v0.9h-0.9zM343.3 148.3h0.9v0.9h-0.9zM346.7 165.3h0.9v0.9h-0.9zM352.3 144.1h0.9v0.9h-0.9zM357.2 151.3h0.9v0.9h-0.9zM352.1 145.8h0.9v0.9h-0.9zM344.5 147.2h0.9v0.9h-0.9zM344.1 144.8h0.9v0.9h-0.9zM356.9 164.5h0.9v0.9h-0.9zM352.4 144.3h0.9v0.9h-0.9zM356.9 151.7h0.9v0.9h-0.9zM353.4 147.5h0.9v0.9h-0.9zM358.1 151.7h0.9v0.9h-0.9zM344.5 161.9h0.9v0.9h-0.9zM340 155.2h0.9v0.9h-0.9zM347.1 164.3h0.9v0.9h-0.9zM342.3 151.2h0.9v0.9h-0.9zM342 158h0.9v0.9h-0.9zM354.8 149h0.9v0.9h-0.9zM346.8 143.7h0.9v0.9h-0.9zM354.9 147.3h0.9v0.9h-0.9zM351.1 165.5h0.9v0.9h-0.9zM341.7 151.2h0.9v0.9h-0.9zM350.6 143.8h0.9v0.9h-0.9zM360.3 155.3h0.9v0.9h-0.9zM359.7 157.1h0.9v0.9h-0.9zM340.5 158.4h0.9v0.9h-0.9zM344.2 164.2h0.9v0.9h-0.9zM347.6 164.4h0.9v0.9h-0.9zM338.2 152.8h0.9v0.9h-0.9zM358.9 154.1h0.9v0.9h-0.9zM338.7 152.9h0.9v0.9h-0.9zM353.9 147.4h0.9v0.9h-0.9zM342.9 150.4h0.9v0.9h-0.9zM343.3 160.6h0.9v0.9h-0.9zM343 158.5h0.9v0.9h-0.9zM345.8 165.1h0.9v0.9h-0.9zM342.2 160.3h0.9v0.9h-0.9zM345.7 146.1h0.9v0.9h-0.9zM343.1 146.3h0.9v0.9h-0.9zM357.7 161.2h0.9v0.9h-0.9zM342.8 159.1h0.9v0.9h-0.9zM343.5 161.2h0.9v0.9h-0.9zM348.4 164.9h0.9v0.9h-0.9zM359 155.1h0.9v0.9h-0.9zM353.8 144.9h0.9v0.9h-0.9zM353.2 142.9h0.9v0.9h-0.9zM341.2 152.3h0.9v0.9h-0.9zM359.8 157.6h0.9v0.9h-0.9zM340.2 150.8h0.9v0.9h-0.9zM358.2 160.4h0.9v0.9h-0.9z" fill="#c6c8cd"/>
<path d="M350.3 147.6h0.8v0.8h-0.8zM344.1 158h0.8v0.8h-0.8zM346.4 151.2h0.8v0.8h-0.8zM348.4 152.9h0.8v0.8h-0.8zM348.3 158h0.8v0.8h-0.8zM356.1 152.7h0.8v0.8h-0.8zM353.9 150.6h0.8v0.8h-0.8zM345 146.8h0.8v0.8h-0.8zM343.8 157.4h0.8v0.8h-0.8zM345.3 148.6h0.8v0.8h-0.8zM353.2 155.7h0.8v0.8h-0.8zM344.5 152.6h0.8v0.8h-0.8zM344.5 163.2h0.8v0.8h-0.8zM349.8 145.3h0.8v0.8h-0.8zM343.3 150.6h0.8v0.8h-0.8zM347.8 154.1h0.8v0.8h-0.8zM354.4 158h0.8v0.8h-0.8zM350.4 158h0.8v0.8h-0.8zM356 160.2h0.8v0.8h-0.8zM350.4 144.4h0.8v0.8h-0.8zM345.5 152.3h0.8v0.8h-0.8zM348.7 154.5h0.8v0.8h-0.8zM352 151h0.8v0.8h-0.8zM354 161.5h0.8v0.8h-0.8zM346.6 161.4h0.8v0.8h-0.8zM346.6 147h0.8v0.8h-0.8zM350.6 151.3h0.8v0.8h-0.8zM352.7 157.4h0.8v0.8h-0.8zM355.3 156.3h0.8v0.8h-0.8zM356.5 157.9h0.8v0.8h-0.8zM354.5 154.8h0.8v0.8h-0.8zM346.2 145.9h0.8v0.8h-0.8zM356.5 151.2h0.8v0.8h-0.8zM349.7 148.3h0.8v0.8h-0.8zM351.2 156.3h0.8v0.8h-0.8zM347.9 147.3h0.8v0.8h-0.8zM354.1 161.9h0.8v0.8h-0.8zM351.9 155.9h0.8v0.8h-0.8zM356.1 155.4h0.8v0.8h-0.8z" fill="#fff" fill-opacity="0.7"/>
<path d="M344.6 164.4 C345.3 164.4 347.2 164.4 349 164.4 C350.8 164.4 354.3 164.3 355.6 164.4 C356.9 164.5 356.6 164.3 356.7 165 C356.9 165.6 356.7 167.3 356.4 168.4 C356.1 169.4 354.9 170.3 354.7 171.3 C354.6 172.3 355.2 173.3 355.4 174.4 C355.6 175.5 356 177 356 178 C356.1 179 355.9 179.8 355.5 180.6 C355.2 181.3 354.4 181.9 353.7 182.5 C353 183.2 352.1 184 351.5 184.6 C350.9 185.1 350.6 185.7 350.2 185.8 C349.7 185.9 349.2 185.5 348.7 185 C348.3 184.5 347.8 183.6 347.3 182.8 C346.9 182 346.3 181.2 345.9 180.3 C345.5 179.5 345.1 178.5 344.9 177.7 C344.7 176.8 344.7 176.1 344.7 175.1 C344.6 174 344.5 172.6 344.7 171.4 C344.8 170.2 345.3 168.9 345.3 167.7 C345.4 166.6 345.1 165.3 345 164.7 C344.9 164.2 343.9 164.5 344.6 164.4Z" fill="#c6c8cd"/>
<path d="M348.7 184.7h0.9v0.9h-0.9zM343.5 177.8h0.9v0.9h-0.9zM346.5 163.6h0.9v0.9h-0.9zM356.3 163.9h0.9v0.9h-0.9zM342.9 174.7h0.9v0.9h-0.9zM346 162.5h0.9v0.9h-0.9zM354.2 163.8h0.9v0.9h-0.9zM341.1 171.6h0.9v0.9h-0.9zM345.6 180h0.9v0.9h-0.9zM344.9 178.2h0.9v0.9h-0.9zM344.1 168.2h0.9v0.9h-0.9zM355.3 175.2h0.9v0.9h-0.9zM349.9 184.9h0.9v0.9h-0.9zM355.4 168.9h0.9v0.9h-0.9zM344 170h0.9v0.9h-0.9zM354.8 170.8h0.9v0.9h-0.9zM349.2 164h0.9v0.9h-0.9zM348.8 184.8h0.9v0.9h-0.9zM344.7 179.5h0.9v0.9h-0.9zM346.7 182.6h0.9v0.9h-0.9zM352.8 183.5h0.9v0.9h-0.9zM355.5 177.5h0.9v0.9h-0.9zM355.9 168.4h0.9v0.9h-0.9zM344.9 165.8h0.9v0.9h-0.9zM355.5 180.4h0.9v0.9h-0.9zM344.2 165.2h0.9v0.9h-0.9zM345.3 180.6h0.9v0.9h-0.9zM355.9 180h0.9v0.9h-0.9zM356.4 166.1h0.9v0.9h-0.9zM344.1 175.8h0.9v0.9h-0.9zM356.3 179.4h0.9v0.9h-0.9zM356.5 165.3h0.9v0.9h-0.9zM345.9 182.6h0.9v0.9h-0.9zM343.4 171.4h0.9v0.9h-0.9zM347.1 184.3h0.9v0.9h-0.9zM355.4 164.5h0.9v0.9h-0.9zM355.6 168.5h0.9v0.9h-0.9zM355.8 166.4h0.9v0.9h-0.9zM344.7 163.9h0.9v0.9h-0.9zM350.3 163.9h0.9v0.9h-0.9zM343.8 168.9h0.9v0.9h-0.9zM355.3 175.9h0.9v0.9h-0.9zM354.8 172.7h0.9v0.9h-0.9zM355.7 165.9h0.9v0.9h-0.9z" fill="#c6c8cd"/>
<path d="M351.5 182.1h0.8v0.8h-0.8zM350.4 167h0.8v0.8h-0.8zM347 164.2h0.8v0.8h-0.8zM348.7 176.6h0.8v0.8h-0.8zM349.6 171.1h0.8v0.8h-0.8zM350.2 165.3h0.8v0.8h-0.8zM350.7 171h0.8v0.8h-0.8zM350.6 172h0.8v0.8h-0.8zM353.7 173.5h0.8v0.8h-0.8zM345.2 172.2h0.8v0.8h-0.8zM351.8 168h0.8v0.8h-0.8zM352 170h0.8v0.8h-0.8zM355.8 167.7h0.8v0.8h-0.8zM347.9 173.6h0.8v0.8h-0.8zM346.9 171.9h0.8v0.8h-0.8zM347.8 180.8h0.8v0.8h-0.8zM347.8 181.8h0.8v0.8h-0.8zM354.2 171.3h0.8v0.8h-0.8zM346.9 176.5h0.8v0.8h-0.8zM355.6 165.9h0.8v0.8h-0.8zM354.7 174.8h0.8v0.8h-0.8zM349.7 169h0.8v0.8h-0.8zM346.9 181.7h0.8v0.8h-0.8zM346 178.2h0.8v0.8h-0.8zM344.4 174.8h0.8v0.8h-0.8zM350.2 168.5h0.8v0.8h-0.8zM346.8 167.2h0.8v0.8h-0.8zM346.6 177.3h0.8v0.8h-0.8z" fill="#fff" fill-opacity="0.7"/>
<path d="M356.9 187.9 C357 187.4 357.6 187.3 358.1 187.4 C358.5 187.5 358.9 188.2 359.6 188.7 C360.2 189.2 361.3 189.8 362.1 190.3 C362.9 190.8 363.8 191.2 364.6 191.7 C365.3 192.2 366 192.7 366.6 193.2 C367.2 193.8 367.8 194.4 368 194.9 C368.2 195.4 368.1 195.9 367.8 196.3 C367.5 196.6 367.1 197 366.3 197.1 C365.6 197.1 364.5 196.7 363.6 196.4 C362.7 196.1 361.9 195.7 361.2 195.1 C360.4 194.4 359.8 193.3 359.1 192.6 C358.5 191.9 357.7 191.4 357.3 190.6 C356.9 189.8 356.8 188.5 356.9 187.9Z" fill="#c6c8cd"/>
<path d="M361.4 190.1h0.9v0.9h-0.9zM356.1 187.4h0.9v0.9h-0.9zM359.8 192.8h0.9v0.9h-0.9zM359.5 188.5h0.9v0.9h-0.9zM366.4 196.6h0.9v0.9h-0.9zM356.7 188.1h0.9v0.9h-0.9zM368.1 195.9h0.9v0.9h-0.9zM364.2 196.1h0.9v0.9h-0.9zM366 192.4h0.9v0.9h-0.9zM367.3 196.1h0.9v0.9h-0.9zM358.8 191.6h0.9v0.9h-0.9zM361 188.9h0.9v0.9h-0.9zM361.5 190.2h0.9v0.9h-0.9zM365.4 192.6h0.9v0.9h-0.9zM365.4 192h0.9v0.9h-0.9zM357.1 188.8h0.9v0.9h-0.9zM367.4 195.1h0.9v0.9h-0.9zM365.5 196.7h0.9v0.9h-0.9zM358.3 193.2h0.9v0.9h-0.9zM356.6 187.7h0.9v0.9h-0.9zM357.7 191.7h0.9v0.9h-0.9z" fill="#c6c8cd"/>
<path d="M365.5 192.9h0.8v0.8h-0.8zM364.2 195.1h0.8v0.8h-0.8zM362.3 191.8h0.8v0.8h-0.8zM361.7 193.5h0.8v0.8h-0.8zM364.1 195.6h0.8v0.8h-0.8zM364.1 192.5h0.8v0.8h-0.8z" fill="#fff" fill-opacity="0.7"/>
<path d="M357.7 152.2 C357.6 151.7 358.1 150.6 358.5 149.9 C358.9 149.1 359.4 148.2 360 147.6 C360.5 147 361.2 146.4 361.8 146 C362.4 145.6 362.9 145.5 363.5 145.5 C364.1 145.5 364.9 145.8 365.6 146 C366.3 146.2 367.2 146.5 367.6 146.9 C368.1 147.3 368.5 147.9 368.5 148.3 C368.4 148.7 367.8 149.3 367.2 149.4 C366.7 149.5 365.8 149 365.1 148.7 C364.5 148.5 363.7 148.1 363.1 148.1 C362.4 148.1 361.9 148.4 361.4 148.7 C360.9 149.1 360.5 149.7 360.2 150.3 C359.8 150.9 359.5 152.1 359.1 152.4 C358.7 152.7 357.8 152.6 357.7 152.2Z" fill="#c6c8cd"/>
<path d="M359.7 147.2h0.9v0.9h-0.9zM359 149.7h0.9v0.9h-0.9zM360.1 146.8h0.9v0.9h-0.9zM364.7 147.9h0.9v0.9h-0.9zM362.4 147.6h0.9v0.9h-0.9zM365.9 145.3h0.9v0.9h-0.9zM358.2 147.3h0.9v0.9h-0.9zM364.1 145.1h0.9v0.9h-0.9zM362.9 145.4h0.9v0.9h-0.9zM357.8 150.1h0.9v0.9h-0.9zM357.4 152.1h0.9v0.9h-0.9zM365 148.5h0.9v0.9h-0.9zM357.2 151.3h0.9v0.9h-0.9zM366.4 148.9h0.9v0.9h-0.9zM357 151.2h0.9v0.9h-0.9zM357.8 149.5h0.9v0.9h-0.9zM357.7 150.6h0.9v0.9h-0.9zM357.6 150.4h0.9v0.9h-0.9zM362.4 148.2h0.9v0.9h-0.9zM357.9 151.3h0.9v0.9h-0.9zM360.9 148.8h0.9v0.9h-0.9z" fill="#c6c8cd"/>
<path d="M359.9 148.7h0.8v0.8h-0.8zM364.9 145.7h0.8v0.8h-0.8zM359.1 148.6h0.8v0.8h-0.8z" fill="#fff" fill-opacity="0.7"/>
<path d="M362.2 145.8 C362.5 145.4 363.6 145.3 364.3 145.3 C365 145.4 366.1 145.6 366.4 146 C366.7 146.4 366.6 147.3 366.2 147.6 C365.8 147.9 364.6 147.9 363.9 147.8 C363.2 147.8 362.5 147.7 362.2 147.4 C361.9 147 361.8 146.1 362.2 145.8Z" fill="#c6c8cd"/>
<path d="M365 146.8h0.9v0.9h-0.9zM364.2 144.1h0.9v0.9h-0.9zM365.4 147.4h0.9v0.9h-0.9zM364.2 144.9h0.9v0.9h-0.9zM363.1 144.4h0.9v0.9h-0.9zM365.3 146.3h0.9v0.9h-0.9zM364 147.5h0.9v0.9h-0.9zM364.6 147.1h0.9v0.9h-0.9zM363.7 147.8h0.9v0.9h-0.9z" fill="#c6c8cd"/>
<path d="M363.4 146.7h0.8v0.8h-0.8z" fill="#fff" fill-opacity="0.7"/>
<path d="M356.4 145.2 C356.6 145 357.2 144.7 357.7 144.4 C358.2 144.1 358.8 143.8 359.3 143.5 C359.9 143.2 360.5 142.8 360.8 142.8 C361.1 142.8 361.4 143.2 361.2 143.5 C361 143.8 360.3 144.1 359.8 144.4 C359.2 144.7 358.6 145.1 358.1 145.3 C357.6 145.5 357 145.8 356.8 145.8 C356.5 145.8 356.3 145.5 356.4 145.2Z" fill="#c6c8cd"/>
<path d="M358.8 144.4h0.9v0.9h-0.9zM359.5 142.8h0.9v0.9h-0.9zM360.8 142.6h0.9v0.9h-0.9zM356.5 144.8h0.9v0.9h-0.9zM357 145h0.9v0.9h-0.9zM361.3 142h0.9v0.9h-0.9zM360.9 141.3h0.9v0.9h-0.9zM357.6 144.9h0.9v0.9h-0.9zM359.1 143h0.9v0.9h-0.9zM357.5 145h0.9v0.9h-0.9zM358.3 143.4h0.9v0.9h-0.9z" fill="#c6c8cd"/>
<path d="M364.4 165.5h0.9v0.9h-0.9zM359.8 175.3h0.9v0.9h-0.9zM367.7 166.2h0.9v0.9h-0.9zM362.2 162.6h0.9v0.9h-0.9zM366.4 163.8h0.9v0.9h-0.9zM365.7 165.2h0.9v0.9h-0.9zM362.2 166.7h0.9v0.9h-0.9zM362.8 163.3h0.9v0.9h-0.9zM361.2 150.7h0.9v0.9h-0.9zM358.7 168.3h0.9v0.9h-0.9zM361 172.6h0.9v0.9h-0.9zM361.1 174.2h0.9v0.9h-0.9zM363.2 164.1h0.9v0.9h-0.9zM359.8 164.3h0.9v0.9h-0.9zM359.7 157h0.9v0.9h-0.9zM362.6 166h0.9v0.9h-0.9zM358.1 169.1h0.9v0.9h-0.9zM362.5 171.2h0.9v0.9h-0.9zM358.2 155.7h0.9v0.9h-0.9zM359 157.4h0.9v0.9h-0.9zM359.8 157.6h0.9v0.9h-0.9zM360 176.3h0.9v0.9h-0.9zM359.2 161.8h0.9v0.9h-0.9zM360.7 164.9h0.9v0.9h-0.9zM360.2 174.5h0.9v0.9h-0.9zM359.3 165.2h0.9v0.9h-0.9zM360.5 148.1h0.9v0.9h-0.9zM361.6 171.5h0.9v0.9h-0.9zM363.8 162.8h0.9v0.9h-0.9zM364 168.7h0.9v0.9h-0.9zM363.7 170.2h0.9v0.9h-0.9zM365.4 166.2h0.9v0.9h-0.9zM358.6 156.9h0.9v0.9h-0.9zM366.8 167.6h0.9v0.9h-0.9zM359 164.8h0.9v0.9h-0.9zM360.7 172.9h0.9v0.9h-0.9zM362.8 179.7h0.9v0.9h-0.9zM360.3 170.7h0.9v0.9h-0.9zM358.4 162.2h0.9v0.9h-0.9zM361.9 173.3h0.9v0.9h-0.9zM361.3 152.2h0.9v0.9h-0.9zM359.5 167.4h0.9v0.9h-0.9zM357.3 164h0.9v0.9h-0.9zM360.8 168.6h0.9v0.9h-0.9zM360.3 176.2h0.9v0.9h-0.9zM360.6 177.2h0.9v0.9h-0.9zM357.9 159.9h0.9v0.9h-0.9zM363.7 170.9h0.9v0.9h-0.9zM367 169.2h0.9v0.9h-0.9zM362.4 170.6h0.9v0.9h-0.9zM357.5 160h0.9v0.9h-0.9zM363.9 166.1h0.9v0.9h-0.9zM357.8 159.2h0.9v0.9h-0.9zM358.6 166.2h0.9v0.9h-0.9zM367.2 166.3h0.9v0.9h-0.9zM361.2 148.7h0.9v0.9h-0.9zM361.7 176.4h0.9v0.9h-0.9zM361.8 163.1h0.9v0.9h-0.9zM358.2 163.4h0.9v0.9h-0.9zM360.9 173h0.9v0.9h-0.9zM360.2 162.9h0.9v0.9h-0.9zM364 162.4h0.9v0.9h-0.9zM359.1 156h0.9v0.9h-0.9zM365.5 171h0.9v0.9h-0.9zM358.6 165.3h0.9v0.9h-0.9zM367.6 167.8h0.9v0.9h-0.9zM364.8 171.3h0.9v0.9h-0.9zM361.7 151.2h0.9v0.9h-0.9zM362.1 178.7h0.9v0.9h-0.9zM363.4 163.7h0.9v0.9h-0.9zM365 166.5h0.9v0.9h-0.9zM359.4 152.5h0.9v0.9h-0.9zM363.6 166h0.9v0.9h-0.9zM363.9 173.8h0.9v0.9h-0.9zM359.6 157.4h0.9v0.9h-0.9zM366.8 163.8h0.9v0.9h-0.9zM362 164.2h0.9v0.9h-0.9zM361.6 167.5h0.9v0.9h-0.9zM359.3 158.2h0.9v0.9h-0.9zM365.7 162.9h0.9v0.9h-0.9zM358.3 170h0.9v0.9h-0.9zM362.5 169.9h0.9v0.9h-0.9zM359.9 159.4h0.9v0.9h-0.9zM360.8 178.9h0.9v0.9h-0.9zM359.3 164.6h0.9v0.9h-0.9zM360 150.2h0.9v0.9h-0.9zM360.1 164.6h0.9v0.9h-0.9zM359.4 149.5h0.9v0.9h-0.9zM358.7 168h0.9v0.9h-0.9zM361.1 172.6h0.9v0.9h-0.9zM362.2 166.8h0.9v0.9h-0.9zM360.8 175.1h0.9v0.9h-0.9zM358.7 156.6h0.9v0.9h-0.9zM364 166.4h0.9v0.9h-0.9zM360.3 153.5h0.9v0.9h-0.9zM359.1 153.4h0.9v0.9h-0.9zM365.2 163.6h0.9v0.9h-0.9zM360.6 172.9h0.9v0.9h-0.9zM359.9 173.4h0.9v0.9h-0.9zM359.3 161.6h0.9v0.9h-0.9zM360.2 153.5h0.9v0.9h-0.9zM365.1 168.9h0.9v0.9h-0.9zM366.1 163.5h0.9v0.9h-0.9zM362.5 163.8h0.9v0.9h-0.9zM363.1 165.3h0.9v0.9h-0.9zM362.4 174h0.9v0.9h-0.9zM362.7 180.3h0.9v0.9h-0.9zM360.8 149.2h0.9v0.9h-0.9zM363 177.6h0.9v0.9h-0.9zM359.5 175.3h0.9v0.9h-0.9zM359.9 168.8h0.9v0.9h-0.9zM364.3 175.7h0.9v0.9h-0.9zM361.1 164.6h0.9v0.9h-0.9z" fill="#c6c8cd"/>
<path d="M321.7 156.9h1v1h-1zM322.4 156.7h1v1h-1zM323.3 156.2h1v1h-1zM324.2 155.9h1v1h-1zM325.2 155.6h1v1h-1zM326.4 154.5h1v1h-1zM327 154.7h1v1h-1zM327.9 154.3h1v1h-1zM328.9 154.2h1v1h-1zM330.2 153.6h1v1h-1zM330.8 153.8h1v1h-1zM331.8 154.2h1v1h-1zM332.3 154.1h1v1h-1zM333 153.5h1v1h-1zM334.2 153.9h1v1h-1zM334.8 153.6h1v1h-1zM335.7 154.3h1v1h-1zM336.3 153.5h1v1h-1z" fill="#b3b5bb"/>
<path d="M355 182.1h1v1h-1zM355.1 183h1v1h-1zM355.5 184.6h1v1h-1zM355.9 185.5h1v1h-1zM356.3 185.7h1v1h-1z" fill="#b3b5bb"/>
<path d="M363.3 125.5h0.9v0.9h-0.9zM364.5 128.6h0.9v0.9h-0.9zM364.7 129.2h0.9v0.9h-0.9zM364.9 130.2h0.9v0.9h-0.9zM363.5 126.4h0.9v0.9h-0.9zM363.8 127.1h0.9v0.9h-0.9zM361.8 130.2h0.9v0.9h-0.9z" fill="#c6c8cd"/>
<path d="M368.7 129h0.9v0.9h-0.9zM367.3 129.2h0.9v0.9h-0.9z" fill="#c6c8cd"/>
<path d="M354.2 143.1h0.9v0.9h-0.9zM354.2 143h0.9v0.9h-0.9z" fill="#c6c8cd"/>
<path d="M354.9 142.3h0.9v0.9h-0.9zM354.5 142.4h0.9v0.9h-0.9z" fill="#c6c8cd"/>
<path d="M355.4 141.5h0.9v0.9h-0.9zM355.8 141.1h0.9v0.9h-0.9z" fill="#c6c8cd"/>
<path d="M383.7 128.7h0.9v0.9h-0.9zM383.8 128.3h0.9v0.9h-0.9z" fill="#c6c8cd"/>
<path d="M361.6 165.3h0.9v0.9h-0.9zM361 165.1h0.9v0.9h-0.9zM362 165.7h0.9v0.9h-0.9zM361.1 165.2h0.9v0.9h-0.9zM362.1 166.1h0.9v0.9h-0.9zM359.7 165.1h0.9v0.9h-0.9zM362.7 164.8h0.9v0.9h-0.9zM361.7 165.6h0.9v0.9h-0.9zM359.8 164.2h0.9v0.9h-0.9z" fill="#c6c8cd"/>
<path d="M360.9 167.6h0.9v0.9h-0.9zM359.8 168.3h0.9v0.9h-0.9zM362.1 167.7h0.9v0.9h-0.9zM361.3 168.3h0.9v0.9h-0.9zM361.4 167.3h0.9v0.9h-0.9zM360.9 167.6h0.9v0.9h-0.9zM361.7 167.4h0.9v0.9h-0.9zM360.4 168.9h0.9v0.9h-0.9zM360.9 166.4h0.9v0.9h-0.9z" fill="#c6c8cd"/>
<path d="M365.2 168.2h0.9v0.9h-0.9zM364.6 167.9h0.9v0.9h-0.9zM365.4 168.3h0.9v0.9h-0.9zM365.1 167.7h0.9v0.9h-0.9zM364.9 168.1h0.9v0.9h-0.9z" fill="#c6c8cd"/>
<path d="M361.1 172h0.9v0.9h-0.9zM362.5 170.1h0.9v0.9h-0.9zM360.3 173.4h0.9v0.9h-0.9zM362.8 174.3h0.9v0.9h-0.9zM361.1 172.4h0.9v0.9h-0.9zM361.4 173h0.9v0.9h-0.9zM361.7 172.9h0.9v0.9h-0.9z" fill="#c6c8cd"/>
<path d="M362.3 178.1h0.9v0.9h-0.9zM361.5 178.3h0.9v0.9h-0.9zM362.1 178.3h0.9v0.9h-0.9z" fill="#c6c8cd"/>
<path d="M364.3 174h0.9v0.9h-0.9zM363.3 173.5h0.9v0.9h-0.9zM363.6 173.5h0.9v0.9h-0.9zM364.7 173.9h0.9v0.9h-0.9z" fill="#c6c8cd"/>
<path d="M349.4 189h0.9v0.9h-0.9zM349.7 188.6h0.9v0.9h-0.9zM349 185.4h0.9v0.9h-0.9zM348.6 186.3h0.9v0.9h-0.9zM349.5 189.8h0.9v0.9h-0.9zM349.1 187.4h0.9v0.9h-0.9z" fill="#c6c8cd"/>
<path d="M373 176.8h0.9v0.9h-0.9zM375.1 176.4h0.9v0.9h-0.9zM373.8 176.2h0.9v0.9h-0.9zM374.7 176.1h0.9v0.9h-0.9zM372.7 176.2h0.9v0.9h-0.9z" fill="#c6c8cd"/>
<path d="M359.1 171.8h0.9v0.9h-0.9zM359.1 171.2h0.9v0.9h-0.9z" fill="#c6c8cd"/>
<path d="M348.6 148.6h1v1h-1zM347.9 158.2h1v1h-1zM356.4 163.2h1v1h-1zM352 157h1v1h-1zM342.4 151.2h1v1h-1zM348.6 144.5h1v1h-1zM344.5 150.3h1v1h-1zM354.2 158.1h1v1h-1zM341.6 155.2h1v1h-1zM349.8 152.4h1v1h-1zM350.9 163.4h1v1h-1zM339.2 154.3h1v1h-1z" fill="#f4a08a"/>
<path d="M349 173.5h1v1h-1zM355 165.4h1v1h-1zM354.1 174.3h1v1h-1zM350.4 164.5h1v1h-1zM350.1 175.2h1v1h-1zM351.4 178.3h1v1h-1zM353.1 176.2h1v1h-1zM355.5 167.7h1v1h-1zM354.5 167.2h1v1h-1zM348.1 174.9h1v1h-1zM352 175.7h1v1h-1zM347.9 171.6h1v1h-1zM354.5 165.5h1v1h-1zM348.7 173h1v1h-1zM345 168.7h1v1h-1zM352.2 175.7h1v1h-1zM348.6 173.3h1v1h-1z" fill="#e8553d"/>
<path d="M363.6 194.7h1v1h-1zM367 195.4h1v1h-1zM359.5 193.1h1v1h-1zM358.5 189.5h1v1h-1zM361.6 191.7h1v1h-1zM359.4 190.3h1v1h-1zM357.8 188.5h1v1h-1zM361.9 190.6h1v1h-1zM360.9 194.8h1v1h-1zM361.5 192.9h1v1h-1zM363.2 195.2h1v1h-1zM362.7 192h1v1h-1zM356.4 187.6h1v1h-1zM360.8 189.1h1v1h-1zM358.6 190.1h1v1h-1zM358.7 189.5h1v1h-1zM360.5 189.4h1v1h-1zM359.4 192.7h1v1h-1zM363.2 193.4h1v1h-1zM363.5 190.9h1v1h-1zM362.3 189.9h1v1h-1zM364.4 193.7h1v1h-1z" fill="#c83a28"/>
<path d="M360.7 194h1.1v1.1h-1.1zM361.3 194h1.1v1.1h-1.1zM367.3 194.5h1.1v1.1h-1.1zM358.2 189.4h1.1v1.1h-1.1zM367.6 195.4h1.1v1.1h-1.1zM358.7 190.6h1.1v1.1h-1.1zM359.3 192.5h1.1v1.1h-1.1zM360.5 191.9h1.1v1.1h-1.1zM367.6 194.5h1.1v1.1h-1.1zM358.4 189.7h1.1v1.1h-1.1zM365.3 195.7h1.1v1.1h-1.1zM365.6 196.1h1.1v1.1h-1.1zM363.9 193.9h1.1v1.1h-1.1zM361.6 191.9h1.1v1.1h-1.1zM359.4 191h1.1v1.1h-1.1zM361.3 194.6h1.1v1.1h-1.1zM365.4 194.9h1.1v1.1h-1.1zM357.8 188.9h1.1v1.1h-1.1zM357.2 188.9h1.1v1.1h-1.1zM356.3 188.3h1.1v1.1h-1.1zM361.1 194.1h1.1v1.1h-1.1zM365.4 196.8h1.1v1.1h-1.1zM361.7 192.4h1.1v1.1h-1.1zM367.6 195h1.1v1.1h-1.1zM362.6 195.3h1.1v1.1h-1.1zM357.9 189h1.1v1.1h-1.1zM364.7 194.4h1.1v1.1h-1.1zM359.3 190.4h1.1v1.1h-1.1zM357.2 190.4h1.1v1.1h-1.1zM357.6 191.5h1.1v1.1h-1.1zM366.2 195.4h1.1v1.1h-1.1zM366.1 193.8h1.1v1.1h-1.1zM358.6 192.4h1.1v1.1h-1.1zM367.3 194.4h1.1v1.1h-1.1zM358.5 190.9h1.1v1.1h-1.1zM363.1 192.8h1.1v1.1h-1.1zM358.7 192h1.1v1.1h-1.1zM363.3 195.2h1.1v1.1h-1.1zM361.4 193.3h1.1v1.1h-1.1zM361.8 194.2h1.1v1.1h-1.1zM357.8 192.1h1.1v1.1h-1.1zM362 194.4h1.1v1.1h-1.1zM357.9 190.6h1.1v1.1h-1.1zM365.4 196.2h1.1v1.1h-1.1zM357.2 188.6h1.1v1.1h-1.1zM356.4 188.2h1.1v1.1h-1.1zM356.6 189.6h1.1v1.1h-1.1zM363.8 194h1.1v1.1h-1.1zM365.4 195.5h1.1v1.1h-1.1zM360.6 192.1h1.1v1.1h-1.1zM366.5 195h1.1v1.1h-1.1zM357.5 189.8h1.1v1.1h-1.1zM360 192.7h1.1v1.1h-1.1zM359.1 191.2h1.1v1.1h-1.1zM359 191.1h1.1v1.1h-1.1zM364.2 194.5h1.1v1.1h-1.1zM362.1 194.8h1.1v1.1h-1.1z" fill="#b52020"/>
<path d="M357 190.5h1v1h-1zM366.2 193.8h1v1h-1zM356.3 187.8h1v1h-1zM357.1 192h1v1h-1zM357.4 188.1h1v1h-1zM363.6 196h1v1h-1zM362.2 195.8h1v1h-1zM357.4 186.8h1v1h-1zM358.4 188.9h1v1h-1zM359.8 190.4h1v1h-1zM362.9 196.1h1v1h-1zM359 189h1v1h-1zM368.6 195.9h1v1h-1zM367.4 193.8h1v1h-1zM367.3 194.9h1v1h-1zM358.2 192.6h1v1h-1z" fill="#b52020"/>
<path d="M349.7 188.2h1v1h-1z" fill="#e06048"/>
<path d="M372.5 171.5h1v1h-1zM368.8 166.6h1v1h-1zM377.5 159.5h1v1h-1zM368.6 168.6h1v1h-1zM371.9 160.7h1v1h-1zM371.2 160.7h1v1h-1zM375.4 164h1v1h-1zM362.4 158h1v1h-1zM371.5 162.5h1v1h-1z" fill="#f4a08a"/>
<path d="M374.7 149.3h1v1h-1zM375.4 145.3h1v1h-1zM378 152.6h1v1h-1zM381.7 152.6h1v1h-1zM375 145.8h1v1h-1zM382.1 145.9h1v1h-1zM381.1 147.2h1v1h-1zM370.7 148h1v1h-1zM378.6 157.2h1v1h-1z" fill="#f4a08a"/>
<path d="M367.2 136.2h1v1h-1zM373.9 138.6h1v1h-1zM377.2 132.8h1v1h-1zM374.9 131.8h1v1h-1zM368.1 141.3h1v1h-1z" fill="#f4a08a"/>
</g>
<g>
<path d="M440.1 128.4 C440.3 128 440.4 127.4 441 127 C441.6 126.7 442.8 126.5 443.5 126.5 C444.3 126.5 444.9 126.6 445.4 127 C445.9 127.4 445.9 128.1 446.3 128.8 C446.8 129.5 447.5 130.8 448 131.5 C448.6 132.1 449.2 132.3 449.7 133 C450.2 133.6 450.8 134.6 451.1 135.4 C451.4 136.1 451.4 137 451.3 137.5 C451.2 137.9 451.1 138.2 450.7 138.2 C450.2 138.2 449.5 137.8 448.7 137.5 C448 137.3 447.2 137 446.4 136.6 C445.5 136.3 444.4 135.9 443.7 135.6 C442.9 135.2 442.3 135 441.7 134.4 C441.1 133.9 440.4 133 440.1 132.3 C439.7 131.5 439.4 130.5 439.4 129.8 C439.4 129.2 439.8 128.9 440.1 128.4Z" fill="#c6c8cd"/>
<path d="M445.5 128.8h0.9v0.9h-0.9zM450.2 137.9h0.9v0.9h-0.9zM437.3 130.3h0.9v0.9h-0.9zM441 126.2h0.9v0.9h-0.9zM449.3 138.1h0.9v0.9h-0.9zM451.2 136.2h0.9v0.9h-0.9zM449.8 137.4h0.9v0.9h-0.9zM451.1 136.5h0.9v0.9h-0.9zM449 137.8h0.9v0.9h-0.9zM445.9 128.6h0.9v0.9h-0.9zM446.8 126.2h0.9v0.9h-0.9zM441.5 134.1h0.9v0.9h-0.9zM441 134.9h0.9v0.9h-0.9zM446.3 129.2h0.9v0.9h-0.9zM446.8 130.6h0.9v0.9h-0.9zM450.8 132.9h0.9v0.9h-0.9zM440.1 125h0.9v0.9h-0.9zM444.7 136.2h0.9v0.9h-0.9zM447.7 136.6h0.9v0.9h-0.9zM451 136.5h0.9v0.9h-0.9zM447.6 130.5h0.9v0.9h-0.9zM447.7 131.1h0.9v0.9h-0.9zM440.3 132.6h0.9v0.9h-0.9zM446.3 136.2h0.9v0.9h-0.9zM440.1 128h0.9v0.9h-0.9zM446.9 136.7h0.9v0.9h-0.9zM441.3 126.1h0.9v0.9h-0.9zM442.5 135.9h0.9v0.9h-0.9z" fill="#c6c8cd"/>
<path d="M444.2 126.5h0.8v0.8h-0.8zM442.4 126.5h0.8v0.8h-0.8zM443.9 129.3h0.8v0.8h-0.8zM440.4 127.3h0.8v0.8h-0.8zM449.7 136.8h0.8v0.8h-0.8zM440.7 131.6h0.8v0.8h-0.8zM448.4 135h0.8v0.8h-0.8zM441 127.9h0.8v0.8h-0.8zM442.6 127.9h0.8v0.8h-0.8zM439.6 129.5h0.8v0.8h-0.8z" fill="#fff" fill-opacity="0.7"/>
<path d="M466.9 124.1 C467.2 124.1 467.4 124.6 467.5 125.4 C467.7 126.2 467.7 127.9 467.7 129 C467.6 130.1 467.4 130.9 467.3 132 C467.2 133.1 467.2 134.8 467 135.7 C466.8 136.6 466.5 136.8 466 137.4 C465.6 138.1 464.9 138.7 464.3 139.4 C463.8 140.1 463.4 141 462.6 141.7 C461.8 142.3 460.5 142.7 459.7 143.2 C458.9 143.8 458.3 144.6 457.6 145.1 C456.9 145.6 456.2 146.2 455.7 146.4 C455.1 146.6 454.7 146.8 454.3 146.2 C453.8 145.7 453.4 144.2 453.1 143 C452.9 141.7 452.6 140 452.7 138.8 C452.8 137.6 453.2 136.9 453.6 135.9 C454.1 134.9 454.5 133.5 455.2 133 C455.9 132.5 457 133.2 457.9 132.7 C458.8 132.2 459.9 130.8 460.7 130 C461.5 129.3 462.2 128.6 462.7 128.2 C463.3 127.7 463.6 127.9 464.1 127.4 C464.5 126.9 465 125.7 465.5 125.2 C465.9 124.6 466.5 124.1 466.9 124.1Z" fill="#c6c8cd"/>
<path d="M455.5 131.8h0.9v0.9h-0.9zM458.5 143.5h0.9v0.9h-0.9zM454.9 132.6h0.9v0.9h-0.9zM467.7 125.9h0.9v0.9h-0.9zM461.4 128.3h0.9v0.9h-0.9zM452.3 142.7h0.9v0.9h-0.9zM466.8 123.5h0.9v0.9h-0.9zM466.3 136.1h0.9v0.9h-0.9zM462.2 141.6h0.9v0.9h-0.9zM466.1 123.3h0.9v0.9h-0.9zM462.8 144.6h0.9v0.9h-0.9zM451.6 140h0.9v0.9h-0.9zM452.1 143.8h0.9v0.9h-0.9zM467.1 132.4h0.9v0.9h-0.9zM460.9 142.9h0.9v0.9h-0.9zM467.1 127.4h0.9v0.9h-0.9zM467.4 129h0.9v0.9h-0.9zM452.1 139.1h0.9v0.9h-0.9zM466.6 135.6h0.9v0.9h-0.9zM467.1 134.9h0.9v0.9h-0.9zM455.3 132.1h0.9v0.9h-0.9zM466.2 135.7h0.9v0.9h-0.9zM456.2 145h0.9v0.9h-0.9zM466.6 134h0.9v0.9h-0.9zM452 138.4h0.9v0.9h-0.9zM459.6 142.8h0.9v0.9h-0.9zM465.8 124.2h0.9v0.9h-0.9zM465 124.6h0.9v0.9h-0.9zM453.2 136.4h0.9v0.9h-0.9zM458.8 129.9h0.9v0.9h-0.9zM467.2 131.6h0.9v0.9h-0.9zM465.2 138.4h0.9v0.9h-0.9zM464.4 138.2h0.9v0.9h-0.9zM452.7 136.2h0.9v0.9h-0.9zM459.4 131.2h0.9v0.9h-0.9zM453.8 134.4h0.9v0.9h-0.9zM459 142.9h0.9v0.9h-0.9zM457 132.3h0.9v0.9h-0.9zM455.6 131.5h0.9v0.9h-0.9zM467.8 134h0.9v0.9h-0.9zM459.5 130.5h0.9v0.9h-0.9zM463.4 126.7h0.9v0.9h-0.9zM452.9 136.8h0.9v0.9h-0.9zM466.9 134.4h0.9v0.9h-0.9z" fill="#c6c8cd"/>
<path d="M455.6 135.6h0.8v0.8h-0.8zM463.7 134h0.8v0.8h-0.8zM456.7 134.2h0.8v0.8h-0.8zM457.2 143.2h0.8v0.8h-0.8zM466 132.8h0.8v0.8h-0.8zM464.1 138.4h0.8v0.8h-0.8zM463.5 137.6h0.8v0.8h-0.8zM457.3 135.5h0.8v0.8h-0.8zM460.8 139h0.8v0.8h-0.8zM453.5 141.9h0.8v0.8h-0.8zM458.3 140.2h0.8v0.8h-0.8zM464.5 133.9h0.8v0.8h-0.8zM461.4 133h0.8v0.8h-0.8zM463.6 137.8h0.8v0.8h-0.8zM454.8 143.2h0.8v0.8h-0.8zM464.7 131.4h0.8v0.8h-0.8zM457.5 139h0.8v0.8h-0.8zM455.6 138.2h0.8v0.8h-0.8zM456.8 134h0.8v0.8h-0.8zM452.4 138.8h0.8v0.8h-0.8zM454.1 143h0.8v0.8h-0.8zM462.7 127.8h0.8v0.8h-0.8zM453.7 140.7h0.8v0.8h-0.8zM453.7 142.5h0.8v0.8h-0.8z" fill="#fff" fill-opacity="0.7"/>
<path d="M464.2 141.5 C464.6 141.4 465.2 141.3 466 141.5 C466.8 141.8 467.8 142.6 468.9 142.8 C469.9 142.9 471.3 142.6 472.4 142.5 C473.6 142.4 474.9 142.1 475.8 142.2 C476.7 142.3 477.4 142.6 477.9 143 C478.4 143.5 478.8 144.2 478.9 144.8 C479 145.3 478.8 145.7 478.4 146.5 C478 147.3 477.2 148.5 476.7 149.6 C476.1 150.8 475.6 152.4 475 153.4 C474.4 154.3 473.5 154.6 472.8 155.2 C472 155.7 471.3 156 470.5 156.4 C469.8 156.8 468.9 157.2 468.2 157.7 C467.5 158.1 466.9 159.2 466.2 158.9 C465.4 158.6 464.5 156.8 463.6 155.8 C462.8 154.9 461.9 154.3 461.2 153.1 C460.5 152 459.6 150.3 459.4 149.1 C459.1 148 459.1 146.9 459.5 146.1 C459.9 145.3 461.1 144.9 461.7 144.3 C462.4 143.7 463 142.9 463.4 142.4 C463.8 142 463.8 141.7 464.2 141.5Z" fill="#c6c8cd"/>
<path d="M463 141.9h0.9v0.9h-0.9zM476.6 142.2h0.9v0.9h-0.9zM459.4 143.7h0.9v0.9h-0.9zM463.8 156.7h0.9v0.9h-0.9zM474.5 153.5h0.9v0.9h-0.9zM459.9 150.2h0.9v0.9h-0.9zM477.3 148.6h0.9v0.9h-0.9zM469.6 157.1h0.9v0.9h-0.9zM462.6 156.4h0.9v0.9h-0.9zM464.5 140.4h0.9v0.9h-0.9zM467.2 140.7h0.9v0.9h-0.9zM459.3 149.9h0.9v0.9h-0.9zM470.9 154.8h0.9v0.9h-0.9zM462.2 141h0.9v0.9h-0.9zM462.9 155.7h0.9v0.9h-0.9zM459.5 145.8h0.9v0.9h-0.9zM473.2 141.9h0.9v0.9h-0.9zM479.6 143.5h0.9v0.9h-0.9zM466.3 158.5h0.9v0.9h-0.9zM459.2 148h0.9v0.9h-0.9zM475.4 142h0.9v0.9h-0.9zM460.6 151.8h0.9v0.9h-0.9zM469.8 141.9h0.9v0.9h-0.9zM467 158h0.9v0.9h-0.9zM469.7 156.3h0.9v0.9h-0.9zM458.3 149h0.9v0.9h-0.9zM460.5 152.1h0.9v0.9h-0.9zM463.7 156.6h0.9v0.9h-0.9zM458.4 148.6h0.9v0.9h-0.9zM473.5 157.6h0.9v0.9h-0.9zM468.1 139.2h0.9v0.9h-0.9zM472.3 154.2h0.9v0.9h-0.9zM465.4 157.8h0.9v0.9h-0.9zM460.9 143.3h0.9v0.9h-0.9zM464 157.8h0.9v0.9h-0.9zM474.2 154.2h0.9v0.9h-0.9zM458.5 146.2h0.9v0.9h-0.9zM477.8 143.2h0.9v0.9h-0.9zM473.2 141.9h0.9v0.9h-0.9zM460.5 143.5h0.9v0.9h-0.9zM478.1 146.4h0.9v0.9h-0.9zM463.8 141.6h0.9v0.9h-0.9zM475.3 152.9h0.9v0.9h-0.9zM461.4 154.7h0.9v0.9h-0.9zM461.9 154.7h0.9v0.9h-0.9zM467.5 157.8h0.9v0.9h-0.9z" fill="#c6c8cd"/>
<path d="M461.6 144.6h0.8v0.8h-0.8zM473 145.3h0.8v0.8h-0.8zM470.7 150.5h0.8v0.8h-0.8zM462.5 144.5h0.8v0.8h-0.8zM465 142.6h0.8v0.8h-0.8zM467.5 146.3h0.8v0.8h-0.8zM472.3 151.2h0.8v0.8h-0.8zM471.5 151.5h0.8v0.8h-0.8zM464.4 150.3h0.8v0.8h-0.8zM471.5 142.2h0.8v0.8h-0.8zM464.7 141.9h0.8v0.8h-0.8zM467.9 151.4h0.8v0.8h-0.8zM460.9 152.5h0.8v0.8h-0.8zM465.7 146.2h0.8v0.8h-0.8zM461.6 149.8h0.8v0.8h-0.8zM475.2 150.2h0.8v0.8h-0.8zM464.6 146.9h0.8v0.8h-0.8zM477.2 143.3h0.8v0.8h-0.8zM465.9 142.2h0.8v0.8h-0.8zM459.9 149.9h0.8v0.8h-0.8zM473.2 148.8h0.8v0.8h-0.8zM470.5 154.4h0.8v0.8h-0.8zM476.6 145.7h0.8v0.8h-0.8zM473.5 149.4h0.8v0.8h-0.8zM462.9 154.9h0.8v0.8h-0.8zM469 143.9h0.8v0.8h-0.8zM471.8 154.7h0.8v0.8h-0.8zM467.8 148.8h0.8v0.8h-0.8zM464.2 142.5h0.8v0.8h-0.8zM474.3 144h0.8v0.8h-0.8zM471.1 144.4h0.8v0.8h-0.8z" fill="#fff" fill-opacity="0.7"/>
<path d="M450.3 154.8 C450.6 153.8 451.3 153.3 451.9 152.7 C452.5 152.1 453.1 151.7 453.9 151.3 C454.6 150.9 455.5 150.6 456.2 150.2 C456.9 149.8 457.6 149.4 458.2 149.1 C458.8 148.8 459.2 148 459.6 148.3 C460 148.7 460.1 150.1 460.8 151.2 C461.4 152.3 462.7 153.7 463.5 154.8 C464.3 156 464.7 156.9 465.5 157.8 C466.3 158.7 467.8 159.6 468.1 160.3 C468.4 160.9 468.1 161.5 467.5 161.8 C467 162.1 465.6 161.5 464.9 162.2 C464.2 162.8 463.7 164.5 463.4 165.7 C463.2 166.9 463.5 168.3 463.4 169.3 C463.3 170.4 463.4 171.6 462.9 172.1 C462.4 172.7 461.2 172.9 460.4 172.8 C459.6 172.6 458.6 172.1 457.9 171.4 C457.3 170.7 456.8 169.7 456.7 168.6 C456.6 167.5 457.6 165.9 457.4 164.9 C457.1 163.9 456.2 163.2 455.2 162.5 C454.3 161.9 452.8 161.8 451.9 161.1 C451 160.4 450.3 159.3 450 158.3 C449.7 157.2 450 155.7 450.3 154.8Z" fill="#c6c8cd"/>
<path d="M449.9 158.3h0.9v0.9h-0.9zM463.8 155.4h0.9v0.9h-0.9zM466.2 159h0.9v0.9h-0.9zM454.6 162.1h0.9v0.9h-0.9zM450.3 161.1h0.9v0.9h-0.9zM456.7 164.9h0.9v0.9h-0.9zM456.1 163.6h0.9v0.9h-0.9zM449.9 159.9h0.9v0.9h-0.9zM463.2 164.1h0.9v0.9h-0.9zM462.7 167.8h0.9v0.9h-0.9zM455 161.7h0.9v0.9h-0.9zM462.1 153.2h0.9v0.9h-0.9zM451.2 161h0.9v0.9h-0.9zM455 162.7h0.9v0.9h-0.9zM463 170.6h0.9v0.9h-0.9zM463.4 152.6h0.9v0.9h-0.9zM456.5 164.2h0.9v0.9h-0.9zM466.9 158.2h0.9v0.9h-0.9zM451.9 150.5h0.9v0.9h-0.9zM467.3 158.6h0.9v0.9h-0.9zM450.1 153.6h0.9v0.9h-0.9zM456.5 169.9h0.9v0.9h-0.9zM451.6 161.9h0.9v0.9h-0.9zM450.2 159.6h0.9v0.9h-0.9zM466.8 161.9h0.9v0.9h-0.9zM449.8 151.4h0.9v0.9h-0.9zM463.9 161.7h0.9v0.9h-0.9zM458.1 148.2h0.9v0.9h-0.9zM462.5 168.4h0.9v0.9h-0.9zM457.1 169.6h0.9v0.9h-0.9zM454.1 161.6h0.9v0.9h-0.9zM464.4 163.3h0.9v0.9h-0.9zM456.4 148.9h0.9v0.9h-0.9zM454.6 162.3h0.9v0.9h-0.9zM456.3 163.8h0.9v0.9h-0.9zM455.8 149.4h0.9v0.9h-0.9zM467.8 159.6h0.9v0.9h-0.9zM458.6 147.9h0.9v0.9h-0.9zM456.1 167.3h0.9v0.9h-0.9zM449.9 158.6h0.9v0.9h-0.9zM451.1 160.9h0.9v0.9h-0.9zM453.9 161.7h0.9v0.9h-0.9zM449.7 157.1h0.9v0.9h-0.9zM449.9 155.1h0.9v0.9h-0.9zM451.8 160.6h0.9v0.9h-0.9zM459 171.8h0.9v0.9h-0.9zM463.3 167.2h0.9v0.9h-0.9zM455.7 169.3h0.9v0.9h-0.9zM449.6 158.2h0.9v0.9h-0.9z" fill="#c6c8cd"/>
<path d="M461.7 158.8h0.8v0.8h-0.8zM455.1 158.4h0.8v0.8h-0.8zM457.6 162.1h0.8v0.8h-0.8zM461.6 153.9h0.8v0.8h-0.8zM463.5 158.9h0.8v0.8h-0.8zM465 159.8h0.8v0.8h-0.8zM459.1 160.9h0.8v0.8h-0.8zM453.9 158.3h0.8v0.8h-0.8zM465.3 158h0.8v0.8h-0.8zM463.5 160.5h0.8v0.8h-0.8zM460.7 163h0.8v0.8h-0.8zM458 161.9h0.8v0.8h-0.8zM456.3 161.9h0.8v0.8h-0.8zM463.3 155.3h0.8v0.8h-0.8zM451 158.1h0.8v0.8h-0.8zM461.5 167.2h0.8v0.8h-0.8zM458.7 163.8h0.8v0.8h-0.8zM458.2 163.9h0.8v0.8h-0.8zM459.4 162.9h0.8v0.8h-0.8zM460 167.3h0.8v0.8h-0.8zM456.8 166h0.8v0.8h-0.8zM463.8 155.7h0.8v0.8h-0.8zM461.3 162.4h0.8v0.8h-0.8zM466.5 160.6h0.8v0.8h-0.8zM457.2 156.5h0.8v0.8h-0.8zM457.9 150.6h0.8v0.8h-0.8zM459.8 163h0.8v0.8h-0.8zM462.2 164.6h0.8v0.8h-0.8zM458.3 162.4h0.8v0.8h-0.8zM460.1 160.7h0.8v0.8h-0.8zM464.2 157.5h0.8v0.8h-0.8z" fill="#fff" fill-opacity="0.7"/>
<path d="M425.2 154.3 C425.4 154.1 426.3 153.9 427.1 153.7 C427.8 153.5 429 153.7 429.8 152.9 C430.6 152.2 431.3 150.5 431.9 149.5 C432.4 148.5 432.5 147.7 433.2 147 C433.8 146.4 434.8 146.1 435.8 145.6 C436.8 145.2 438.3 144.5 439.1 144.2 C439.9 143.8 440.1 142.9 440.5 143.4 C440.9 143.9 441 146 441.4 147 C441.8 147.9 442.2 148.2 442.8 148.8 C443.4 149.5 444.3 150 444.9 150.8 C445.6 151.5 446.1 152.3 446.5 153.2 C447 154.1 447.5 155.2 447.6 156.3 C447.6 157.4 447.3 158.5 446.9 159.8 C446.6 161.2 446.4 163.6 445.4 164.5 C444.4 165.3 442.5 164.8 441 164.9 C439.5 164.9 437.6 164.6 436.3 164.6 C435 164.7 433.8 165.5 433.1 164.9 C432.4 164.3 432.7 162.2 432.2 161 C431.8 159.9 431.2 158.9 430.5 158 C429.9 157.1 429.3 156.2 428.5 155.7 C427.7 155.2 426.3 155.3 425.8 155 C425.2 154.8 425 154.5 425.2 154.3Z" fill="#c6c8cd"/>
<path d="M440.1 164.9h0.9v0.9h-0.9zM447.2 154h0.9v0.9h-0.9zM446.9 154h0.9v0.9h-0.9zM425.3 154.9h0.9v0.9h-0.9zM448.7 151h0.9v0.9h-0.9zM445.8 162.9h0.9v0.9h-0.9zM439.8 143.4h0.9v0.9h-0.9zM443.4 164.3h0.9v0.9h-0.9zM431.5 161.6h0.9v0.9h-0.9zM438.7 143.9h0.9v0.9h-0.9zM436.2 144.7h0.9v0.9h-0.9zM436.9 142.2h0.9v0.9h-0.9zM432.4 146.3h0.9v0.9h-0.9zM441 145.7h0.9v0.9h-0.9zM445.9 162.7h0.9v0.9h-0.9zM422.7 155.1h0.9v0.9h-0.9zM434 145.8h0.9v0.9h-0.9zM441.7 148h0.9v0.9h-0.9zM448.2 162h0.9v0.9h-0.9zM424.7 154.9h0.9v0.9h-0.9zM446.2 161.3h0.9v0.9h-0.9zM432.4 148.3h0.9v0.9h-0.9zM432.1 162.9h0.9v0.9h-0.9zM446.6 160.8h0.9v0.9h-0.9zM431.4 159h0.9v0.9h-0.9zM440.4 164.8h0.9v0.9h-0.9zM444.6 151h0.9v0.9h-0.9zM424.7 154.6h0.9v0.9h-0.9zM439.7 164.3h0.9v0.9h-0.9zM429.6 149.8h0.9v0.9h-0.9zM430.8 159.5h0.9v0.9h-0.9zM433.8 145.9h0.9v0.9h-0.9zM431.3 148h0.9v0.9h-0.9zM441.9 164.6h0.9v0.9h-0.9zM425.3 153.6h0.9v0.9h-0.9zM438 164.6h0.9v0.9h-0.9zM433.4 146.2h0.9v0.9h-0.9zM440.1 164.6h0.9v0.9h-0.9zM445.9 149.7h0.9v0.9h-0.9zM446.4 159.7h0.9v0.9h-0.9zM430.8 149.9h0.9v0.9h-0.9zM446.7 153.3h0.9v0.9h-0.9zM440.7 145.5h0.9v0.9h-0.9zM435.6 143.2h0.9v0.9h-0.9zM445.5 151.7h0.9v0.9h-0.9zM446.3 159.3h0.9v0.9h-0.9zM446.5 161h0.9v0.9h-0.9zM434.9 145.8h0.9v0.9h-0.9zM440.9 143.8h0.9v0.9h-0.9zM446.4 159.5h0.9v0.9h-0.9zM446.4 159.4h0.9v0.9h-0.9zM425.9 153.3h0.9v0.9h-0.9zM431.5 149.2h0.9v0.9h-0.9z" fill="#c6c8cd"/>
<path d="M433.8 152.8h0.8v0.8h-0.8zM443.6 159.1h0.8v0.8h-0.8zM444.1 155.7h0.8v0.8h-0.8zM431.6 159.1h0.8v0.8h-0.8zM433.2 160h0.8v0.8h-0.8zM432.7 160.3h0.8v0.8h-0.8zM433.4 164.3h0.8v0.8h-0.8zM439.4 160.1h0.8v0.8h-0.8zM427.4 153.4h0.8v0.8h-0.8zM436.6 150.7h0.8v0.8h-0.8zM440.3 151.4h0.8v0.8h-0.8zM436.4 161h0.8v0.8h-0.8zM431.7 158.8h0.8v0.8h-0.8zM437.2 153.1h0.8v0.8h-0.8zM436.2 164.1h0.8v0.8h-0.8zM436.7 163.2h0.8v0.8h-0.8zM435.3 150.7h0.8v0.8h-0.8zM442.8 160.9h0.8v0.8h-0.8zM442.2 154.3h0.8v0.8h-0.8zM440.2 144h0.8v0.8h-0.8zM427.7 153.2h0.8v0.8h-0.8zM439 146h0.8v0.8h-0.8zM434.5 151.4h0.8v0.8h-0.8zM442.3 162.5h0.8v0.8h-0.8zM433.7 161.7h0.8v0.8h-0.8zM433.1 161.5h0.8v0.8h-0.8zM439.9 148.8h0.8v0.8h-0.8zM442.3 154.8h0.8v0.8h-0.8zM440.9 157.1h0.8v0.8h-0.8zM438.8 156.2h0.8v0.8h-0.8zM434.7 146.4h0.8v0.8h-0.8zM446.8 155.9h0.8v0.8h-0.8zM434.5 156.5h0.8v0.8h-0.8zM444.4 156.2h0.8v0.8h-0.8zM439.2 145.2h0.8v0.8h-0.8zM441.2 160h0.8v0.8h-0.8zM433.2 159.4h0.8v0.8h-0.8zM440.5 155.1h0.8v0.8h-0.8zM433.2 159.2h0.8v0.8h-0.8z" fill="#fff" fill-opacity="0.7"/>
<path d="M432.7 164.4 C433.4 164.4 435.3 164.4 437.1 164.4 C438.9 164.4 442.4 164.3 443.7 164.4 C445 164.5 444.7 164.3 444.8 165 C445 165.6 444.8 167.3 444.5 168.4 C444.2 169.4 443 170.3 442.8 171.3 C442.7 172.3 443.3 173.3 443.5 174.4 C443.7 175.5 444.1 177 444.1 178 C444.2 179 444 179.8 443.6 180.6 C443.3 181.3 442.5 181.9 441.8 182.5 C441.1 183.2 440.2 184 439.6 184.6 C439 185.1 438.7 185.7 438.3 185.8 C437.8 185.9 437.3 185.5 436.8 185 C436.4 184.5 435.9 183.6 435.4 182.8 C435 182 434.4 181.2 434 180.3 C433.6 179.5 433.2 178.5 433 177.7 C432.8 176.8 432.8 176.1 432.8 175.1 C432.7 174 432.6 172.6 432.8 171.4 C432.9 170.2 433.4 168.9 433.4 167.7 C433.5 166.6 433.2 165.3 433.1 164.7 C433 164.2 432 164.5 432.7 164.4Z" fill="#c6c8cd"/>
<path d="M432.7 168.7h0.9v0.9h-0.9zM443.7 168.4h0.9v0.9h-0.9zM443.5 163.7h0.9v0.9h-0.9zM432.2 173.8h0.9v0.9h-0.9zM434.9 182.9h0.9v0.9h-0.9zM435 181.4h0.9v0.9h-0.9zM432 163.4h0.9v0.9h-0.9zM436.5 185h0.9v0.9h-0.9zM443.2 169.8h0.9v0.9h-0.9zM432.6 171.6h0.9v0.9h-0.9zM435.8 163.5h0.9v0.9h-0.9zM432.1 170h0.9v0.9h-0.9zM445.1 178.6h0.9v0.9h-0.9zM432.5 169h0.9v0.9h-0.9zM445.2 166.2h0.9v0.9h-0.9zM437.4 186.1h0.9v0.9h-0.9zM432.8 165.5h0.9v0.9h-0.9zM431.4 179h0.9v0.9h-0.9zM442.1 181.2h0.9v0.9h-0.9zM443.8 166.5h0.9v0.9h-0.9zM430.2 168.9h0.9v0.9h-0.9zM436.4 185.8h0.9v0.9h-0.9zM444.4 163.1h0.9v0.9h-0.9zM432.7 173.9h0.9v0.9h-0.9zM440.9 164.1h0.9v0.9h-0.9zM444 165.9h0.9v0.9h-0.9zM432.6 166.8h0.9v0.9h-0.9zM443.7 168.6h0.9v0.9h-0.9zM435.4 183.7h0.9v0.9h-0.9zM435.1 183h0.9v0.9h-0.9zM441.3 183.2h0.9v0.9h-0.9zM443.8 175.9h0.9v0.9h-0.9zM433 179.5h0.9v0.9h-0.9zM436.5 164.5h0.9v0.9h-0.9zM443.5 176.4h0.9v0.9h-0.9zM444.5 165.4h0.9v0.9h-0.9zM442.5 181.2h0.9v0.9h-0.9zM443.2 162.9h0.9v0.9h-0.9zM443 163.8h0.9v0.9h-0.9zM431.7 162.8h0.9v0.9h-0.9zM435.7 164.6h0.9v0.9h-0.9zM429.6 171.4h0.9v0.9h-0.9zM444.4 163.3h0.9v0.9h-0.9zM441.2 181.9h0.9v0.9h-0.9z" fill="#c6c8cd"/>
<path d="M441.2 179.4h0.8v0.8h-0.8zM438.4 168.2h0.8v0.8h-0.8zM433.2 168.6h0.8v0.8h-0.8zM435.9 175h0.8v0.8h-0.8zM439.4 173.1h0.8v0.8h-0.8zM439.5 166.9h0.8v0.8h-0.8zM437.1 166.7h0.8v0.8h-0.8zM435.2 171.2h0.8v0.8h-0.8zM438.7 180.6h0.8v0.8h-0.8zM435 171.8h0.8v0.8h-0.8zM437.2 172.2h0.8v0.8h-0.8zM437.9 168.8h0.8v0.8h-0.8zM442.2 177.9h0.8v0.8h-0.8zM432.8 175.8h0.8v0.8h-0.8zM440.4 177.9h0.8v0.8h-0.8zM433.7 175.7h0.8v0.8h-0.8zM436.9 179.2h0.8v0.8h-0.8zM433.7 175.8h0.8v0.8h-0.8zM438.5 181.9h0.8v0.8h-0.8zM437.1 183.4h0.8v0.8h-0.8zM443.8 165.4h0.8v0.8h-0.8zM432.9 172.3h0.8v0.8h-0.8zM437.4 173.3h0.8v0.8h-0.8zM433.5 166.7h0.8v0.8h-0.8zM438.4 169.1h0.8v0.8h-0.8zM438.4 166.7h0.8v0.8h-0.8zM433.9 180.4h0.8v0.8h-0.8zM441.4 180.7h0.8v0.8h-0.8z" fill="#fff" fill-opacity="0.7"/>
<path d="M445 187.9 C445.1 187.4 445.7 187.3 446.2 187.4 C446.6 187.5 447 188.2 447.7 188.7 C448.3 189.2 449.4 189.8 450.2 190.3 C451 190.8 451.9 191.2 452.7 191.7 C453.4 192.2 454.1 192.7 454.7 193.2 C455.3 193.8 455.9 194.4 456.1 194.9 C456.3 195.4 456.2 195.9 455.9 196.3 C455.6 196.6 455.2 197 454.4 197.1 C453.7 197.1 452.6 196.7 451.7 196.4 C450.8 196.1 450 195.7 449.3 195.1 C448.5 194.4 447.9 193.3 447.2 192.6 C446.6 191.9 445.8 191.4 445.4 190.6 C445 189.8 444.9 188.5 445 187.9Z" fill="#c6c8cd"/>
<path d="M453.1 192h0.9v0.9h-0.9zM454 192.2h0.9v0.9h-0.9zM454.7 193.3h0.9v0.9h-0.9zM447.3 192.1h0.9v0.9h-0.9zM454.4 192.2h0.9v0.9h-0.9zM449.6 189.5h0.9v0.9h-0.9zM447.3 194.6h0.9v0.9h-0.9zM450.3 196.1h0.9v0.9h-0.9zM453.4 191.8h0.9v0.9h-0.9zM446.3 191.7h0.9v0.9h-0.9zM446.5 191.5h0.9v0.9h-0.9zM454.4 193.6h0.9v0.9h-0.9zM455.2 192.6h0.9v0.9h-0.9zM445 189.1h0.9v0.9h-0.9zM454.3 196.3h0.9v0.9h-0.9zM455.5 195.7h0.9v0.9h-0.9zM447.8 195.4h0.9v0.9h-0.9zM456 196.6h0.9v0.9h-0.9zM453.6 192.2h0.9v0.9h-0.9zM448.2 188.4h0.9v0.9h-0.9zM444.4 189.7h0.9v0.9h-0.9z" fill="#c6c8cd"/>
<path d="M447.5 191.7h0.8v0.8h-0.8zM451.1 192.3h0.8v0.8h-0.8zM451.8 191.5h0.8v0.8h-0.8zM453.1 193h0.8v0.8h-0.8zM450.3 192.4h0.8v0.8h-0.8zM446.3 188.9h0.8v0.8h-0.8z" fill="#fff" fill-opacity="0.7"/>
<path d="M445.8 152.2 C445.7 151.7 446.2 150.6 446.6 149.9 C447 149.1 447.5 148.2 448.1 147.6 C448.6 147 449.3 146.4 449.9 146 C450.5 145.6 451 145.5 451.6 145.5 C452.2 145.5 453 145.8 453.7 146 C454.4 146.2 455.3 146.5 455.7 146.9 C456.2 147.3 456.6 147.9 456.6 148.3 C456.5 148.7 455.9 149.3 455.3 149.4 C454.8 149.5 453.9 149 453.2 148.7 C452.6 148.5 451.8 148.1 451.2 148.1 C450.5 148.1 450 148.4 449.5 148.7 C449 149.1 448.6 149.7 448.3 150.3 C447.9 150.9 447.6 152.1 447.2 152.4 C446.8 152.7 445.9 152.6 445.8 152.2Z" fill="#c6c8cd"/>
<path d="M448.5 143.7h0.9v0.9h-0.9zM453.4 148h0.9v0.9h-0.9zM455.7 149.2h0.9v0.9h-0.9zM447.3 146.7h0.9v0.9h-0.9zM451.3 144.8h0.9v0.9h-0.9zM448.5 149.1h0.9v0.9h-0.9zM452 145h0.9v0.9h-0.9zM445.4 152.6h0.9v0.9h-0.9zM449.9 148h0.9v0.9h-0.9zM455.3 146.5h0.9v0.9h-0.9zM455.7 147.5h0.9v0.9h-0.9zM447.7 149.1h0.9v0.9h-0.9zM454.7 148.7h0.9v0.9h-0.9zM447.1 150.6h0.9v0.9h-0.9zM453.6 145.1h0.9v0.9h-0.9zM447.7 150.3h0.9v0.9h-0.9zM447.3 150.2h0.9v0.9h-0.9zM446.3 149.2h0.9v0.9h-0.9zM447.5 147.1h0.9v0.9h-0.9zM446.5 146.8h0.9v0.9h-0.9zM447.7 146.7h0.9v0.9h-0.9z" fill="#c6c8cd"/>
<path d="M454.7 148h0.8v0.8h-0.8zM453.6 148.2h0.8v0.8h-0.8zM453 148.2h0.8v0.8h-0.8z" fill="#fff" fill-opacity="0.7"/>
<path d="M450.3 145.8 C450.6 145.4 451.7 145.3 452.4 145.3 C453.1 145.4 454.2 145.6 454.5 146 C454.8 146.4 454.7 147.3 454.3 147.6 C453.9 147.9 452.7 147.9 452 147.8 C451.3 147.8 450.6 147.7 450.3 147.4 C450 147 449.9 146.1 450.3 145.8Z" fill="#c6c8cd"/>
<path d="M454.9 146.6h0.9v0.9h-0.9zM453.4 147.3h0.9v0.9h-0.9zM449.2 144.6h0.9v0.9h-0.9zM450 145.4h0.9v0.9h-0.9zM453.9 146.2h0.9v0.9h-0.9zM453.8 147.8h0.9v0.9h-0.9zM452 145.1h0.9v0.9h-0.9zM453.6 146.8h0.9v0.9h-0.9zM449.8 143.3h0.9v0.9h-0.9z" fill="#c6c8cd"/>
<path d="M452.4 145.3h0.8v0.8h-0.8z" fill="#fff" fill-opacity="0.7"/>
<path d="M444.5 145.2 C444.7 145 445.3 144.7 445.8 144.4 C446.3 144.1 446.9 143.8 447.4 143.5 C448 143.2 448.6 142.8 448.9 142.8 C449.2 142.8 449.5 143.2 449.3 143.5 C449.1 143.8 448.4 144.1 447.8 144.4 C447.3 144.7 446.7 145.1 446.2 145.3 C445.7 145.5 445.1 145.8 444.9 145.8 C444.6 145.8 444.4 145.5 444.5 145.2Z" fill="#c6c8cd"/>
<path d="M443.9 144.9h0.9v0.9h-0.9zM444 144.5h0.9v0.9h-0.9zM444.8 144.5h0.9v0.9h-0.9zM443.8 144.7h0.9v0.9h-0.9zM448.3 143.6h0.9v0.9h-0.9zM445.2 143.9h0.9v0.9h-0.9zM449.1 142.4h0.9v0.9h-0.9zM443.6 146.2h0.9v0.9h-0.9zM444.2 145.4h0.9v0.9h-0.9zM444.6 143.4h0.9v0.9h-0.9zM446.3 144.1h0.9v0.9h-0.9z" fill="#c6c8cd"/>
<path d="M448.4 165.5h0.9v0.9h-0.9zM451.3 168.3h0.9v0.9h-0.9zM449.2 173.3h0.9v0.9h-0.9zM455.4 164.8h0.9v0.9h-0.9zM447.7 168.9h0.9v0.9h-0.9zM448.1 165.9h0.9v0.9h-0.9zM448.9 148.5h0.9v0.9h-0.9zM451.3 176.9h0.9v0.9h-0.9zM448.5 160.6h0.9v0.9h-0.9zM447.3 150h0.9v0.9h-0.9zM447.6 164.1h0.9v0.9h-0.9zM445.6 165.7h0.9v0.9h-0.9zM452.7 171h0.9v0.9h-0.9zM448.5 171.8h0.9v0.9h-0.9zM455.7 166h0.9v0.9h-0.9zM447.2 171.5h0.9v0.9h-0.9zM449.7 174.2h0.9v0.9h-0.9zM451.1 174.8h0.9v0.9h-0.9zM446.3 158.2h0.9v0.9h-0.9zM448.5 151.4h0.9v0.9h-0.9zM450.9 163.5h0.9v0.9h-0.9zM447.2 154.5h0.9v0.9h-0.9zM449.3 150.9h0.9v0.9h-0.9zM448.3 161.6h0.9v0.9h-0.9zM452.3 162.6h0.9v0.9h-0.9zM447.5 161h0.9v0.9h-0.9zM455 166.8h0.9v0.9h-0.9zM450.6 179.5h0.9v0.9h-0.9zM446.9 157.3h0.9v0.9h-0.9zM445.9 157.4h0.9v0.9h-0.9zM452.4 162.6h0.9v0.9h-0.9zM448.4 149.9h0.9v0.9h-0.9zM448.1 173h0.9v0.9h-0.9zM450.6 169.3h0.9v0.9h-0.9zM454.1 164.2h0.9v0.9h-0.9zM449.9 149.1h0.9v0.9h-0.9zM453.1 164.1h0.9v0.9h-0.9zM448.2 175h0.9v0.9h-0.9zM451.6 176.3h0.9v0.9h-0.9zM448.6 161.3h0.9v0.9h-0.9zM449.4 173.8h0.9v0.9h-0.9zM449.5 174.5h0.9v0.9h-0.9zM452.8 170.2h0.9v0.9h-0.9zM446.3 164.4h0.9v0.9h-0.9zM445.7 157.3h0.9v0.9h-0.9zM446.3 168.8h0.9v0.9h-0.9zM449.3 148.3h0.9v0.9h-0.9zM447.9 159.6h0.9v0.9h-0.9zM455.7 166h0.9v0.9h-0.9zM451.6 165.8h0.9v0.9h-0.9zM445.4 161.6h0.9v0.9h-0.9zM448.1 148.3h0.9v0.9h-0.9zM451.3 174.2h0.9v0.9h-0.9zM451.5 176.1h0.9v0.9h-0.9zM450.3 162.5h0.9v0.9h-0.9zM452.9 174.2h0.9v0.9h-0.9zM449.1 149.8h0.9v0.9h-0.9zM447.1 172.6h0.9v0.9h-0.9zM452.5 170.6h0.9v0.9h-0.9zM449.4 172.2h0.9v0.9h-0.9zM448.8 161.7h0.9v0.9h-0.9zM448.6 149h0.9v0.9h-0.9zM452.8 168.7h0.9v0.9h-0.9zM446.8 172h0.9v0.9h-0.9zM449 173.2h0.9v0.9h-0.9zM447.4 169.1h0.9v0.9h-0.9zM447.4 170.7h0.9v0.9h-0.9zM454.8 166.1h0.9v0.9h-0.9zM453.1 164.6h0.9v0.9h-0.9zM447.4 160.2h0.9v0.9h-0.9zM447.6 156.4h0.9v0.9h-0.9zM449.5 172.3h0.9v0.9h-0.9zM453.4 165.8h0.9v0.9h-0.9zM453.7 171.6h0.9v0.9h-0.9zM447.2 162.9h0.9v0.9h-0.9zM449.4 179.1h0.9v0.9h-0.9zM446.5 158.4h0.9v0.9h-0.9zM450.8 168.2h0.9v0.9h-0.9zM446.3 152.8h0.9v0.9h-0.9zM447.8 152.2h0.9v0.9h-0.9zM449.2 179.1h0.9v0.9h-0.9zM449.5 169.1h0.9v0.9h-0.9zM449.7 177.5h0.9v0.9h-0.9zM449.8 176.1h0.9v0.9h-0.9zM454 164.9h0.9v0.9h-0.9zM454.1 168.6h0.9v0.9h-0.9zM451.2 164.5h0.9v0.9h-0.9zM447.1 162.7h0.9v0.9h-0.9zM454.9 164.7h0.9v0.9h-0.9zM450.9 163.8h0.9v0.9h-0.9zM451.6 163.5h0.9v0.9h-0.9zM448.2 155.1h0.9v0.9h-0.9zM452.7 171.1h0.9v0.9h-0.9zM450.5 167.3h0.9v0.9h-0.9zM449.8 165.6h0.9v0.9h-0.9zM447.6 171h0.9v0.9h-0.9zM449.3 170.4h0.9v0.9h-0.9zM449.1 171.7h0.9v0.9h-0.9zM453.9 169.8h0.9v0.9h-0.9zM450.8 167.5h0.9v0.9h-0.9zM454.9 170h0.9v0.9h-0.9zM449.7 173.9h0.9v0.9h-0.9zM450.5 162.9h0.9v0.9h-0.9zM448.6 151.4h0.9v0.9h-0.9zM446.2 160.8h0.9v0.9h-0.9zM448 152.9h0.9v0.9h-0.9zM447.4 157.3h0.9v0.9h-0.9zM445.9 166.1h0.9v0.9h-0.9zM448.3 155.6h0.9v0.9h-0.9zM456 166.3h0.9v0.9h-0.9zM452.7 166.7h0.9v0.9h-0.9zM452.5 172.1h0.9v0.9h-0.9zM447.2 157.3h0.9v0.9h-0.9z" fill="#c6c8cd"/>
<path d="M409.5 156.5h1v1h-1zM410.4 156.8h1v1h-1zM411.5 156.4h1v1h-1zM412.5 155.5h1v1h-1zM413.2 154.7h1v1h-1zM414.6 154.3h1v1h-1zM415.4 154.7h1v1h-1zM416.1 154h1v1h-1zM417.1 154.1h1v1h-1zM418 154.2h1v1h-1zM419.1 153.8h1v1h-1zM419.9 153.7h1v1h-1zM420.4 154.2h1v1h-1zM421.5 153.8h1v1h-1zM422.1 154.3h1v1h-1zM423.1 153.8h1v1h-1zM424 154.1h1v1h-1zM424.3 153.9h1v1h-1z" fill="#b3b5bb"/>
<path d="M443.3 182h1v1h-1zM443.7 183.8h1v1h-1zM443.6 184h1v1h-1zM444 185.3h1v1h-1zM444.3 186h1v1h-1z" fill="#b3b5bb"/>
<path d="M452.1 129.7h0.9v0.9h-0.9zM451.9 128.2h0.9v0.9h-0.9zM451.8 127.5h0.9v0.9h-0.9zM450.7 127.8h0.9v0.9h-0.9zM451.4 127.7h0.9v0.9h-0.9zM452 129.2h0.9v0.9h-0.9zM450.5 130.8h0.9v0.9h-0.9z" fill="#c6c8cd"/>
<path d="M455.4 128.8h0.9v0.9h-0.9zM455.1 129.1h0.9v0.9h-0.9z" fill="#c6c8cd"/>
<path d="M442.2 143.5h0.9v0.9h-0.9zM442 143.6h0.9v0.9h-0.9z" fill="#c6c8cd"/>
<path d="M443.1 142.4h0.9v0.9h-0.9zM442.8 142.6h0.9v0.9h-0.9z" fill="#c6c8cd"/>
<path d="M443.4 141.3h0.9v0.9h-0.9zM443.5 141.4h0.9v0.9h-0.9z" fill="#c6c8cd"/>
<path d="M472.1 129h0.9v0.9h-0.9zM472.4 128.8h0.9v0.9h-0.9z" fill="#c6c8cd"/>
<path d="M447.8 164.4h0.9v0.9h-0.9zM449 164.5h0.9v0.9h-0.9zM447.9 164.5h0.9v0.9h-0.9zM449.6 163.5h0.9v0.9h-0.9zM446.4 164.6h0.9v0.9h-0.9zM448 165.6h0.9v0.9h-0.9zM450.5 165.7h0.9v0.9h-0.9zM448.9 166.1h0.9v0.9h-0.9zM449.4 165.5h0.9v0.9h-0.9z" fill="#c6c8cd"/>
<path d="M450.3 168.5h0.9v0.9h-0.9zM448.4 167.1h0.9v0.9h-0.9zM450.2 167.9h0.9v0.9h-0.9zM451.1 169h0.9v0.9h-0.9zM446.6 167.2h0.9v0.9h-0.9zM451.4 167.7h0.9v0.9h-0.9zM448 167.2h0.9v0.9h-0.9zM449.4 167.9h0.9v0.9h-0.9zM448.8 166.3h0.9v0.9h-0.9z" fill="#c6c8cd"/>
<path d="M454.4 168h0.9v0.9h-0.9zM454.3 169.2h0.9v0.9h-0.9zM452.7 167.4h0.9v0.9h-0.9zM452.7 168.4h0.9v0.9h-0.9zM453 168.2h0.9v0.9h-0.9z" fill="#c6c8cd"/>
<path d="M449.4 172.8h0.9v0.9h-0.9zM449.6 173.5h0.9v0.9h-0.9zM449.6 172.6h0.9v0.9h-0.9zM449.5 172.9h0.9v0.9h-0.9zM447.6 173.7h0.9v0.9h-0.9zM450.9 171.6h0.9v0.9h-0.9zM447.8 173.7h0.9v0.9h-0.9z" fill="#c6c8cd"/>
<path d="M450.7 179.1h0.9v0.9h-0.9zM450 178.7h0.9v0.9h-0.9zM450.5 177.7h0.9v0.9h-0.9z" fill="#c6c8cd"/>
<path d="M451.6 174.9h0.9v0.9h-0.9zM450.6 174h0.9v0.9h-0.9zM451.4 172.9h0.9v0.9h-0.9zM451.3 176h0.9v0.9h-0.9z" fill="#c6c8cd"/>
<path d="M437.6 187.2h0.9v0.9h-0.9zM437.8 186.6h0.9v0.9h-0.9zM437.4 187.7h0.9v0.9h-0.9zM437.3 188.2h0.9v0.9h-0.9zM437.9 189.9h0.9v0.9h-0.9zM437.9 186.6h0.9v0.9h-0.9z" fill="#c6c8cd"/>
<path d="M461.6 176.4h0.9v0.9h-0.9zM460.7 176.2h0.9v0.9h-0.9zM458.8 176.6h0.9v0.9h-0.9zM461.9 177.4h0.9v0.9h-0.9zM463.4 176.8h0.9v0.9h-0.9z" fill="#c6c8cd"/>
<path d="M447.3 171.6h0.9v0.9h-0.9zM447.3 171h0.9v0.9h-0.9z" fill="#c6c8cd"/>
<path d="M444.3 159.6h1v1h-1zM430.1 152.4h1v1h-1zM441 153h1v1h-1zM440.4 159.3h1v1h-1zM432.6 150.2h1v1h-1zM427.7 152.6h1v1h-1zM444.1 157.7h1v1h-1zM444.9 153.8h1v1h-1zM440.6 148.6h1v1h-1zM433.5 157h1v1h-1zM437.8 147.4h1v1h-1zM432.7 163.9h1v1h-1zM440.7 150.1h1v1h-1zM437.7 161h1v1h-1zM434.2 162.4h1v1h-1zM433.4 153.7h1v1h-1zM434.1 154.2h1v1h-1zM446 155.7h1v1h-1zM437.8 144.2h1v1h-1zM425.2 154.3h1v1h-1zM446.9 157.5h1v1h-1zM438.1 146.6h1v1h-1zM436.9 161.2h1v1h-1zM432.3 163.5h1v1h-1zM443.4 154.9h1v1h-1zM434 155h1v1h-1zM442.7 156.6h1v1h-1zM441.6 162.5h1v1h-1zM441.6 157.7h1v1h-1zM435.3 149.8h1v1h-1zM436.2 154.6h1v1h-1zM445 163.4h1v1h-1zM436.5 146.6h1v1h-1zM443.1 163.5h1v1h-1zM438.2 153.3h1v1h-1zM434.7 148.1h1v1h-1zM439 148.8h1v1h-1zM433.5 159.8h1v1h-1zM438.2 145.5h1v1h-1zM429.9 152.8h1v1h-1zM424.8 154h1v1h-1zM433 154.8h1v1h-1zM444.1 156.8h1v1h-1zM430.2 151.9h1v1h-1zM440.6 147.3h1v1h-1z" fill="#f0907a"/>
<path d="M443 169.2h1v1h-1zM436 165.6h1v1h-1zM439.6 179h1v1h-1zM432.9 168h1v1h-1zM433.9 180.2h1v1h-1zM439.6 165.1h1v1h-1zM436.5 170.1h1v1h-1zM435.1 175.3h1v1h-1zM434.8 166.7h1v1h-1zM439.1 182.5h1v1h-1zM433.9 164.1h1v1h-1zM433 170.2h1v1h-1zM438.9 174.6h1v1h-1zM440.3 182.1h1v1h-1zM444.4 165.5h1v1h-1zM441 180.2h1v1h-1zM434.1 169.4h1v1h-1zM434.4 180h1v1h-1zM434.2 165.8h1v1h-1zM437.3 164.5h1v1h-1zM439.3 166.7h1v1h-1zM438.7 168.4h1v1h-1zM437 170.1h1v1h-1zM439.4 172.5h1v1h-1zM443.3 175.4h1v1h-1zM438.6 167.1h1v1h-1zM442.8 168.8h1v1h-1zM444.5 164.9h1v1h-1zM437.6 165.5h1v1h-1zM435.4 172h1v1h-1zM432.5 163.8h1v1h-1zM438.1 165.4h1v1h-1zM437.8 168.9h1v1h-1zM440.4 179.4h1v1h-1zM434.8 180.9h1v1h-1zM442.9 178.1h1v1h-1zM434.8 181.1h1v1h-1zM435.5 181.9h1v1h-1zM442.8 178.2h1v1h-1zM438.5 170.9h1v1h-1zM440.1 182.4h1v1h-1zM443.4 166.8h1v1h-1zM441 168.9h1v1h-1z" fill="#ec6a50"/>
<path d="M445.2 188.5h1v1h-1zM452.5 191.6h1v1h-1zM453.8 195h1v1h-1zM451.7 195.7h1v1h-1zM444.9 188.1h1v1h-1zM445.9 191.1h1v1h-1zM449.8 189.6h1v1h-1zM455.5 195.6h1v1h-1zM446.2 190.4h1v1h-1zM449.9 192h1v1h-1zM445.2 189.7h1v1h-1zM449.7 193.5h1v1h-1zM452.7 195.7h1v1h-1zM447.5 188.9h1v1h-1zM450 191.5h1v1h-1zM446 191.6h1v1h-1zM449.1 194.2h1v1h-1zM452.7 194.3h1v1h-1zM451.9 195.8h1v1h-1zM447.2 190.4h1v1h-1zM446.4 188.2h1v1h-1zM450.2 195.5h1v1h-1zM454 195.5h1v1h-1zM450.2 192.1h1v1h-1zM452.9 192.6h1v1h-1zM451 193.5h1v1h-1zM451.7 193.9h1v1h-1zM449.9 189.8h1v1h-1zM445.5 190.4h1v1h-1zM455.3 193.9h1v1h-1zM448.7 191.5h1v1h-1zM454.5 192.8h1v1h-1zM451.4 191.9h1v1h-1z" fill="#dc4a3a"/>
<path d="M462.7 161.4h1v1h-1zM460.6 156.8h1v1h-1zM453.9 154.8h1v1h-1zM454.9 161.4h1v1h-1zM458.4 161.2h1v1h-1zM461.8 169.4h1v1h-1zM457.7 168.9h1v1h-1zM461.6 165h1v1h-1zM461.2 155.3h1v1h-1zM456.7 166.9h1v1h-1zM453.4 158.2h1v1h-1zM458.9 163h1v1h-1z" fill="#e06050"/>
<path d="M459.7 153.5h1v1h-1zM455.8 160.8h1v1h-1zM456.4 149.9h1v1h-1zM454.7 153.9h1v1h-1zM464.5 161.3h1v1h-1zM461.8 152.3h1v1h-1zM458.5 156.1h1v1h-1zM454.4 160.3h1v1h-1zM461.2 162.2h1v1h-1zM465.5 157.9h1v1h-1zM455.4 155.6h1v1h-1zM459.9 154.3h1v1h-1zM466.8 161.5h1v1h-1zM462.5 160.1h1v1h-1zM451.1 156.6h1v1h-1zM460.1 155.9h1v1h-1zM467.3 160.3h1v1h-1zM452.8 156.9h1v1h-1zM455 151.4h1v1h-1zM466.4 160.5h1v1h-1zM458.7 150.8h1v1h-1zM461.3 156.4h1v1h-1zM463.5 159.5h1v1h-1zM456.3 150.2h1v1h-1zM460.3 150.4h1v1h-1zM451.3 156.5h1v1h-1zM452 151.8h1v1h-1zM454.9 151.3h1v1h-1zM460.5 154.5h1v1h-1zM463.6 156.7h1v1h-1zM458.2 151.2h1v1h-1zM459.8 152.1h1v1h-1zM454.6 154.8h1v1h-1zM451.2 157.1h1v1h-1zM466.1 160.5h1v1h-1zM455.3 161.6h1v1h-1zM454.3 153.3h1v1h-1zM451.8 159.5h1v1h-1zM457.8 156.6h1v1h-1zM451.5 158.7h1v1h-1zM459 160.7h1v1h-1zM457.2 153.5h1v1h-1zM463.5 160.3h1v1h-1zM452.9 153.1h1v1h-1zM461.7 155.9h1v1h-1zM456.3 157.7h1v1h-1zM458.2 162.3h1v1h-1zM457.1 156.6h1v1h-1zM453.1 161.6h1v1h-1zM458.3 159.1h1v1h-1zM454.9 154.2h1v1h-1zM451.6 160.6h1v1h-1zM453.6 157.6h1v1h-1zM456.9 160.4h1v1h-1zM461.9 154.3h1v1h-1zM457.7 155.2h1v1h-1zM452.5 160.5h1v1h-1zM452.9 159.1h1v1h-1zM452.7 155.4h1v1h-1zM449.9 154.3h1v1h-1zM459.5 158.3h1v1h-1zM455.6 157.2h1v1h-1zM459.2 148.8h1v1h-1zM461.7 155.3h1v1h-1zM458.5 154.3h1v1h-1zM462.3 154.5h1v1h-1zM460.2 153.4h1v1h-1zM461.2 161.9h1v1h-1zM457.8 157.3h1v1h-1zM457.1 162h1v1h-1zM452.2 158.9h1v1h-1zM462.3 159.7h1v1h-1zM459.1 158.5h1v1h-1zM451.8 157.8h1v1h-1zM454.7 156.1h1v1h-1zM453.7 151.4h1v1h-1zM451.8 155.4h1v1h-1zM458.4 156.1h1v1h-1zM460 162.6h1v1h-1zM454.7 158h1v1h-1zM461.6 152.6h1v1h-1zM459.8 149.9h1v1h-1zM452.7 159.5h1v1h-1zM458.6 158.8h1v1h-1zM464.1 157.5h1v1h-1zM453.9 161.2h1v1h-1zM459.5 157.8h1v1h-1zM461 154.7h1v1h-1zM455.4 160.1h1v1h-1zM464 158.9h1v1h-1zM464.7 158.9h1v1h-1zM459.8 162.1h1v1h-1zM454.9 159.1h1v1h-1zM457.1 161.1h1v1h-1zM464.4 161.6h1v1h-1zM458.1 161.9h1v1h-1zM461.7 154.8h1v1h-1zM450.9 154.4h1v1h-1zM454.7 155.7h1v1h-1zM449.6 155.1h1v1h-1zM463.2 158.4h1v1h-1zM459.7 150.3h1v1h-1zM458.1 149.3h1v1h-1zM452.5 156.3h1v1h-1zM451.8 151.8h1v1h-1z" fill="#cc3428"/>
<path d="M471.3 144.1h1v1h-1zM459.5 144.8h1v1h-1zM471 145.7h1v1h-1zM468.8 144.5h1v1h-1zM464.9 156.8h1v1h-1zM478 144.6h1v1h-1zM463.7 144.8h1v1h-1zM470 142.7h1v1h-1zM464 146.1h1v1h-1zM468.3 154.7h1v1h-1zM465.6 150.5h1v1h-1zM466.7 156.5h1v1h-1zM467.5 148.2h1v1h-1zM465.8 146.2h1v1h-1zM458.8 146.3h1v1h-1zM467.8 153.3h1v1h-1zM463.6 148.3h1v1h-1zM462.4 143.8h1v1h-1zM466.2 147.3h1v1h-1zM465.5 147.4h1v1h-1zM468.3 156.2h1v1h-1zM465 149.9h1v1h-1zM468.4 152.2h1v1h-1zM467.7 154.6h1v1h-1zM470.6 154.8h1v1h-1zM473.7 147.8h1v1h-1zM459.9 147.5h1v1h-1zM469 153h1v1h-1zM470.4 155.7h1v1h-1zM461.3 151.4h1v1h-1zM476.9 147.7h1v1h-1zM466.8 151.7h1v1h-1zM463.2 153.4h1v1h-1zM462.2 149.9h1v1h-1zM470.5 152.7h1v1h-1zM477.3 142.6h1v1h-1zM476 142.2h1v1h-1zM475.1 150.8h1v1h-1zM468.4 151.5h1v1h-1zM465.3 143h1v1h-1zM463.5 141.2h1v1h-1zM477.3 143.1h1v1h-1zM468.6 154.4h1v1h-1zM465.1 156.8h1v1h-1zM462.8 145.2h1v1h-1zM463.4 144.8h1v1h-1zM473.1 146.5h1v1h-1zM470.2 148.8h1v1h-1zM464.6 154.4h1v1h-1zM459.9 147.4h1v1h-1zM464.7 147.1h1v1h-1zM465.1 148.4h1v1h-1zM462.5 148h1v1h-1zM471.8 149h1v1h-1zM463.3 142h1v1h-1zM473.1 152.5h1v1h-1zM473.9 149h1v1h-1zM476.2 147.8h1v1h-1zM461.6 148.2h1v1h-1zM464.9 144h1v1h-1zM466.4 156.7h1v1h-1zM459.4 149.9h1v1h-1zM475.8 143.6h1v1h-1zM473.5 151.1h1v1h-1zM465.7 149.9h1v1h-1zM463.1 148.9h1v1h-1zM469.2 145h1v1h-1zM463.5 141.4h1v1h-1zM470.2 148.7h1v1h-1zM472 148.7h1v1h-1zM466.9 152.4h1v1h-1zM463.2 150h1v1h-1zM464.3 156h1v1h-1zM465.2 147.1h1v1h-1zM474.2 151h1v1h-1zM464.6 144.8h1v1h-1zM475.6 149.2h1v1h-1zM476.5 144.3h1v1h-1zM463.5 155h1v1h-1zM465.7 145.7h1v1h-1zM466.2 141.8h1v1h-1zM474.7 150.1h1v1h-1zM463.8 152.9h1v1h-1zM463.3 150.1h1v1h-1zM469.9 143.9h1v1h-1zM470.9 150h1v1h-1zM468.8 143h1v1h-1zM462.6 148.8h1v1h-1zM472.2 147.1h1v1h-1zM466.4 142.8h1v1h-1zM468.7 148.7h1v1h-1zM468.1 146.8h1v1h-1zM466.7 149.5h1v1h-1zM469.6 155h1v1h-1zM468.2 154.1h1v1h-1zM468.7 152.7h1v1h-1zM468 144.2h1v1h-1zM463 144.9h1v1h-1zM464.7 153h1v1h-1zM468.3 149.5h1v1h-1zM464.1 141.5h1v1h-1zM475.9 142.6h1v1h-1zM460.1 148.4h1v1h-1zM463.7 141.1h1v1h-1zM471.5 153.1h1v1h-1zM473.5 146.5h1v1h-1zM466 143.3h1v1h-1zM466.3 141.4h1v1h-1zM466.3 148.2h1v1h-1zM467.3 151.6h1v1h-1zM464.8 148.4h1v1h-1zM465.5 152.8h1v1h-1zM463 145.8h1v1h-1zM463.2 143.1h1v1h-1zM468.8 150.2h1v1h-1zM466.6 152.2h1v1h-1zM467.5 149h1v1h-1zM476.3 147.8h1v1h-1zM462 154.2h1v1h-1zM477.1 145.6h1v1h-1zM464.8 151.5h1v1h-1zM471.9 151.9h1v1h-1zM462.5 151.8h1v1h-1zM469.4 151.2h1v1h-1zM460.4 147.2h1v1h-1zM473.4 147.6h1v1h-1zM462.7 142.3h1v1h-1zM465.9 158.3h1v1h-1zM461.2 152.3h1v1h-1zM465.3 147.9h1v1h-1zM464.5 152.5h1v1h-1zM475.1 150.9h1v1h-1zM470.1 147.6h1v1h-1zM476.4 148.7h1v1h-1zM475.7 143.4h1v1h-1zM465.8 157.6h1v1h-1zM462.9 147.5h1v1h-1zM477.7 142.6h1v1h-1zM459.8 150.4h1v1h-1zM464.8 157.1h1v1h-1zM474.2 153.2h1v1h-1zM472.7 152.6h1v1h-1zM468.6 145.2h1v1h-1zM463.9 153.4h1v1h-1zM466.4 152.9h1v1h-1zM466.9 144h1v1h-1zM463.5 148.6h1v1h-1zM472.6 150.1h1v1h-1zM463.3 147.7h1v1h-1zM468.4 149.8h1v1h-1zM461.5 151.4h1v1h-1zM469.9 146.5h1v1h-1zM464 148.1h1v1h-1zM468.8 156.6h1v1h-1zM459.9 146.1h1v1h-1zM466.7 146.1h1v1h-1zM469.5 147.7h1v1h-1zM476.5 143.5h1v1h-1zM470.4 148.5h1v1h-1zM471 154.3h1v1h-1zM468.8 149.1h1v1h-1zM468.8 148.9h1v1h-1zM472.3 154.5h1v1h-1zM474.6 143.3h1v1h-1zM467 152.5h1v1h-1zM472.9 154.3h1v1h-1zM466 143.1h1v1h-1zM473.2 146.2h1v1h-1zM469.2 145.2h1v1h-1zM472.6 142.6h1v1h-1zM462.7 154.6h1v1h-1zM469.5 142.1h1v1h-1zM471.1 152.3h1v1h-1zM469.2 143.4h1v1h-1zM462 149.4h1v1h-1zM459.6 147.2h1v1h-1zM464.6 141.9h1v1h-1zM465.3 148.8h1v1h-1zM468.4 153.9h1v1h-1zM462.2 143.3h1v1h-1zM460.4 152.1h1v1h-1z" fill="#c02a22"/>
<path d="M465.5 135.7h1v1h-1zM455.6 139.6h1v1h-1zM460 135.2h1v1h-1zM461.6 137.6h1v1h-1zM454.3 142.7h1v1h-1zM455.8 141.4h1v1h-1zM456.1 144.4h1v1h-1zM456.2 143.3h1v1h-1zM464 126.2h1v1h-1zM464.7 129h1v1h-1zM455.9 134.7h1v1h-1zM453.7 144.6h1v1h-1zM458.8 139.9h1v1h-1zM463.2 128h1v1h-1zM454.6 141.4h1v1h-1zM459.4 135h1v1h-1zM453.7 144.3h1v1h-1zM455.3 141.1h1v1h-1zM454.9 135.4h1v1h-1zM466.5 125.8h1v1h-1zM457.9 136.8h1v1h-1zM462.5 127.2h1v1h-1zM456.6 137.3h1v1h-1zM453.9 143.4h1v1h-1zM459.2 135.4h1v1h-1zM457.2 132.4h1v1h-1zM461.1 136.3h1v1h-1zM455.4 137.8h1v1h-1zM452.5 138.6h1v1h-1zM458.2 133.8h1v1h-1zM460.7 130.1h1v1h-1zM459.7 130.5h1v1h-1zM466.1 131.3h1v1h-1zM463.9 133.2h1v1h-1zM464.3 128.7h1v1h-1zM460.2 130.4h1v1h-1zM462.4 137.4h1v1h-1zM457.8 141.9h1v1h-1zM461.5 128.5h1v1h-1zM452.4 136.9h1v1h-1zM460.8 128.7h1v1h-1zM458.2 132.6h1v1h-1zM460.1 141.1h1v1h-1zM464.6 135.5h1v1h-1zM455.3 136.1h1v1h-1zM458.7 134.8h1v1h-1zM457.8 140.6h1v1h-1zM452.3 138h1v1h-1zM460.4 141.1h1v1h-1zM461.6 141.7h1v1h-1zM462.5 140.9h1v1h-1zM452.9 140.3h1v1h-1zM459.1 142.9h1v1h-1zM458.3 132.4h1v1h-1zM463.3 128h1v1h-1zM463.5 137.9h1v1h-1zM456.2 133.4h1v1h-1zM453.3 136.6h1v1h-1zM453.6 138.4h1v1h-1zM454 136.4h1v1h-1zM459.6 132.8h1v1h-1zM462.7 135.3h1v1h-1zM454.7 143.8h1v1h-1zM466.6 124.5h1v1h-1zM453.9 135.7h1v1h-1zM458.9 143.2h1v1h-1zM462.3 136.2h1v1h-1zM458.3 141.7h1v1h-1zM462.1 129h1v1h-1zM458.8 139.2h1v1h-1zM458.2 143.7h1v1h-1zM462.1 129.1h1v1h-1zM456.3 141.5h1v1h-1zM462.9 128.4h1v1h-1zM463.8 131.3h1v1h-1zM465.4 131.3h1v1h-1zM457 134.6h1v1h-1zM458.3 133.4h1v1h-1zM465.3 131.3h1v1h-1zM464.9 137.2h1v1h-1zM461.6 130.4h1v1h-1zM455 143.4h1v1h-1zM456.8 136.5h1v1h-1zM453.2 137.5h1v1h-1zM460.7 135.8h1v1h-1zM454.6 145.3h1v1h-1zM452.3 137.1h1v1h-1zM463.3 137.5h1v1h-1zM458.3 132.3h1v1h-1zM461.3 134.4h1v1h-1zM457.2 136h1v1h-1zM465.5 131.7h1v1h-1zM458.7 134.6h1v1h-1zM458.3 139.8h1v1h-1zM460 134.5h1v1h-1zM457.7 140.5h1v1h-1zM453.7 137.3h1v1h-1zM454.6 137.3h1v1h-1zM457.4 132.7h1v1h-1zM457 138.2h1v1h-1zM466.3 131.2h1v1h-1zM459.3 139.7h1v1h-1zM465.1 136.1h1v1h-1zM454.8 145.5h1v1h-1zM453.1 144.3h1v1h-1zM454 133.6h1v1h-1zM465.5 127.2h1v1h-1zM457 140.3h1v1h-1zM462.7 132.1h1v1h-1zM458.9 142.5h1v1h-1zM458.3 132.3h1v1h-1zM460.1 137.1h1v1h-1zM454.6 144.3h1v1h-1zM459.6 129.9h1v1h-1zM466.8 128.7h1v1h-1zM459.4 141.4h1v1h-1z" fill="#cc3528"/>
<path d="M441.3 131.7h1v1h-1zM440.3 129.9h1v1h-1zM439.6 128.5h1v1h-1zM442 130.3h1v1h-1z" fill="#f4a08a"/>
<path d="M446.7 166.6h1v1h-1zM448.2 159.5h1v1h-1zM448.9 151h1v1h-1zM450 165.1h1v1h-1zM448.8 175.4h1v1h-1zM452.6 168.9h1v1h-1zM448.2 164.4h1v1h-1zM448.8 171.7h1v1h-1zM449.7 174h1v1h-1zM449.3 148.7h1v1h-1zM450.8 162.3h1v1h-1zM449.4 163.2h1v1h-1zM452.1 162.5h1v1h-1zM448 175.7h1v1h-1zM447.7 149.6h1v1h-1zM453.9 165.9h1v1h-1zM452.5 172.2h1v1h-1zM446.2 169.7h1v1h-1zM453.6 163.4h1v1h-1zM447.7 158.6h1v1h-1z" fill="#e06050"/>
<path d="M409.3 156.8h1v1h-1zM410.3 156.5h1v1h-1zM411.3 156h1v1h-1zM412.6 155.7h1v1h-1zM413.2 155.2h1v1h-1zM414.5 154.5h1v1h-1zM415.2 154.4h1v1h-1zM416.6 154.2h1v1h-1zM418 153.9h1v1h-1zM419.4 153.7h1v1h-1zM420.5 154h1v1h-1zM421.4 153.4h1v1h-1zM423.1 153.4h1v1h-1zM424.3 154.2h1v1h-1z" fill="#f0a090"/>
</g>
</g>
<g font-size="11.2" font-style="italic" text-anchor="middle" fill="#111" stroke="#111" stroke-width="0.15">
<text x="273.5" y="20.6">TPSAB1</text>
<text x="368.7" y="20.6">TPSB2</text>
<text x="454.7" y="20.6">HDC</text>
<text x="273.7" y="119.3">FCER1A</text>
<text x="369.4" y="119.3">MS4A2</text>
<text x="454.2" y="119.3">FCER1G</text>
</g>
<rect x="496.5" y="59.9" width="3.6" height="96.4" fill="url(#gR)" stroke="#111" stroke-width="1"/>
<g font-size="11" fill="#111">
<text x="487" y="53.4">High</text>
<text x="488.5" y="167.7">Low</text>
</g>
<!-- Panel C -->
<g id="pC">
<path d="M74.6 264.3 C75.2 263.4 75.4 262.1 76.6 261.4 C77.8 260.8 80.3 260.3 81.8 260.3 C83.3 260.3 84.7 260.6 85.6 261.4 C86.6 262.2 86.7 263.6 87.7 265.1 C88.6 266.7 90.1 269.3 91.3 270.8 C92.5 272.3 93.9 272.6 94.9 274 C96 275.4 97.3 277.5 97.8 279 C98.4 280.6 98.4 282.4 98.3 283.4 C98.1 284.3 98 284.7 97.1 284.7 C96.2 284.7 94.6 283.9 93.1 283.4 C91.6 282.8 89.9 282.1 88 281.4 C86.2 280.7 83.9 279.9 82.2 279.1 C80.6 278.4 79.3 277.9 78.1 276.7 C76.8 275.6 75.4 273.9 74.6 272.3 C73.8 270.7 73.3 268.5 73.3 267.2 C73.3 265.9 74.1 265.3 74.6 264.3Z" fill="#c6c8cd"/>
<path d="M81.4 260.3h1.1v1.1h-1.1zM73.1 263.8h1.1v1.1h-1.1zM99.7 280.1h1.1v1.1h-1.1zM85.7 262.4h1.1v1.1h-1.1zM75.5 274h1.1v1.1h-1.1zM90.3 282.1h1.1v1.1h-1.1zM92.3 282.5h1.1v1.1h-1.1zM83.3 280.3h1.1v1.1h-1.1zM86.8 261.8h1.1v1.1h-1.1zM82.5 260.3h1.1v1.1h-1.1zM94.2 283.4h1.1v1.1h-1.1zM97.5 278.2h1.1v1.1h-1.1zM72.8 266h1.1v1.1h-1.1zM92.5 268.6h1.1v1.1h-1.1zM95.5 274.8h1.1v1.1h-1.1zM90.7 282.5h1.1v1.1h-1.1zM96.4 283.6h1.1v1.1h-1.1zM93.1 272.7h1.1v1.1h-1.1zM89.9 282.3h1.1v1.1h-1.1zM82.7 260.6h1.1v1.1h-1.1zM85.7 280h1.1v1.1h-1.1zM72.9 264.8h1.1v1.1h-1.1zM78.1 276.3h1.1v1.1h-1.1zM83 278.6h1.1v1.1h-1.1zM72.1 262.5h1.1v1.1h-1.1zM86.2 261.7h1.1v1.1h-1.1zM77.4 259.8h1.1v1.1h-1.1zM97.2 282.1h1.1v1.1h-1.1zM97.1 285h1.1v1.1h-1.1zM95 272.4h1.1v1.1h-1.1zM85.8 262h1.1v1.1h-1.1zM97.9 282.5h1.1v1.1h-1.1zM85.7 260h1.1v1.1h-1.1zM92.3 270.7h1.1v1.1h-1.1zM94.8 274h1.1v1.1h-1.1zM95.1 274.2h1.1v1.1h-1.1zM93.6 273h1.1v1.1h-1.1zM89.4 268h1.1v1.1h-1.1zM78.3 276.6h1.1v1.1h-1.1zM94.8 285.1h1.1v1.1h-1.1zM97.8 280.4h1.1v1.1h-1.1zM78 259.8h1.1v1.1h-1.1zM97.7 285.8h1.1v1.1h-1.1zM86.3 262.7h1.1v1.1h-1.1zM92.3 282.8h1.1v1.1h-1.1z" fill="#c6c8cd"/>
<path d="M81.5 275.3h0.9v0.9h-0.9zM94.7 281.8h0.9v0.9h-0.9zM77.9 265.9h0.9v0.9h-0.9zM82.8 267.4h0.9v0.9h-0.9zM84.6 269.4h0.9v0.9h-0.9zM90.7 271.2h0.9v0.9h-0.9zM79.6 273h0.9v0.9h-0.9zM93.4 273.5h0.9v0.9h-0.9zM92.8 272.6h0.9v0.9h-0.9zM85.3 268.3h0.9v0.9h-0.9zM85.9 270.5h0.9v0.9h-0.9zM83.4 260.6h0.9v0.9h-0.9zM90.9 281.6h0.9v0.9h-0.9zM92.4 280.6h0.9v0.9h-0.9zM96.7 280.8h0.9v0.9h-0.9zM78.8 262.8h0.9v0.9h-0.9zM95.8 278.4h0.9v0.9h-0.9zM85.8 262.5h0.9v0.9h-0.9zM86.5 276.4h0.9v0.9h-0.9zM88.4 272.2h0.9v0.9h-0.9zM83.7 274.5h0.9v0.9h-0.9zM92.5 272.5h0.9v0.9h-0.9zM77.6 275.8h0.9v0.9h-0.9zM78.7 262.8h0.9v0.9h-0.9zM84.9 263h0.9v0.9h-0.9zM76 273.5h0.9v0.9h-0.9zM76 267.1h0.9v0.9h-0.9zM87.9 274.9h0.9v0.9h-0.9zM92.6 278.4h0.9v0.9h-0.9zM79.8 264.2h0.9v0.9h-0.9zM79.2 270.1h0.9v0.9h-0.9zM75.8 270.5h0.9v0.9h-0.9zM83.1 275.8h0.9v0.9h-0.9zM85.1 270.4h0.9v0.9h-0.9zM83.9 267.4h0.9v0.9h-0.9zM81.8 266.8h0.9v0.9h-0.9zM83.2 270.6h0.9v0.9h-0.9zM79.6 271.7h0.9v0.9h-0.9zM90.8 272.8h0.9v0.9h-0.9zM94.3 276.5h0.9v0.9h-0.9z" fill="#fff" fill-opacity="0.7"/>
<path d="M131.8 255.3 C132.5 255.3 132.8 256.1 133 257.8 C133.3 259.5 133.4 263.1 133.4 265.4 C133.3 267.8 132.8 269.4 132.6 271.8 C132.3 274.1 132.3 277.7 131.9 279.6 C131.4 281.5 130.8 281.9 129.9 283.2 C128.9 284.5 127.5 285.9 126.3 287.4 C125.1 288.9 124.2 290.8 122.6 292.2 C120.9 293.5 118.2 294.3 116.4 295.5 C114.6 296.7 113.3 298.3 111.8 299.4 C110.4 300.6 108.9 301.8 107.8 302.2 C106.7 302.6 105.9 303.1 105 301.9 C104.2 300.7 103.2 297.7 102.7 295.1 C102.1 292.5 101.5 288.7 101.7 286.3 C101.9 283.8 102.9 282.2 103.8 280.2 C104.7 278.2 105.6 275.3 107.1 274.2 C108.6 273.1 110.8 274.5 112.8 273.5 C114.7 272.4 117.1 269.4 118.9 267.8 C120.6 266.2 121.9 264.8 123.1 263.9 C124.3 262.9 125.1 263.3 126.1 262.2 C127.1 261.2 128.1 258.6 129 257.4 C130 256.3 131.2 255.2 131.8 255.3Z" fill="#c6c8cd"/>
<path d="M114.5 268.2h1.1v1.1h-1.1zM124.5 262.5h1.1v1.1h-1.1zM119.9 292.4h1.1v1.1h-1.1zM113.8 297.2h1.1v1.1h-1.1zM132.7 260.8h1.1v1.1h-1.1zM129 256.5h1.1v1.1h-1.1zM101.2 285.7h1.1v1.1h-1.1zM133.5 279.7h1.1v1.1h-1.1zM109.2 272.2h1.1v1.1h-1.1zM100.6 286.5h1.1v1.1h-1.1zM101 286.4h1.1v1.1h-1.1zM133.4 260.3h1.1v1.1h-1.1zM132 253.5h1.1v1.1h-1.1zM101.2 279.6h1.1v1.1h-1.1zM131.5 255.8h1.1v1.1h-1.1zM117.4 263.4h1.1v1.1h-1.1zM105.3 275.6h1.1v1.1h-1.1zM108.8 272.7h1.1v1.1h-1.1zM119 292.7h1.1v1.1h-1.1zM109.4 272h1.1v1.1h-1.1zM131.4 275.3h1.1v1.1h-1.1zM119.4 292.8h1.1v1.1h-1.1zM133.9 261.5h1.1v1.1h-1.1zM129.4 282.8h1.1v1.1h-1.1zM100.6 294.7h1.1v1.1h-1.1zM126.6 286.3h1.1v1.1h-1.1zM132.4 279.1h1.1v1.1h-1.1zM101.5 290.3h1.1v1.1h-1.1zM102.3 298.8h1.1v1.1h-1.1zM124.7 262h1.1v1.1h-1.1zM114.2 296.4h1.1v1.1h-1.1zM128.8 286.9h1.1v1.1h-1.1zM132.4 271.3h1.1v1.1h-1.1zM105.3 273.6h1.1v1.1h-1.1zM120.5 264.4h1.1v1.1h-1.1zM102.7 295.8h1.1v1.1h-1.1zM133 263.1h1.1v1.1h-1.1zM124.5 289.9h1.1v1.1h-1.1zM103.8 303h1.1v1.1h-1.1zM131 278.6h1.1v1.1h-1.1zM132.5 253.7h1.1v1.1h-1.1zM112.4 272.5h1.1v1.1h-1.1zM125.7 260.4h1.1v1.1h-1.1zM118.4 263.9h1.1v1.1h-1.1zM131.5 278h1.1v1.1h-1.1zM122.9 292.6h1.1v1.1h-1.1zM107.4 301.2h1.1v1.1h-1.1zM112.5 298.8h1.1v1.1h-1.1zM113.8 298.4h1.1v1.1h-1.1zM133.2 269.9h1.1v1.1h-1.1zM115.4 296.1h1.1v1.1h-1.1zM127.6 258h1.1v1.1h-1.1zM103.6 299.5h1.1v1.1h-1.1zM132.5 276h1.1v1.1h-1.1zM103.5 300.6h1.1v1.1h-1.1zM100.3 288.3h1.1v1.1h-1.1zM102.4 296.5h1.1v1.1h-1.1zM125.9 260.5h1.1v1.1h-1.1zM130.6 254.4h1.1v1.1h-1.1zM124.1 262.5h1.1v1.1h-1.1zM102 296.2h1.1v1.1h-1.1zM132 257.2h1.1v1.1h-1.1zM130 283.5h1.1v1.1h-1.1zM134.7 256.3h1.1v1.1h-1.1zM132.2 275.8h1.1v1.1h-1.1zM102 281.1h1.1v1.1h-1.1zM112.9 299.5h1.1v1.1h-1.1zM109.8 272.4h1.1v1.1h-1.1zM117.5 295.4h1.1v1.1h-1.1zM125.8 288.5h1.1v1.1h-1.1zM102.5 301.2h1.1v1.1h-1.1zM102 290.9h1.1v1.1h-1.1zM109.2 300h1.1v1.1h-1.1zM128.7 285.4h1.1v1.1h-1.1zM105 303.3h1.1v1.1h-1.1zM113.8 296.6h1.1v1.1h-1.1zM105.1 300.8h1.1v1.1h-1.1zM102.6 296h1.1v1.1h-1.1zM99.4 286.7h1.1v1.1h-1.1zM102.8 303h1.1v1.1h-1.1zM119.7 292.6h1.1v1.1h-1.1zM121.4 292h1.1v1.1h-1.1zM114.7 297h1.1v1.1h-1.1z" fill="#c6c8cd"/>
<path d="M131.1 271.5h0.9v0.9h-0.9zM121.5 281.7h0.9v0.9h-0.9zM109.7 284.5h0.9v0.9h-0.9zM115.6 283h0.9v0.9h-0.9zM103.3 290.6h0.9v0.9h-0.9zM125.7 283.8h0.9v0.9h-0.9zM120 292.2h0.9v0.9h-0.9zM120.6 286.4h0.9v0.9h-0.9zM114.9 274.1h0.9v0.9h-0.9zM130.8 277.8h0.9v0.9h-0.9zM110.4 288.7h0.9v0.9h-0.9zM121.7 282.1h0.9v0.9h-0.9zM124.5 273.2h0.9v0.9h-0.9zM120.2 273.1h0.9v0.9h-0.9zM112.3 287.3h0.9v0.9h-0.9zM125.2 268.7h0.9v0.9h-0.9zM122.2 277.2h0.9v0.9h-0.9zM104.7 291.3h0.9v0.9h-0.9zM106.2 295.8h0.9v0.9h-0.9zM118.1 278.2h0.9v0.9h-0.9zM125.6 279.3h0.9v0.9h-0.9zM132.3 263.5h0.9v0.9h-0.9zM122.5 285.7h0.9v0.9h-0.9zM112.9 289.6h0.9v0.9h-0.9zM130.3 276.4h0.9v0.9h-0.9zM117.4 269h0.9v0.9h-0.9zM130.4 273.3h0.9v0.9h-0.9zM127.6 277.7h0.9v0.9h-0.9zM114.9 288.3h0.9v0.9h-0.9zM102.4 286.8h0.9v0.9h-0.9zM107.6 274.5h0.9v0.9h-0.9zM115.9 269.9h0.9v0.9h-0.9zM111.6 276.3h0.9v0.9h-0.9zM127.2 284.4h0.9v0.9h-0.9zM106.8 295.6h0.9v0.9h-0.9zM119.5 268.5h0.9v0.9h-0.9zM114.4 278.2h0.9v0.9h-0.9zM106.1 293.1h0.9v0.9h-0.9zM113.7 290.8h0.9v0.9h-0.9zM107.1 284.9h0.9v0.9h-0.9zM111.7 298h0.9v0.9h-0.9zM110.1 274.4h0.9v0.9h-0.9zM117.6 285h0.9v0.9h-0.9zM127.3 281.8h0.9v0.9h-0.9zM110.4 283.4h0.9v0.9h-0.9zM121.9 285.8h0.9v0.9h-0.9zM125.2 277.7h0.9v0.9h-0.9zM121.6 282.4h0.9v0.9h-0.9zM127 278.4h0.9v0.9h-0.9zM126.6 272.5h0.9v0.9h-0.9zM111.9 282.4h0.9v0.9h-0.9zM123.4 270h0.9v0.9h-0.9zM132.4 260.7h0.9v0.9h-0.9zM108.4 297.9h0.9v0.9h-0.9zM107 283h0.9v0.9h-0.9zM129.7 276h0.9v0.9h-0.9zM113.4 275.1h0.9v0.9h-0.9zM110.4 282.3h0.9v0.9h-0.9zM102.5 293.9h0.9v0.9h-0.9zM131.9 261h0.9v0.9h-0.9zM128.4 281.8h0.9v0.9h-0.9zM105.9 297.8h0.9v0.9h-0.9zM128.6 281.2h0.9v0.9h-0.9zM131.4 269.3h0.9v0.9h-0.9zM107.4 289.1h0.9v0.9h-0.9zM121.1 267.9h0.9v0.9h-0.9zM130.8 256.3h0.9v0.9h-0.9zM108.5 281.2h0.9v0.9h-0.9zM115.7 271.5h0.9v0.9h-0.9zM120.6 273.3h0.9v0.9h-0.9zM114.3 272.4h0.9v0.9h-0.9zM129 275.5h0.9v0.9h-0.9zM118.3 283h0.9v0.9h-0.9zM102.4 295.2h0.9v0.9h-0.9zM118.6 287.7h0.9v0.9h-0.9zM102.8 293.4h0.9v0.9h-0.9zM115 290.9h0.9v0.9h-0.9zM115.6 285.6h0.9v0.9h-0.9zM126.1 272h0.9v0.9h-0.9zM112.7 288.2h0.9v0.9h-0.9zM110.5 287.2h0.9v0.9h-0.9zM115.9 281.5h0.9v0.9h-0.9zM120.3 274.7h0.9v0.9h-0.9zM105.4 277.1h0.9v0.9h-0.9zM121.2 271.6h0.9v0.9h-0.9zM108.8 291.4h0.9v0.9h-0.9zM116.5 272.1h0.9v0.9h-0.9zM112 284.7h0.9v0.9h-0.9zM108.4 288.3h0.9v0.9h-0.9zM131.5 255.2h0.9v0.9h-0.9zM114.7 283.1h0.9v0.9h-0.9zM129.2 257.6h0.9v0.9h-0.9zM121.4 288.7h0.9v0.9h-0.9z" fill="#fff" fill-opacity="0.7"/>
<path d="M126.3 292.3 C127.1 292 128.3 291.9 130 292.4 C131.6 292.8 133.9 294.7 136.2 295 C138.5 295.4 141.3 294.7 143.8 294.5 C146.2 294.2 149 293.6 151 293.8 C152.9 293.9 154.3 294.6 155.4 295.5 C156.5 296.4 157.3 297.8 157.5 299 C157.7 300.2 157.2 300.8 156.4 302.5 C155.6 304.2 153.9 306.8 152.7 309.2 C151.5 311.6 150.5 315.2 149.1 317.1 C147.8 319.1 146 319.8 144.4 320.9 C142.9 322 141.3 322.7 139.6 323.6 C138 324.5 136.2 325.3 134.6 326.2 C133.1 327.1 132 329.6 130.4 328.9 C128.8 328.3 126.9 324.5 125.1 322.4 C123.4 320.4 121.4 319 119.9 316.7 C118.4 314.3 116.6 310.7 116 308.3 C115.4 305.8 115.5 303.6 116.4 301.9 C117.2 300.3 119.6 299.5 121 298.2 C122.4 296.9 123.8 295.1 124.7 294.2 C125.6 293.2 125.4 292.6 126.3 292.3Z" fill="#c6c8cd"/>
<path d="M140.6 294.3h1.1v1.1h-1.1zM146.4 290.3h1.1v1.1h-1.1zM134 328.1h1.1v1.1h-1.1zM149.9 319.3h1.1v1.1h-1.1zM134 325.6h1.1v1.1h-1.1zM141.2 324.6h1.1v1.1h-1.1zM155 295.6h1.1v1.1h-1.1zM133.9 326.4h1.1v1.1h-1.1zM141.8 321.4h1.1v1.1h-1.1zM156.2 301.5h1.1v1.1h-1.1zM125.8 325.5h1.1v1.1h-1.1zM139.1 294.1h1.1v1.1h-1.1zM114.7 303.1h1.1v1.1h-1.1zM152.8 294.6h1.1v1.1h-1.1zM116.4 315.8h1.1v1.1h-1.1zM155.3 303.1h1.1v1.1h-1.1zM116.6 309.7h1.1v1.1h-1.1zM117.1 299.3h1.1v1.1h-1.1zM138 294.7h1.1v1.1h-1.1zM143.2 323.8h1.1v1.1h-1.1zM134.2 293.7h1.1v1.1h-1.1zM124.5 323.3h1.1v1.1h-1.1zM118.4 299.1h1.1v1.1h-1.1zM125 322.8h1.1v1.1h-1.1zM134 293.6h1.1v1.1h-1.1zM115.7 305.7h1.1v1.1h-1.1zM147 317.2h1.1v1.1h-1.1zM152.2 311.8h1.1v1.1h-1.1zM148.7 315.4h1.1v1.1h-1.1zM127.6 325.3h1.1v1.1h-1.1zM129.7 289.8h1.1v1.1h-1.1zM128.4 290.7h1.1v1.1h-1.1zM119.7 317.9h1.1v1.1h-1.1zM125.5 290.4h1.1v1.1h-1.1zM131.8 291.5h1.1v1.1h-1.1zM117.6 298.7h1.1v1.1h-1.1zM118 298.6h1.1v1.1h-1.1zM133 292.9h1.1v1.1h-1.1zM119.3 315.4h1.1v1.1h-1.1zM151.6 294.2h1.1v1.1h-1.1zM152 309.1h1.1v1.1h-1.1zM154.2 293.6h1.1v1.1h-1.1zM131.1 291.6h1.1v1.1h-1.1zM136.7 325.4h1.1v1.1h-1.1zM132 327.6h1.1v1.1h-1.1zM118 318.9h1.1v1.1h-1.1zM121.4 296h1.1v1.1h-1.1zM114.4 315.8h1.1v1.1h-1.1zM142.4 321h1.1v1.1h-1.1zM127.7 326h1.1v1.1h-1.1zM141.8 293.9h1.1v1.1h-1.1zM149.9 293.2h1.1v1.1h-1.1zM128.1 291.5h1.1v1.1h-1.1zM155.6 296.1h1.1v1.1h-1.1zM132.4 292.9h1.1v1.1h-1.1zM151.4 311.2h1.1v1.1h-1.1zM148.4 292.8h1.1v1.1h-1.1zM147.2 319.2h1.1v1.1h-1.1zM116 305.7h1.1v1.1h-1.1zM148.2 293.1h1.1v1.1h-1.1zM115.2 319.8h1.1v1.1h-1.1zM149.4 315.5h1.1v1.1h-1.1zM123.4 321.3h1.1v1.1h-1.1zM124.2 294h1.1v1.1h-1.1zM132.2 326.9h1.1v1.1h-1.1zM142.3 294.5h1.1v1.1h-1.1zM120 317.1h1.1v1.1h-1.1zM139 293.3h1.1v1.1h-1.1zM147 318.2h1.1v1.1h-1.1zM130.5 328.3h1.1v1.1h-1.1zM141.8 323.2h1.1v1.1h-1.1zM121.8 319.6h1.1v1.1h-1.1zM154 305.6h1.1v1.1h-1.1zM140.1 323.5h1.1v1.1h-1.1zM124.2 291.6h1.1v1.1h-1.1zM137.9 294.5h1.1v1.1h-1.1zM126.6 324.2h1.1v1.1h-1.1zM129.1 328.2h1.1v1.1h-1.1zM123.3 325.2h1.1v1.1h-1.1zM137.3 323.1h1.1v1.1h-1.1zM115.6 312.3h1.1v1.1h-1.1zM143.3 322h1.1v1.1h-1.1zM156.2 295.6h1.1v1.1h-1.1zM149.9 316.6h1.1v1.1h-1.1zM114.2 304.8h1.1v1.1h-1.1zM118.5 299.3h1.1v1.1h-1.1zM115.1 307.9h1.1v1.1h-1.1zM145.8 319.4h1.1v1.1h-1.1zM125.4 289.8h1.1v1.1h-1.1zM148.5 293.7h1.1v1.1h-1.1zM148.3 292.3h1.1v1.1h-1.1zM133.7 292.9h1.1v1.1h-1.1zM138.8 294.3h1.1v1.1h-1.1zM149.5 293h1.1v1.1h-1.1zM120.5 293.1h1.1v1.1h-1.1zM122.9 321.5h1.1v1.1h-1.1zM135 293.1h1.1v1.1h-1.1z" fill="#c6c8cd"/>
<path d="M130.2 318h0.9v0.9h-0.9zM131.6 298.2h0.9v0.9h-0.9zM146 314.9h0.9v0.9h-0.9zM136.3 309.8h0.9v0.9h-0.9zM143.6 306.5h0.9v0.9h-0.9zM127.1 304.9h0.9v0.9h-0.9zM119.8 312.3h0.9v0.9h-0.9zM136.9 303.5h0.9v0.9h-0.9zM128.9 298.8h0.9v0.9h-0.9zM145.7 312.8h0.9v0.9h-0.9zM128.9 309.8h0.9v0.9h-0.9zM155.7 302.2h0.9v0.9h-0.9zM132.9 322.7h0.9v0.9h-0.9zM149.8 299.4h0.9v0.9h-0.9zM137.8 294.6h0.9v0.9h-0.9zM131.1 303.6h0.9v0.9h-0.9zM145.2 294.7h0.9v0.9h-0.9zM142.7 307.3h0.9v0.9h-0.9zM137.4 298.7h0.9v0.9h-0.9zM136.6 299.9h0.9v0.9h-0.9zM133.4 299.2h0.9v0.9h-0.9zM140.6 305.7h0.9v0.9h-0.9zM140.4 306.8h0.9v0.9h-0.9zM123 300.8h0.9v0.9h-0.9zM148.3 308.2h0.9v0.9h-0.9zM134.3 315.3h0.9v0.9h-0.9zM122 311.1h0.9v0.9h-0.9zM124.5 310.7h0.9v0.9h-0.9zM119.3 313.9h0.9v0.9h-0.9zM138.9 317h0.9v0.9h-0.9zM138.9 308.3h0.9v0.9h-0.9zM126.6 310.4h0.9v0.9h-0.9zM133.2 303.4h0.9v0.9h-0.9zM142.3 316.7h0.9v0.9h-0.9zM141.5 307h0.9v0.9h-0.9zM131.6 295.3h0.9v0.9h-0.9zM144 318.2h0.9v0.9h-0.9zM121.8 302.4h0.9v0.9h-0.9zM141 308.7h0.9v0.9h-0.9zM144.7 296.3h0.9v0.9h-0.9zM131.7 323.9h0.9v0.9h-0.9zM134.9 295.3h0.9v0.9h-0.9zM146.8 300h0.9v0.9h-0.9zM141.2 298h0.9v0.9h-0.9zM116.5 306.7h0.9v0.9h-0.9zM132.7 322.8h0.9v0.9h-0.9zM134.6 318.8h0.9v0.9h-0.9zM142.8 317.2h0.9v0.9h-0.9zM122.6 301.9h0.9v0.9h-0.9zM141.1 317.3h0.9v0.9h-0.9zM125.5 319.1h0.9v0.9h-0.9zM125.3 315.9h0.9v0.9h-0.9zM126.4 308.8h0.9v0.9h-0.9zM126.1 320.1h0.9v0.9h-0.9zM128.2 322.3h0.9v0.9h-0.9zM153.7 304.8h0.9v0.9h-0.9zM131.8 314.1h0.9v0.9h-0.9zM144.2 301.1h0.9v0.9h-0.9zM131.4 323.8h0.9v0.9h-0.9zM127.7 294.4h0.9v0.9h-0.9zM120.2 298.8h0.9v0.9h-0.9zM129.3 323.6h0.9v0.9h-0.9zM144.8 305.2h0.9v0.9h-0.9zM120.8 307.3h0.9v0.9h-0.9zM150.2 311.5h0.9v0.9h-0.9zM133.2 299.4h0.9v0.9h-0.9zM130.8 326h0.9v0.9h-0.9zM139.4 301.7h0.9v0.9h-0.9zM129 302.9h0.9v0.9h-0.9zM123.3 320.3h0.9v0.9h-0.9zM146.5 294.8h0.9v0.9h-0.9zM124.1 296h0.9v0.9h-0.9zM154.6 295.5h0.9v0.9h-0.9zM148.6 314.7h0.9v0.9h-0.9zM127.1 312.1h0.9v0.9h-0.9zM128 304.7h0.9v0.9h-0.9zM150.9 309.4h0.9v0.9h-0.9zM129.7 325.5h0.9v0.9h-0.9zM119.5 312.6h0.9v0.9h-0.9zM123.7 313.3h0.9v0.9h-0.9zM150.6 297.1h0.9v0.9h-0.9zM120.2 306.4h0.9v0.9h-0.9zM129.4 305.8h0.9v0.9h-0.9zM124.2 303.6h0.9v0.9h-0.9zM139 303h0.9v0.9h-0.9zM141 307h0.9v0.9h-0.9zM128.7 308.4h0.9v0.9h-0.9zM134 305.7h0.9v0.9h-0.9zM125.1 294.6h0.9v0.9h-0.9zM131.5 293.8h0.9v0.9h-0.9zM133.4 315h0.9v0.9h-0.9zM145.7 304.3h0.9v0.9h-0.9zM127 295.3h0.9v0.9h-0.9zM143.6 308.3h0.9v0.9h-0.9zM148.3 307.5h0.9v0.9h-0.9zM154 303.7h0.9v0.9h-0.9zM118 312.3h0.9v0.9h-0.9zM129.9 301.1h0.9v0.9h-0.9zM139.3 314h0.9v0.9h-0.9zM149.6 293.6h0.9v0.9h-0.9zM126.4 294.4h0.9v0.9h-0.9zM120.5 304.7h0.9v0.9h-0.9zM136.6 318.5h0.9v0.9h-0.9zM119.1 311.9h0.9v0.9h-0.9zM121.4 315.5h0.9v0.9h-0.9zM146.3 305.1h0.9v0.9h-0.9zM144.9 302.7h0.9v0.9h-0.9zM130.4 323.1h0.9v0.9h-0.9zM121.9 301.5h0.9v0.9h-0.9zM142.1 307.4h0.9v0.9h-0.9zM148.4 309.1h0.9v0.9h-0.9zM149.2 306h0.9v0.9h-0.9zM151.1 307.8h0.9v0.9h-0.9zM130.6 324.7h0.9v0.9h-0.9zM134.6 323.4h0.9v0.9h-0.9zM126.4 313.4h0.9v0.9h-0.9zM151.2 294.9h0.9v0.9h-0.9zM149.5 303.3h0.9v0.9h-0.9zM120.9 302.3h0.9v0.9h-0.9z" fill="#fff" fill-opacity="0.7"/>
<path d="M96.7 320.4 C97.3 318.5 98.8 317.3 100 316.1 C101.2 314.8 102.6 314 104.1 313.1 C105.6 312.2 107.6 311.6 109.1 310.8 C110.7 310 112.2 309.1 113.4 308.5 C114.6 307.8 115.4 306.1 116.2 306.8 C117.1 307.6 117.3 310.5 118.6 312.8 C120 315.1 122.8 318.2 124.5 320.6 C126.1 323 127.1 325.1 128.8 327 C130.4 328.9 133.5 330.7 134.3 332.1 C135 333.4 134.3 334.4 133.2 335 C132 335.7 129 334.4 127.5 335.8 C126 337.2 124.8 340.9 124.3 343.4 C123.8 346 124.5 349 124.3 351.3 C124.1 353.6 124.1 355.9 123.1 357.1 C122.1 358.3 119.8 358.6 118.1 358.4 C116.4 358.1 114.2 356.9 112.9 355.4 C111.7 354 110.5 352 110.3 349.7 C110.1 347.4 112.3 344 111.7 341.8 C111.2 339.6 109.1 338 107.1 336.6 C105.1 335.2 101.8 335 99.9 333.5 C98.1 332 96.5 329.9 96 327.7 C95.4 325.6 96 322.4 96.7 320.4Z" fill="#c6c8cd"/>
<path d="M96 323.6h1.1v1.1h-1.1zM122.8 355.5h1.1v1.1h-1.1zM130.7 336h1.1v1.1h-1.1zM132.9 334.9h1.1v1.1h-1.1zM95.8 328.5h1.1v1.1h-1.1zM108.6 337.7h1.1v1.1h-1.1zM128.4 324.6h1.1v1.1h-1.1zM112.2 308.2h1.1v1.1h-1.1zM110 348h1.1v1.1h-1.1zM109.6 348.3h1.1v1.1h-1.1zM110.7 344h1.1v1.1h-1.1zM115.1 356.9h1.1v1.1h-1.1zM116.8 357.4h1.1v1.1h-1.1zM122.8 356.2h1.1v1.1h-1.1zM101.8 333.8h1.1v1.1h-1.1zM113.3 355.8h1.1v1.1h-1.1zM114.7 356.6h1.1v1.1h-1.1zM103.3 334.7h1.1v1.1h-1.1zM127 337.2h1.1v1.1h-1.1zM112.9 305.8h1.1v1.1h-1.1zM124.7 351.4h1.1v1.1h-1.1zM124.7 343.9h1.1v1.1h-1.1zM123.8 342.1h1.1v1.1h-1.1zM127.6 336h1.1v1.1h-1.1zM114.5 306.3h1.1v1.1h-1.1zM127.8 334.7h1.1v1.1h-1.1zM129.5 326.6h1.1v1.1h-1.1zM118.3 310.2h1.1v1.1h-1.1zM95.5 326.4h1.1v1.1h-1.1zM138.6 333.5h1.1v1.1h-1.1zM117.1 359.8h1.1v1.1h-1.1zM110.3 349.1h1.1v1.1h-1.1zM97.2 318.1h1.1v1.1h-1.1zM94 332.1h1.1v1.1h-1.1zM123.1 351.8h1.1v1.1h-1.1zM98.1 317.4h1.1v1.1h-1.1zM126.5 324.1h1.1v1.1h-1.1zM129.3 326.1h1.1v1.1h-1.1zM110.2 351.4h1.1v1.1h-1.1zM126.7 321.4h1.1v1.1h-1.1zM131.7 334.9h1.1v1.1h-1.1zM110.1 350.6h1.1v1.1h-1.1zM95.9 319.6h1.1v1.1h-1.1zM118.7 312.1h1.1v1.1h-1.1zM105.5 309.5h1.1v1.1h-1.1zM96.9 329.4h1.1v1.1h-1.1zM117.3 310.8h1.1v1.1h-1.1zM111.8 308.4h1.1v1.1h-1.1zM110.5 350.9h1.1v1.1h-1.1zM123.7 347.1h1.1v1.1h-1.1zM107 338.2h1.1v1.1h-1.1zM116.2 305.2h1.1v1.1h-1.1zM123.6 348.4h1.1v1.1h-1.1zM96.3 320.5h1.1v1.1h-1.1zM111.1 342.3h1.1v1.1h-1.1zM102.2 313.5h1.1v1.1h-1.1zM110.8 341.5h1.1v1.1h-1.1zM110.6 342.8h1.1v1.1h-1.1zM110.9 352.6h1.1v1.1h-1.1zM107.9 310.8h1.1v1.1h-1.1zM98.2 331.2h1.1v1.1h-1.1zM112.9 306.9h1.1v1.1h-1.1zM110.5 309h1.1v1.1h-1.1zM119 312.8h1.1v1.1h-1.1zM133.2 330.7h1.1v1.1h-1.1zM124.2 350.7h1.1v1.1h-1.1zM108.3 337.1h1.1v1.1h-1.1zM95.5 319.6h1.1v1.1h-1.1zM123.6 347.9h1.1v1.1h-1.1zM129.8 327.8h1.1v1.1h-1.1zM128 326.4h1.1v1.1h-1.1zM134.2 332.9h1.1v1.1h-1.1zM121.2 317h1.1v1.1h-1.1zM124.7 318h1.1v1.1h-1.1zM92.8 319.8h1.1v1.1h-1.1zM124.4 319.8h1.1v1.1h-1.1zM110.9 344.5h1.1v1.1h-1.1zM94 317.7h1.1v1.1h-1.1zM120.6 358h1.1v1.1h-1.1zM112.2 354.4h1.1v1.1h-1.1zM94.8 319h1.1v1.1h-1.1zM124.4 348.7h1.1v1.1h-1.1zM99.2 333.1h1.1v1.1h-1.1zM123.8 347.2h1.1v1.1h-1.1zM110.4 341.5h1.1v1.1h-1.1zM98.6 314.4h1.1v1.1h-1.1zM133 332.6h1.1v1.1h-1.1zM106.9 310.9h1.1v1.1h-1.1zM128.1 324.1h1.1v1.1h-1.1zM127.1 324.7h1.1v1.1h-1.1zM109.9 347.8h1.1v1.1h-1.1zM114 356.1h1.1v1.1h-1.1zM95.2 327.3h1.1v1.1h-1.1zM103 336h1.1v1.1h-1.1zM96.3 317.6h1.1v1.1h-1.1zM109.9 346.8h1.1v1.1h-1.1zM131.7 334.7h1.1v1.1h-1.1zM115.8 356.9h1.1v1.1h-1.1zM113.4 356h1.1v1.1h-1.1zM109.2 310h1.1v1.1h-1.1z" fill="#c6c8cd"/>
<path d="M101.4 326.3h0.9v0.9h-0.9zM110.9 332.2h0.9v0.9h-0.9zM117.9 335.4h0.9v0.9h-0.9zM109.4 310.8h0.9v0.9h-0.9zM110.4 325.8h0.9v0.9h-0.9zM115.4 350.8h0.9v0.9h-0.9zM108.9 321.9h0.9v0.9h-0.9zM120.1 324.3h0.9v0.9h-0.9zM118.1 339.7h0.9v0.9h-0.9zM121.5 324.3h0.9v0.9h-0.9zM96.9 323.4h0.9v0.9h-0.9zM115.9 328.8h0.9v0.9h-0.9zM120.2 324.5h0.9v0.9h-0.9zM127.6 332.3h0.9v0.9h-0.9zM98.8 326.3h0.9v0.9h-0.9zM118.2 340.2h0.9v0.9h-0.9zM117.1 325.4h0.9v0.9h-0.9zM112.3 334.1h0.9v0.9h-0.9zM116.5 337.4h0.9v0.9h-0.9zM118.7 324.9h0.9v0.9h-0.9zM119.4 345.8h0.9v0.9h-0.9zM114.5 341h0.9v0.9h-0.9zM107.7 327.5h0.9v0.9h-0.9zM114 346.2h0.9v0.9h-0.9zM117.4 345.7h0.9v0.9h-0.9zM107.5 313.7h0.9v0.9h-0.9zM109.9 333.3h0.9v0.9h-0.9zM121.6 350.2h0.9v0.9h-0.9zM109.2 324.5h0.9v0.9h-0.9zM113.5 318.4h0.9v0.9h-0.9zM110 315.2h0.9v0.9h-0.9zM121.8 350h0.9v0.9h-0.9zM112.7 328.8h0.9v0.9h-0.9zM119 329.7h0.9v0.9h-0.9zM119.3 337.5h0.9v0.9h-0.9zM118.2 333.4h0.9v0.9h-0.9zM121.5 317.1h0.9v0.9h-0.9zM109.5 322h0.9v0.9h-0.9zM118.8 352.2h0.9v0.9h-0.9zM124.2 339.1h0.9v0.9h-0.9zM110.7 320.9h0.9v0.9h-0.9zM103.2 317.7h0.9v0.9h-0.9zM128.4 328.3h0.9v0.9h-0.9zM113.4 355.4h0.9v0.9h-0.9zM116.9 349.3h0.9v0.9h-0.9zM119.9 317.4h0.9v0.9h-0.9zM122.5 341h0.9v0.9h-0.9zM115.1 325.1h0.9v0.9h-0.9zM126.6 332.2h0.9v0.9h-0.9zM111.2 309.3h0.9v0.9h-0.9zM98.1 318.2h0.9v0.9h-0.9zM123.2 328.8h0.9v0.9h-0.9zM111.9 311.5h0.9v0.9h-0.9zM114.8 336.4h0.9v0.9h-0.9zM118.9 335.2h0.9v0.9h-0.9zM133.2 332.8h0.9v0.9h-0.9zM116.2 343.7h0.9v0.9h-0.9zM110.2 338.2h0.9v0.9h-0.9zM110.5 324.8h0.9v0.9h-0.9zM113 323.9h0.9v0.9h-0.9zM118.9 314.6h0.9v0.9h-0.9zM121.8 330.2h0.9v0.9h-0.9zM111.7 332.3h0.9v0.9h-0.9zM103.8 333h0.9v0.9h-0.9zM110.8 322.1h0.9v0.9h-0.9zM125 337.5h0.9v0.9h-0.9zM105.8 331.5h0.9v0.9h-0.9zM106.4 320.9h0.9v0.9h-0.9zM113.7 333.6h0.9v0.9h-0.9zM119.6 355.5h0.9v0.9h-0.9zM120.2 356.3h0.9v0.9h-0.9zM95.8 324.4h0.9v0.9h-0.9zM128.2 333.6h0.9v0.9h-0.9zM128 334.5h0.9v0.9h-0.9zM114.9 348.2h0.9v0.9h-0.9zM115 317.1h0.9v0.9h-0.9zM118.2 355h0.9v0.9h-0.9zM113.1 326.8h0.9v0.9h-0.9zM118.3 330.4h0.9v0.9h-0.9zM114.9 311.5h0.9v0.9h-0.9zM106.7 333.5h0.9v0.9h-0.9zM100.3 332.9h0.9v0.9h-0.9zM116.3 339h0.9v0.9h-0.9zM101.7 331.5h0.9v0.9h-0.9zM107.7 334.7h0.9v0.9h-0.9zM110.5 333.9h0.9v0.9h-0.9zM130.6 333.4h0.9v0.9h-0.9zM117.5 335.6h0.9v0.9h-0.9zM109.8 321.2h0.9v0.9h-0.9zM120 346.8h0.9v0.9h-0.9zM96.5 320.5h0.9v0.9h-0.9zM104.5 317.7h0.9v0.9h-0.9zM122.3 348.5h0.9v0.9h-0.9zM100.9 322h0.9v0.9h-0.9zM121.6 333.6h0.9v0.9h-0.9zM120.6 350.2h0.9v0.9h-0.9zM104.4 327.9h0.9v0.9h-0.9zM102 324.2h0.9v0.9h-0.9zM116.6 335.4h0.9v0.9h-0.9zM102 330.2h0.9v0.9h-0.9zM121.3 338.1h0.9v0.9h-0.9zM114.1 325.4h0.9v0.9h-0.9zM118 320.6h0.9v0.9h-0.9zM129.6 328.4h0.9v0.9h-0.9zM110.5 330.1h0.9v0.9h-0.9zM114.2 346.7h0.9v0.9h-0.9zM122.5 337.7h0.9v0.9h-0.9zM106.9 317.1h0.9v0.9h-0.9zM118.3 323.8h0.9v0.9h-0.9zM110.9 350h0.9v0.9h-0.9zM113.1 313.9h0.9v0.9h-0.9zM115.9 349.8h0.9v0.9h-0.9zM98.1 325h0.9v0.9h-0.9zM119 333.4h0.9v0.9h-0.9zM101.8 323.8h0.9v0.9h-0.9zM98.6 319.1h0.9v0.9h-0.9zM97.7 318.6h0.9v0.9h-0.9zM111.5 322.3h0.9v0.9h-0.9zM117.2 344.1h0.9v0.9h-0.9z" fill="#fff" fill-opacity="0.7"/>
<path d="M42.8 319.3 C43.3 318.9 45 318.8 46.6 318.3 C48.2 317.9 50.8 318.1 52.6 316.6 C54.3 315.1 55.9 311.4 57.1 309.3 C58.3 307.2 58.4 305.4 59.8 304 C61.2 302.6 63.2 302.1 65.3 301.1 C67.4 300.1 70.8 298.8 72.4 298 C74.1 297.2 74.5 295.4 75.2 296.3 C76 297.3 76.2 301.8 77 303.8 C77.8 305.7 78.8 306.5 80 307.9 C81.3 309.2 83.3 310.4 84.6 311.9 C86 313.5 87.1 315.1 88.1 317.1 C89 319 90.1 321.2 90.2 323.6 C90.3 325.9 89.7 328.2 88.9 331 C88.1 333.9 87.7 339 85.6 340.8 C83.6 342.5 79.6 341.5 76.4 341.5 C73.2 341.6 69.1 341 66.3 341.1 C63.6 341.1 61.1 343 59.7 341.7 C58.3 340.5 58.8 336 57.8 333.6 C56.9 331.1 55.5 328.9 54.2 327 C52.8 325.1 51.4 323.2 49.6 322.1 C47.9 321.1 45.1 321.1 43.9 320.6 C42.8 320.2 42.4 319.7 42.8 319.3Z" fill="#c6c8cd"/>
<path d="M78.6 341.3h1.1v1.1h-1.1zM64 301.2h1.1v1.1h-1.1zM59.4 341.1h1.1v1.1h-1.1zM66.5 297.5h1.1v1.1h-1.1zM65.1 300h1.1v1.1h-1.1zM53.1 312.4h1.1v1.1h-1.1zM72.7 340.7h1.1v1.1h-1.1zM88.7 320h1.1v1.1h-1.1zM79.8 341.1h1.1v1.1h-1.1zM87.9 332.1h1.1v1.1h-1.1zM59 340.5h1.1v1.1h-1.1zM79.3 340.6h1.1v1.1h-1.1zM87.7 334.8h1.1v1.1h-1.1zM60.9 340.8h1.1v1.1h-1.1zM62 301.9h1.1v1.1h-1.1zM80.1 304.5h1.1v1.1h-1.1zM75.1 295.3h1.1v1.1h-1.1zM75.3 299.9h1.1v1.1h-1.1zM75.5 298.6h1.1v1.1h-1.1zM83 311.1h1.1v1.1h-1.1zM67.8 340.5h1.1v1.1h-1.1zM50.6 313.7h1.1v1.1h-1.1zM71.7 296.6h1.1v1.1h-1.1zM75.5 301.1h1.1v1.1h-1.1zM57.2 335.1h1.1v1.1h-1.1zM54.3 328h1.1v1.1h-1.1zM86.3 341.4h1.1v1.1h-1.1zM49.5 325.3h1.1v1.1h-1.1zM81.3 342.9h1.1v1.1h-1.1zM53.5 310.2h1.1v1.1h-1.1zM53.9 328h1.1v1.1h-1.1zM44.6 320.1h1.1v1.1h-1.1zM56.5 331.6h1.1v1.1h-1.1zM46.9 316.3h1.1v1.1h-1.1zM89.3 319.3h1.1v1.1h-1.1zM89.2 327.6h1.1v1.1h-1.1zM75.7 341.3h1.1v1.1h-1.1zM69.6 297.7h1.1v1.1h-1.1zM54.7 330.9h1.1v1.1h-1.1zM44.4 321.5h1.1v1.1h-1.1zM86.6 311.4h1.1v1.1h-1.1zM63.5 340.9h1.1v1.1h-1.1zM47.1 316.7h1.1v1.1h-1.1zM50.9 316.3h1.1v1.1h-1.1zM83.5 340.3h1.1v1.1h-1.1zM80.8 307.1h1.1v1.1h-1.1zM80 340.9h1.1v1.1h-1.1zM50.6 323.2h1.1v1.1h-1.1zM42.3 319h1.1v1.1h-1.1zM88 329.3h1.1v1.1h-1.1zM45.1 317.8h1.1v1.1h-1.1zM53.1 314.2h1.1v1.1h-1.1zM55.9 308.3h1.1v1.1h-1.1zM75.2 298.7h1.1v1.1h-1.1zM85 339.5h1.1v1.1h-1.1zM45.7 318.3h1.1v1.1h-1.1zM64 341.1h1.1v1.1h-1.1zM59.1 340.7h1.1v1.1h-1.1zM87.8 318.7h1.1v1.1h-1.1zM55.7 329.9h1.1v1.1h-1.1zM53.9 327.8h1.1v1.1h-1.1zM52.2 314.6h1.1v1.1h-1.1zM42.8 319.3h1.1v1.1h-1.1zM87.4 314.3h1.1v1.1h-1.1zM88.5 329.6h1.1v1.1h-1.1zM85.8 338.9h1.1v1.1h-1.1zM54.8 333.9h1.1v1.1h-1.1zM78.6 306.9h1.1v1.1h-1.1zM90.4 321.6h1.1v1.1h-1.1zM52.3 313.6h1.1v1.1h-1.1zM54.7 311.6h1.1v1.1h-1.1zM85.1 340.3h1.1v1.1h-1.1zM52.6 314.4h1.1v1.1h-1.1zM89.9 318.4h1.1v1.1h-1.1zM65.5 341.5h1.1v1.1h-1.1zM53.1 325.9h1.1v1.1h-1.1zM87.5 335.8h1.1v1.1h-1.1zM47.8 322h1.1v1.1h-1.1zM58.3 305.2h1.1v1.1h-1.1zM89.9 326.2h1.1v1.1h-1.1zM68.6 342.1h1.1v1.1h-1.1zM91.1 329h1.1v1.1h-1.1zM76.2 341.4h1.1v1.1h-1.1zM82.3 340.3h1.1v1.1h-1.1zM55.2 330.9h1.1v1.1h-1.1zM77.4 342.5h1.1v1.1h-1.1zM59.1 339.4h1.1v1.1h-1.1zM61.8 298.7h1.1v1.1h-1.1zM82.2 307.5h1.1v1.1h-1.1zM72.6 341.2h1.1v1.1h-1.1zM67.8 341.9h1.1v1.1h-1.1zM87.9 318.6h1.1v1.1h-1.1zM78.5 302.6h1.1v1.1h-1.1zM64.6 300.2h1.1v1.1h-1.1zM53.1 313.7h1.1v1.1h-1.1zM52.8 311.6h1.1v1.1h-1.1zM89.7 329.7h1.1v1.1h-1.1zM76.5 298.4h1.1v1.1h-1.1zM77.8 300.6h1.1v1.1h-1.1zM81.7 308.6h1.1v1.1h-1.1zM82.1 308.3h1.1v1.1h-1.1zM77.4 305h1.1v1.1h-1.1zM89.7 323.7h1.1v1.1h-1.1zM50.8 325.3h1.1v1.1h-1.1zM62.2 342.7h1.1v1.1h-1.1zM45.6 320.9h1.1v1.1h-1.1zM55.4 310.5h1.1v1.1h-1.1zM43 316.5h1.1v1.1h-1.1zM78.3 304.6h1.1v1.1h-1.1zM79.3 344.2h1.1v1.1h-1.1zM44.2 320.2h1.1v1.1h-1.1zM85.7 337.1h1.1v1.1h-1.1zM51.7 311h1.1v1.1h-1.1zM78.4 305.1h1.1v1.1h-1.1zM50.6 323.1h1.1v1.1h-1.1zM77.3 302.7h1.1v1.1h-1.1zM84.5 312.9h1.1v1.1h-1.1z" fill="#c6c8cd"/>
<path d="M63.2 312h0.9v0.9h-0.9zM59.8 325h0.9v0.9h-0.9zM82.9 327.1h0.9v0.9h-0.9zM56.8 317.8h0.9v0.9h-0.9zM82.9 325.5h0.9v0.9h-0.9zM79.7 315.7h0.9v0.9h-0.9zM75.5 334.1h0.9v0.9h-0.9zM61.9 331.1h0.9v0.9h-0.9zM65.3 306.8h0.9v0.9h-0.9zM65.1 337.4h0.9v0.9h-0.9zM67.6 337h0.9v0.9h-0.9zM71 298.3h0.9v0.9h-0.9zM77.8 336.2h0.9v0.9h-0.9zM87.7 330.3h0.9v0.9h-0.9zM74.7 318.4h0.9v0.9h-0.9zM54 321.7h0.9v0.9h-0.9zM64.7 311.4h0.9v0.9h-0.9zM66.2 331.1h0.9v0.9h-0.9zM73.4 327.7h0.9v0.9h-0.9zM66 311.1h0.9v0.9h-0.9zM75.8 304.1h0.9v0.9h-0.9zM59.2 327.9h0.9v0.9h-0.9zM59.4 333.7h0.9v0.9h-0.9zM65.1 325.3h0.9v0.9h-0.9zM60.8 330.5h0.9v0.9h-0.9zM55.7 320h0.9v0.9h-0.9zM66 331.2h0.9v0.9h-0.9zM79.5 318h0.9v0.9h-0.9zM61 325.9h0.9v0.9h-0.9zM64.6 314.1h0.9v0.9h-0.9zM66.7 301.8h0.9v0.9h-0.9zM78.6 319.3h0.9v0.9h-0.9zM75.2 320.8h0.9v0.9h-0.9zM81.2 313.4h0.9v0.9h-0.9zM60.5 310.3h0.9v0.9h-0.9zM63.1 302h0.9v0.9h-0.9zM76.7 332.8h0.9v0.9h-0.9zM76.7 310.8h0.9v0.9h-0.9zM79.2 334.1h0.9v0.9h-0.9zM55.1 320.1h0.9v0.9h-0.9zM74.6 320.9h0.9v0.9h-0.9zM78.7 324.6h0.9v0.9h-0.9zM68.9 308.8h0.9v0.9h-0.9zM62.3 302.9h0.9v0.9h-0.9zM57.3 308.9h0.9v0.9h-0.9zM73.5 319.4h0.9v0.9h-0.9zM74 335.5h0.9v0.9h-0.9zM71.7 323.4h0.9v0.9h-0.9zM81 323.7h0.9v0.9h-0.9zM79.3 332.3h0.9v0.9h-0.9zM77.1 325.8h0.9v0.9h-0.9zM83 333.3h0.9v0.9h-0.9zM63.7 323.7h0.9v0.9h-0.9zM57.5 309.7h0.9v0.9h-0.9zM70.3 317.3h0.9v0.9h-0.9zM47.5 319.8h0.9v0.9h-0.9zM67.5 313h0.9v0.9h-0.9zM66.3 323.5h0.9v0.9h-0.9zM75.1 331.7h0.9v0.9h-0.9zM69.9 321h0.9v0.9h-0.9zM67.7 328h0.9v0.9h-0.9zM66.4 337.4h0.9v0.9h-0.9zM63.3 315.7h0.9v0.9h-0.9zM43 318.7h0.9v0.9h-0.9zM50.3 319.1h0.9v0.9h-0.9zM75.3 336.1h0.9v0.9h-0.9zM68.3 337h0.9v0.9h-0.9zM57 329.8h0.9v0.9h-0.9zM75 324.4h0.9v0.9h-0.9zM68.3 331.9h0.9v0.9h-0.9zM51.8 319.8h0.9v0.9h-0.9zM63.5 334.2h0.9v0.9h-0.9zM83 321.3h0.9v0.9h-0.9zM82.3 320.1h0.9v0.9h-0.9zM59.8 334.5h0.9v0.9h-0.9zM55.7 310.7h0.9v0.9h-0.9zM88 328h0.9v0.9h-0.9zM58.3 332.2h0.9v0.9h-0.9zM62.9 313.4h0.9v0.9h-0.9zM65.4 313.6h0.9v0.9h-0.9zM62.9 334.9h0.9v0.9h-0.9zM73.1 321.6h0.9v0.9h-0.9zM71.9 298h0.9v0.9h-0.9zM61.2 334.8h0.9v0.9h-0.9zM69.8 316.3h0.9v0.9h-0.9zM75.6 330.2h0.9v0.9h-0.9zM76.6 305.9h0.9v0.9h-0.9zM72.2 331.9h0.9v0.9h-0.9zM78.2 322.2h0.9v0.9h-0.9zM66.3 321h0.9v0.9h-0.9zM59.6 328h0.9v0.9h-0.9zM59.3 320.5h0.9v0.9h-0.9zM59.7 308.1h0.9v0.9h-0.9zM72.8 331.6h0.9v0.9h-0.9zM68.9 333.5h0.9v0.9h-0.9zM80.7 312.5h0.9v0.9h-0.9zM58.4 317.6h0.9v0.9h-0.9zM83.4 321.9h0.9v0.9h-0.9zM82 326.5h0.9v0.9h-0.9zM85.4 330.4h0.9v0.9h-0.9zM65.5 303.7h0.9v0.9h-0.9zM72.8 314.8h0.9v0.9h-0.9zM81.3 335.9h0.9v0.9h-0.9zM75.8 312.1h0.9v0.9h-0.9zM49.2 317.9h0.9v0.9h-0.9zM62.8 340.9h0.9v0.9h-0.9zM82 340.1h0.9v0.9h-0.9zM71.4 332.2h0.9v0.9h-0.9zM83.5 315.4h0.9v0.9h-0.9zM65 319.1h0.9v0.9h-0.9zM80.8 325.1h0.9v0.9h-0.9zM81.8 315.9h0.9v0.9h-0.9zM56.8 308.5h0.9v0.9h-0.9zM60.1 308.7h0.9v0.9h-0.9zM59.4 330.9h0.9v0.9h-0.9zM79.7 334h0.9v0.9h-0.9zM70.9 339.7h0.9v0.9h-0.9zM75.2 332.8h0.9v0.9h-0.9zM69.2 327.4h0.9v0.9h-0.9zM48.6 320.7h0.9v0.9h-0.9zM83.7 319.4h0.9v0.9h-0.9zM74.2 304h0.9v0.9h-0.9zM85.7 315.1h0.9v0.9h-0.9zM84.4 327h0.9v0.9h-0.9zM69.3 330h0.9v0.9h-0.9zM64 322.6h0.9v0.9h-0.9zM74.2 317.4h0.9v0.9h-0.9zM77.6 306h0.9v0.9h-0.9zM58 326.3h0.9v0.9h-0.9zM59.8 303.5h0.9v0.9h-0.9zM58.1 328.5h0.9v0.9h-0.9zM73 311.1h0.9v0.9h-0.9zM63.9 313.3h0.9v0.9h-0.9zM70 303.3h0.9v0.9h-0.9zM73.8 324.3h0.9v0.9h-0.9zM88.3 326.3h0.9v0.9h-0.9zM83.6 334.9h0.9v0.9h-0.9zM80.9 317.4h0.9v0.9h-0.9zM75.3 308.8h0.9v0.9h-0.9zM72.7 309.7h0.9v0.9h-0.9zM78.7 321.5h0.9v0.9h-0.9zM85.2 314.1h0.9v0.9h-0.9zM80.8 329.9h0.9v0.9h-0.9zM59.9 304h0.9v0.9h-0.9zM64.9 309.5h0.9v0.9h-0.9zM74.7 321.9h0.9v0.9h-0.9zM80.7 337.5h0.9v0.9h-0.9zM66.1 329.6h0.9v0.9h-0.9zM71.5 303.4h0.9v0.9h-0.9z" fill="#fff" fill-opacity="0.7"/>
<path d="M58.9 341 C60.3 341 64.2 341.1 68.1 341.1 C71.9 341.1 79.4 340.9 82.2 341.1 C84.9 341.3 84.2 340.8 84.4 342.1 C84.7 343.5 84.4 346.9 83.7 349.2 C82.9 351.4 80.4 353.4 80.1 355.5 C79.7 357.7 81 359.8 81.5 362.2 C82 364.5 82.8 367.6 82.9 369.8 C83 371.9 82.7 373.5 81.8 375.1 C81 376.7 79.5 377.8 78 379.2 C76.6 380.6 74.4 382.4 73.1 383.6 C71.9 384.7 71.4 385.9 70.5 386.1 C69.6 386.2 68.6 385.6 67.7 384.5 C66.7 383.5 65.7 381.5 64.7 379.9 C63.7 378.2 62.5 376.4 61.7 374.6 C60.8 372.8 59.9 370.8 59.5 369 C59 367.1 59.1 365.7 59 363.5 C58.9 361.3 58.7 358.3 59 355.7 C59.2 353.2 60.3 350.3 60.4 347.9 C60.5 345.5 59.9 342.5 59.6 341.4 C59.4 340.2 57.5 341.1 58.9 341Z" fill="#c6c8cd"/>
<path d="M79.3 356.1h1.1v1.1h-1.1zM83.5 348.7h1.1v1.1h-1.1zM58.2 355.3h1.1v1.1h-1.1zM82.2 350.6h1.1v1.1h-1.1zM58.7 364.9h1.1v1.1h-1.1zM81.1 358.7h1.1v1.1h-1.1zM65.1 381.4h1.1v1.1h-1.1zM81.9 372h1.1v1.1h-1.1zM64.3 381.2h1.1v1.1h-1.1zM81.3 363.4h1.1v1.1h-1.1zM83.9 346.6h1.1v1.1h-1.1zM69.4 336.9h1.1v1.1h-1.1zM59.7 343.2h1.1v1.1h-1.1zM80.8 360.9h1.1v1.1h-1.1zM81.8 365.9h1.1v1.1h-1.1zM73.9 337.9h1.1v1.1h-1.1zM57.6 362.8h1.1v1.1h-1.1zM83 367.7h1.1v1.1h-1.1zM79.9 379.1h1.1v1.1h-1.1zM65.9 339.8h1.1v1.1h-1.1zM58.5 368.2h1.1v1.1h-1.1zM62.6 375.8h1.1v1.1h-1.1zM78.8 340.2h1.1v1.1h-1.1zM81.6 352h1.1v1.1h-1.1zM58.2 347.6h1.1v1.1h-1.1zM79.5 355.6h1.1v1.1h-1.1zM80.9 351.7h1.1v1.1h-1.1zM74.2 340.5h1.1v1.1h-1.1zM58.9 345.1h1.1v1.1h-1.1zM57.8 364.7h1.1v1.1h-1.1zM84.5 339.5h1.1v1.1h-1.1zM82.4 363.3h1.1v1.1h-1.1zM80.9 361.7h1.1v1.1h-1.1zM82.8 369.9h1.1v1.1h-1.1zM65 384.4h1.1v1.1h-1.1zM60.8 340.6h1.1v1.1h-1.1zM60.6 340.6h1.1v1.1h-1.1zM77.3 340.7h1.1v1.1h-1.1zM80.2 353h1.1v1.1h-1.1zM58 352.2h1.1v1.1h-1.1zM70.5 339.4h1.1v1.1h-1.1zM86.2 370.6h1.1v1.1h-1.1zM61.7 340.2h1.1v1.1h-1.1zM76.7 379.2h1.1v1.1h-1.1zM80.2 376.9h1.1v1.1h-1.1zM80.2 354.5h1.1v1.1h-1.1zM71.9 384.7h1.1v1.1h-1.1zM57.4 355.4h1.1v1.1h-1.1zM67.8 385.4h1.1v1.1h-1.1zM56.3 362.2h1.1v1.1h-1.1zM59 349.8h1.1v1.1h-1.1zM68 340h1.1v1.1h-1.1zM75 382h1.1v1.1h-1.1zM64.5 340.4h1.1v1.1h-1.1zM81 353.2h1.1v1.1h-1.1zM66.5 384.1h1.1v1.1h-1.1zM59.6 370.2h1.1v1.1h-1.1zM58.6 341.2h1.1v1.1h-1.1zM58.2 356.5h1.1v1.1h-1.1zM58.9 341h1.1v1.1h-1.1zM83.9 341.6h1.1v1.1h-1.1zM82.1 371.6h1.1v1.1h-1.1zM67.3 338h1.1v1.1h-1.1zM58.4 364.9h1.1v1.1h-1.1zM84.4 370.3h1.1v1.1h-1.1zM64 379h1.1v1.1h-1.1zM72.5 340.2h1.1v1.1h-1.1zM65.6 381.7h1.1v1.1h-1.1zM57.5 362.4h1.1v1.1h-1.1zM61.5 339.6h1.1v1.1h-1.1zM83.4 342.9h1.1v1.1h-1.1zM68.7 339.6h1.1v1.1h-1.1zM58.3 362.7h1.1v1.1h-1.1zM59.1 367h1.1v1.1h-1.1zM73 341.2h1.1v1.1h-1.1zM81.6 372.6h1.1v1.1h-1.1zM82.7 339.9h1.1v1.1h-1.1zM81 357.9h1.1v1.1h-1.1zM58 341.6h1.1v1.1h-1.1zM82.4 369.7h1.1v1.1h-1.1zM58.6 357.2h1.1v1.1h-1.1zM68.2 385h1.1v1.1h-1.1zM83.1 340.2h1.1v1.1h-1.1zM57.8 348.2h1.1v1.1h-1.1zM83 348.9h1.1v1.1h-1.1zM65 340.5h1.1v1.1h-1.1zM64.5 380.1h1.1v1.1h-1.1zM58.6 351.5h1.1v1.1h-1.1zM83.9 344.2h1.1v1.1h-1.1z" fill="#c6c8cd"/>
<path d="M83.2 343.1h0.9v0.9h-0.9zM78.9 352.1h0.9v0.9h-0.9zM63.7 350.8h0.9v0.9h-0.9zM65 374.7h0.9v0.9h-0.9zM81.2 343.2h0.9v0.9h-0.9zM79.1 355.2h0.9v0.9h-0.9zM69.9 345.3h0.9v0.9h-0.9zM61.4 353.8h0.9v0.9h-0.9zM70.4 364.8h0.9v0.9h-0.9zM72.1 347.6h0.9v0.9h-0.9zM69.1 354.6h0.9v0.9h-0.9zM59.6 364.7h0.9v0.9h-0.9zM77.6 360.3h0.9v0.9h-0.9zM74 352.8h0.9v0.9h-0.9zM68.7 383.1h0.9v0.9h-0.9zM59.3 351.2h0.9v0.9h-0.9zM66.8 361.5h0.9v0.9h-0.9zM68.6 384.2h0.9v0.9h-0.9zM61.7 346.6h0.9v0.9h-0.9zM77.9 351.5h0.9v0.9h-0.9zM67.8 353.1h0.9v0.9h-0.9zM70.3 343.6h0.9v0.9h-0.9zM77.5 351.9h0.9v0.9h-0.9zM73.9 376h0.9v0.9h-0.9zM71.1 364.3h0.9v0.9h-0.9zM76.9 350.7h0.9v0.9h-0.9zM83.1 343.8h0.9v0.9h-0.9zM80.8 371.4h0.9v0.9h-0.9zM65 369.2h0.9v0.9h-0.9zM71.1 382h0.9v0.9h-0.9zM70.6 357.9h0.9v0.9h-0.9zM73.3 349.5h0.9v0.9h-0.9zM62.8 373.2h0.9v0.9h-0.9zM75.7 357.4h0.9v0.9h-0.9zM80.9 368.3h0.9v0.9h-0.9zM83.1 348.6h0.9v0.9h-0.9zM67.4 373.3h0.9v0.9h-0.9zM82.8 349.1h0.9v0.9h-0.9zM65.1 349.3h0.9v0.9h-0.9zM79.5 359.7h0.9v0.9h-0.9zM68.5 376.1h0.9v0.9h-0.9zM80.5 341.1h0.9v0.9h-0.9zM66.5 342h0.9v0.9h-0.9zM74.2 373.3h0.9v0.9h-0.9zM81.6 370.5h0.9v0.9h-0.9zM59.2 352h0.9v0.9h-0.9zM73.3 354.7h0.9v0.9h-0.9zM66.9 369.5h0.9v0.9h-0.9zM67.5 360.1h0.9v0.9h-0.9zM75.6 376.3h0.9v0.9h-0.9zM78.9 346.6h0.9v0.9h-0.9zM74.5 371.6h0.9v0.9h-0.9zM72 357.2h0.9v0.9h-0.9zM74.9 359.4h0.9v0.9h-0.9zM68.2 382h0.9v0.9h-0.9zM62.2 369.2h0.9v0.9h-0.9zM69.5 349.2h0.9v0.9h-0.9zM77.6 371.8h0.9v0.9h-0.9zM73.9 370.1h0.9v0.9h-0.9zM76.7 362.3h0.9v0.9h-0.9zM75.5 376.3h0.9v0.9h-0.9zM60.5 365.6h0.9v0.9h-0.9zM66.6 349.9h0.9v0.9h-0.9zM74.2 372.1h0.9v0.9h-0.9zM64.4 348.7h0.9v0.9h-0.9zM72.8 349.5h0.9v0.9h-0.9zM62.4 346.7h0.9v0.9h-0.9zM76.5 345.2h0.9v0.9h-0.9zM78.7 347.6h0.9v0.9h-0.9zM66.3 344h0.9v0.9h-0.9zM68.4 343.6h0.9v0.9h-0.9zM70.9 370h0.9v0.9h-0.9zM72.8 346.4h0.9v0.9h-0.9zM66.9 354.1h0.9v0.9h-0.9zM70 358.5h0.9v0.9h-0.9zM60.3 345.3h0.9v0.9h-0.9zM75.4 376.9h0.9v0.9h-0.9zM62.7 356.7h0.9v0.9h-0.9zM63.8 351.7h0.9v0.9h-0.9zM66.2 378h0.9v0.9h-0.9zM70.3 351.8h0.9v0.9h-0.9zM61 365.6h0.9v0.9h-0.9zM79.4 368.8h0.9v0.9h-0.9zM70.3 376.4h0.9v0.9h-0.9zM81.6 367.8h0.9v0.9h-0.9zM79.9 369.8h0.9v0.9h-0.9zM68 353.9h0.9v0.9h-0.9zM69 348.6h0.9v0.9h-0.9zM68.9 343h0.9v0.9h-0.9zM69 383h0.9v0.9h-0.9zM66.3 349.9h0.9v0.9h-0.9zM81.4 373.5h0.9v0.9h-0.9zM76 344.9h0.9v0.9h-0.9zM75.3 345.2h0.9v0.9h-0.9zM70.5 367.9h0.9v0.9h-0.9zM66.1 362.3h0.9v0.9h-0.9zM74.4 361.3h0.9v0.9h-0.9zM70.1 360.5h0.9v0.9h-0.9zM61.2 368.8h0.9v0.9h-0.9zM71.9 347.6h0.9v0.9h-0.9zM78.2 371h0.9v0.9h-0.9zM78.8 373h0.9v0.9h-0.9zM75.2 344.7h0.9v0.9h-0.9zM75.7 373.1h0.9v0.9h-0.9zM64.3 356.4h0.9v0.9h-0.9zM67.3 343.3h0.9v0.9h-0.9z" fill="#fff" fill-opacity="0.7"/>
<path d="M85.2 391 C85.4 389.9 86.5 389.7 87.4 390 C88.3 390.3 89.1 391.7 90.6 392.7 C92 393.8 94.2 395.1 96 396.2 C97.8 397.3 99.7 398.1 101.3 399.1 C102.9 400.1 104.4 401.3 105.6 402.4 C106.8 403.5 108.1 404.8 108.5 405.9 C108.9 406.9 108.7 407.8 108.2 408.5 C107.6 409.2 106.7 410.1 105.2 410.1 C103.8 410.1 101.2 409.4 99.4 408.7 C97.6 408 95.9 407.2 94.3 405.9 C92.8 404.6 91.4 402.2 90 400.7 C88.6 399.1 86.9 398.1 86.1 396.5 C85.3 394.9 85 392.1 85.2 391Z" fill="#c6c8cd"/>
<path d="M93.2 394.1h1.1v1.1h-1.1zM86.3 388.6h1.1v1.1h-1.1zM108.1 407.4h1.1v1.1h-1.1zM99 408.6h1.1v1.1h-1.1zM96 394.4h1.1v1.1h-1.1zM85.6 396.2h1.1v1.1h-1.1zM109.7 409.3h1.1v1.1h-1.1zM84.9 396.6h1.1v1.1h-1.1zM86.9 397.2h1.1v1.1h-1.1zM107.6 408.2h1.1v1.1h-1.1zM107.4 405.4h1.1v1.1h-1.1zM93.3 394.2h1.1v1.1h-1.1zM105.7 408.9h1.1v1.1h-1.1zM100.5 409.1h1.1v1.1h-1.1zM87.6 398.8h1.1v1.1h-1.1zM103.5 400.1h1.1v1.1h-1.1zM108.1 410.7h1.1v1.1h-1.1zM102.7 409.8h1.1v1.1h-1.1zM94.7 395.4h1.1v1.1h-1.1zM105.6 410.6h1.1v1.1h-1.1zM104 410.1h1.1v1.1h-1.1zM86.8 397.5h1.1v1.1h-1.1zM98 407.6h1.1v1.1h-1.1zM85.9 394.7h1.1v1.1h-1.1zM85.1 393.2h1.1v1.1h-1.1zM84.4 395.8h1.1v1.1h-1.1zM93.2 394.1h1.1v1.1h-1.1zM97.2 407.8h1.1v1.1h-1.1zM91.1 392.3h1.1v1.1h-1.1zM92.5 404.3h1.1v1.1h-1.1zM103 400.2h1.1v1.1h-1.1z" fill="#c6c8cd"/>
<path d="M97.4 407.1h0.9v0.9h-0.9zM96.4 405.7h0.9v0.9h-0.9zM106 403.4h0.9v0.9h-0.9zM90.4 393h0.9v0.9h-0.9zM103.6 403.4h0.9v0.9h-0.9zM99.3 406h0.9v0.9h-0.9zM105 402.1h0.9v0.9h-0.9zM89 398.2h0.9v0.9h-0.9zM86 392.9h0.9v0.9h-0.9zM101 402.5h0.9v0.9h-0.9zM90.6 398h0.9v0.9h-0.9zM88.3 398.4h0.9v0.9h-0.9zM98.3 405.7h0.9v0.9h-0.9zM90.6 399.7h0.9v0.9h-0.9zM100.6 403.1h0.9v0.9h-0.9zM101 399.1h0.9v0.9h-0.9zM94.6 396.2h0.9v0.9h-0.9zM85.5 390.2h0.9v0.9h-0.9zM85.8 393.6h0.9v0.9h-0.9zM100.4 404.8h0.9v0.9h-0.9zM88 392.4h0.9v0.9h-0.9zM100.3 407.4h0.9v0.9h-0.9zM104.3 401.7h0.9v0.9h-0.9z" fill="#fff" fill-opacity="0.7"/>
<path d="M86.7 314.7 C86.4 313.9 87.6 311.5 88.4 309.9 C89.2 308.3 90.4 306.4 91.5 305 C92.7 303.6 94.3 302.4 95.6 301.6 C96.8 300.9 97.8 300.5 99.1 300.5 C100.4 300.5 102.1 301.1 103.6 301.6 C105 302.1 107 302.8 108 303.6 C109 304.4 109.9 305.6 109.8 306.5 C109.6 307.4 108.3 308.8 107.1 308.9 C105.9 309.1 104.2 307.9 102.7 307.5 C101.2 307 99.6 306 98.2 306 C96.9 306 95.7 306.6 94.7 307.5 C93.6 308.3 92.8 309.6 92 310.9 C91.2 312.2 90.7 314.6 89.8 315.2 C88.9 315.9 86.9 315.6 86.7 314.7Z" fill="#c6c8cd"/>
<path d="M91.9 304.4h1.1v1.1h-1.1zM87.6 316h1.1v1.1h-1.1zM90.1 312.6h1.1v1.1h-1.1zM98.2 299.3h1.1v1.1h-1.1zM95.6 300.8h1.1v1.1h-1.1zM94.1 306.7h1.1v1.1h-1.1zM102.1 307.1h1.1v1.1h-1.1zM109.1 307h1.1v1.1h-1.1zM109 303.1h1.1v1.1h-1.1zM86.9 310.7h1.1v1.1h-1.1zM90.2 306.3h1.1v1.1h-1.1zM108.4 303.8h1.1v1.1h-1.1zM89.4 312.3h1.1v1.1h-1.1zM94.2 306.7h1.1v1.1h-1.1zM106.3 302.7h1.1v1.1h-1.1zM109 302.3h1.1v1.1h-1.1zM89.5 306.4h1.1v1.1h-1.1zM86.9 312.1h1.1v1.1h-1.1zM99.2 300.6h1.1v1.1h-1.1zM107.4 308.2h1.1v1.1h-1.1zM89.5 314.5h1.1v1.1h-1.1zM91.2 301.1h1.1v1.1h-1.1zM108.4 304.4h1.1v1.1h-1.1zM106.2 302.4h1.1v1.1h-1.1zM89.9 303.1h1.1v1.1h-1.1zM91.1 304.4h1.1v1.1h-1.1zM101.7 306h1.1v1.1h-1.1zM94.9 306h1.1v1.1h-1.1z" fill="#c6c8cd"/>
<path d="M90.4 311.8h0.9v0.9h-0.9zM88.4 313h0.9v0.9h-0.9zM101 303.6h0.9v0.9h-0.9zM89.7 313.9h0.9v0.9h-0.9zM90.6 306.5h0.9v0.9h-0.9zM90.3 311.6h0.9v0.9h-0.9zM103.4 306.1h0.9v0.9h-0.9zM91 305.7h0.9v0.9h-0.9zM90.7 306.4h0.9v0.9h-0.9zM92.5 306.3h0.9v0.9h-0.9zM97.4 300.8h0.9v0.9h-0.9zM106.1 305.1h0.9v0.9h-0.9zM92.1 308.9h0.9v0.9h-0.9zM106 303.8h0.9v0.9h-0.9z" fill="#fff" fill-opacity="0.7"/>
<path d="M96.3 301.1 C97 300.4 99.4 300.1 100.9 300.2 C102.4 300.2 104.7 300.8 105.3 301.6 C106 302.4 105.8 304.4 104.9 305 C104 305.7 101.4 305.6 100 305.5 C98.6 305.4 97.1 305.3 96.4 304.5 C95.8 303.8 95.5 301.9 96.3 301.1Z" fill="#c6c8cd"/>
<path d="M94.5 300.2h1.1v1.1h-1.1zM104.8 301h1.1v1.1h-1.1zM105.2 302.8h1.1v1.1h-1.1zM95.5 301.5h1.1v1.1h-1.1zM92.8 301.6h1.1v1.1h-1.1zM105.2 301.9h1.1v1.1h-1.1zM100.7 304.6h1.1v1.1h-1.1zM97.1 304.1h1.1v1.1h-1.1zM97.1 298.5h1.1v1.1h-1.1zM101.9 304.9h1.1v1.1h-1.1z" fill="#c6c8cd"/>
<path d="M100.3 302.2h0.9v0.9h-0.9zM104.6 302.4h0.9v0.9h-0.9zM103.8 301.5h0.9v0.9h-0.9zM104.5 301.9h0.9v0.9h-0.9z" fill="#fff" fill-opacity="0.7"/>
<path d="M84 300 C84.3 299.5 85.6 298.8 86.7 298.2 C87.7 297.6 89.1 296.8 90.2 296.3 C91.3 295.7 92.7 294.8 93.3 294.8 C94 294.8 94.6 295.7 94.2 296.3 C93.8 296.8 92.2 297.6 91.1 298.2 C90 298.9 88.6 299.7 87.5 300.2 C86.5 300.6 85.3 301.2 84.7 301.1 C84.1 301.1 83.7 300.5 84 300Z" fill="#c6c8cd"/>
<path d="M89.4 295.8h1.1v1.1h-1.1zM87.6 295h1.1v1.1h-1.1zM85.3 298.2h1.1v1.1h-1.1zM91.6 297.1h1.1v1.1h-1.1zM83.9 297.6h1.1v1.1h-1.1zM87.3 299.8h1.1v1.1h-1.1zM93.4 295.5h1.1v1.1h-1.1zM90.7 298.9h1.1v1.1h-1.1zM90.4 298.4h1.1v1.1h-1.1zM85.9 300h1.1v1.1h-1.1zM83.9 300.4h1.1v1.1h-1.1zM89.5 298.3h1.1v1.1h-1.1z" fill="#c6c8cd"/>
<path d="M91.9 295.8h0.9v0.9h-0.9zM86.6 298.3h0.9v0.9h-0.9z" fill="#fff" fill-opacity="0.7"/>
<path d="M95.1 368.9h1.1v1.1h-1.1zM88.2 343.4h1.1v1.1h-1.1zM91.8 360.4h1.1v1.1h-1.1zM108 342.4h1.1v1.1h-1.1zM94.9 369.2h1.1v1.1h-1.1zM96.5 368.2h1.1v1.1h-1.1zM89.2 334.7h1.1v1.1h-1.1zM95.4 351.5h1.1v1.1h-1.1zM91 348.8h1.1v1.1h-1.1zM90.1 348.8h1.1v1.1h-1.1zM97.8 357.8h1.1v1.1h-1.1zM89.2 348.5h1.1v1.1h-1.1zM96.1 359.3h1.1v1.1h-1.1zM90.5 349.5h1.1v1.1h-1.1zM96.8 356.4h1.1v1.1h-1.1zM106.4 352.7h1.1v1.1h-1.1zM102.7 358.7h1.1v1.1h-1.1zM94.1 361.2h1.1v1.1h-1.1zM98 362.6h1.1v1.1h-1.1zM97.9 370.3h1.1v1.1h-1.1zM88.1 325.5h1.1v1.1h-1.1zM94.3 373.3h1.1v1.1h-1.1zM108 346.3h1.1v1.1h-1.1zM95.7 337.3h1.1v1.1h-1.1zM91.5 322h1.1v1.1h-1.1zM95.9 365.3h1.1v1.1h-1.1zM99.3 355.1h1.1v1.1h-1.1zM92.9 318h1.1v1.1h-1.1zM87.5 341.1h1.1v1.1h-1.1zM100.2 365.6h1.1v1.1h-1.1zM93 317h1.1v1.1h-1.1zM88.3 325.4h1.1v1.1h-1.1zM87.8 337.3h1.1v1.1h-1.1zM102.7 338.7h1.1v1.1h-1.1zM93.5 359.5h1.1v1.1h-1.1zM108.3 349.9h1.1v1.1h-1.1zM93 306.3h1.1v1.1h-1.1zM105.1 340.6h1.1v1.1h-1.1zM87.7 335.5h1.1v1.1h-1.1zM88.9 325.8h1.1v1.1h-1.1zM101.2 345.9h1.1v1.1h-1.1zM92 361.4h1.1v1.1h-1.1zM98.8 371.9h1.1v1.1h-1.1zM97.2 346.2h1.1v1.1h-1.1zM96.6 370h1.1v1.1h-1.1zM97.9 341.9h1.1v1.1h-1.1zM88.7 346h1.1v1.1h-1.1zM94.3 363.3h1.1v1.1h-1.1zM98.9 366.8h1.1v1.1h-1.1zM92.1 365h1.1v1.1h-1.1zM99.8 341.7h1.1v1.1h-1.1zM87.7 333.1h1.1v1.1h-1.1zM100.4 352h1.1v1.1h-1.1zM91.8 317h1.1v1.1h-1.1zM91.8 341.2h1.1v1.1h-1.1zM106.1 345.2h1.1v1.1h-1.1zM100.8 349h1.1v1.1h-1.1zM93.6 312.1h1.1v1.1h-1.1zM102.2 339.5h1.1v1.1h-1.1zM88.8 324h1.1v1.1h-1.1zM92.4 358.7h1.1v1.1h-1.1zM102.4 360.2h1.1v1.1h-1.1zM92.4 351.4h1.1v1.1h-1.1zM102.2 340.4h1.1v1.1h-1.1zM97.1 354.1h1.1v1.1h-1.1zM92.5 352.4h1.1v1.1h-1.1zM102.4 360.9h1.1v1.1h-1.1zM88.4 322.2h1.1v1.1h-1.1zM98.8 372.1h1.1v1.1h-1.1zM93.6 311.2h1.1v1.1h-1.1zM91.2 322.8h1.1v1.1h-1.1zM87.4 348.3h1.1v1.1h-1.1zM93.4 362h1.1v1.1h-1.1zM87.3 322.2h1.1v1.1h-1.1zM92 358.1h1.1v1.1h-1.1zM105.1 350.6h1.1v1.1h-1.1zM102.9 349.3h1.1v1.1h-1.1zM98.1 352.8h1.1v1.1h-1.1zM89.4 347.3h1.1v1.1h-1.1zM86.6 327.8h1.1v1.1h-1.1zM104.9 349.5h1.1v1.1h-1.1zM97.5 363.5h1.1v1.1h-1.1zM89.8 325.5h1.1v1.1h-1.1zM95.1 305.4h1.1v1.1h-1.1zM103.1 344.9h1.1v1.1h-1.1zM94.6 310.7h1.1v1.1h-1.1zM92.5 368.8h1.1v1.1h-1.1zM88.3 338.3h1.1v1.1h-1.1zM94 348.3h1.1v1.1h-1.1zM101.3 348.9h1.1v1.1h-1.1zM98 360.1h1.1v1.1h-1.1zM92.9 359.5h1.1v1.1h-1.1zM90.1 309.7h1.1v1.1h-1.1zM92.8 358.3h1.1v1.1h-1.1zM95.2 354.9h1.1v1.1h-1.1zM101.6 350.7h1.1v1.1h-1.1zM95.4 342.8h1.1v1.1h-1.1zM90.7 336.3h1.1v1.1h-1.1zM89.2 345.5h1.1v1.1h-1.1zM89.6 346.9h1.1v1.1h-1.1zM101.9 353.1h1.1v1.1h-1.1zM89.3 329.5h1.1v1.1h-1.1zM101.7 340.8h1.1v1.1h-1.1zM88.6 321h1.1v1.1h-1.1zM87.7 323.7h1.1v1.1h-1.1zM90.4 344.3h1.1v1.1h-1.1zM95.8 347.1h1.1v1.1h-1.1zM100.4 342.5h1.1v1.1h-1.1zM93.3 309.1h1.1v1.1h-1.1zM93.1 354.3h1.1v1.1h-1.1zM108.4 344.5h1.1v1.1h-1.1zM90.6 311.7h1.1v1.1h-1.1zM107.8 342.1h1.1v1.1h-1.1zM96.9 346.3h1.1v1.1h-1.1zM101.6 361.9h1.1v1.1h-1.1zM92.1 342.4h1.1v1.1h-1.1zM98.9 370.8h1.1v1.1h-1.1zM105 354.7h1.1v1.1h-1.1zM89.7 358.6h1.1v1.1h-1.1zM87.1 322.4h1.1v1.1h-1.1zM105.3 345h1.1v1.1h-1.1zM103.2 350.1h1.1v1.1h-1.1zM105.8 342.1h1.1v1.1h-1.1zM89 335.3h1.1v1.1h-1.1zM92.4 355.1h1.1v1.1h-1.1zM99.1 373h1.1v1.1h-1.1zM91.3 339.7h1.1v1.1h-1.1zM104 340.9h1.1v1.1h-1.1zM99 367.8h1.1v1.1h-1.1zM93.3 357.5h1.1v1.1h-1.1zM97.6 337.4h1.1v1.1h-1.1zM105.9 341.7h1.1v1.1h-1.1zM103.8 355.5h1.1v1.1h-1.1zM93.6 332.6h1.1v1.1h-1.1zM98 354.6h1.1v1.1h-1.1zM94.7 336.6h1.1v1.1h-1.1zM100.9 338.1h1.1v1.1h-1.1zM95.1 342.4h1.1v1.1h-1.1zM101.6 349.7h1.1v1.1h-1.1zM90 347.2h1.1v1.1h-1.1zM88.5 341.3h1.1v1.1h-1.1zM87.8 317.3h1.1v1.1h-1.1zM100.7 346.6h1.1v1.1h-1.1zM92.3 352.9h1.1v1.1h-1.1zM90.7 310.6h1.1v1.1h-1.1zM106.8 348.2h1.1v1.1h-1.1zM92.6 320.5h1.1v1.1h-1.1zM100.6 361.7h1.1v1.1h-1.1zM106.1 343.1h1.1v1.1h-1.1zM89.3 320.8h1.1v1.1h-1.1zM105.5 342.9h1.1v1.1h-1.1zM89.4 356.8h1.1v1.1h-1.1zM94.9 347.3h1.1v1.1h-1.1zM91.8 352.9h1.1v1.1h-1.1zM99.1 353.3h1.1v1.1h-1.1zM96.8 354.3h1.1v1.1h-1.1zM90.5 316h1.1v1.1h-1.1zM93.9 364.3h1.1v1.1h-1.1zM90.4 362.1h1.1v1.1h-1.1zM100.9 366.1h1.1v1.1h-1.1zM91.1 350h1.1v1.1h-1.1zM104.9 351h1.1v1.1h-1.1zM97.6 358.3h1.1v1.1h-1.1zM100.7 348.2h1.1v1.1h-1.1zM99.3 338.9h1.1v1.1h-1.1zM88.5 349.9h1.1v1.1h-1.1zM101.3 346.4h1.1v1.1h-1.1zM92.6 365.4h1.1v1.1h-1.1zM90.4 353h1.1v1.1h-1.1zM92.7 311.3h1.1v1.1h-1.1zM91 320.6h1.1v1.1h-1.1zM92.7 337.7h1.1v1.1h-1.1zM96.9 367.4h1.1v1.1h-1.1zM103.6 344.1h1.1v1.1h-1.1zM88.4 344.2h1.1v1.1h-1.1zM93.8 342.3h1.1v1.1h-1.1zM94.2 347.1h1.1v1.1h-1.1zM88.5 328.7h1.1v1.1h-1.1zM97.2 354.6h1.1v1.1h-1.1zM99 344.5h1.1v1.1h-1.1zM99.5 343.6h1.1v1.1h-1.1zM91.9 342.6h1.1v1.1h-1.1zM92.2 346.5h1.1v1.1h-1.1zM95.4 344h1.1v1.1h-1.1zM88 339.5h1.1v1.1h-1.1zM95.9 363.2h1.1v1.1h-1.1zM93.5 310.1h1.1v1.1h-1.1zM90.7 323.7h1.1v1.1h-1.1zM99.9 369.2h1.1v1.1h-1.1zM97.4 368.9h1.1v1.1h-1.1zM100.1 353.5h1.1v1.1h-1.1zM100.3 345.8h1.1v1.1h-1.1zM90.8 321.5h1.1v1.1h-1.1zM100.3 364.7h1.1v1.1h-1.1zM101.7 346.6h1.1v1.1h-1.1zM104.4 342.5h1.1v1.1h-1.1zM90.1 326.3h1.1v1.1h-1.1zM88.1 324.1h1.1v1.1h-1.1zM86.7 335.8h1.1v1.1h-1.1zM94.3 360.5h1.1v1.1h-1.1zM106.3 345.1h1.1v1.1h-1.1zM95.4 311.5h1.1v1.1h-1.1zM97 366.8h1.1v1.1h-1.1zM92.1 318.7h1.1v1.1h-1.1zM92.2 366.6h1.1v1.1h-1.1zM95.4 339.4h1.1v1.1h-1.1zM94.1 358.1h1.1v1.1h-1.1zM90 353h1.1v1.1h-1.1zM93 357h1.1v1.1h-1.1zM92 310.3h1.1v1.1h-1.1zM101.6 356.4h1.1v1.1h-1.1zM91.5 338.5h1.1v1.1h-1.1zM97.3 351.7h1.1v1.1h-1.1zM102.8 339.5h1.1v1.1h-1.1zM96.6 349.5h1.1v1.1h-1.1zM102.1 353.4h1.1v1.1h-1.1zM91.3 346.8h1.1v1.1h-1.1zM105.2 351.6h1.1v1.1h-1.1zM105.5 348.7h1.1v1.1h-1.1zM98.3 370.8h1.1v1.1h-1.1zM94.1 306.1h1.1v1.1h-1.1zM102.3 347h1.1v1.1h-1.1zM90.4 357.3h1.1v1.1h-1.1zM107.1 346.9h1.1v1.1h-1.1zM90.7 336h1.1v1.1h-1.1zM92.6 368h1.1v1.1h-1.1zM99.6 358.9h1.1v1.1h-1.1zM99.8 364.7h1.1v1.1h-1.1zM94.6 353.9h1.1v1.1h-1.1zM98.1 361h1.1v1.1h-1.1zM105.3 344h1.1v1.1h-1.1zM94.2 337.6h1.1v1.1h-1.1zM86.2 329.9h1.1v1.1h-1.1zM90.1 314h1.1v1.1h-1.1zM106.3 340.2h1.1v1.1h-1.1zM95.6 311.5h1.1v1.1h-1.1zM98.6 337.7h1.1v1.1h-1.1zM91.3 341.7h1.1v1.1h-1.1zM91.4 320.1h1.1v1.1h-1.1zM101 345.9h1.1v1.1h-1.1zM95.1 366.5h1.1v1.1h-1.1zM92.3 315.7h1.1v1.1h-1.1zM108.2 343.5h1.1v1.1h-1.1zM90.8 349.7h1.1v1.1h-1.1zM99.9 362.9h1.1v1.1h-1.1zM101.2 351.9h1.1v1.1h-1.1zM95.9 374.4h1.1v1.1h-1.1zM94 339.4h1.1v1.1h-1.1zM91.4 345.5h1.1v1.1h-1.1zM97.1 355.4h1.1v1.1h-1.1zM100.2 350.2h1.1v1.1h-1.1zM95.3 353.1h1.1v1.1h-1.1zM101.7 341.1h1.1v1.1h-1.1zM105.8 354.3h1.1v1.1h-1.1zM92.9 365.5h1.1v1.1h-1.1zM89.6 330.1h1.1v1.1h-1.1zM90.2 312.7h1.1v1.1h-1.1zM96.2 362.1h1.1v1.1h-1.1zM92.4 324.1h1.1v1.1h-1.1zM93.6 353.9h1.1v1.1h-1.1zM93.1 368.9h1.1v1.1h-1.1zM88.6 334.6h1.1v1.1h-1.1zM94.8 351.4h1.1v1.1h-1.1zM92 340.9h1.1v1.1h-1.1zM96.5 374.7h1.1v1.1h-1.1zM96.7 374h1.1v1.1h-1.1zM101 350h1.1v1.1h-1.1zM89 353.1h1.1v1.1h-1.1zM102.3 357.3h1.1v1.1h-1.1zM96.1 336.7h1.1v1.1h-1.1zM88.6 320.7h1.1v1.1h-1.1zM96.2 372h1.1v1.1h-1.1zM95.6 350.8h1.1v1.1h-1.1zM99.5 367.7h1.1v1.1h-1.1zM97.9 356.2h1.1v1.1h-1.1zM95.5 347.6h1.1v1.1h-1.1zM104.2 341.6h1.1v1.1h-1.1zM97.9 346.7h1.1v1.1h-1.1zM95 341.4h1.1v1.1h-1.1z" fill="#c6c8cd"/>
<path d="M9.6 324.9h1.2v1.2h-1.2zM10.3 324.5h1.2v1.2h-1.2zM11.2 324h1.2v1.2h-1.2zM11.7 324h1.2v1.2h-1.2zM12.9 323.2h1.2v1.2h-1.2zM13.2 322.8h1.2v1.2h-1.2zM14.1 322.6h1.2v1.2h-1.2zM15 322.9h1.2v1.2h-1.2zM16.1 322.6h1.2v1.2h-1.2zM17 321.8h1.2v1.2h-1.2zM17.5 321.3h1.2v1.2h-1.2zM18.6 320.8h1.2v1.2h-1.2zM19.5 321.2h1.2v1.2h-1.2zM19.8 320.6h1.2v1.2h-1.2zM20.7 319.8h1.2v1.2h-1.2zM22 319.7h1.2v1.2h-1.2zM22.6 320.1h1.2v1.2h-1.2zM23.3 319.5h1.2v1.2h-1.2zM23.8 319.3h1.2v1.2h-1.2zM24.9 319.4h1.2v1.2h-1.2zM25.8 319.9h1.2v1.2h-1.2zM26.3 319.3h1.2v1.2h-1.2zM27.1 318.9h1.2v1.2h-1.2zM27.8 319.4h1.2v1.2h-1.2zM28.4 319.5h1.2v1.2h-1.2zM29.5 318.7h1.2v1.2h-1.2zM30.2 319.4h1.2v1.2h-1.2zM31.2 319.3h1.2v1.2h-1.2zM32.4 319h1.2v1.2h-1.2zM33 319.5h1.2v1.2h-1.2zM33.9 319.3h1.2v1.2h-1.2zM34.6 319.1h1.2v1.2h-1.2zM35.3 318.5h1.2v1.2h-1.2zM36.4 319.1h1.2v1.2h-1.2zM37.5 318.5h1.2v1.2h-1.2zM38.3 318.8h1.2v1.2h-1.2zM39.3 318.5h1.2v1.2h-1.2zM39.7 319h1.2v1.2h-1.2zM40.4 318.6h1.2v1.2h-1.2zM41.5 319.1h1.2v1.2h-1.2zM42.4 318.7h1.2v1.2h-1.2z" fill="#b3b5bb"/>
<path d="M80.9 379.5h1.2v1.2h-1.2zM81.7 380.5h1.2v1.2h-1.2zM82 381.7h1.2v1.2h-1.2zM82.5 382.1h1.2v1.2h-1.2zM82.4 382.9h1.2v1.2h-1.2zM82.7 383.8h1.2v1.2h-1.2zM83 384h1.2v1.2h-1.2zM83.5 385.4h1.2v1.2h-1.2zM84.2 385.7h1.2v1.2h-1.2zM84.6 387h1.2v1.2h-1.2zM84.6 387.7h1.2v1.2h-1.2z" fill="#b3b5bb"/>
<path d="M101.1 264.1h1.1v1.1h-1.1zM103.4 261h1.1v1.1h-1.1zM102.9 262.2h1.1v1.1h-1.1zM98.4 260.4h1.1v1.1h-1.1zM102.1 264.2h1.1v1.1h-1.1zM99.3 262.9h1.1v1.1h-1.1zM102.3 269.4h1.1v1.1h-1.1z" fill="#c6c8cd"/>
<path d="M108 265.9h1.1v1.1h-1.1zM108.9 265.6h1.1v1.1h-1.1z" fill="#c6c8cd"/>
<path d="M78.8 296.2h1.1v1.1h-1.1zM79.3 295.8h1.1v1.1h-1.1z" fill="#c6c8cd"/>
<path d="M80.6 294.2h1.1v1.1h-1.1zM80.3 293.5h1.1v1.1h-1.1z" fill="#c6c8cd"/>
<path d="M82 292.4h1.1v1.1h-1.1zM82.2 292.1h1.1v1.1h-1.1z" fill="#c6c8cd"/>
<path d="M143.1 265.4h1.1v1.1h-1.1zM143.8 264.3h1.1v1.1h-1.1z" fill="#c6c8cd"/>
<path d="M95.7 342.1h1.1v1.1h-1.1zM95 342.6h1.1v1.1h-1.1zM93.4 341.3h1.1v1.1h-1.1zM95.7 340.8h1.1v1.1h-1.1zM93 343.1h1.1v1.1h-1.1zM96.7 340.9h1.1v1.1h-1.1zM96 341.6h1.1v1.1h-1.1zM95 344.9h1.1v1.1h-1.1zM96 342.4h1.1v1.1h-1.1z" fill="#c6c8cd"/>
<path d="M93.8 346.4h1.1v1.1h-1.1zM90.5 345.9h1.1v1.1h-1.1zM92.2 347.9h1.1v1.1h-1.1zM97.2 348.5h1.1v1.1h-1.1zM89.7 347.2h1.1v1.1h-1.1zM92.6 347.3h1.1v1.1h-1.1zM100.5 347.9h1.1v1.1h-1.1zM95.1 348.3h1.1v1.1h-1.1zM94.9 348.5h1.1v1.1h-1.1z" fill="#c6c8cd"/>
<path d="M102.3 348.6h1.1v1.1h-1.1zM103.5 350.1h1.1v1.1h-1.1zM103.5 350.2h1.1v1.1h-1.1zM103.6 347.2h1.1v1.1h-1.1zM102.7 350.9h1.1v1.1h-1.1z" fill="#c6c8cd"/>
<path d="M96.3 359.4h1.1v1.1h-1.1zM97.3 361.8h1.1v1.1h-1.1zM94.7 359.2h1.1v1.1h-1.1zM101.1 359.3h1.1v1.1h-1.1zM95.9 359.1h1.1v1.1h-1.1zM97.6 354.6h1.1v1.1h-1.1zM94.6 361.7h1.1v1.1h-1.1z" fill="#c6c8cd"/>
<path d="M95.2 371.7h1.1v1.1h-1.1zM98.8 372.1h1.1v1.1h-1.1zM96 371h1.1v1.1h-1.1z" fill="#c6c8cd"/>
<path d="M100.5 361.6h1.1v1.1h-1.1zM97.1 364.4h1.1v1.1h-1.1zM99.9 361.5h1.1v1.1h-1.1zM101.7 360h1.1v1.1h-1.1z" fill="#c6c8cd"/>
<path d="M70.3 392.5h1.1v1.1h-1.1zM69.1 390.9h1.1v1.1h-1.1zM69.2 401.3h1.1v1.1h-1.1zM68.4 394.5h1.1v1.1h-1.1zM69.2 386.3h1.1v1.1h-1.1zM68.3 389h1.1v1.1h-1.1z" fill="#c6c8cd"/>
<path d="M122.7 366.8h1.1v1.1h-1.1zM118.1 368h1.1v1.1h-1.1zM120.1 366.6h1.1v1.1h-1.1zM121 367.7h1.1v1.1h-1.1zM114.8 366.5h1.1v1.1h-1.1z" fill="#c6c8cd"/>
<path d="M90.5 356h1.1v1.1h-1.1zM91.3 356.8h1.1v1.1h-1.1z" fill="#c6c8cd"/>
<path d="M44.2 319.8 C44.6 319.9 45.5 320.1 47.1 319.8 C48.6 319.4 51.6 319.5 53.5 317.8 C55.4 316.2 57.2 312.1 58.4 310 C59.6 307.9 59.6 306.3 60.9 305.1 C62.1 303.8 64 303.4 66 302.4 C68 301.5 71.6 300.1 73 299.3 C74.5 298.5 74.2 296.8 74.6 297.7 C75.1 298.5 75 302.6 75.7 304.4 C76.4 306.3 77.6 307.5 78.9 308.9 C80.2 310.3 82.2 311.4 83.5 312.9 C84.8 314.4 85.8 315.9 86.7 317.7 C87.6 319.5 88.6 321.5 88.7 323.7 C88.8 325.8 88.1 328 87.4 330.7 C86.8 333.3 86.6 338 84.7 339.6 C82.9 341.2 79.4 340.1 76.4 340 C73.3 340 69 339.5 66.3 339.6 C63.7 339.6 61.7 341.6 60.6 340.5 C59.4 339.4 60.1 335.4 59.2 333 C58.4 330.6 56.9 328.2 55.4 326.2 C53.9 324.1 52.2 322 50.4 320.9 C48.7 319.7 45.9 319.6 44.8 319.4 C43.8 319.3 43.9 319.8 44.2 319.8Z" fill="#7d77c4"/>
<path d="M86.1 336.7h1.2v1.2h-1.2zM56.2 328.5h1.2v1.2h-1.2zM75.1 304.4h1.2v1.2h-1.2zM49.9 321.2h1.2v1.2h-1.2zM87 334.9h1.2v1.2h-1.2zM88.6 318.7h1.2v1.2h-1.2zM48 320.6h1.2v1.2h-1.2zM75.6 342.7h1.2v1.2h-1.2zM82.7 311.8h1.2v1.2h-1.2zM89.6 324.4h1.2v1.2h-1.2zM86.8 318.5h1.2v1.2h-1.2zM54.2 316.4h1.2v1.2h-1.2zM49.3 318.1h1.2v1.2h-1.2zM63.2 302.9h1.2v1.2h-1.2zM54.1 316.7h1.2v1.2h-1.2zM57.5 331.4h1.2v1.2h-1.2zM68.2 339.5h1.2v1.2h-1.2zM66.3 338.5h1.2v1.2h-1.2zM86.8 329.7h1.2v1.2h-1.2zM89.6 321.5h1.2v1.2h-1.2zM56.5 329.5h1.2v1.2h-1.2zM84.3 337.3h1.2v1.2h-1.2zM67.9 300.4h1.2v1.2h-1.2zM90.9 324h1.2v1.2h-1.2zM71.4 340.7h1.2v1.2h-1.2zM84.7 337.8h1.2v1.2h-1.2zM47.5 318.8h1.2v1.2h-1.2zM86.8 328.8h1.2v1.2h-1.2zM81.7 308.4h1.2v1.2h-1.2zM47.9 320.6h1.2v1.2h-1.2zM58.3 336.3h1.2v1.2h-1.2zM52.7 317.7h1.2v1.2h-1.2zM82.7 338.7h1.2v1.2h-1.2zM58.4 306h1.2v1.2h-1.2zM85 313.4h1.2v1.2h-1.2zM83.8 314.1h1.2v1.2h-1.2zM86 335.2h1.2v1.2h-1.2zM86.2 318.8h1.2v1.2h-1.2zM82.1 339.7h1.2v1.2h-1.2zM53.3 323.8h1.2v1.2h-1.2zM89 329.5h1.2v1.2h-1.2zM86.8 317.7h1.2v1.2h-1.2zM79.8 339.5h1.2v1.2h-1.2zM52.9 312.4h1.2v1.2h-1.2zM46.9 316.9h1.2v1.2h-1.2zM63.4 303.1h1.2v1.2h-1.2zM58.4 332.8h1.2v1.2h-1.2zM54.6 325.1h1.2v1.2h-1.2zM50.1 323.9h1.2v1.2h-1.2zM84.5 311.1h1.2v1.2h-1.2zM54.9 311h1.2v1.2h-1.2zM76.5 304.6h1.2v1.2h-1.2zM44.6 318.7h1.2v1.2h-1.2zM88.6 320.7h1.2v1.2h-1.2zM92.4 324.3h1.2v1.2h-1.2zM57.4 329.8h1.2v1.2h-1.2zM87.6 330.8h1.2v1.2h-1.2zM54.9 312.6h1.2v1.2h-1.2zM52.3 317.2h1.2v1.2h-1.2zM77.2 340.8h1.2v1.2h-1.2zM58.4 336.1h1.2v1.2h-1.2zM57.6 308.9h1.2v1.2h-1.2zM64.2 301.4h1.2v1.2h-1.2zM56.8 329.5h1.2v1.2h-1.2zM66.7 299.8h1.2v1.2h-1.2zM87.9 320.2h1.2v1.2h-1.2zM66.1 340.3h1.2v1.2h-1.2zM48.4 318.4h1.2v1.2h-1.2zM74.8 300.3h1.2v1.2h-1.2zM61.4 303.7h1.2v1.2h-1.2zM49.8 323.2h1.2v1.2h-1.2zM73.9 339.9h1.2v1.2h-1.2zM88.4 323.8h1.2v1.2h-1.2zM44.9 319.3h1.2v1.2h-1.2zM59.1 334.1h1.2v1.2h-1.2zM87.1 314.7h1.2v1.2h-1.2zM58.3 332.1h1.2v1.2h-1.2zM82.8 312.5h1.2v1.2h-1.2zM85.8 337.4h1.2v1.2h-1.2zM55.1 313.9h1.2v1.2h-1.2zM74 297.9h1.2v1.2h-1.2zM91.6 331.9h1.2v1.2h-1.2zM83.7 311.3h1.2v1.2h-1.2zM52 317.1h1.2v1.2h-1.2zM64.9 301h1.2v1.2h-1.2zM74.6 298h1.2v1.2h-1.2zM59.1 336.4h1.2v1.2h-1.2zM83.7 312.9h1.2v1.2h-1.2z" fill="#7d77c4"/>
<path d="M66.3 318.7h1.3v1.3h-1.3zM82 315.5h1.3v1.3h-1.3zM59.6 328h1.3v1.3h-1.3zM59 322.5h1.3v1.3h-1.3zM72 319.3h1.3v1.3h-1.3zM68.5 314.8h1.3v1.3h-1.3zM70 338.8h1.3v1.3h-1.3zM65 310.9h1.3v1.3h-1.3zM63.4 327.9h1.3v1.3h-1.3zM70.2 337.9h1.3v1.3h-1.3zM75.9 327.3h1.3v1.3h-1.3zM76.1 324.8h1.3v1.3h-1.3zM66.2 316.3h1.3v1.3h-1.3zM62.2 337.1h1.3v1.3h-1.3zM70.4 302.3h1.3v1.3h-1.3zM65.9 321.6h1.3v1.3h-1.3zM75.5 335.3h1.3v1.3h-1.3zM79.9 339h1.3v1.3h-1.3zM63.1 333.2h1.3v1.3h-1.3zM72.8 317h1.3v1.3h-1.3zM56.6 320.7h1.3v1.3h-1.3zM69.7 329.2h1.3v1.3h-1.3zM75.4 329.4h1.3v1.3h-1.3zM56.7 314.1h1.3v1.3h-1.3zM72.7 304.3h1.3v1.3h-1.3zM66.5 310.6h1.3v1.3h-1.3zM65 324.5h1.3v1.3h-1.3zM75.1 328h1.3v1.3h-1.3zM65.7 321.4h1.3v1.3h-1.3zM65.5 332.2h1.3v1.3h-1.3zM59.6 324.5h1.3v1.3h-1.3zM55.8 319.5h1.3v1.3h-1.3zM61.8 331.4h1.3v1.3h-1.3zM74.1 305.2h1.3v1.3h-1.3zM61.2 306h1.3v1.3h-1.3zM74.6 335.3h1.3v1.3h-1.3zM73.1 315.1h1.3v1.3h-1.3zM70.2 334.3h1.3v1.3h-1.3zM66.3 304.5h1.3v1.3h-1.3zM81.8 328.1h1.3v1.3h-1.3zM68.6 328.4h1.3v1.3h-1.3zM71.7 303.7h1.3v1.3h-1.3zM84.4 321.3h1.3v1.3h-1.3zM61.2 306.5h1.3v1.3h-1.3zM76 312h1.3v1.3h-1.3zM74.1 302.4h1.3v1.3h-1.3zM78.1 328.5h1.3v1.3h-1.3zM82.6 328h1.3v1.3h-1.3zM60.1 316.7h1.3v1.3h-1.3zM71.2 307.4h1.3v1.3h-1.3zM67 321.6h1.3v1.3h-1.3zM59.1 323.2h1.3v1.3h-1.3zM76.1 338.9h1.3v1.3h-1.3zM74.7 333.3h1.3v1.3h-1.3zM84.6 323.8h1.3v1.3h-1.3zM57.8 325.8h1.3v1.3h-1.3zM64.5 327.5h1.3v1.3h-1.3zM80.4 316.6h1.3v1.3h-1.3zM60.7 336.6h1.3v1.3h-1.3zM80.2 329.9h1.3v1.3h-1.3zM59.2 308.1h1.3v1.3h-1.3zM62.2 320.7h1.3v1.3h-1.3zM52.6 321.2h1.3v1.3h-1.3zM81.5 311.1h1.3v1.3h-1.3zM60.2 315.1h1.3v1.3h-1.3zM70.2 302.8h1.3v1.3h-1.3zM71.6 329.3h1.3v1.3h-1.3zM70.7 311.8h1.3v1.3h-1.3zM65 311.3h1.3v1.3h-1.3zM75.5 312.3h1.3v1.3h-1.3zM73.6 314.8h1.3v1.3h-1.3zM71.2 305.9h1.3v1.3h-1.3zM61.8 305.7h1.3v1.3h-1.3zM61.4 339.5h1.3v1.3h-1.3zM66.2 311h1.3v1.3h-1.3zM73.4 301.1h1.3v1.3h-1.3zM65.4 305.3h1.3v1.3h-1.3zM68.1 333.7h1.3v1.3h-1.3zM62 336.3h1.3v1.3h-1.3zM68.9 305h1.3v1.3h-1.3zM86.1 330.7h1.3v1.3h-1.3zM69.4 325.2h1.3v1.3h-1.3zM78.7 314.6h1.3v1.3h-1.3zM61.3 312h1.3v1.3h-1.3zM64.5 312.3h1.3v1.3h-1.3zM82.3 334.2h1.3v1.3h-1.3zM51.5 321.7h1.3v1.3h-1.3zM82 313.5h1.3v1.3h-1.3zM64.1 338.1h1.3v1.3h-1.3zM73.9 301.2h1.3v1.3h-1.3zM66.8 317.4h1.3v1.3h-1.3zM74 336.5h1.3v1.3h-1.3zM75 338.8h1.3v1.3h-1.3zM64.3 323.1h1.3v1.3h-1.3zM76.4 319.1h1.3v1.3h-1.3zM63.8 334.4h1.3v1.3h-1.3zM75.9 338h1.3v1.3h-1.3zM71 309.6h1.3v1.3h-1.3zM60.1 309h1.3v1.3h-1.3zM75.2 338.3h1.3v1.3h-1.3zM61.2 306.7h1.3v1.3h-1.3zM68.5 311h1.3v1.3h-1.3zM62.1 334h1.3v1.3h-1.3zM62.4 308.1h1.3v1.3h-1.3zM64.5 325.5h1.3v1.3h-1.3zM79.6 324.3h1.3v1.3h-1.3zM64.7 336h1.3v1.3h-1.3zM80 313.1h1.3v1.3h-1.3zM61 331.7h1.3v1.3h-1.3zM72 299.9h1.3v1.3h-1.3zM77.2 332.8h1.3v1.3h-1.3zM75.5 337.1h1.3v1.3h-1.3zM69.1 331.6h1.3v1.3h-1.3zM68.9 306h1.3v1.3h-1.3zM72.6 305.1h1.3v1.3h-1.3zM78.8 327.7h1.3v1.3h-1.3zM59.5 328.6h1.3v1.3h-1.3zM59.4 309.2h1.3v1.3h-1.3zM79.5 330.6h1.3v1.3h-1.3zM73.8 336.1h1.3v1.3h-1.3zM71.1 332.3h1.3v1.3h-1.3zM77.7 332.2h1.3v1.3h-1.3zM62.7 332.2h1.3v1.3h-1.3zM81.6 338.2h1.3v1.3h-1.3zM86.3 320.6h1.3v1.3h-1.3zM83.2 313.5h1.3v1.3h-1.3zM59.8 306.2h1.3v1.3h-1.3zM54.5 322.1h1.3v1.3h-1.3zM63.8 322.9h1.3v1.3h-1.3zM80.5 323.8h1.3v1.3h-1.3zM61.2 335.7h1.3v1.3h-1.3zM81.2 317.6h1.3v1.3h-1.3zM67.1 333.6h1.3v1.3h-1.3zM74.9 329.5h1.3v1.3h-1.3zM81.8 327.3h1.3v1.3h-1.3zM77 321.7h1.3v1.3h-1.3zM76.9 325h1.3v1.3h-1.3zM58.3 318.6h1.3v1.3h-1.3zM79.8 324h1.3v1.3h-1.3zM67.6 328.2h1.3v1.3h-1.3zM77.2 308.9h1.3v1.3h-1.3zM73.4 337.7h1.3v1.3h-1.3zM73.4 331.4h1.3v1.3h-1.3zM60.2 314.5h1.3v1.3h-1.3zM76.6 330.2h1.3v1.3h-1.3zM80.9 322.2h1.3v1.3h-1.3zM83.3 316.1h1.3v1.3h-1.3zM79.7 319.8h1.3v1.3h-1.3zM62.2 304.7h1.3v1.3h-1.3zM65.3 302.6h1.3v1.3h-1.3zM58.2 310.1h1.3v1.3h-1.3zM68.2 326.7h1.3v1.3h-1.3zM77 327.1h1.3v1.3h-1.3zM68 322.5h1.3v1.3h-1.3zM75.3 336.1h1.3v1.3h-1.3zM71.8 302.4h1.3v1.3h-1.3zM60.8 313h1.3v1.3h-1.3zM59 321.7h1.3v1.3h-1.3zM60.7 332.6h1.3v1.3h-1.3zM53.4 321.6h1.3v1.3h-1.3zM65.1 327.9h1.3v1.3h-1.3zM79.6 335.2h1.3v1.3h-1.3zM57.9 326.8h1.3v1.3h-1.3zM59.1 306.9h1.3v1.3h-1.3zM65.9 309.6h1.3v1.3h-1.3zM71.9 327.8h1.3v1.3h-1.3zM55.7 324.4h1.3v1.3h-1.3zM57.6 325.7h1.3v1.3h-1.3zM72.3 338.7h1.3v1.3h-1.3zM75.9 315h1.3v1.3h-1.3zM56.7 323.2h1.3v1.3h-1.3zM82.7 319.8h1.3v1.3h-1.3zM84.6 318.7h1.3v1.3h-1.3zM57.2 327h1.3v1.3h-1.3zM73.5 320.3h1.3v1.3h-1.3zM65.6 320.3h1.3v1.3h-1.3zM66.1 307.9h1.3v1.3h-1.3zM57.7 327h1.3v1.3h-1.3zM75.9 317h1.3v1.3h-1.3zM74.4 312.1h1.3v1.3h-1.3zM82.3 322h1.3v1.3h-1.3zM69.9 316h1.3v1.3h-1.3zM59.2 307.8h1.3v1.3h-1.3zM83.4 336.7h1.3v1.3h-1.3zM61.7 315.5h1.3v1.3h-1.3zM63.8 313.8h1.3v1.3h-1.3zM80.6 323.8h1.3v1.3h-1.3zM68.8 326.7h1.3v1.3h-1.3zM78.8 324.9h1.3v1.3h-1.3zM65 314.3h1.3v1.3h-1.3zM75.5 314.9h1.3v1.3h-1.3zM72.2 312.1h1.3v1.3h-1.3zM71.6 308h1.3v1.3h-1.3zM84.6 333.2h1.3v1.3h-1.3zM75.1 326.7h1.3v1.3h-1.3zM72.1 315.8h1.3v1.3h-1.3zM77.8 323.8h1.3v1.3h-1.3zM61 337.6h1.3v1.3h-1.3zM68.6 329.3h1.3v1.3h-1.3zM60.2 316h1.3v1.3h-1.3zM63 336.6h1.3v1.3h-1.3zM65.9 309.7h1.3v1.3h-1.3zM61.1 327h1.3v1.3h-1.3zM64.3 329.2h1.3v1.3h-1.3zM74.5 311h1.3v1.3h-1.3zM56.7 319.1h1.3v1.3h-1.3zM70.4 308.3h1.3v1.3h-1.3zM85.9 317.6h1.3v1.3h-1.3zM82.7 325.5h1.3v1.3h-1.3zM71.8 324.3h1.3v1.3h-1.3zM79.7 322.5h1.3v1.3h-1.3zM71.4 322.4h1.3v1.3h-1.3zM78 332.9h1.3v1.3h-1.3zM56.2 321.9h1.3v1.3h-1.3zM55.8 319.8h1.3v1.3h-1.3zM63.9 312.9h1.3v1.3h-1.3zM82 323.2h1.3v1.3h-1.3zM74.6 337.3h1.3v1.3h-1.3zM55.9 327h1.3v1.3h-1.3zM57 319.2h1.3v1.3h-1.3zM73.1 301.7h1.3v1.3h-1.3zM73.3 298.3h1.3v1.3h-1.3zM73 299.3h1.3v1.3h-1.3zM56.6 318.1h1.3v1.3h-1.3zM66 310.7h1.3v1.3h-1.3zM52.1 318.4h1.3v1.3h-1.3zM63.1 316.4h1.3v1.3h-1.3zM63.3 310.2h1.3v1.3h-1.3zM69.8 311.8h1.3v1.3h-1.3zM65.1 335.7h1.3v1.3h-1.3z" fill="#2c2787"/>
<path d="M60.2 318h1.3v1.3h-1.3zM55 324.4h1.3v1.3h-1.3zM81.9 327.2h1.3v1.3h-1.3zM67.5 319.6h1.3v1.3h-1.3zM69.4 325.3h1.3v1.3h-1.3zM69 337.7h1.3v1.3h-1.3zM60.7 324.5h1.3v1.3h-1.3zM67 332.8h1.3v1.3h-1.3zM81.9 323.3h1.3v1.3h-1.3zM52.1 319.7h1.3v1.3h-1.3zM86.4 330.8h1.3v1.3h-1.3zM61.2 338.1h1.3v1.3h-1.3zM58.6 312.7h1.3v1.3h-1.3zM59.2 312.6h1.3v1.3h-1.3zM71.2 300.6h1.3v1.3h-1.3zM83 333.6h1.3v1.3h-1.3zM69.1 318.7h1.3v1.3h-1.3zM84.7 333.5h1.3v1.3h-1.3zM84.6 332.3h1.3v1.3h-1.3zM60.1 320.2h1.3v1.3h-1.3zM84.2 333.9h1.3v1.3h-1.3zM74.6 332.7h1.3v1.3h-1.3zM83.1 336h1.3v1.3h-1.3zM61.3 314.4h1.3v1.3h-1.3zM55.9 326.7h1.3v1.3h-1.3zM75.2 318.5h1.3v1.3h-1.3zM56 322.6h1.3v1.3h-1.3zM58.6 327.9h1.3v1.3h-1.3zM67.5 326.1h1.3v1.3h-1.3zM82.2 325.4h1.3v1.3h-1.3zM71.6 329.6h1.3v1.3h-1.3zM81.4 314.6h1.3v1.3h-1.3zM59.8 305.2h1.3v1.3h-1.3zM56.8 318.4h1.3v1.3h-1.3zM47.8 319.4h1.3v1.3h-1.3zM67.1 337.1h1.3v1.3h-1.3zM66.2 326.6h1.3v1.3h-1.3zM59.3 335.9h1.3v1.3h-1.3zM78.1 327.8h1.3v1.3h-1.3zM75.9 323.8h1.3v1.3h-1.3zM71.9 307.2h1.3v1.3h-1.3zM55 320.6h1.3v1.3h-1.3zM75.1 315.6h1.3v1.3h-1.3zM66.7 324.8h1.3v1.3h-1.3zM81.5 331.9h1.3v1.3h-1.3zM80.6 323.7h1.3v1.3h-1.3zM60.6 319.7h1.3v1.3h-1.3zM73.9 305.9h1.3v1.3h-1.3zM64.5 325.6h1.3v1.3h-1.3zM75 316.1h1.3v1.3h-1.3zM85.1 327.6h1.3v1.3h-1.3zM57.4 323.5h1.3v1.3h-1.3zM65.4 306.1h1.3v1.3h-1.3zM76.6 334.9h1.3v1.3h-1.3zM82.4 337.9h1.3v1.3h-1.3zM55.1 314.4h1.3v1.3h-1.3zM72.1 320h1.3v1.3h-1.3zM54.9 322.5h1.3v1.3h-1.3zM57.8 314.8h1.3v1.3h-1.3zM73.7 339.2h1.3v1.3h-1.3zM55.3 323.5h1.3v1.3h-1.3zM63.3 314.9h1.3v1.3h-1.3zM62.4 330.9h1.3v1.3h-1.3zM80.8 325.4h1.3v1.3h-1.3zM67.9 329.2h1.3v1.3h-1.3zM77.5 309.6h1.3v1.3h-1.3zM62.3 324.6h1.3v1.3h-1.3zM54.6 315.3h1.3v1.3h-1.3zM69.2 335.1h1.3v1.3h-1.3zM69.6 336h1.3v1.3h-1.3zM60.2 335.4h1.3v1.3h-1.3zM77.6 320.7h1.3v1.3h-1.3zM71.2 326.6h1.3v1.3h-1.3zM55.5 315.9h1.3v1.3h-1.3zM85.7 323.8h1.3v1.3h-1.3zM82.3 328.8h1.3v1.3h-1.3zM61.1 313h1.3v1.3h-1.3zM75.4 322.4h1.3v1.3h-1.3zM65.1 328.7h1.3v1.3h-1.3zM59.7 325.1h1.3v1.3h-1.3zM65.6 328.4h1.3v1.3h-1.3zM84.2 316.2h1.3v1.3h-1.3zM62.2 338.2h1.3v1.3h-1.3zM73.3 310.1h1.3v1.3h-1.3zM60.7 327.3h1.3v1.3h-1.3zM57.9 327.3h1.3v1.3h-1.3zM63.9 327.9h1.3v1.3h-1.3zM71.9 303.4h1.3v1.3h-1.3zM74.1 300.3h1.3v1.3h-1.3zM75.7 327.6h1.3v1.3h-1.3zM50.1 320.3h1.3v1.3h-1.3zM82.1 314.2h1.3v1.3h-1.3zM74.9 329.4h1.3v1.3h-1.3zM67.6 307.2h1.3v1.3h-1.3zM69.1 321.6h1.3v1.3h-1.3zM77.8 335.6h1.3v1.3h-1.3zM59.9 317.9h1.3v1.3h-1.3zM82.5 313.7h1.3v1.3h-1.3zM58 316.8h1.3v1.3h-1.3zM80.9 323.4h1.3v1.3h-1.3zM74.3 307.4h1.3v1.3h-1.3zM72.6 317h1.3v1.3h-1.3zM65.8 328.3h1.3v1.3h-1.3zM60.1 317.8h1.3v1.3h-1.3zM78.2 323h1.3v1.3h-1.3zM67.9 309.6h1.3v1.3h-1.3zM65.8 337h1.3v1.3h-1.3zM66.3 331.3h1.3v1.3h-1.3zM63.3 331.9h1.3v1.3h-1.3zM52.2 319.6h1.3v1.3h-1.3zM66.2 306.7h1.3v1.3h-1.3zM67.1 304.9h1.3v1.3h-1.3zM56.6 313.4h1.3v1.3h-1.3zM52.7 322.8h1.3v1.3h-1.3zM80.1 316.3h1.3v1.3h-1.3zM56.3 326.6h1.3v1.3h-1.3zM71.9 304.4h1.3v1.3h-1.3zM80.1 331.2h1.3v1.3h-1.3zM74.8 307.4h1.3v1.3h-1.3zM60.9 337.5h1.3v1.3h-1.3zM60.9 324.6h1.3v1.3h-1.3zM60.8 330.7h1.3v1.3h-1.3zM80.3 315.8h1.3v1.3h-1.3zM84.9 319.9h1.3v1.3h-1.3zM59.2 311.3h1.3v1.3h-1.3zM60.1 304.8h1.3v1.3h-1.3zM65.9 317.8h1.3v1.3h-1.3zM73.6 309.5h1.3v1.3h-1.3zM79.1 312.1h1.3v1.3h-1.3zM78.5 335.7h1.3v1.3h-1.3zM76.4 337h1.3v1.3h-1.3zM79.6 326.4h1.3v1.3h-1.3zM74.4 311.1h1.3v1.3h-1.3zM57.1 327.2h1.3v1.3h-1.3zM79.5 317.4h1.3v1.3h-1.3zM80 315.3h1.3v1.3h-1.3zM66.6 312.2h1.3v1.3h-1.3zM71.3 314.7h1.3v1.3h-1.3zM82.7 335.3h1.3v1.3h-1.3zM82.7 326.7h1.3v1.3h-1.3zM47.1 319.5h1.3v1.3h-1.3zM70.1 315.7h1.3v1.3h-1.3zM72.6 306h1.3v1.3h-1.3zM82.6 331.9h1.3v1.3h-1.3zM71 309.2h1.3v1.3h-1.3zM79 326.2h1.3v1.3h-1.3zM69.1 326.9h1.3v1.3h-1.3zM64.7 334.4h1.3v1.3h-1.3zM78.2 323.2h1.3v1.3h-1.3zM86.7 323.1h1.3v1.3h-1.3zM73.6 337.5h1.3v1.3h-1.3zM68.1 326.4h1.3v1.3h-1.3zM75.6 320.2h1.3v1.3h-1.3zM54.6 322.7h1.3v1.3h-1.3zM62.4 310.3h1.3v1.3h-1.3zM58.9 315.6h1.3v1.3h-1.3zM59.8 331.3h1.3v1.3h-1.3zM72.4 330.4h1.3v1.3h-1.3zM68 303.9h1.3v1.3h-1.3zM81.8 319.1h1.3v1.3h-1.3zM82.2 329.5h1.3v1.3h-1.3zM80.6 335.7h1.3v1.3h-1.3zM70.6 315.4h1.3v1.3h-1.3zM55.9 319.4h1.3v1.3h-1.3zM61 316.9h1.3v1.3h-1.3zM86.5 322.3h1.3v1.3h-1.3zM75 334.5h1.3v1.3h-1.3zM60.2 330.3h1.3v1.3h-1.3zM81.2 320.3h1.3v1.3h-1.3zM66.6 333.2h1.3v1.3h-1.3zM81 324.9h1.3v1.3h-1.3zM70.5 303.7h1.3v1.3h-1.3zM73.9 297.5h1.3v1.3h-1.3zM75.1 312.2h1.3v1.3h-1.3zM63.4 304.8h1.3v1.3h-1.3zM64.3 325.9h1.3v1.3h-1.3zM74.4 329.9h1.3v1.3h-1.3zM81.6 318.5h1.3v1.3h-1.3zM73.5 332.4h1.3v1.3h-1.3zM74.4 316.4h1.3v1.3h-1.3zM78.3 324.4h1.3v1.3h-1.3zM67.1 316.1h1.3v1.3h-1.3zM57.3 320.7h1.3v1.3h-1.3zM63.7 308.3h1.3v1.3h-1.3zM78.4 333.7h1.3v1.3h-1.3zM83.1 333.9h1.3v1.3h-1.3zM74.9 308.6h1.3v1.3h-1.3zM55.5 317.4h1.3v1.3h-1.3zM78.4 331.9h1.3v1.3h-1.3zM64.2 312.9h1.3v1.3h-1.3zM57.3 324.2h1.3v1.3h-1.3zM74 311.5h1.3v1.3h-1.3zM65.9 326.9h1.3v1.3h-1.3zM66.5 323.6h1.3v1.3h-1.3zM62.2 316.5h1.3v1.3h-1.3zM63.2 309.6h1.3v1.3h-1.3zM78.8 337.3h1.3v1.3h-1.3zM81.3 327h1.3v1.3h-1.3zM61.7 334.1h1.3v1.3h-1.3zM54.7 320.7h1.3v1.3h-1.3zM75.6 306.5h1.3v1.3h-1.3zM78 337.7h1.3v1.3h-1.3zM74.1 335.9h1.3v1.3h-1.3zM65 326.6h1.3v1.3h-1.3zM68 303.6h1.3v1.3h-1.3zM64.2 339h1.3v1.3h-1.3zM69.9 303.9h1.3v1.3h-1.3zM69.4 305.9h1.3v1.3h-1.3zM83.2 333.1h1.3v1.3h-1.3zM79.8 336.8h1.3v1.3h-1.3zM66 306.7h1.3v1.3h-1.3zM67.5 326.9h1.3v1.3h-1.3zM60.8 305.1h1.3v1.3h-1.3zM74.1 336.3h1.3v1.3h-1.3zM58.8 330h1.3v1.3h-1.3zM83.1 338.5h1.3v1.3h-1.3zM53.4 322.9h1.3v1.3h-1.3zM68.9 303.9h1.3v1.3h-1.3zM62.5 317.9h1.3v1.3h-1.3zM67.7 310.7h1.3v1.3h-1.3zM71.2 323.7h1.3v1.3h-1.3zM54.5 314.5h1.3v1.3h-1.3zM59.6 305.9h1.3v1.3h-1.3zM66.5 304.2h1.3v1.3h-1.3zM70.2 332.3h1.3v1.3h-1.3zM53.5 321.1h1.3v1.3h-1.3zM68 311.2h1.3v1.3h-1.3zM70.6 339.1h1.3v1.3h-1.3zM63.6 337.7h1.3v1.3h-1.3zM68.8 326.5h1.3v1.3h-1.3z" fill="#3f389d"/>
<path d="M56.8 317.9h1.2v1.2h-1.2zM76.6 331.1h1.2v1.2h-1.2zM84.1 335.1h1.2v1.2h-1.2zM51.1 318.6h1.2v1.2h-1.2zM68 335.5h1.2v1.2h-1.2zM79.1 315.9h1.2v1.2h-1.2zM60.1 315.1h1.2v1.2h-1.2zM62.7 336.7h1.2v1.2h-1.2zM73.8 321.4h1.2v1.2h-1.2zM75.7 319.9h1.2v1.2h-1.2zM67.3 311.7h1.2v1.2h-1.2zM74.9 335.1h1.2v1.2h-1.2zM74.5 332.8h1.2v1.2h-1.2zM64 327.2h1.2v1.2h-1.2zM54 317.9h1.2v1.2h-1.2zM76.5 327.8h1.2v1.2h-1.2zM63.9 336.7h1.2v1.2h-1.2zM68.3 303.1h1.2v1.2h-1.2zM74.2 313.9h1.2v1.2h-1.2zM70 332h1.2v1.2h-1.2zM73.2 313.8h1.2v1.2h-1.2zM84.1 338.4h1.2v1.2h-1.2zM58.6 308.9h1.2v1.2h-1.2zM77 323.6h1.2v1.2h-1.2zM68.2 332.1h1.2v1.2h-1.2zM62.3 306.2h1.2v1.2h-1.2zM82 319.8h1.2v1.2h-1.2zM63 315.1h1.2v1.2h-1.2zM84.8 328.7h1.2v1.2h-1.2zM65 310.1h1.2v1.2h-1.2zM66.8 309.3h1.2v1.2h-1.2zM74.3 327.2h1.2v1.2h-1.2zM69.7 315.4h1.2v1.2h-1.2zM83.6 323.7h1.2v1.2h-1.2zM63 316.6h1.2v1.2h-1.2zM69.6 306.1h1.2v1.2h-1.2zM60.8 338.3h1.2v1.2h-1.2zM61 310.6h1.2v1.2h-1.2zM75.9 315.2h1.2v1.2h-1.2zM72.9 314.4h1.2v1.2h-1.2zM86.6 329.9h1.2v1.2h-1.2zM71.9 337.7h1.2v1.2h-1.2zM82.6 316.3h1.2v1.2h-1.2zM60.5 330.1h1.2v1.2h-1.2zM75.8 322.9h1.2v1.2h-1.2zM53.9 320.2h1.2v1.2h-1.2zM81.1 331.9h1.2v1.2h-1.2zM79.1 325.2h1.2v1.2h-1.2zM83.5 314.6h1.2v1.2h-1.2zM70.6 328.5h1.2v1.2h-1.2zM77.8 317h1.2v1.2h-1.2zM76.3 325.5h1.2v1.2h-1.2zM58.4 325.2h1.2v1.2h-1.2zM75.2 308h1.2v1.2h-1.2zM84.2 334.6h1.2v1.2h-1.2zM64.4 321.7h1.2v1.2h-1.2zM82.4 334.3h1.2v1.2h-1.2zM70.7 307.9h1.2v1.2h-1.2zM66.6 310h1.2v1.2h-1.2zM66.7 328.7h1.2v1.2h-1.2zM59 332.9h1.2v1.2h-1.2zM79 316.4h1.2v1.2h-1.2zM73.1 306.6h1.2v1.2h-1.2zM67.3 302.4h1.2v1.2h-1.2zM56.6 312.4h1.2v1.2h-1.2zM58.5 321.6h1.2v1.2h-1.2zM70.4 305.5h1.2v1.2h-1.2zM65.1 319.8h1.2v1.2h-1.2zM66.2 316.3h1.2v1.2h-1.2zM64 329.2h1.2v1.2h-1.2zM65.7 312.8h1.2v1.2h-1.2zM71.8 334.9h1.2v1.2h-1.2zM80.3 323.5h1.2v1.2h-1.2zM69.2 302.4h1.2v1.2h-1.2zM75.5 339.3h1.2v1.2h-1.2zM72.8 319.2h1.2v1.2h-1.2zM72 308.6h1.2v1.2h-1.2zM80.5 335.7h1.2v1.2h-1.2zM67.8 317.8h1.2v1.2h-1.2zM69.5 322.2h1.2v1.2h-1.2zM74.3 335.9h1.2v1.2h-1.2zM60 322.2h1.2v1.2h-1.2zM73.6 321.8h1.2v1.2h-1.2zM70.7 337.4h1.2v1.2h-1.2zM63.8 304.3h1.2v1.2h-1.2zM80.6 320.9h1.2v1.2h-1.2zM78.5 332.2h1.2v1.2h-1.2zM71.5 334.2h1.2v1.2h-1.2zM73.1 334.6h1.2v1.2h-1.2zM59.3 319h1.2v1.2h-1.2zM85.2 334h1.2v1.2h-1.2zM46.8 319.5h1.2v1.2h-1.2zM61.4 330.5h1.2v1.2h-1.2zM67.3 331.8h1.2v1.2h-1.2zM70 329.9h1.2v1.2h-1.2zM80.8 332.1h1.2v1.2h-1.2zM79.4 319.3h1.2v1.2h-1.2zM79 327.2h1.2v1.2h-1.2zM77.8 320.1h1.2v1.2h-1.2zM86 330.8h1.2v1.2h-1.2zM74 324.4h1.2v1.2h-1.2zM79.9 319.4h1.2v1.2h-1.2zM61.5 309.4h1.2v1.2h-1.2zM84.4 315.6h1.2v1.2h-1.2zM65.4 334.6h1.2v1.2h-1.2zM59.9 310.4h1.2v1.2h-1.2zM79.2 325.1h1.2v1.2h-1.2zM83.2 324.8h1.2v1.2h-1.2zM75.9 327.4h1.2v1.2h-1.2zM70.5 331h1.2v1.2h-1.2zM67.7 309.5h1.2v1.2h-1.2zM80.9 317.6h1.2v1.2h-1.2zM84.9 334h1.2v1.2h-1.2zM67.3 330.9h1.2v1.2h-1.2zM71.5 303.7h1.2v1.2h-1.2zM71.6 337.2h1.2v1.2h-1.2zM48.1 319.3h1.2v1.2h-1.2zM58.1 322.7h1.2v1.2h-1.2zM78.3 321.5h1.2v1.2h-1.2zM63.8 303h1.2v1.2h-1.2zM85.6 324.5h1.2v1.2h-1.2zM69.9 305.5h1.2v1.2h-1.2zM70.8 326.6h1.2v1.2h-1.2zM64.3 308.4h1.2v1.2h-1.2zM68.6 320.3h1.2v1.2h-1.2z" fill="#c0bce4"/>
<path d="M66.5 318.6h1.1v1.1h-1.1zM71.9 317.1h1.1v1.1h-1.1zM73.3 321.6h1.1v1.1h-1.1zM64.1 330.5h1.1v1.1h-1.1zM78.9 335.9h1.1v1.1h-1.1zM79.4 322.7h1.1v1.1h-1.1zM75.6 329.7h1.1v1.1h-1.1zM68.8 331.2h1.1v1.1h-1.1zM71.7 325.2h1.1v1.1h-1.1zM78.2 339.3h1.1v1.1h-1.1zM84.7 332.5h1.1v1.1h-1.1zM69 301.9h1.1v1.1h-1.1zM61 307.2h1.1v1.1h-1.1zM58.1 330.5h1.1v1.1h-1.1zM77.1 330.4h1.1v1.1h-1.1zM59.5 328.1h1.1v1.1h-1.1zM76.3 321.5h1.1v1.1h-1.1zM61.8 317.6h1.1v1.1h-1.1zM55.9 323.2h1.1v1.1h-1.1zM79.2 332.5h1.1v1.1h-1.1zM62.2 320.7h1.1v1.1h-1.1zM61.3 312.5h1.1v1.1h-1.1zM70.8 326.4h1.1v1.1h-1.1zM81.9 316.5h1.1v1.1h-1.1zM65.3 309h1.1v1.1h-1.1zM64.8 303.2h1.1v1.1h-1.1zM59.8 329h1.1v1.1h-1.1zM80.5 318.5h1.1v1.1h-1.1zM57.7 313h1.1v1.1h-1.1zM69.4 337.8h1.1v1.1h-1.1zM67.8 334.1h1.1v1.1h-1.1zM81.2 311.2h1.1v1.1h-1.1zM80.2 327.9h1.1v1.1h-1.1zM67.8 310.3h1.1v1.1h-1.1zM79.9 313.8h1.1v1.1h-1.1zM62.2 339h1.1v1.1h-1.1zM84.2 323.9h1.1v1.1h-1.1zM59.3 331.5h1.1v1.1h-1.1zM62.4 331.1h1.1v1.1h-1.1zM81.8 317.9h1.1v1.1h-1.1zM82 323.1h1.1v1.1h-1.1zM82.8 327.2h1.1v1.1h-1.1zM66.9 306h1.1v1.1h-1.1zM71.8 308.2h1.1v1.1h-1.1zM66.7 312.6h1.1v1.1h-1.1zM74.9 328.9h1.1v1.1h-1.1zM69.2 316.5h1.1v1.1h-1.1zM64.4 319.9h1.1v1.1h-1.1zM78.7 329.2h1.1v1.1h-1.1zM69 331.3h1.1v1.1h-1.1zM85.9 317.4h1.1v1.1h-1.1zM61.6 322.1h1.1v1.1h-1.1zM67.3 334h1.1v1.1h-1.1zM57.6 322.6h1.1v1.1h-1.1zM81 332h1.1v1.1h-1.1zM73.1 306.5h1.1v1.1h-1.1zM71.8 303.5h1.1v1.1h-1.1zM81.2 321.1h1.1v1.1h-1.1zM61.2 305.9h1.1v1.1h-1.1zM61.3 336h1.1v1.1h-1.1zM67.7 322.7h1.1v1.1h-1.1zM84.7 325.7h1.1v1.1h-1.1zM86.8 320.7h1.1v1.1h-1.1zM83.3 314.8h1.1v1.1h-1.1zM64.1 323h1.1v1.1h-1.1zM74.1 310.9h1.1v1.1h-1.1zM56.9 311.6h1.1v1.1h-1.1zM64.3 335.6h1.1v1.1h-1.1zM60.6 308.5h1.1v1.1h-1.1zM67.4 306.4h1.1v1.1h-1.1zM79.9 338.8h1.1v1.1h-1.1zM65.5 314.9h1.1v1.1h-1.1zM57.2 328h1.1v1.1h-1.1zM57.6 321.6h1.1v1.1h-1.1zM79.7 322.2h1.1v1.1h-1.1zM68.1 336.1h1.1v1.1h-1.1zM56.4 311.9h1.1v1.1h-1.1zM60 338.1h1.1v1.1h-1.1zM74.4 303.6h1.1v1.1h-1.1zM63.1 321.1h1.1v1.1h-1.1zM68.6 309h1.1v1.1h-1.1zM75.5 328.8h1.1v1.1h-1.1zM68.5 326.7h1.1v1.1h-1.1zM62.1 310h1.1v1.1h-1.1zM65.5 319.8h1.1v1.1h-1.1zM58.9 309.2h1.1v1.1h-1.1zM82.3 338.7h1.1v1.1h-1.1zM69.2 318.4h1.1v1.1h-1.1zM78.3 321h1.1v1.1h-1.1zM66.8 324.2h1.1v1.1h-1.1zM63.3 338.8h1.1v1.1h-1.1zM75 324.3h1.1v1.1h-1.1zM59.4 313.4h1.1v1.1h-1.1zM81.3 332.4h1.1v1.1h-1.1zM81.7 322.4h1.1v1.1h-1.1zM78.2 318.3h1.1v1.1h-1.1zM81.7 321.8h1.1v1.1h-1.1zM74.7 304.3h1.1v1.1h-1.1zM70.1 312.5h1.1v1.1h-1.1zM70.8 320.6h1.1v1.1h-1.1zM68.7 317.9h1.1v1.1h-1.1zM82 329.4h1.1v1.1h-1.1zM63.9 307.4h1.1v1.1h-1.1zM68.2 325.2h1.1v1.1h-1.1zM83 337.2h1.1v1.1h-1.1zM78.9 319.7h1.1v1.1h-1.1zM76.1 335.5h1.1v1.1h-1.1zM66.7 314.4h1.1v1.1h-1.1zM80 310.3h1.1v1.1h-1.1zM66.3 325.8h1.1v1.1h-1.1zM65.6 313.9h1.1v1.1h-1.1zM87.2 328.2h1.1v1.1h-1.1zM79.1 337.7h1.1v1.1h-1.1zM77.7 333.8h1.1v1.1h-1.1zM59.5 322.8h1.1v1.1h-1.1zM76.7 326.3h1.1v1.1h-1.1zM75.5 308.1h1.1v1.1h-1.1zM59.7 335.1h1.1v1.1h-1.1zM58.5 325.8h1.1v1.1h-1.1zM76.6 318.2h1.1v1.1h-1.1zM63.6 327.3h1.1v1.1h-1.1zM69.7 334.6h1.1v1.1h-1.1zM69.3 311.8h1.1v1.1h-1.1zM81.9 316.1h1.1v1.1h-1.1zM60.6 314.6h1.1v1.1h-1.1zM63.5 324.9h1.1v1.1h-1.1zM82.1 336.9h1.1v1.1h-1.1zM79.4 326.2h1.1v1.1h-1.1zM82.5 335.7h1.1v1.1h-1.1zM83.7 334.4h1.1v1.1h-1.1zM60.3 320.2h1.1v1.1h-1.1zM73.9 317.6h1.1v1.1h-1.1zM75.7 308.6h1.1v1.1h-1.1zM57.5 322.4h1.1v1.1h-1.1zM75.2 339.4h1.1v1.1h-1.1zM80.4 330.5h1.1v1.1h-1.1z" fill="#fff" fill-opacity="0.9"/>
<path d="M60.2 341.7 C61.4 342 64.5 342.5 68.1 342.6 C71.7 342.8 79.3 342.5 81.8 342.5 C84.3 342.6 83.1 341.8 83.1 342.8 C83.2 343.9 83 346.6 82.2 348.7 C81.5 350.8 78.9 353 78.6 355.3 C78.2 357.6 79.6 360.1 80 362.5 C80.5 364.9 81.3 367.7 81.4 369.7 C81.5 371.7 81.2 373 80.5 374.4 C79.8 375.8 78.3 376.8 77 378.2 C75.6 379.5 73.3 381.4 72.2 382.4 C71 383.5 70.9 384.4 70.3 384.6 C69.7 384.7 69.4 384.3 68.7 383.4 C67.9 382.5 66.9 380.7 66 379.1 C65.1 377.5 63.8 375.7 63 374 C62.2 372.2 61.4 370.4 61 368.6 C60.5 366.9 60.6 365.5 60.5 363.4 C60.4 361.3 60.2 358.5 60.5 355.9 C60.7 353.3 61.8 350.5 61.9 348 C62 345.5 61.3 341.9 61 340.8 C60.8 339.8 59 341.4 60.2 341.7Z" fill="#7d77c4"/>
<path d="M70.8 386.7h1.2v1.2h-1.2zM61 374.2h1.2v1.2h-1.2zM57.6 364.4h1.2v1.2h-1.2zM80.4 364.8h1.2v1.2h-1.2zM60.5 342.8h1.2v1.2h-1.2zM68.1 340.9h1.2v1.2h-1.2zM80.4 365.3h1.2v1.2h-1.2zM66.1 341.3h1.2v1.2h-1.2zM77.8 356.4h1.2v1.2h-1.2zM80.2 359.2h1.2v1.2h-1.2zM82.6 344.5h1.2v1.2h-1.2zM59.7 370.3h1.2v1.2h-1.2zM68.1 384.8h1.2v1.2h-1.2zM60.3 359.9h1.2v1.2h-1.2zM80.9 367.7h1.2v1.2h-1.2zM82.4 343.6h1.2v1.2h-1.2zM84.6 346.2h1.2v1.2h-1.2zM83.3 343.8h1.2v1.2h-1.2zM80.3 373.3h1.2v1.2h-1.2zM60.5 340.1h1.2v1.2h-1.2zM75.7 341.1h1.2v1.2h-1.2zM59.7 351.4h1.2v1.2h-1.2zM72.2 383.8h1.2v1.2h-1.2zM62.6 340.7h1.2v1.2h-1.2zM62.1 376h1.2v1.2h-1.2zM82.1 376.6h1.2v1.2h-1.2zM75.6 342h1.2v1.2h-1.2zM79 374.7h1.2v1.2h-1.2zM80 375.1h1.2v1.2h-1.2zM59.4 341.6h1.2v1.2h-1.2zM73.6 341.8h1.2v1.2h-1.2zM59.5 364.8h1.2v1.2h-1.2zM81.1 369.3h1.2v1.2h-1.2zM78.6 357.5h1.2v1.2h-1.2zM78.6 353.2h1.2v1.2h-1.2zM59.2 366.6h1.2v1.2h-1.2zM60.9 348h1.2v1.2h-1.2zM59.7 353h1.2v1.2h-1.2zM60.2 341.2h1.2v1.2h-1.2zM61.8 374.6h1.2v1.2h-1.2zM79.8 362.6h1.2v1.2h-1.2zM76.8 378.4h1.2v1.2h-1.2zM70.1 383.5h1.2v1.2h-1.2zM65 378.5h1.2v1.2h-1.2zM74.9 379.2h1.2v1.2h-1.2zM78.6 353h1.2v1.2h-1.2zM79.4 340.3h1.2v1.2h-1.2zM82.2 345.3h1.2v1.2h-1.2zM81.9 354.2h1.2v1.2h-1.2zM69.9 387.4h1.2v1.2h-1.2zM76 379.9h1.2v1.2h-1.2zM78.1 355.6h1.2v1.2h-1.2zM66.4 383.7h1.2v1.2h-1.2zM79.6 365.1h1.2v1.2h-1.2zM59.7 341.7h1.2v1.2h-1.2zM59.1 365.2h1.2v1.2h-1.2zM63.2 340.2h1.2v1.2h-1.2zM58.8 353.2h1.2v1.2h-1.2zM69.4 384.5h1.2v1.2h-1.2zM81 359.1h1.2v1.2h-1.2zM71.7 386.5h1.2v1.2h-1.2zM60.3 340h1.2v1.2h-1.2zM60.9 349.5h1.2v1.2h-1.2zM73.7 379.8h1.2v1.2h-1.2zM60.2 359.6h1.2v1.2h-1.2zM78.5 353.1h1.2v1.2h-1.2zM77 378.2h1.2v1.2h-1.2z" fill="#7d77c4"/>
<path d="M75.9 349h1.3v1.3h-1.3zM78.9 364.9h1.3v1.3h-1.3zM60 340.8h1.3v1.3h-1.3zM74.4 353.5h1.3v1.3h-1.3zM70.2 383.1h1.3v1.3h-1.3zM72.5 372.7h1.3v1.3h-1.3zM65.5 345.3h1.3v1.3h-1.3zM63.9 366.5h1.3v1.3h-1.3zM67 364.9h1.3v1.3h-1.3zM60.5 351.9h1.3v1.3h-1.3zM67.5 376.3h1.3v1.3h-1.3zM63.2 358.4h1.3v1.3h-1.3zM68.6 367.2h1.3v1.3h-1.3zM79.3 342.9h1.3v1.3h-1.3zM71 371.2h1.3v1.3h-1.3zM61.7 343h1.3v1.3h-1.3zM78.3 373h1.3v1.3h-1.3zM67.7 358.5h1.3v1.3h-1.3zM66.5 350.2h1.3v1.3h-1.3zM70.4 360.8h1.3v1.3h-1.3zM79.3 366.5h1.3v1.3h-1.3zM67 373.4h1.3v1.3h-1.3zM70.3 368.9h1.3v1.3h-1.3zM62.6 373.2h1.3v1.3h-1.3zM71.2 353.5h1.3v1.3h-1.3zM76.6 348.1h1.3v1.3h-1.3zM64.1 348.5h1.3v1.3h-1.3zM60.3 362.9h1.3v1.3h-1.3zM70 361.1h1.3v1.3h-1.3zM70 348.6h1.3v1.3h-1.3zM71.7 375.3h1.3v1.3h-1.3zM76.3 368.5h1.3v1.3h-1.3zM74.1 371.3h1.3v1.3h-1.3zM65.7 349.9h1.3v1.3h-1.3zM65.8 348.1h1.3v1.3h-1.3zM77.8 365.2h1.3v1.3h-1.3zM66.9 352.1h1.3v1.3h-1.3zM76.2 367.3h1.3v1.3h-1.3zM74.9 374.9h1.3v1.3h-1.3zM64.1 360.9h1.3v1.3h-1.3zM64.9 356.1h1.3v1.3h-1.3zM77.4 347.2h1.3v1.3h-1.3zM79.6 349.8h1.3v1.3h-1.3zM76.5 365.2h1.3v1.3h-1.3zM74.4 367.1h1.3v1.3h-1.3zM77.4 362h1.3v1.3h-1.3zM72.8 357.1h1.3v1.3h-1.3zM70.1 367.6h1.3v1.3h-1.3zM62.2 355.1h1.3v1.3h-1.3zM74.6 348.4h1.3v1.3h-1.3zM67.4 360.9h1.3v1.3h-1.3zM79.1 347.2h1.3v1.3h-1.3zM68.7 345.8h1.3v1.3h-1.3zM73 346.9h1.3v1.3h-1.3zM79 369.9h1.3v1.3h-1.3zM66.5 364.8h1.3v1.3h-1.3zM79.5 345.3h1.3v1.3h-1.3zM78 366.6h1.3v1.3h-1.3zM66.9 353h1.3v1.3h-1.3zM71.8 353.2h1.3v1.3h-1.3zM66.9 345.8h1.3v1.3h-1.3zM75.7 369.4h1.3v1.3h-1.3zM62.3 345.1h1.3v1.3h-1.3zM68.8 365.1h1.3v1.3h-1.3zM77.9 359.5h1.3v1.3h-1.3zM77.4 342h1.3v1.3h-1.3zM77.3 355.9h1.3v1.3h-1.3zM64.9 364.8h1.3v1.3h-1.3zM64.7 346.1h1.3v1.3h-1.3zM65.9 358.7h1.3v1.3h-1.3zM68.5 345.1h1.3v1.3h-1.3zM70.6 360.2h1.3v1.3h-1.3zM74.7 363.9h1.3v1.3h-1.3zM60.5 366.8h1.3v1.3h-1.3zM79.4 365.3h1.3v1.3h-1.3zM70.7 347.2h1.3v1.3h-1.3zM74.4 356.4h1.3v1.3h-1.3zM63.1 370.7h1.3v1.3h-1.3zM68.6 369.5h1.3v1.3h-1.3zM61.4 349.1h1.3v1.3h-1.3zM61.3 350h1.3v1.3h-1.3zM72.2 360.9h1.3v1.3h-1.3zM69.5 374.9h1.3v1.3h-1.3zM70.8 379.1h1.3v1.3h-1.3zM73.7 362.8h1.3v1.3h-1.3zM72.2 368.2h1.3v1.3h-1.3zM77.6 366.7h1.3v1.3h-1.3zM75.1 369.9h1.3v1.3h-1.3zM72.3 380h1.3v1.3h-1.3zM65.4 368.7h1.3v1.3h-1.3zM73.2 372.1h1.3v1.3h-1.3zM80.6 343.8h1.3v1.3h-1.3zM66.2 364.5h1.3v1.3h-1.3zM73 359.1h1.3v1.3h-1.3zM66.7 366.4h1.3v1.3h-1.3zM74 360.8h1.3v1.3h-1.3zM63.8 350.4h1.3v1.3h-1.3zM61.2 356.2h1.3v1.3h-1.3zM69.6 373.8h1.3v1.3h-1.3zM72.9 352.2h1.3v1.3h-1.3zM60.4 360.5h1.3v1.3h-1.3zM65.9 364h1.3v1.3h-1.3zM77.5 347.8h1.3v1.3h-1.3zM67.5 348.1h1.3v1.3h-1.3zM66.7 357.3h1.3v1.3h-1.3zM64.2 350.5h1.3v1.3h-1.3zM79.1 366.4h1.3v1.3h-1.3zM73.3 365.6h1.3v1.3h-1.3zM69 358.9h1.3v1.3h-1.3zM61.9 359.7h1.3v1.3h-1.3zM70.4 371.9h1.3v1.3h-1.3zM75.4 360.7h1.3v1.3h-1.3zM66.1 356.5h1.3v1.3h-1.3zM70.8 358.3h1.3v1.3h-1.3zM78.4 374.5h1.3v1.3h-1.3zM71.1 366.5h1.3v1.3h-1.3zM77.1 352.8h1.3v1.3h-1.3zM61.7 347.8h1.3v1.3h-1.3zM60.9 343.7h1.3v1.3h-1.3zM71 349.4h1.3v1.3h-1.3zM73.3 355.6h1.3v1.3h-1.3zM61.5 366.9h1.3v1.3h-1.3zM67.4 348.3h1.3v1.3h-1.3zM64.2 354.5h1.3v1.3h-1.3zM75.2 357.5h1.3v1.3h-1.3zM78.1 363h1.3v1.3h-1.3zM67.3 357.6h1.3v1.3h-1.3zM62.9 365.7h1.3v1.3h-1.3zM67.9 364.2h1.3v1.3h-1.3zM76.8 353.9h1.3v1.3h-1.3zM76.7 365.1h1.3v1.3h-1.3zM66.6 379.5h1.3v1.3h-1.3zM75.4 369.4h1.3v1.3h-1.3zM76.8 372.1h1.3v1.3h-1.3zM81.4 343.6h1.3v1.3h-1.3zM65.4 366.7h1.3v1.3h-1.3zM68.5 379.3h1.3v1.3h-1.3zM73.6 360.2h1.3v1.3h-1.3zM75.2 353.5h1.3v1.3h-1.3zM65.3 376.5h1.3v1.3h-1.3zM80.8 346.9h1.3v1.3h-1.3zM65.6 352.6h1.3v1.3h-1.3zM78.6 369.6h1.3v1.3h-1.3zM72.3 365.9h1.3v1.3h-1.3zM71.4 376.6h1.3v1.3h-1.3zM68.5 346h1.3v1.3h-1.3zM75.1 375.3h1.3v1.3h-1.3zM65.3 348.8h1.3v1.3h-1.3zM80.1 349.1h1.3v1.3h-1.3zM75.9 348.9h1.3v1.3h-1.3zM81.3 342.6h1.3v1.3h-1.3zM68 371h1.3v1.3h-1.3zM73.1 371.1h1.3v1.3h-1.3zM63.9 350.5h1.3v1.3h-1.3zM75.1 350.6h1.3v1.3h-1.3zM65.1 369.5h1.3v1.3h-1.3zM65.9 374.9h1.3v1.3h-1.3z" fill="#2c2787"/>
<path d="M73.5 350.5h1.3v1.3h-1.3zM64.3 360.6h1.3v1.3h-1.3zM70.5 348.9h1.3v1.3h-1.3zM64.5 370.9h1.3v1.3h-1.3zM61.2 359.3h1.3v1.3h-1.3zM73.8 374.9h1.3v1.3h-1.3zM63.2 349.9h1.3v1.3h-1.3zM62.9 350.9h1.3v1.3h-1.3zM68.8 356.5h1.3v1.3h-1.3zM72.8 350.5h1.3v1.3h-1.3zM60.5 359.8h1.3v1.3h-1.3zM70.2 351.1h1.3v1.3h-1.3zM69.2 377.7h1.3v1.3h-1.3zM75.6 370h1.3v1.3h-1.3zM73.9 372.6h1.3v1.3h-1.3zM73.9 349.5h1.3v1.3h-1.3zM77.9 347.8h1.3v1.3h-1.3zM74.8 369.1h1.3v1.3h-1.3zM66.6 367.5h1.3v1.3h-1.3zM72.6 356.4h1.3v1.3h-1.3zM70.8 382.2h1.3v1.3h-1.3zM66.4 369.6h1.3v1.3h-1.3zM75.5 350.9h1.3v1.3h-1.3zM70.9 356.7h1.3v1.3h-1.3zM76.2 375h1.3v1.3h-1.3zM67 359.1h1.3v1.3h-1.3zM73.2 344.6h1.3v1.3h-1.3zM71 347.7h1.3v1.3h-1.3zM69.2 365h1.3v1.3h-1.3zM73 345.4h1.3v1.3h-1.3zM79.3 370.5h1.3v1.3h-1.3zM61.7 349.7h1.3v1.3h-1.3zM62.9 347.9h1.3v1.3h-1.3zM68.9 377.7h1.3v1.3h-1.3zM74.5 355.2h1.3v1.3h-1.3zM61.9 352.5h1.3v1.3h-1.3zM63.7 375.1h1.3v1.3h-1.3zM71.9 369.7h1.3v1.3h-1.3zM66.2 345.9h1.3v1.3h-1.3zM77 345.3h1.3v1.3h-1.3zM73.2 369.2h1.3v1.3h-1.3zM76.6 348.2h1.3v1.3h-1.3zM65.8 367.5h1.3v1.3h-1.3zM71.2 343.1h1.3v1.3h-1.3zM63.7 375.3h1.3v1.3h-1.3zM63.2 360.9h1.3v1.3h-1.3zM68 358.5h1.3v1.3h-1.3zM67.8 361.7h1.3v1.3h-1.3zM76.9 349.4h1.3v1.3h-1.3zM80 345.6h1.3v1.3h-1.3zM69.1 349.6h1.3v1.3h-1.3zM73 358.2h1.3v1.3h-1.3zM65.1 355.4h1.3v1.3h-1.3zM62.3 349h1.3v1.3h-1.3zM75.3 346.8h1.3v1.3h-1.3zM74.9 378.2h1.3v1.3h-1.3zM60.9 360.8h1.3v1.3h-1.3zM75.4 376.3h1.3v1.3h-1.3zM78.1 357.5h1.3v1.3h-1.3zM70.1 364.3h1.3v1.3h-1.3zM79.6 347.1h1.3v1.3h-1.3zM72.9 370h1.3v1.3h-1.3zM75.3 351.5h1.3v1.3h-1.3zM61.7 371.2h1.3v1.3h-1.3zM67.2 348h1.3v1.3h-1.3zM78.7 347.3h1.3v1.3h-1.3zM66.2 350.8h1.3v1.3h-1.3zM71.9 357.6h1.3v1.3h-1.3zM65 358.2h1.3v1.3h-1.3zM64.3 370.4h1.3v1.3h-1.3zM79.4 368.7h1.3v1.3h-1.3zM67.6 351.6h1.3v1.3h-1.3zM71 356.4h1.3v1.3h-1.3zM72.4 368.7h1.3v1.3h-1.3zM66.9 342.4h1.3v1.3h-1.3zM66.7 360.2h1.3v1.3h-1.3zM66 349.7h1.3v1.3h-1.3zM62.9 374h1.3v1.3h-1.3zM73.8 373.2h1.3v1.3h-1.3zM74.2 374.2h1.3v1.3h-1.3zM69.2 369.5h1.3v1.3h-1.3zM69.2 353.2h1.3v1.3h-1.3zM65.2 372.6h1.3v1.3h-1.3zM63.2 364.7h1.3v1.3h-1.3zM72.6 349.8h1.3v1.3h-1.3zM72.4 374.4h1.3v1.3h-1.3zM71.6 377.8h1.3v1.3h-1.3zM62.6 360.7h1.3v1.3h-1.3zM80.6 345h1.3v1.3h-1.3zM66.5 360.4h1.3v1.3h-1.3zM74.4 348h1.3v1.3h-1.3zM64.7 344.5h1.3v1.3h-1.3zM72.9 361.6h1.3v1.3h-1.3zM74.8 355.6h1.3v1.3h-1.3zM70.2 361.1h1.3v1.3h-1.3zM78 355.6h1.3v1.3h-1.3zM78.9 368.4h1.3v1.3h-1.3zM62.6 366.1h1.3v1.3h-1.3zM63.1 372.5h1.3v1.3h-1.3zM70.7 347.8h1.3v1.3h-1.3zM72.5 342.7h1.3v1.3h-1.3zM62 346.9h1.3v1.3h-1.3zM68.4 369.8h1.3v1.3h-1.3zM60.6 354.3h1.3v1.3h-1.3zM74.8 372h1.3v1.3h-1.3zM69.1 365.5h1.3v1.3h-1.3zM73 351.6h1.3v1.3h-1.3zM63.3 363.2h1.3v1.3h-1.3zM66.3 360.1h1.3v1.3h-1.3zM61.8 343.5h1.3v1.3h-1.3zM72.2 354.1h1.3v1.3h-1.3zM75.8 345.1h1.3v1.3h-1.3zM76.7 367.1h1.3v1.3h-1.3zM72.6 372.7h1.3v1.3h-1.3zM77 349.3h1.3v1.3h-1.3zM77.8 353.6h1.3v1.3h-1.3zM72.6 355.4h1.3v1.3h-1.3zM69 345.4h1.3v1.3h-1.3zM72.3 372.3h1.3v1.3h-1.3zM63.7 352.7h1.3v1.3h-1.3zM69.4 351.3h1.3v1.3h-1.3zM75.2 358.6h1.3v1.3h-1.3zM66.1 356.4h1.3v1.3h-1.3zM78.7 374.8h1.3v1.3h-1.3zM77.2 363h1.3v1.3h-1.3zM68 377.3h1.3v1.3h-1.3zM76.4 349.2h1.3v1.3h-1.3zM75.8 366.2h1.3v1.3h-1.3zM63.6 349.5h1.3v1.3h-1.3zM61.3 348.9h1.3v1.3h-1.3zM69.8 359.1h1.3v1.3h-1.3zM74.1 363.8h1.3v1.3h-1.3zM71.1 363.9h1.3v1.3h-1.3zM69.3 368h1.3v1.3h-1.3zM71.6 358.5h1.3v1.3h-1.3zM71.5 359.4h1.3v1.3h-1.3zM66.7 373.8h1.3v1.3h-1.3zM66.5 363.6h1.3v1.3h-1.3zM62.4 350.9h1.3v1.3h-1.3zM67.7 365.3h1.3v1.3h-1.3zM63.5 372.6h1.3v1.3h-1.3zM69.2 373.3h1.3v1.3h-1.3zM79.6 370.5h1.3v1.3h-1.3zM74.8 354.7h1.3v1.3h-1.3zM67.3 359.7h1.3v1.3h-1.3zM73.6 349.8h1.3v1.3h-1.3zM74.6 342.6h1.3v1.3h-1.3zM80.8 348.1h1.3v1.3h-1.3zM75 365.1h1.3v1.3h-1.3zM62.8 370.7h1.3v1.3h-1.3zM69.2 344.1h1.3v1.3h-1.3zM73.4 361.3h1.3v1.3h-1.3zM65.9 363h1.3v1.3h-1.3zM63.9 360.8h1.3v1.3h-1.3zM62.6 347.9h1.3v1.3h-1.3zM66 355.4h1.3v1.3h-1.3zM73.6 375.5h1.3v1.3h-1.3z" fill="#3f389d"/>
<path d="M77.6 352.2h1.2v1.2h-1.2zM78.9 366.3h1.2v1.2h-1.2zM74.8 363.9h1.2v1.2h-1.2zM63.8 346.5h1.2v1.2h-1.2zM74.6 349h1.2v1.2h-1.2zM78.6 360.6h1.2v1.2h-1.2zM67.8 381.8h1.2v1.2h-1.2zM67.7 372.3h1.2v1.2h-1.2zM76.2 350.4h1.2v1.2h-1.2zM65.4 365.5h1.2v1.2h-1.2zM73.7 357.4h1.2v1.2h-1.2zM60.6 367h1.2v1.2h-1.2zM73.8 351.7h1.2v1.2h-1.2zM60.1 362.4h1.2v1.2h-1.2zM70.9 382.4h1.2v1.2h-1.2zM69.8 342h1.2v1.2h-1.2zM76.5 365.7h1.2v1.2h-1.2zM65.9 370.6h1.2v1.2h-1.2zM64.4 371.7h1.2v1.2h-1.2zM78 343.9h1.2v1.2h-1.2zM71.4 352.9h1.2v1.2h-1.2zM64.8 346.2h1.2v1.2h-1.2zM69.7 365.5h1.2v1.2h-1.2zM70.6 380h1.2v1.2h-1.2zM72.4 347.6h1.2v1.2h-1.2zM75.6 344h1.2v1.2h-1.2zM77.5 353h1.2v1.2h-1.2zM64.6 358.4h1.2v1.2h-1.2zM72.5 351h1.2v1.2h-1.2zM68.3 375.9h1.2v1.2h-1.2zM64.5 354.7h1.2v1.2h-1.2zM71.3 348.1h1.2v1.2h-1.2zM65 343.3h1.2v1.2h-1.2zM66.5 378.7h1.2v1.2h-1.2zM70.8 381.8h1.2v1.2h-1.2zM61.3 349.2h1.2v1.2h-1.2zM68.9 354.4h1.2v1.2h-1.2zM72 359.2h1.2v1.2h-1.2zM71.8 359.2h1.2v1.2h-1.2zM75.1 346.8h1.2v1.2h-1.2zM69.8 360.1h1.2v1.2h-1.2zM71.7 347.3h1.2v1.2h-1.2zM61.3 344.8h1.2v1.2h-1.2zM76 367h1.2v1.2h-1.2zM61.6 361.4h1.2v1.2h-1.2zM62.7 356.1h1.2v1.2h-1.2zM75.7 350.6h1.2v1.2h-1.2zM71.6 360.7h1.2v1.2h-1.2zM68.1 377.7h1.2v1.2h-1.2zM76.3 352h1.2v1.2h-1.2zM73.6 375h1.2v1.2h-1.2zM70 353.5h1.2v1.2h-1.2zM73.8 378.5h1.2v1.2h-1.2zM63.5 368.1h1.2v1.2h-1.2zM62.8 342.4h1.2v1.2h-1.2zM65.9 356h1.2v1.2h-1.2zM78.5 368.9h1.2v1.2h-1.2zM68.5 356.7h1.2v1.2h-1.2zM70.1 342.9h1.2v1.2h-1.2zM77.7 353.5h1.2v1.2h-1.2zM72.5 358.6h1.2v1.2h-1.2zM61.1 367.3h1.2v1.2h-1.2zM71.3 343.9h1.2v1.2h-1.2zM77.3 370.2h1.2v1.2h-1.2zM71.8 350h1.2v1.2h-1.2zM78.7 365.5h1.2v1.2h-1.2zM73.4 370.9h1.2v1.2h-1.2zM74.9 342.4h1.2v1.2h-1.2zM62.4 370.4h1.2v1.2h-1.2zM69.9 368.1h1.2v1.2h-1.2zM68.8 357.4h1.2v1.2h-1.2zM64.1 361.2h1.2v1.2h-1.2zM72.3 362h1.2v1.2h-1.2zM72.9 380.5h1.2v1.2h-1.2zM68.4 362.7h1.2v1.2h-1.2zM73.1 357.8h1.2v1.2h-1.2zM65.1 357.4h1.2v1.2h-1.2zM75.5 342.9h1.2v1.2h-1.2zM77.9 360.6h1.2v1.2h-1.2zM71 343.6h1.2v1.2h-1.2zM72.6 352.1h1.2v1.2h-1.2zM68.4 376.5h1.2v1.2h-1.2zM71.1 357.8h1.2v1.2h-1.2zM72.3 363.8h1.2v1.2h-1.2zM68.7 354.8h1.2v1.2h-1.2zM66.5 374.3h1.2v1.2h-1.2z" fill="#c0bce4"/>
<path d="M61.2 341.8h1.1v1.1h-1.1zM77.1 347.3h1.1v1.1h-1.1zM66.5 353.4h1.1v1.1h-1.1zM78.3 366.3h1.1v1.1h-1.1zM79 369.4h1.1v1.1h-1.1zM75.4 366.8h1.1v1.1h-1.1zM61.6 353.7h1.1v1.1h-1.1zM64.3 364.1h1.1v1.1h-1.1zM69.2 349.4h1.1v1.1h-1.1zM70.3 358.6h1.1v1.1h-1.1zM60 357.4h1.1v1.1h-1.1zM73.7 364h1.1v1.1h-1.1zM62.3 357.6h1.1v1.1h-1.1zM68.8 343h1.1v1.1h-1.1zM70.7 357.9h1.1v1.1h-1.1zM63.9 365.2h1.1v1.1h-1.1zM63.2 345.6h1.1v1.1h-1.1zM60.3 364.6h1.1v1.1h-1.1zM79.2 350.5h1.1v1.1h-1.1zM76.4 359.3h1.1v1.1h-1.1zM63 358.2h1.1v1.1h-1.1zM71 347.3h1.1v1.1h-1.1zM78 367.8h1.1v1.1h-1.1zM71.3 371.4h1.1v1.1h-1.1zM77.6 352.1h1.1v1.1h-1.1zM63.1 342.5h1.1v1.1h-1.1zM76.7 352h1.1v1.1h-1.1zM61.6 370.4h1.1v1.1h-1.1zM73.4 351.9h1.1v1.1h-1.1zM66.9 372.8h1.1v1.1h-1.1zM68.9 380.8h1.1v1.1h-1.1zM61.7 367.3h1.1v1.1h-1.1zM69.9 359h1.1v1.1h-1.1zM75.9 343.4h1.1v1.1h-1.1zM72.5 347.5h1.1v1.1h-1.1zM62.8 362.5h1.1v1.1h-1.1zM70.6 375.1h1.1v1.1h-1.1zM65.4 360.5h1.1v1.1h-1.1zM79.1 364.4h1.1v1.1h-1.1zM70.7 354.9h1.1v1.1h-1.1zM66.5 362.5h1.1v1.1h-1.1zM69 366.1h1.1v1.1h-1.1zM61.8 354.4h1.1v1.1h-1.1zM74.9 345.8h1.1v1.1h-1.1zM62.6 370h1.1v1.1h-1.1zM63.2 367.4h1.1v1.1h-1.1zM63.8 353.7h1.1v1.1h-1.1zM73.1 360.9h1.1v1.1h-1.1zM75.4 364.4h1.1v1.1h-1.1zM72.1 375.6h1.1v1.1h-1.1zM63.6 341.8h1.1v1.1h-1.1zM69.7 372.3h1.1v1.1h-1.1zM79.3 344.7h1.1v1.1h-1.1zM74.3 375.1h1.1v1.1h-1.1zM65.6 351h1.1v1.1h-1.1zM78 348.4h1.1v1.1h-1.1zM62.6 355.4h1.1v1.1h-1.1zM71.5 380.2h1.1v1.1h-1.1zM64.7 348.9h1.1v1.1h-1.1zM63 368.8h1.1v1.1h-1.1zM64.7 364.1h1.1v1.1h-1.1zM64.9 353.7h1.1v1.1h-1.1zM70.3 373.8h1.1v1.1h-1.1zM70 351.5h1.1v1.1h-1.1zM76.1 356.5h1.1v1.1h-1.1zM74.7 357.8h1.1v1.1h-1.1zM78.1 360.1h1.1v1.1h-1.1zM70 349.2h1.1v1.1h-1.1zM70.8 360.2h1.1v1.1h-1.1zM66.7 347.6h1.1v1.1h-1.1zM72.1 343.7h1.1v1.1h-1.1zM79 345.3h1.1v1.1h-1.1zM71.9 377.2h1.1v1.1h-1.1zM77 353.4h1.1v1.1h-1.1zM63.3 364.7h1.1v1.1h-1.1zM62.1 371.4h1.1v1.1h-1.1zM62.2 370.6h1.1v1.1h-1.1zM62.6 367h1.1v1.1h-1.1zM74.5 348h1.1v1.1h-1.1zM71.1 367.6h1.1v1.1h-1.1zM71.4 372.4h1.1v1.1h-1.1zM74.9 355.6h1.1v1.1h-1.1zM66.1 355h1.1v1.1h-1.1zM67.3 354.4h1.1v1.1h-1.1zM68.4 358.6h1.1v1.1h-1.1zM67.2 378h1.1v1.1h-1.1zM65.5 376.8h1.1v1.1h-1.1zM69.8 374.6h1.1v1.1h-1.1zM72.9 355.1h1.1v1.1h-1.1zM67.6 381.3h1.1v1.1h-1.1zM75.5 343h1.1v1.1h-1.1zM78.7 364.7h1.1v1.1h-1.1zM73.7 361.2h1.1v1.1h-1.1z" fill="#fff" fill-opacity="0.9"/>
<path d="M70.5 388.6h1.3v1.3h-1.3zM67.1 384.3h1.3v1.3h-1.3zM68.2 387.5h1.3v1.3h-1.3zM68.6 389.1h1.3v1.3h-1.3zM69.1 387.4h1.3v1.3h-1.3zM72.3 387.6h1.3v1.3h-1.3zM68.7 394.9h1.3v1.3h-1.3zM68 392.5h1.3v1.3h-1.3zM69.2 395.1h1.3v1.3h-1.3zM69.2 399.9h1.3v1.3h-1.3zM69.8 394.3h1.3v1.3h-1.3zM69.8 395.1h1.3v1.3h-1.3zM69.4 391.2h1.3v1.3h-1.3zM69.3 391.8h1.3v1.3h-1.3z" fill="#4a43a3"/>
<path d="M9.1 324.8h1.3v1.3h-1.3zM9.7 325.2h1.3v1.3h-1.3zM10.6 323.8h1.3v1.3h-1.3zM11.3 324.7h1.3v1.3h-1.3zM12.5 324h1.3v1.3h-1.3zM13.2 323h1.3v1.3h-1.3zM14.3 322.9h1.3v1.3h-1.3zM14.9 322.3h1.3v1.3h-1.3zM17.1 322.3h1.3v1.3h-1.3zM17.9 321.4h1.3v1.3h-1.3zM18 320.8h1.3v1.3h-1.3zM18.9 321.1h1.3v1.3h-1.3zM20.1 320h1.3v1.3h-1.3zM20.7 320.3h1.3v1.3h-1.3zM21.7 319.9h1.3v1.3h-1.3zM22.6 320.4h1.3v1.3h-1.3zM25.1 319.9h1.3v1.3h-1.3zM26 319.2h1.3v1.3h-1.3zM26.7 319.3h1.3v1.3h-1.3zM26.7 319.7h1.3v1.3h-1.3zM29.4 318.5h1.3v1.3h-1.3zM29.9 318.9h1.3v1.3h-1.3zM30.3 319.6h1.3v1.3h-1.3zM31.2 318.6h1.3v1.3h-1.3zM33.1 319.5h1.3v1.3h-1.3zM33.4 318.3h1.3v1.3h-1.3zM34.6 319.4h1.3v1.3h-1.3zM35.1 318.4h1.3v1.3h-1.3zM35.7 318.4h1.3v1.3h-1.3zM37.2 318.1h1.3v1.3h-1.3zM38 318.4h1.3v1.3h-1.3zM38.5 318.6h1.3v1.3h-1.3zM39.1 319.2h1.3v1.3h-1.3zM40.2 318.6h1.3v1.3h-1.3zM40.3 318.8h1.3v1.3h-1.3zM41.3 319.1h1.3v1.3h-1.3zM41.6 319h1.3v1.3h-1.3zM42.3 318.6h1.3v1.3h-1.3z" fill="#4f48a8"/>
<path d="M110 320.6h1.3v1.3h-1.3zM113 343.9h1.3v1.3h-1.3zM110.2 348.1h1.3v1.3h-1.3zM131.1 330.7h1.3v1.3h-1.3zM110.4 349.6h1.3v1.3h-1.3zM123.4 335.7h1.3v1.3h-1.3zM112.3 335.7h1.3v1.3h-1.3zM125 335.6h1.3v1.3h-1.3zM125.4 322.4h1.3v1.3h-1.3zM112.2 354h1.3v1.3h-1.3zM128.7 326.3h1.3v1.3h-1.3zM117.2 323.5h1.3v1.3h-1.3zM106.8 324h1.3v1.3h-1.3z" fill="#6f68bd"/>
<path d="M153.1 294h1.3v1.3h-1.3zM132.4 296.6h1.3v1.3h-1.3zM137.3 297.4h1.3v1.3h-1.3zM154.9 298.6h1.3v1.3h-1.3zM152.3 306.3h1.3v1.3h-1.3zM144.3 320.6h1.3v1.3h-1.3z" fill="#6f68bd"/>
<path d="M116 293.6h1.3v1.3h-1.3zM122.9 269h1.3v1.3h-1.3zM110.7 283.4h1.3v1.3h-1.3zM130.3 263.2h1.3v1.3h-1.3zM125 287.3h1.3v1.3h-1.3zM105.7 277.3h1.3v1.3h-1.3zM126.9 279.3h1.3v1.3h-1.3z" fill="#6f68bd"/>
<path d="M101.7 405.6h1.3v1.3h-1.3zM87.5 392.5h1.3v1.3h-1.3zM90.4 399.5h1.3v1.3h-1.3zM102.1 402h1.3v1.3h-1.3zM92.8 394.7h1.3v1.3h-1.3zM99 400.8h1.3v1.3h-1.3zM92 398h1.3v1.3h-1.3zM90.6 401h1.3v1.3h-1.3zM89 395.9h1.3v1.3h-1.3zM93.7 398.9h1.3v1.3h-1.3zM93.2 395.9h1.3v1.3h-1.3zM103.6 404.1h1.3v1.3h-1.3zM101.9 404.4h1.3v1.3h-1.3zM98.8 406.6h1.3v1.3h-1.3zM100.6 400.5h1.3v1.3h-1.3z" fill="#6f68bd"/>
<path d="M93 281.6h1.3v1.3h-1.3zM90.8 269.2h1.3v1.3h-1.3zM90.4 268.5h1.3v1.3h-1.3zM72.7 269.1h1.3v1.3h-1.3z" fill="#6f68bd"/>
<path d="M95.7 308.9h1.3v1.3h-1.3zM105.4 346.7h1.3v1.3h-1.3zM103.8 341.1h1.3v1.3h-1.3zM102.2 338.6h1.3v1.3h-1.3zM91 346.9h1.3v1.3h-1.3zM100.2 347.2h1.3v1.3h-1.3zM92.7 346.9h1.3v1.3h-1.3zM92 350.5h1.3v1.3h-1.3zM91.5 309h1.3v1.3h-1.3zM95.6 357.9h1.3v1.3h-1.3zM101.8 344.8h1.3v1.3h-1.3zM90.7 335.3h1.3v1.3h-1.3zM88.5 345.8h1.3v1.3h-1.3zM95.6 348.8h1.3v1.3h-1.3zM94.9 307.4h1.3v1.3h-1.3zM93.5 343.2h1.3v1.3h-1.3zM97.6 352.5h1.3v1.3h-1.3zM103.3 348.7h1.3v1.3h-1.3zM104.2 355.3h1.3v1.3h-1.3zM88.1 352.8h1.3v1.3h-1.3zM100.2 341.8h1.3v1.3h-1.3zM87.4 334.5h1.3v1.3h-1.3zM93.6 371.7h1.3v1.3h-1.3zM99.6 337.4h1.3v1.3h-1.3zM94.7 335.4h1.3v1.3h-1.3zM95.6 373.5h1.3v1.3h-1.3zM101.5 356.6h1.3v1.3h-1.3zM103.2 342.7h1.3v1.3h-1.3zM88.9 340.3h1.3v1.3h-1.3zM97.9 362.8h1.3v1.3h-1.3zM92.6 361.4h1.3v1.3h-1.3zM93.5 370.5h1.3v1.3h-1.3zM93.2 332.7h1.3v1.3h-1.3zM92.9 308.2h1.3v1.3h-1.3zM97.9 351.2h1.3v1.3h-1.3zM97.8 355.9h1.3v1.3h-1.3zM89.4 354.5h1.3v1.3h-1.3zM92.2 346h1.3v1.3h-1.3zM98.4 363.2h1.3v1.3h-1.3z" fill="#6f68bd"/>
</g>
<text x="96" y="241.1" font-size="11.7" font-style="italic" text-anchor="middle" fill="#111" stroke="#111" stroke-width="0.15">CD34</text>
<rect x="168" y="245.3" width="5.8" height="175.6" fill="url(#gP)" stroke="#111" stroke-width="1.3"/>
<g stroke="#111" stroke-width="1">
<path d="M174 253.4h4M174 274.3h4M174 295.2h4M174 316.1h4M174 337h4M174 357.9h4M174 378.8h4M174 399.7h4M174 420.6h4"/>
</g>
<g font-size="9.7" fill="#000" stroke="#000" stroke-width="0.25">
<text x="182.2" y="256.8">2.00</text>
<text x="182.2" y="277.7">1.75</text>
<text x="182.2" y="298.6">1.50</text>
<text x="182.2" y="319.5">1.25</text>
<text x="182.2" y="340.4">1.00</text>
<text x="182.2" y="361.3">0.75</text>
<text x="182.2" y="382.2">0.50</text>
<text x="182.2" y="403.1">0.25</text>
<text x="182.2" y="424">0.00</text>
</g>
<!-- Panel D -->
<g id="pD">
<rect x="263.2" y="276.6" width="107.8" height="108.9" fill="none" stroke="#111" stroke-width="1.4"/>
<rect x="401" y="276.6" width="108.6" height="108.2" fill="none" stroke="#111" stroke-width="1.4"/>
<path d="M263.2 383.5h-4.3M263.2 379h-2.3M263.2 376.4h-2.3M263.2 374.6h-2.3M263.2 373.2h-2.3M263.2 372h-2.3M263.2 371h-2.3M263.2 370.1h-2.3M263.2 369.4h-2.3M263.2 368.7h-4.3M263.2 360.3h-2.3M263.2 355.3h-2.3M263.2 351.8h-2.3M263.2 349.1h-2.3M263.2 346.9h-2.3M263.2 345h-2.3M263.2 343.4h-2.3M263.2 342h-2.3M263.2 340.7h-4.3M263.2 332.3h-2.3M263.2 327.3h-2.3M263.2 323.8h-2.3M263.2 321.1h-2.3M263.2 318.9h-2.3M263.2 317h-2.3M263.2 315.4h-2.3M263.2 314h-2.3M263.2 312.7h-4.3M263.2 304.7h-2.3M263.2 300h-2.3M263.2 296.6h-2.3M263.2 294h-2.3M263.2 291.9h-2.3M263.2 290.1h-2.3M263.2 288.6h-2.3M263.2 287.2h-2.3M263.2 286h-4.3M263.5 385.5v4M268.5 385.5v2.6M271.5 385.5v2.6M273.6 385.5v2.6M275.2 385.5v2.6M276.5 385.5v2.6M277.6 385.5v2.6M278.6 385.5v2.6M279.4 385.5v2.6M280.2 385.5v4M285.9 385.5v2.6M289.2 385.5v2.6M291.5 385.5v2.6M293.3 385.5v2.6M294.8 385.5v2.6M296.1 385.5v2.6M297.2 385.5v2.6M298.1 385.5v2.6M299 385.5v4M305.6 385.5v2.6M309.5 385.5v2.6M312.2 385.5v2.6M314.4 385.5v2.6M316.1 385.5v2.6M317.6 385.5v2.6M318.9 385.5v2.6M320 385.5v2.6M321 385.5v4M327.6 385.5v2.6M331.5 385.5v2.6M334.2 385.5v2.6M336.4 385.5v2.6M338.1 385.5v2.6M339.6 385.5v2.6M340.9 385.5v2.6M342 385.5v2.6M343 385.5v4M349.6 385.5v2.6M353.5 385.5v2.6M356.2 385.5v2.6M358.4 385.5v2.6M360.1 385.5v2.6M361.6 385.5v2.6M362.9 385.5v2.6M364 385.5v2.6M365 385.5v4M401 383.5h-4.3M401 378.2h-2.3M401 375.2h-2.3M401 373h-2.3M401 371.3h-2.3M401 369.9h-2.3M401 368.7h-2.3M401 367.7h-2.3M401 366.8h-2.3M401 366h-4.3M401 358.4h-2.3M401 353.9h-2.3M401 350.8h-2.3M401 348.3h-2.3M401 346.3h-2.3M401 344.6h-2.3M401 343.2h-2.3M401 341.9h-2.3M401 340.7h-4.3M401 333.5h-2.3M401 329.2h-2.3M401 326.3h-2.3M401 323.9h-2.3M401 322h-2.3M401 320.4h-2.3M401 319h-2.3M401 317.8h-2.3M401 316.7h-4.3M401 309.5h-2.3M401 305.2h-2.3M401 302.3h-2.3M401 299.9h-2.3M401 298h-2.3M401 296.4h-2.3M401 295h-2.3M401 293.8h-2.3M401 292.7h-4.3M401.5 384.8v4M405.6 384.8v2.6M407.9 384.8v2.6M409.6 384.8v2.6M410.9 384.8v2.6M412 384.8v2.6M412.9 384.8v2.6M413.7 384.8v2.6M414.4 384.8v2.6M415 384.8v4M421.5 384.8v2.6M425.3 384.8v2.6M427.9 384.8v2.6M430 384.8v2.6M431.7 384.8v2.6M433.2 384.8v2.6M434.4 384.8v2.6M435.5 384.8v2.6M436.5 384.8v4M442.8 384.8v2.6M446.5 384.8v2.6M449.1 384.8v2.6M451.2 384.8v2.6M452.8 384.8v2.6M454.2 384.8v2.6M455.5 384.8v2.6M456.5 384.8v2.6M457.5 384.8v4M464.3 384.8v2.6M468.2 384.8v2.6M471 384.8v2.6M473.2 384.8v2.6M475 384.8v2.6M476.5 384.8v2.6M477.8 384.8v2.6M479 384.8v2.6M480 384.8v4M486.6 384.8v2.6M490.5 384.8v2.6M493.2 384.8v2.6M495.4 384.8v2.6M497.1 384.8v2.6M498.6 384.8v2.6M499.9 384.8v2.6M501 384.8v2.6M502 384.8v4" stroke="#111" stroke-width="0.9" fill="none"/>
<rect x="286.8" y="385.5" width="2.6" height="4" fill="#111"/>
<rect x="259.2" y="357.8" width="4" height="3" fill="#111"/>
<rect x="424.6" y="384.8" width="2.6" height="3.6" fill="#111"/>
<rect x="397" y="337" width="4" height="3.5" fill="#111"/>
<ellipse cx="332.8" cy="328.8" rx="11.2" ry="13.2" fill="#fbe0e0" stroke="#f2b0b0" stroke-width="0.6"/>
<ellipse cx="332" cy="327.5" rx="9" ry="10.8" fill="#f9d2d2" stroke="#f0a4a4" stroke-width="0.5"/>
<ellipse cx="331" cy="326" rx="6.8" ry="8.2" fill="#f7c4c4" stroke="#ee9999" stroke-width="0.5"/>
<ellipse cx="330" cy="324.5" rx="4.6" ry="5.6" fill="#f5b8b8" stroke="#ea8e8e" stroke-width="0.5"/>
<ellipse cx="333.5" cy="331.5" rx="2.2" ry="2.8" fill="#fff" fill-opacity="0.7"/>
<ellipse cx="323.2" cy="319.4" rx="8.3" ry="9.9" fill="none" stroke="#444" stroke-width="0.7"/>
<ellipse cx="323.6" cy="318.8" rx="6.3" ry="7.5" fill="none" stroke="#333" stroke-width="0.8"/>
<ellipse cx="324.1" cy="318.3" rx="4.1" ry="4.8" fill="#f3a7a7" stroke="#333" stroke-width="0.9"/>
<ellipse cx="324.4" cy="317.9" rx="2.3" ry="2.8" fill="#ee9090" stroke="#555" stroke-width="0.6"/>
<ellipse cx="324.3" cy="359.5" rx="14.6" ry="7.5" fill="none" stroke="#3a3a3a" stroke-width="0.7"/>
<ellipse cx="324.6" cy="359.6" rx="13" ry="6.6" fill="none" stroke="#3a3a3a" stroke-width="0.75"/>
<ellipse cx="325" cy="359.7" rx="11.2" ry="5.7" fill="none" stroke="#3a3a3a" stroke-width="0.8"/>
<ellipse cx="325.4" cy="359.8" rx="9" ry="4.7" fill="none" stroke="#3a3a3a" stroke-width="0.85"/>
<ellipse cx="325.8" cy="359.9" rx="6.6" ry="3.5" fill="none" stroke="#3a3a3a" stroke-width="0.9"/>
<ellipse cx="326.1" cy="359.9" rx="4.2" ry="2.3" fill="none" stroke="#3a3a3a" stroke-width="0.9"/>
<ellipse cx="326.3" cy="360" rx="2" ry="1.2" fill="#555"/>
<path d="M321.9 347.1h0.6v0.6h-0.6zM317.3 348.8h0.6v0.6h-0.6zM329 341.1h0.6v0.6h-0.6zM336.8 354.3h0.6v0.6h-0.6zM328.2 349.3h0.6v0.6h-0.6zM325.9 356.1h0.6v0.6h-0.6zM322.4 343.8h0.6v0.6h-0.6zM333 335h0.6v0.6h-0.6zM320.8 359h0.6v0.6h-0.6zM328.7 347.5h0.6v0.6h-0.6zM321.6 351.8h0.6v0.6h-0.6zM342.6 326.9h0.6v0.6h-0.6zM327.6 336.5h0.6v0.6h-0.6zM339.3 344.3h0.6v0.6h-0.6zM313.4 333.5h0.6v0.6h-0.6zM320.2 334.5h0.6v0.6h-0.6zM327 348.8h0.6v0.6h-0.6zM326.3 348.2h0.6v0.6h-0.6zM327.6 351.8h0.6v0.6h-0.6zM339.3 363.5h0.6v0.6h-0.6zM334.9 326.7h0.6v0.6h-0.6zM299 357.6h0.6v0.6h-0.6zM326.3 333.5h0.6v0.6h-0.6zM318 350.6h0.6v0.6h-0.6zM330.2 343.3h0.6v0.6h-0.6zM328.7 345.6h0.6v0.6h-0.6zM341.6 349.9h0.6v0.6h-0.6zM318.8 336.8h0.6v0.6h-0.6zM333.1 345.3h0.6v0.6h-0.6zM324.8 355.5h0.6v0.6h-0.6zM330.8 339h0.6v0.6h-0.6zM326.6 337.8h0.6v0.6h-0.6zM312.7 354.9h0.6v0.6h-0.6zM316.6 347.9h0.6v0.6h-0.6zM334.5 334.6h0.6v0.6h-0.6zM316 329.7h0.6v0.6h-0.6zM320.6 349.5h0.6v0.6h-0.6zM341.6 328.6h0.6v0.6h-0.6zM331.5 345.2h0.6v0.6h-0.6zM321.2 359.6h0.6v0.6h-0.6z" fill="#999"/>
<rect x="313" y="293.8" width="37" height="49.4" fill="none" stroke="#111" stroke-width="1.6"/>
<rect x="433.8" y="292.4" width="65.1" height="44.9" fill="none" stroke="#c8102e" stroke-width="1.5"/>
<path d="M349.5 294.3H417" stroke="#000" stroke-width="1.5"/>
<path d="M416 290.9L422.6 294.3L416 297.7Z" fill="#000"/>
<path d="M427.5 320.2h1.1v1.1h-1.1zM421.9 319.5h1.1v1.1h-1.1zM424.6 311.6h1.1v1.1h-1.1zM422.2 322.3h1.1v1.1h-1.1zM422.6 319.6h1.1v1.1h-1.1zM425.4 323.3h1.1v1.1h-1.1zM423 328.2h1.1v1.1h-1.1zM424.3 328.9h1.1v1.1h-1.1zM424 313.2h1.1v1.1h-1.1zM424.4 317h1.1v1.1h-1.1zM424.4 318.3h1.1v1.1h-1.1zM423.6 324h1.1v1.1h-1.1zM424.6 324.4h1.1v1.1h-1.1zM423 322.6h1.1v1.1h-1.1zM424.1 324.6h1.1v1.1h-1.1zM425 315.4h1.1v1.1h-1.1zM425.6 326.5h1.1v1.1h-1.1zM425.1 316.6h1.1v1.1h-1.1zM424.4 323.2h1.1v1.1h-1.1zM425.5 318.4h1.1v1.1h-1.1zM424.4 318.3h1.1v1.1h-1.1zM424.6 321.1h1.1v1.1h-1.1zM424.7 323.6h1.1v1.1h-1.1zM424.5 321.8h1.1v1.1h-1.1zM423.5 323.5h1.1v1.1h-1.1zM424.6 323h1.1v1.1h-1.1zM424.7 324.6h1.1v1.1h-1.1zM424.5 326.5h1.1v1.1h-1.1zM424.5 321.7h1.1v1.1h-1.1zM426.3 317.1h1.1v1.1h-1.1zM425.2 328.2h1.1v1.1h-1.1zM424.4 310.4h1.1v1.1h-1.1zM423.3 321.8h1.1v1.1h-1.1zM425.1 312.1h1.1v1.1h-1.1zM422.7 316.7h1.1v1.1h-1.1zM424.2 319.4h1.1v1.1h-1.1zM427.4 317.5h1.1v1.1h-1.1zM423.3 322.9h1.1v1.1h-1.1zM423.9 320.2h1.1v1.1h-1.1zM424.7 317.4h1.1v1.1h-1.1zM425.3 327.2h1.1v1.1h-1.1zM424.6 315.8h1.1v1.1h-1.1zM423.5 315.9h1.1v1.1h-1.1zM425.6 329.1h1.1v1.1h-1.1zM424.9 331.2h1.1v1.1h-1.1zM425.4 322.9h1.1v1.1h-1.1zM424.1 318.8h1.1v1.1h-1.1zM425.5 321.4h1.1v1.1h-1.1zM425.3 308.6h1.1v1.1h-1.1zM424.3 314.7h1.1v1.1h-1.1zM423 317.3h1.1v1.1h-1.1zM424.6 323.4h1.1v1.1h-1.1zM424.9 325.2h1.1v1.1h-1.1zM424.9 311.9h1.1v1.1h-1.1zM425.2 314.8h1.1v1.1h-1.1zM423.8 317.7h1.1v1.1h-1.1zM424.5 322.2h1.1v1.1h-1.1zM422.4 315.1h1.1v1.1h-1.1zM425.2 325.6h1.1v1.1h-1.1zM422.8 322.4h1.1v1.1h-1.1zM424.3 325.1h1.1v1.1h-1.1zM425.8 317.2h1.1v1.1h-1.1zM423.1 322.6h1.1v1.1h-1.1zM425.3 320.8h1.1v1.1h-1.1zM425 317.4h1.1v1.1h-1.1zM425.8 318.6h1.1v1.1h-1.1zM426.1 314.2h1.1v1.1h-1.1zM426.1 320.8h1.1v1.1h-1.1zM422.7 325.3h1.1v1.1h-1.1zM424.4 322.5h1.1v1.1h-1.1zM425.1 325.6h1.1v1.1h-1.1zM424.7 315.7h1.1v1.1h-1.1zM423.2 324.9h1.1v1.1h-1.1zM423.4 317.9h1.1v1.1h-1.1zM424.8 318.4h1.1v1.1h-1.1zM424.7 313.8h1.1v1.1h-1.1zM426.5 318.6h1.1v1.1h-1.1zM425.3 321.4h1.1v1.1h-1.1zM427 328.4h1.1v1.1h-1.1zM426.2 317.4h1.1v1.1h-1.1zM424.1 326.7h1.1v1.1h-1.1zM424.9 318.5h1.1v1.1h-1.1zM425.5 317.4h1.1v1.1h-1.1zM424.1 314.2h1.1v1.1h-1.1zM424.8 322.1h1.1v1.1h-1.1zM426.6 318.8h1.1v1.1h-1.1zM425.6 330.4h1.1v1.1h-1.1zM422.8 324.4h1.1v1.1h-1.1zM422.9 317.7h1.1v1.1h-1.1zM422.9 321.6h1.1v1.1h-1.1zM425.2 311.9h1.1v1.1h-1.1zM423.2 308.1h1.1v1.1h-1.1zM424.2 311.7h1.1v1.1h-1.1zM424 318h1.1v1.1h-1.1zM423.9 319.3h1.1v1.1h-1.1zM424.3 326.7h1.1v1.1h-1.1zM426.5 314.2h1.1v1.1h-1.1zM424.1 325.1h1.1v1.1h-1.1zM425.7 318.4h1.1v1.1h-1.1zM424.6 318.4h1.1v1.1h-1.1zM422.5 327.4h1.1v1.1h-1.1zM424.7 311.3h1.1v1.1h-1.1zM424.7 324h1.1v1.1h-1.1zM424.1 311.7h1.1v1.1h-1.1zM424.7 311.7h1.1v1.1h-1.1zM424.6 322.7h1.1v1.1h-1.1zM425 313h1.1v1.1h-1.1zM424.5 312.7h1.1v1.1h-1.1zM425.2 322.2h1.1v1.1h-1.1zM426.7 325.9h1.1v1.1h-1.1zM426.9 314.7h1.1v1.1h-1.1zM426.3 317.1h1.1v1.1h-1.1zM425.1 317.1h1.1v1.1h-1.1zM426.2 314.3h1.1v1.1h-1.1zM430.5 312.1h1.1v1.1h-1.1zM430 314.5h1.1v1.1h-1.1zM425.8 321.4h1.1v1.1h-1.1zM427.3 314h1.1v1.1h-1.1zM426.1 325h1.1v1.1h-1.1zM432.3 323.3h1.1v1.1h-1.1zM428.4 320.6h1.1v1.1h-1.1zM431.1 319.8h1.1v1.1h-1.1zM428 311.1h1.1v1.1h-1.1zM429.9 316h1.1v1.1h-1.1zM429.8 318.1h1.1v1.1h-1.1zM425.4 328.2h1.1v1.1h-1.1zM427.1 318.1h1.1v1.1h-1.1zM428.3 313.8h1.1v1.1h-1.1zM427 322h1.1v1.1h-1.1zM428.9 326.2h1.1v1.1h-1.1zM430.3 317h1.1v1.1h-1.1zM432.3 315.7h1.1v1.1h-1.1zM430.5 311.9h1.1v1.1h-1.1zM428.6 315.5h1.1v1.1h-1.1zM426.8 313.1h1.1v1.1h-1.1z" fill="#7d7d7d"/>
<path d="M439.7 306.1h1.6v1.6h-1.6zM459.5 305.4h1.6v1.6h-1.6zM480.7 303.8h1.6v1.6h-1.6zM465 308h1.6v1.6h-1.6zM451.9 309.6h1.6v1.6h-1.6zM455.4 310.3h1.6v1.6h-1.6zM448.4 311.4h1.6v1.6h-1.6zM457.7 311.9h1.6v1.6h-1.6zM460 313h1.6v1.6h-1.6zM475 312.6h1.6v1.6h-1.6zM464.6 314.2h1.6v1.6h-1.6zM436.9 314.2h1.6v1.6h-1.6zM441.5 314.2h1.6v1.6h-1.6zM443.8 316.5h1.6v1.6h-1.6zM450.7 315.4h1.6v1.6h-1.6zM454.7 314.9h1.6v1.6h-1.6zM456.5 317.2h1.6v1.6h-1.6zM468 316.5h1.6v1.6h-1.6zM435.7 318.8h1.6v1.6h-1.6zM438.5 320h1.6v1.6h-1.6zM449.6 318.8h1.6v1.6h-1.6zM454.7 320h1.6v1.6h-1.6zM465.3 318.8h1.6v1.6h-1.6zM456 322.3h1.6v1.6h-1.6zM455.4 325.7h1.6v1.6h-1.6zM453.7 324.6h1.6v1.6h-1.6zM439.2 330.4h1.6v1.6h-1.6zM434.6 319.5h1.6v1.6h-1.6zM438 321.1h1.6v1.6h-1.6zM463.4 316.5h1.6v1.6h-1.6zM445 317.7h1.6v1.6h-1.6zM446.7 312.7h1.6v1.6h-1.6zM461.2 310.2h1.6v1.6h-1.6zM452.2 313.7h1.6v1.6h-1.6z" fill="#d0182c"/>
<text x="306.9" y="267.6" font-size="12.4" fill="#111">Lin<tspan font-size="11" dy="-3.3" dx="-0.6">&#8722;</tspan></text>
<text x="361" y="257.7" font-size="12.4" fill="#111">Post-sort</text>
<text transform="translate(317.3 404.1) scale(0.7 1)" text-anchor="middle" font-size="12.2" font-weight="bold" fill="#111">c-Kit</text>
<text transform="translate(455.6 403.5) scale(0.72 1)" text-anchor="middle" font-size="12.2" font-weight="bold" fill="#111">Fc&#949;RI</text>
<text transform="translate(251.6 330.7) rotate(-90) scale(0.62 1)" text-anchor="middle" font-size="12.8" font-weight="bold" fill="#111">CD34</text>
<text transform="translate(389.6 329.8) rotate(-90) scale(0.7 1)" text-anchor="middle" font-size="12.2" font-weight="bold" fill="#111">c-Kit</text>
</g>
<!-- letters -->
<g font-size="15.6" font-weight="bold" fill="#000" stroke="#000" stroke-width="0.3">
<text x="9.7" y="20.2">A</text>
<text x="217.2" y="20.9">B</text>
<text x="9.6" y="240.8">C</text>
<text x="240.7" y="240.8">D</text>
</g>
<!-- frame -->
<path d="M0 0H520V435H0Z M1.6 1.2V432.8H518.1V1.2Z" fill="#000" fill-rule="evenodd"/>
</svg>
</body></html>
